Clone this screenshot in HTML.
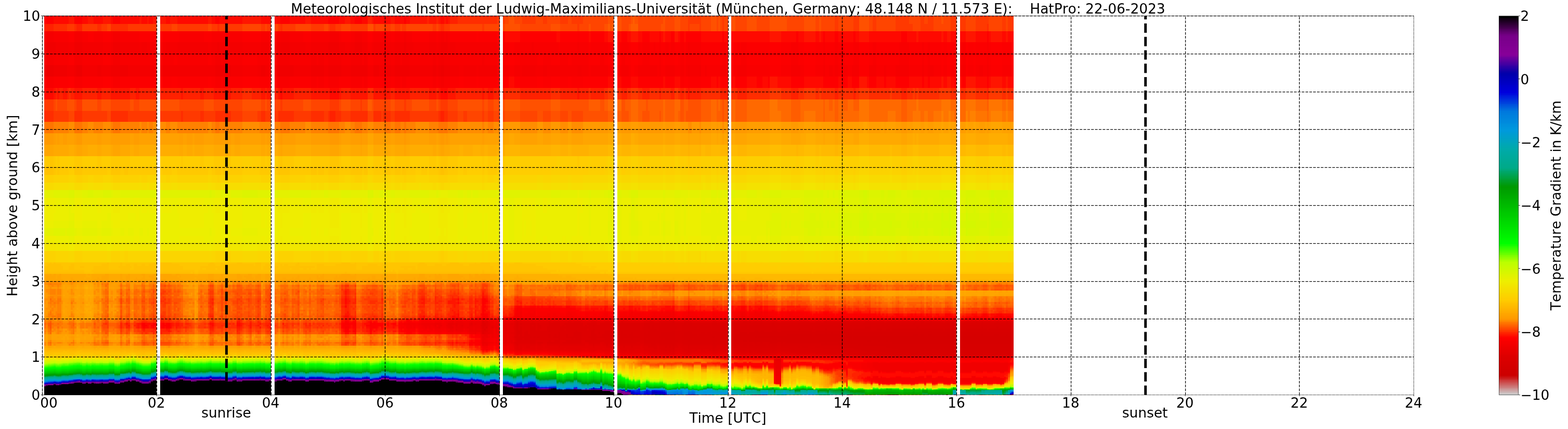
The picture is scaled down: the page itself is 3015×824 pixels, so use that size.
<!DOCTYPE html>
<html lang="de"><head><meta charset="utf-8"><title>HatPro 22-06-2023</title>
<style>
html,body{margin:0;padding:0;background:#fff}
body{width:3015px;height:824px;overflow:hidden}
svg{display:block}
text{font-family:"DejaVu Sans","Liberation Sans",sans-serif;font-size:26.39px;fill:#000;font-kerning:none;font-variant-ligatures:none}
</style></head><body>
<svg width="3015" height="824" viewBox="0 0 3015 824">
<rect width="3015" height="824" fill="#fff"/>
<g shape-rendering="crispEdges">
<g transform="translate(84.8 758.5) scale(3.66250 -0.91000)" stroke-width="2" fill="none">
<path stroke="#d70000" d="M458 91h1m33 0h1m7 0h1M460 93h2m1 0h3m8 0h1m17 0h1m6 0h2m4 0h1M448 95h14m1 0h3m2 0h2m1 0h1m1 0h3m2 0h1m5 0h24"/>
<path stroke="#d80000" d="M450 87h1m4 0h4m1 0h2m1 0h3m8 0h1m12 0h3m1 0h2m6 0h2m1 0h1m2 0h2M442 89h1m2 0h65M432 91h2m4 0h1m1 0h18m1 0h33m1 0h7m1 0h9M431 93h3m4 0h22m2 0h1m3 0h8m1 0h17m1 0h6m2 0h4m1 0h4M427 95h1m1 0h19m14 0h1m3 0h2m2 0h1m1 0h1m3 0h2m1 0h5m24 0h2"/>
<path stroke="#da0000" d="M465 85h1m26 0h1M431 87h3m4 0h3m1 0h8m1 0h4m4 0h1m2 0h1m3 0h8m1 0h12m3 0h1m2 0h6m2 0h1m1 0h2m2 0h3M427 89h15m1 0h2M420 91h1m1 0h10m2 0h4m1 0h1M420 93h11m3 0h4M413 95h1m3 0h10m1 0h1"/>
<path stroke="#db0000" d="M442 85h1m2 0h20m1 0h13m4 0h9m1 0h16M420 87h1m4 0h6m3 0h4m3 0h1M417 89h10M409 91h11m1 0h1M407 93h1m1 0h11M392 95h2m1 0h7m3 0h8m1 0h3"/>
<path stroke="#dc0000" d="M446 83h64M427 85h2m1 0h4m2 0h6m1 0h2m34 0h4m26 0h1M410 87h6m1 0h3m1 0h4M396 89h4m5 0h12M370 91h2m2 0h4m4 0h1m9 0h10m1 0h6M367 93h1m2 0h1m2 0h1m1 0h2m5 0h1m8 0h16m1 0h1M360 95h2m2 0h5m1 0h15m2 0h5m2 0h1m7 0h3"/>
<path stroke="#de0000" d="M436 83h10M420 85h7m2 0h1m4 0h2M395 87h7m3 0h5m6 0h1M366 89h3m1 0h2m1 0h12m4 0h1m1 0h5m4 0h5M330 91h1m7 0h1m20 0h3m1 0h7m2 0h2m4 0h4m1 0h3m1 0h5m10 0h1M326 93h1m1 0h1m1 0h1m7 0h1m12 0h1m8 0h2m1 0h4m1 0h2m1 0h2m1 0h1m2 0h5m1 0h8M324 95h7m5 0h4m2 0h1m2 0h1m3 0h1m1 0h3m1 0h1m1 0h3m2 0h2m5 0h1m15 0h2"/>
<path stroke="#e10000" d="M440 81h70M425 83h11M408 85h12M330 87h1m29 0h1m3 0h1m1 0h3m1 0h15m2 0h1m1 0h6m7 0h3M325 89h4m1 0h1m6 0h3m11 0h2m5 0h8m3 0h1m2 0h1m12 0h4m1 0h1M319 91h3m1 0h7m5 0h3m1 0h3m1 0h1m1 0h3m3 0h3m1 0h4m3 0h1m23 0h1M317 93h1m1 0h3m1 0h3m1 0h1m1 0h1m1 0h1m3 0h3m1 0h4m2 0h2m1 0h3m1 0h8m2 0h1M303 95h3m1 0h3m5 0h9m7 0h5m4 0h2m1 0h2m1 0h3m1 0h1m3 0h1m1 0h1"/>
<path stroke="#e40000" d="M430 81h10M414 83h11M370 85h1m5 0h1m5 0h1m12 0h7m3 0h3M324 87h6m6 0h4m11 0h2m5 0h2m1 0h3m1 0h1m3 0h1m15 0h2m1 0h1M317 89h8m4 0h1m1 0h1m3 0h2m3 0h11m2 0h5M303 91h1m1 0h1m2 0h1m1 0h1m4 0h4m3 0h1m8 0h4m7 0h1m1 0h1m3 0h3m3 0h1M303 93h3m1 0h3m1 0h1m3 0h2m1 0h1m3 0h1m9 0h3m8 0h2m2 0h1M270 95h1m8 0h2m6 0h3m4 0h4m1 0h4m3 0h1m3 0h5"/>
<path stroke="#e60000" d="M434 79h76M420 81h10M403 83h11M330 85h1m7 0h1m21 0h1m5 0h3m2 0h5m1 0h5m1 0h2m2 0h1m2 0h5m7 0h3M315 87h1m1 0h7m7 0h2m1 0h2m4 0h11m2 0h5M303 89h2m2 0h6m1 0h3m15 0h3M301 91h2m1 0h1m1 0h2m1 0h1m1 0h4M288 93h1m8 0h1m1 0h4m3 0h1m3 0h1m1 0h3M248 95h3m4 0h3m1 0h3m2 0h6m1 0h8m2 0h3m1 0h2m3 0h4m4 0h1"/>
<path stroke="#e90000" d="M386 71h1M384 73h3M384 75h3M384 77h3M383 79h4m45 0h2M411 81h9M393 83h10M321 85h1m1 0h7m6 0h2m1 0h1m11 0h2m5 0h2m1 0h5m3 0h1m16 0h1m1 0h2M303 87h10m1 0h1m1 0h1m16 0h1M301 89h2m2 0h2m6 0h1M287 91h2m5 0h4m1 0h2M270 93h1m4 0h1m1 0h5m4 0h2m1 0h1m3 0h4m1 0h1M247 95h1m3 0h4m3 0h1m3 0h2m20 0h1"/>
<path stroke="#ec0000" d="M386 55h1M384 57h3M384 59h3M384 61h3M384 63h3M384 65h3M384 67h3M384 69h3M384 71h2M383 77h1m52 0h70M429 79h3M401 81h10M366 83h27M315 85h1m1 0h4m1 0h1m8 0h1m3 0h1m4 0h10m3 0h5m27 0h1M301 87h2m10 0h1M294 89h4m1 0h2M270 91h1m7 0h4m4 0h1m2 0h5m4 0h1M248 93h1m6 0h3m1 0h1m4 0h6m2 0h3m1 0h1m5 0h4m4 0h3"/>
<path stroke="#e00" d="M386 39h1M384 41h3M384 43h3M384 45h3M384 47h3M384 49h3M384 51h3M384 53h3M384 55h2M383 63h1M383 65h1M383 67h1M383 69h1M383 73h1M383 75h1M434 77h2m70 0h1M423 79h6M391 81h10M331 83h35M303 85h3m1 0h4m1 0h1m1 0h1m1 0h1m15 0h3m15 0h1M294 87h4m1 0h2M287 89h4m1 0h1m5 0h1M248 91h1m16 0h5m2 0h1m1 0h4m4 0h4M247 93h1m1 0h2m1 0h3m3 0h1m1 0h4m7 0h1M241 95h2m1 0h3"/>
<path stroke="#f10000" d="M386 23h1M384 25h3M384 27h3M384 29h3M384 31h3M384 33h3M384 35h3M384 37h3M384 39h2M438 49h1m3 0h2m11 0h2m5 0h1m3 0h2m6 0h2m1 0h10m5 0h1m9 0h2M438 51h1m1 0h7m3 0h9m3 0h1m3 0h3m3 0h4m1 0h10m2 0h4m2 0h3m2 0h5M437 53h69M436 55h70M436 57h70M383 59h1m51 0h71M383 61h1m51 0h71M435 63h71M435 65h71M435 67h71M383 71h1M431 77h3m73 0h1M387 79h1m27 0h8M361 81h30M311 83h20M301 85h2m3 0h1m4 0h1m1 0h1M287 87h3m8 0h1M270 89h1m4 0h7m1 0h1m2 0h1m4 0h1m1 0h1M247 91h1m1 0h2m4 0h10m6 0h1m1 0h1M251 93h1"/>
<path stroke="#f40000" d="M386 21h1M385 23h1M438 27h1m3 0h2m11 0h2m5 0h1m3 0h2m6 0h2m1 0h10m5 0h1m9 0h1M438 29h1m1 0h7m3 0h9m3 0h1m3 0h3m3 0h4m1 0h10m2 0h4m2 0h3m2 0h3M437 31h26m3 0h37M436 33h67M436 35h2m1 0h3m2 0h11m2 0h5m1 0h3m2 0h7m1 0h1m10 0h15M436 37h2m1 0h1m7 0h3m9 0h3m1 0h3m3 0h3m4 0h1m10 0h2m4 0h2m3 0h2M463 39h3M440 49h2m2 0h3m25 0h2m15 0h3m3 0h3M439 51h1m36 0h1m16 0h2m3 0h2m5 0h1M434 53h3M383 55h1m50 0h2M383 57h1m49 0h3M432 59h3M432 61h3M432 63h3m71 0h1M432 65h3m71 0h1M432 67h3m71 0h1M435 69h3m9 0h3m9 0h3m1 0h3m3 0h3m4 0h1m10 0h2m4 0h2m3 0h2M436 75h70M387 77h1m39 0h4m77 0h2M365 79h18m5 0h27M326 81h35M305 83h6M288 85h1m7 0h1m3 0h1M270 87h1m6 0h5m4 0h1m3 0h4M248 89h1m16 0h1m2 0h2m2 0h1m1 0h1m7 0h1m1 0h2M251 91h4M242 93h1m2 0h2M239 95h1m3 0h1"/>
<path stroke="#f60000" d="M440 27h2m2 0h3m3 0h5m13 0h1m3 0h2m15 0h3m3 0h3m2 0h2M439 29h1m7 0h3m9 0h3m7 0h3m4 0h1m16 0h2m3 0h2m3 0h1M436 31h1m26 0h3m37 0h1M435 33h1m67 0h1M435 35h1m2 0h1m3 0h2m11 0h2m5 0h1m3 0h2m7 0h1m1 0h10m15 0h1M435 37h1m21 0h2M437 39h1m49 0h2M434 49h1m15 0h5m13 0h1M434 51h1m12 0h3m9 0h3M383 53h1m49 0h1M430 55h4M429 57h4M429 59h3M429 61h3m74 0h1M429 63h3M429 65h3M429 67h3M439 69h3m2 0h3m3 0h5m2 0h2m9 0h1m3 0h2m15 0h3m3 0h3m2 0h2m2 0h2M432 75h4m70 0h1M412 77h15M356 79h9M310 81h16M299 83h6M287 85h1m1 0h1m4 0h2m1 0h3M265 87h1m1 0h3m2 0h1m1 0h3m5 0h4M247 89h1m1 0h2m4 0h1m1 0h1m1 0h2m2 0h2m1 0h2m3 0h1m1 0h1M242 91h1M241 93h1m2 0h1M232 95h1m7 0h1"/>
<path stroke="#f90000" d="M438 25h1m1 0h7m8 0h2m5 0h1m3 0h2m4 0h4m1 0h10m2 0h4m2 0h3m4 0h1M439 27h1m17 0h2m17 0h1m16 0h2m3 0h2m3 0h1M434 29h1m1 0h2m25 0h3m21 0h2M434 31h2M434 33h1M503 35h1M433 37h1m20 0h1m45 0h2M435 39h2m22 0h3m7 0h3M383 43h1M383 45h1M383 47h1m54 0h1m3 0h2m11 0h2m5 0h1m3 0h2m9 0h10m15 0h2M383 49h1m37 0h1m35 0h2m41 0h2M383 51h1m37 0h1m11 0h1m2 0h2m31 0h3m15 0h2M421 53h1m8 0h3M421 55h1m7 0h1M421 57h1m3 0h4m77 0h1M425 59h4m77 0h1M387 61h1m32 0h1m3 0h5M387 63h1m32 0h1m1 0h7M387 65h1m32 0h1m1 0h7M387 67h1m32 0h1m1 0h7m78 0h3M423 69h1m8 0h3m3 0h1m3 0h2m11 0h2m5 0h1m3 0h2m6 0h2m1 0h10m5 0h1m9 0h2M438 73h1m3 0h2m11 0h2m5 0h1m3 0h2m6 0h2m1 0h10m5 0h1m9 0h2M387 75h1m33 0h1m7 0h3M363 77h20m5 0h24M348 79h8M304 81h6M293 83h6M278 85h4m4 0h1m3 0h4M247 87h4m5 0h2m1 0h1m4 0h1m1 0h1m4 0h1m1 0h1M252 89h2m2 0h1m1 0h1m2 0h2M241 91h1m2 0h3M243 93h1M230 95h1"/>
<path stroke="#fc0000" d="M438 23h1m3 0h2m11 0h2m5 0h1m3 0h2m11 0h8m15 0h1M450 25h5m2 0h2m9 0h1m31 0h2M434 27h1m2 0h1m9 0h3m9 0h3m7 0h3m15 0h2M383 31h1m49 0h1M383 33h1m49 0h1M383 35h1m48 0h3m69 0h1M383 37h1m48 0h1m17 0h4m14 0h1M383 39h1m63 0h3M383 41h1M421 45h1M421 47h1m22 0h3m27 0h2m16 0h1M439 49h1m64 0h2M430 51h3m2 0h1m27 0h3M429 53h1m76 0h1M410 55h2m14 0h3m77 0h1M410 57h4m6 0h1m3 0h1M387 59h1m22 0h4m1 0h1m3 0h3m1 0h2M410 61h10m2 0h2M410 63h10M414 65h6m87 0h2M414 67h6M387 69h1m34 0h1m1 0h1m3 0h4m74 0h1M434 71h72M421 73h1m12 0h4m1 0h3m2 0h11m2 0h5m1 0h3m2 0h6m2 0h1m10 0h5m1 0h9m2 0h3M411 75h10m1 0h7m78 0h3M360 77h3M325 79h23M299 81h5M287 83h6M270 85h1m1 0h1m2 0h3m4 0h4M252 87h4m2 0h1m1 0h4M242 89h1m8 0h1m2 0h1M243 91h1M239 93h2M231 95h1m1 0h1m4 0h1"/>
<path stroke="#fe0000" d="M440 23h2m2 0h3m25 0h4m2 0h1m10 0h4m2 0h3M383 25h1m55 0h1m36 0h1m16 0h2m3 0h2m3 0h1M383 27h1m52 0h1m26 0h3M383 29h1m51 0h1M432 31h1M431 33h2m71 0h1M431 35h1M440 37h2m2 0h3m25 0h2m15 0h3m3 0h3m6 0h1M439 39h1m36 0h1m16 0h2m3 0h2M463 41h3M421 43h1M434 47h1m5 0h2m9 0h3m14 0h1m3 0h2m15 0h3m3 0h3M431 49h1m44 0h1m16 0h2m3 0h2m6 0h1M506 51h1M411 53h1m14 0h3M409 55h1m2 0h2m5 0h2m4 0h1M407 57h3m5 0h2m2 0h1M369 59h1m2 0h5m3 0h3m9 0h1m10 0h2m2 0h3m4 0h1m1 0h3m3 0h1M364 61h3m2 0h1m1 0h6m1 0h1m1 0h3m5 0h3m1 0h1m10 0h7m11 0h1M363 63h14m1 0h1m1 0h3m5 0h3m1 0h3m1 0h1m3 0h10M362 65h21m5 0h21m3 0h2m95 0h1M362 67h2m3 0h2m1 0h2m5 0h3m8 0h4m1 0h10m2 0h2M377 69h1m1 0h1m11 0h1m3 0h1m1 0h3m17 0h2m6 0h3m81 0h1M387 71h1m42 0h4m72 0h1M387 73h1m42 0h4M392 75h1m10 0h2m2 0h4M356 77h4M307 79h18M293 81h6M281 83h6M248 85h1m16 0h1m1 0h3m1 0h1m1 0h2M242 87h1m8 0h1M241 89h1m2 0h2M239 91h2M235 95h1"/>
<path stroke="#ff0900" d="M384 23h1M434 25h1M431 29h1m1 0h1M430 31h2m72 0h1M430 33h1M429 35h2M429 37h1m1 0h1m2 0h1m3 0h1m3 0h2m11 0h2m5 0h1m3 0h2m6 0h2m1 0h10m5 0h1m9 0h2M432 39h3m3 0h1m1 0h7m3 0h9m3 0h1m3 0h3m3 0h4m1 0h10m2 0h4m2 0h3m2 0h4M421 41h1m12 0h29m3 0h38M434 43h71M435 45h71M435 47h3m1 0h1m7 0h4m3 0h1m2 0h5m1 0h3m3 0h3m4 0h1m10 0h2m4 0h2m3 0h4m2 0h2M430 49h1m1 0h2m1 0h3m9 0h3m9 0h3m1 0h3m3 0h3m15 0h2M426 51h4M409 53h2m1 0h2m5 0h2m4 0h1M415 55h2m7 0h1M387 57h1m26 0h1m2 0h2m3 0h2M360 59h2m3 0h2M360 61h2m1 0h1m29 0h2M356 63h7m34 0h3m21 0h1m85 0h2M356 65h6m47 0h3M364 67h3m2 0h1m2 0h5m15 0h1m10 0h2M370 69h1m25 0h1m3 0h3m12 0h2m2 0h2m86 0h2M421 71h9M413 73h1m5 0h2m1 0h8m77 0h1M364 75h19m5 0h4m1 0h10m2 0h2M352 77h4M300 79h7M287 81h6M275 83h6M247 85h1m1 0h2m4 0h3m1 0h6m1 0h1M241 87h1m2 0h3M243 89h1m2 0h1M230 93h1m1 0h1M229 95h1m4 0h1m2 0h1"/>
<path stroke="#ff1500" d="M386 19h1M450 23h4m14 0h1m8 0h1m25 0h1M447 25h3M435 27h1M430 29h1m1 0h1m71 0h1M429 33h1M427 35h2m76 0h1M427 37h2m1 0h1m74 0h1M421 39h1m5 0h5m72 0h1M428 41h6m70 0h2M429 43h5m71 0h1M429 45h6M430 47h4m72 0h1M427 49h1m1 0h1M409 51h5m6 0h1m4 0h1M415 53h1m8 0h1M407 55h2m5 0h1m2 0h2m4 0h1M360 57h2m18 0h3m9 0h1m10 0h2M364 59h1m6 0h1M357 61h3m2 0h1m144 0h1M355 63h1m23 0h1m11 0h1m117 0h1M351 65h5m65 0h1M351 67h4m2 0h3m20 0h3m24 0h2m3 0h2m7 0h1M367 69h2m19 0h3m2 0h2m19 0h1m6 0h1M414 71h7m86 0h3M409 73h4m1 0h5m89 0h2M360 75h4M349 77h3M297 79h3M281 81h6M268 83h7M242 85h1m8 0h4m3 0h1M243 87h1M230 91h1m1 0h1M231 93h1m1 0h1m4 0h1M236 95h1"/>
<path stroke="#ff2100" d="M434 23h1m19 0h1M459 25h3M431 27h1m1 0h1M428 31h2M426 33h3m76 0h1M425 35h2M421 37h1m3 0h2M424 39h3m78 0h1M424 41h4M424 43h5M424 45h5M425 47h5M413 49h1m6 0h1m5 0h1m1 0h1M415 51h1m3 0h1m4 0h1M408 53h1m5 0h1m1 0h3M387 55h1m34 0h1M373 57h4M388 59h3m2 0h2m10 0h2M345 61h3m7 0h2m10 0h2m27 0h1m3 0h3m105 0h1M345 63h3m29 0h1m17 0h1M345 65h6M348 67h3m4 0h2m4 0h1m47 0h3M362 69h2m14 0h1m26 0h2m3 0h4M395 71h1m14 0h4M392 73h1m10 0h2m2 0h2M357 75h3M345 77h4M294 79h3M276 81h5M262 83h6M244 85h1m1 0h1M239 87h1M239 89h2M231 91h1m6 0h1M235 93h1m1 0h1"/>
<path stroke="#ff2d00" d="M421 23h1m78 0h2M421 25h1m15 0h1m31 0h3M421 27h1m8 0h1m1 0h1m71 0h1M421 29h1m4 0h2m1 0h1M421 31h1m3 0h3M421 33h1m2 0h2M421 35h1m2 0h1M420 37h1m2 0h2M420 39h1m1 0h2M420 41h1m1 0h2M420 43h1m1 0h2M420 45h1m1 0h2m82 0h1M420 47h1m1 0h3M410 49h3m6 0h1m2 0h4M414 51h1m1 0h1m1 0h1m3 0h2M387 53h1m19 0h1m14 0h2M392 55h1m10 0h2M369 57h1m2 0h1M356 59h2m1 0h1m18 0h1m128 0h2M370 61h1m138 0h1M340 63h1m11 0h1m1 0h1M337 65h4M341 67h4m15 0h1M353 69h2m9 0h3m4 0h1m20 0h1m10 0h2m2 0h3M377 71h1m10 0h7m1 0h14M365 73h2m2 0h1m2 0h5m3 0h3m5 0h4m1 0h10m2 0h2M355 75h2M312 77h33M290 79h4M270 81h6M256 83h6M241 85h1m1 0h1m1 0h1M240 87h1M230 89h1M233 91h1M229 93h1m4 0h1M226 95h3"/>
<path stroke="#ff3900" d="M421 19h1M421 21h1m16 0h1m16 0h1m6 0h1m3 0h2m11 0h8M457 23h2M436 25h1m50 0h2M420 29h1m7 0h1M419 31h2m3 0h1m80 0h1M419 33h2M418 35h3m1 0h2M418 37h2m2 0h1M417 39h3M417 41h3M416 43h4m86 0h1M416 45h4M411 47h3m2 0h4M409 49h1m5 0h4M417 51h1M361 55h1m18 0h3M365 57h2m38 0h2m100 0h1M347 59h1m7 0h1m2 0h1m150 0h1M391 61h1m5 0h3M338 63h2m8 0h4m1 0h1M327 65h5m3 0h2m4 0h4M331 67h9M342 69h3m5 0h3m5 0h2m9 0h1m2 0h5m3 0h3M364 71h13m1 0h5M360 73h2m1 0h2m2 0h2m1 0h2m5 0h3M353 75h2M308 77h4M287 79h3M264 81h6M242 83h14M230 87h1M231 89h1M229 91h1m5 0h1m1 0h1M236 93h1M224 95h2"/>
<path stroke="#ff4500" d="M443 21h1m12 0h1m17 0h2m16 0h1M431 25h1m1 0h1M416 29h1m2 0h1m5 0h1M416 31h3M416 33h3m3 0h2M416 35h2M416 37h2M416 39h1m89 0h1M416 41h1m89 0h1M415 43h1M413 45h1m1 0h1M410 47h1m4 0h1M414 49h1M387 51h1m19 0h2M403 53h2M360 55h1m11 0h5M364 57h1m6 0h1m16 0h3m2 0h2m113 0h1M345 59h2m15 0h2m32 0h1m3 0h3M340 61h1m38 0h1m15 0h1M321 63h2m2 0h1m3 0h1m5 0h3M322 65h5m5 0h3M323 67h2m1 0h5m9 0h1m5 0h2M334 69h1m6 0h1m6 0h2m5 0h3m2 0h2M360 71h4M357 73h3m2 0h1M350 75h3M305 77h3M284 79h3M258 81h6M240 85h1M232 89h1m5 0h1M234 91h1M226 93h1m1 0h1M223 95h1"/>
<path stroke="#ff5100" d="M442 21h1m59 0h1M430 25h1m32 0h3M415 27h1m3 0h2m5 0h2m1 0h1M415 29h1m89 0h1M415 31h1M415 33h1M415 35h1M415 37h1M415 39h1M415 41h1M411 45h2M409 47h1m4 0h1M380 53h3m9 0h1M369 55h1m137 0h1M359 57h1m18 0h1m130 0h1M367 59h2m1 0h1M352 61h1m24 0h1M318 63h3m6 0h2m1 0h1M316 65h6M314 67h4m4 0h1m2 0h1m19 0h1M331 69h3M355 71h5M355 73h2M313 75h10m2 0h1m20 0h4M302 77h3M282 79h2M250 81h8M241 83h1M239 85h1M231 87h3m4 0h1M229 89h1m3 0h1M236 91h1M227 93h1"/>
<path stroke="#ff5d00" d="M489 21h1m5 0h3M439 23h1m53 0h2m3 0h2M432 25h1m2 0h1M416 27h1m11 0h1M417 29h2m5 0h1M414 37h1m91 0h1M414 39h1M414 41h1M413 43h2M410 45h1m3 0h1M387 49h1m19 0h2M403 51h2M361 53h1m145 0h1M364 55h3m4 0h1m16 0h3m14 0h2m101 0h1M346 57h2m7 0h4m37 0h1M391 59h1m5 0h3M322 61h1m2 0h1m12 0h2m8 0h4m1 0h2M326 63h1m4 0h1M313 65h3M313 67h1m4 0h4M314 69h4m5 0h2m1 0h3m1 0h1m4 0h5M351 71h4M351 73h4M311 75h2m10 0h2m1 0h15m4 0h1M297 77h5M275 79h7M242 81h8M240 83h1M229 87h1M235 89h1m1 0h1M224 91h1m1 0h3M223 93h3M222 95h1"/>
<path stroke="#ff6900" d="M440 21h1m4 0h2m21 0h1m4 0h1m16 0h1M414 27h1m10 0h1M414 29h1M414 31h1M414 33h1M414 35h1m91 0h1M413 39h1M413 41h1M411 43h2M409 45h1M392 51h1M360 53h1m8 0h1m2 0h5m131 0h1M393 55h2m114 0h1M345 57h1m16 0h2m3 0h2m31 0h3M340 59h1m38 0h1m15 0h1M318 61h4m7 0h1m5 0h3M313 63h1m3 0h1m5 0h2m7 0h3m6 0h4M312 65h1M312 67h1M313 69h1m4 0h5m2 0h1m3 0h1m10 0h1m6 0h1M314 71h2m31 0h4M346 73h5M310 75h1m30 0h4M293 77h4M260 79h15M230 85h2m6 0h1M235 87h1m1 0h1M226 89h1m1 0h1m5 0h1m1 0h1M223 91h1m1 0h1M216 95h6"/>
<path stroke="#ff7500" d="M434 21h1m6 0h1m8 0h1m2 0h1m18 0h1m18 0h1M383 23h1m47 0h1m17 0h1M415 25h1m3 0h1m9 0h1M413 27h1m91 0h1M413 29h1M413 31h1m9 0h1m82 0h1M413 33h1m92 0h1M413 35h1M413 37h1M411 41h2M410 43h1M387 47h1m20 0h1M361 51h1m18 0h3m124 0h1M365 53h2m21 0h3m14 0h2m102 0h1M357 55h1m1 0h1m18 0h1M370 57h1M325 59h1m51 0h1M326 61h3m1 0h1M312 63h1m3 0h1M311 65h1M311 67h1M312 69h1m32 0h2M313 71h1m2 0h31M314 73h32M308 75h2M289 77h4M249 79h11M241 81h1M239 83h1M232 85h2M226 87h1m7 0h1M224 89h1m2 0h1M221 93h1M213 95h3"/>
<path stroke="#ff8100" d="M444 21h1m6 0h2m1 0h1M413 23h1m33 0h2m10 0h3M413 25h2m11 0h2M422 31h1M412 37h1M412 39h1M409 43h1M407 47h1M392 49h1m10 0h2m102 0h1M360 51h1m8 0h1m2 0h5m131 0h2M364 53h1m6 0h1m21 0h2M345 55h3m7 0h2m1 0h1m4 0h1m32 0h1m3 0h3M391 57h1m5 0h3M320 59h3m15 0h2m9 0h1m2 0h1M313 61h1m17 0h1M311 63h1m2 0h2M310 65h1M309 67h2M309 69h1m1 0h1M312 71h1M312 73h2M307 75h1M285 77h4M242 79h7M238 83h1M224 87h2m1 0h2M223 89h1m1 0h1M219 91h4M218 93h3m1 0h1M212 95h1"/>
<path stroke="#ff8d00" d="M421 17h1M413 21h1m89 0h1M412 23h1m17 0h1m38 0h1M412 25h1m91 0h1M412 27h1m11 0h1M412 29h1M412 31h1M412 33h1M412 35h1M387 37h1M387 39h1m23 0h1M387 41h1m22 0h1M387 43h1M387 45h1m20 0h1M507 47h1M380 49h3m125 0h1M365 51h2m38 0h2M359 53h1m18 0h1M362 55h1m4 0h2M340 57h1m54 0h1M318 59h2m9 0h1m5 0h3m10 0h1m1 0h2m1 0h2M312 61h1M310 63h1M308 65h1M307 67h2M310 69h1M311 71h1M311 73h1M303 75h2m1 0h1M261 77h24M240 81h1M229 85h1m4 0h2m1 0h1M223 87h1m12 0h1M216 91h3M213 93h5M207 95h1m3 0h1"/>
<path stroke="#f90" d="M466 19h1m15 0h1m2 0h1M385 21h1m71 0h1M470 23h1m5 0h1M425 25h1m2 0h1M387 29h1M387 31h1m23 0h1M387 33h1m23 0h1M387 35h1m23 0h1M411 37h1M410 39h1M409 41h1M407 45h1m99 0h1M403 47h2m103 0h1M360 49h2m147 0h1M364 51h1m6 0h1m16 0h3M347 53h1m8 0h3M370 55h1M325 57h1m53 0h1M326 59h3m1 0h1M311 61h1m21 0h1m7 0h4M308 63h1M307 65h1m1 0h1M308 69h1M309 71h2M310 73h1M305 75h1M252 77h2m4 0h3M241 79h1M237 83h1M220 89h1m1 0h1M213 91h3M205 95h2m1 0h1"/>
<path stroke="#ff9d00" d="M462 19h1m4 0h1m15 0h2M411 21h2m45 0h1M411 23h1m21 0h1m37 0h1M411 25h1m4 0h1M387 27h1m23 0h1M411 29h1M409 39h1M408 43h1m98 0h1M508 45h1M392 47h1m116 0h1M369 49h1m2 0h5M393 51h2M345 53h2m8 0h1m6 0h2m32 0h1m3 0h3M340 55h1m56 0h3M329 57h1m8 0h2m12 0h1m24 0h1M313 59h1m17 0h1M310 61h1m3 0h2m16 0h1m1 0h1M307 63h1M306 67h1M305 69h3M308 73h1M278 75h3m18 0h4M246 77h4m1 0h1m5 0h1M239 81h1M224 85h5m7 0h1M219 87h1m1 0h1M214 89h1m1 0h4m1 0h1M212 91h1M211 93h2M209 95h2"/>
<path stroke="#ffa100" d="M455 19h1M432 23h1m31 0h1M387 25h1m32 0h1M410 27h1M410 29h1m12 0h1m82 0h1M410 31h1M410 33h1M410 35h1M410 37h1M507 41h1M407 43h1m100 0h1M509 45h1M361 47h1m18 0h3M364 49h3m38 0h2M357 51h1m1 0h1m18 0h1M367 53h2M391 55h1M336 57h1m11 0h4m1 0h2M308 61h1M304 65h1m1 0h1M304 67h1M306 71h3M307 73h1m1 0h1M265 75h13m3 0h1m8 0h2m1 0h6M244 77h2m8 0h1M223 85h1M216 87h3m1 0h1m1 0h1M213 89h1m1 0h1M211 91h1M206 93h4M199 95h6"/>
<path stroke="#ffa500" d="M411 19h1m1 0h1m66 0h2M410 21h1m67 0h1m21 0h2M410 23h1m4 0h1m49 0h1M410 25h1M417 27h2M409 35h1M409 37h1M408 41h1m99 0h1M509 43h1M403 45h2M360 47h1m8 0h1m2 0h5M371 49h1m16 0h3M346 51h2m7 0h2m1 0h1m4 0h1M370 53h1M379 55h1m15 0h1M313 57h1m5 0h1m1 0h2m4 0h2m1 0h1M310 59h1m30 0h3M307 61h1m9 0h1m5 0h1M304 63h1m4 0h1M303 65h1M299 67h5m1 0h1M305 71h1M259 75h6m19 0h6m2 0h1M250 77h1M230 83h4M213 87h3M212 89h1M205 91h6M205 93h1m4 0h1M198 95h1"/>
<path stroke="#ffa900" d="M410 19h1m1 0h1m25 0h1m57 0h1M384 21h1M414 23h1m4 0h1m16 0h2m25 0h1M409 25h1M409 27h1M409 29h1M409 31h1M409 33h1M407 41h1M380 45h3m9 0h1M365 47h2m38 0h2M359 49h1m18 0h1m14 0h2M345 51h1m16 0h1m4 0h2m27 0h1m3 0h3M340 53h1m56 0h3M338 55h2m12 0h1m24 0h1M318 57h1M308 59h1m2 0h1m21 0h1m10 0h1M324 61h1M303 63h1M286 67h4m1 0h1m3 0h1M293 69h2m1 0h3m3 0h3M273 73h8m23 0h1m1 0h1M258 75h1m23 0h2M227 83h3m4 0h1M218 85h5M212 87h1M207 89h5M203 91h2M199 93h6M190 95h3m2 0h3"/>
<path stroke="#ffad00" d="M411 17h1M486 19h1M409 21h1m67 0h1m20 0h1M409 23h1m16 0h1m60 0h2M408 33h1M408 35h1M408 37h1M408 39h1M509 41h1M403 43h2M360 45h2m11 0h4M364 47h1m6 0h1M356 49h3M370 51h1M329 55h1m19 0h1m1 0h1m1 0h2M310 57h1m9 0h1m5 0h1m10 0h1M307 59h1M304 61h1M306 63h1M290 65h2m7 0h4m2 0h1M282 67h4m4 0h1m2 0h2m1 0h3M295 69h1m3 0h3M304 71h1M267 73h6m8 0h1m21 0h1m1 0h1M251 75h3M255 77h2M240 79h1M238 81h1M225 83h2M213 85h1m1 0h3M207 87h5M205 89h2M199 91h4M197 93h2M33 95h1m15 0h1m1 0h3m1 0h4m2 0h6m3 0h1m16 0h2m6 0h1m5 0h3m4 0h1m3 0h1m5 0h2m36 0h8m4 0h8m1 0h1m3 0h1m4 0h4m3 0h2"/>
<path stroke="#ffb100" d="M409 19h1m40 0h1m23 0h2m3 0h1m15 0h1m1 0h1M408 23h1M408 25h1M408 27h1M408 29h1M408 31h1M380 37h3M380 39h3m124 0h1M376 41h1m1 0h1m1 0h3M375 43h2m1 0h1m1 0h3M369 45h1m2 0h1m5 0h1m26 0h2M359 47h1m18 0h2m8 0h3M347 49h1m7 0h1m6 0h2m13 0h1m1 0h1m21 0h2M377 51h1m1 0h1M377 53h1m1 0h1m11 0h1M313 55h1M308 57h1m26 0h1M314 59h1M303 61h1m12 0h1M282 65h6m7 0h1M286 69h6M280 71h1m16 0h2m3 0h2M263 73h4M246 75h2M242 77h2M220 83h4m11 0h1M211 85h2m1 0h1M206 87h1M200 89h5M197 91h2M62 93h1m2 0h1m36 0h1m54 0h3m2 0h2m7 0h1m15 0h10M2 95h2m11 0h1m10 0h7m4 0h9m1 0h2m1 0h1m3 0h1m4 0h2m6 0h3m1 0h8m2 0h6m2 0h6m1 0h5m3 0h4m1 0h3m1 0h5m2 0h3m1 0h10m1 0h21m8 0h4m8 0h1m1 0h3m1 0h4"/>
<path stroke="#ffb500" d="M410 17h1M434 19h1m8 0h1m12 0h1m32 0h1m2 0h1m9 0h1M408 21h1m22 0h1m17 0h1m43 0h2M387 23h1m39 0h1m7 0h1M505 25h1M376 27h1m3 0h3M376 29h1m3 0h3M376 31h1m1 0h1m1 0h3m24 0h1M376 33h1m1 0h1m1 0h3m24 0h1M375 35h2m1 0h5m24 0h1M374 37h6m27 0h1M374 39h6m23 0h2m2 0h1M372 41h4m1 0h1m1 0h1m12 0h1m10 0h2M360 43h2m10 0h3m2 0h1m1 0h1m12 0h1m12 0h2M364 45h3m4 0h1m5 0h1m1 0h1m8 0h3m2 0h2M356 47h2m19 0h1m15 0h2m1 0h1m3 0h3M345 49h2m20 0h2m1 0h1m25 0h5M340 51h1m50 0h1m3 0h1m1 0h3M338 53h2m12 0h1m42 0h1M327 55h1m20 0h1M307 57h1m33 0h4M304 59h1m7 0h1M290 63h2m7 0h4M289 65h1m3 0h1m2 0h3M282 69h4m6 0h1M272 71h6m3 0h1m10 0h5m2 0h3M259 73h4m27 0h2m7 0h4M241 77h1M230 81h4M218 83h2m4 0h1m11 0h1M209 85h2M200 87h6M197 89h3M52 91h1m4 0h1m3 0h2m1 0h2m22 0h1m12 0h2m55 0h2m2 0h2m7 0h1m15 0h10M30 93h1m1 0h2m6 0h1m2 0h2m2 0h15m1 0h2m1 0h7m1 0h2m1 0h1m8 0h8m1 0h7m1 0h2m1 0h14m5 0h1m1 0h2m1 0h1m2 0h1m2 0h4m5 0h5m3 0h4m3 0h2m3 0h6m1 0h7m1 0h7M0 95h2m2 0h11m1 0h10m8 0h3m9 0h1m32 0h2m42 0h1m10 0h1"/>
<path stroke="#ffb900" d="M409 17h1M440 19h1m1 0h1m3 0h1m21 0h1m4 0h1m16 0h1M439 21h1m20 0h1m38 0h1M407 23h1m21 0h1M380 25h2m25 0h1m16 0h1M375 27h1m31 0h1M374 29h2m2 0h1m28 0h1m14 0h1M374 31h2m27 0h2M373 33h3m16 0h1m10 0h4M373 35h2m17 0h1m10 0h4M372 37h2m14 0h3m1 0h3m7 0h5M371 39h3m14 0h3m1 0h3m1 0h1m3 0h3m2 0h2m101 0h1M369 41h1m1 0h1m16 0h3m2 0h2m1 0h7m2 0h2M366 43h1m2 0h1m1 0h1m16 0h4m1 0h10M370 45h1m20 0h1m3 0h8M355 47h1m6 0h2m3 0h2m1 0h1m20 0h1m3 0h1m1 0h3M391 49h1m3 0h1M351 53h1m1 0h2M308 55h1m16 0h1m2 0h1m21 0h1M331 57h1M303 59h1m11 0h1M283 63h1m1 0h1m9 0h1m9 0h1M281 69h1M269 71h3m6 0h1m7 0h6M258 73h1m23 0h8m2 0h7M245 75h1m2 0h1M226 81h1m2 0h1m7 0h1M217 83h1M197 87h3M65 89h1m92 0h1m31 0h2m4 0h1M30 91h4m6 0h2m1 0h2m2 0h5m1 0h4m1 0h3m2 0h1m2 0h12m4 0h1m3 0h2m1 0h12m2 0h2m1 0h14m5 0h3m2 0h1m1 0h2m2 0h4m1 0h1m1 0h7m4 0h4m2 0h2m2 0h7m1 0h7m1 0h7M0 93h10m1 0h1m1 0h4m3 0h10m1 0h1m2 0h6m1 0h2m2 0h2m26 0h1m2 0h1m1 0h8m8 0h1m10 0h1m14 0h5m1 0h1m2 0h1m1 0h2m1 0h2m4 0h5m5 0h3m11 0h1m14 0h1"/>
<path stroke="#ffbd00" d="M408 19h1m32 0h1m3 0h1m6 0h3m17 0h1m18 0h1M407 21h1m22 0h1m2 0h1m13 0h1m11 0h1m1 0h1M416 23h1m8 0h1M376 25h1m5 0h1m20 0h2m1 0h1M374 27h1m17 0h1m10 0h4M373 29h1m18 0h1m10 0h4M373 31h1m14 0h3m1 0h3m10 0h2M372 33h1m15 0h3m2 0h2m1 0h1m3 0h3M371 35h2m4 0h1m10 0h3m2 0h2m1 0h7M369 37h1m1 0h1m19 0h1m3 0h7M369 39h1m21 0h1m3 0h1m1 0h3M361 41h1m3 0h2m3 0h1m20 0h1m3 0h1M364 43h2m2 0h1m1 0h1M362 45h2m3 0h2M358 47h1M319 55h1m10 0h1m5 0h1M304 57h1M332 59h1m1 0h1M299 61h3m7 0h1M282 63h1m1 0h1M288 65h1m5 0h1M281 67h1M276 69h2m2 0h1M264 71h3m12 0h1m2 0h4M251 73h1M244 75h1m4 0h1m7 0h1M239 79h1M220 81h4m1 0h1m2 0h1M211 83h1m3 0h2M208 85h1M51 87h2m4 0h1m3 0h1m3 0h2m21 0h1m12 0h2m5 0h1m10 0h1m36 0h1m1 0h2m3 0h1m7 0h1m18 0h3m3 0h1M3 89h1m22 0h1m3 0h4m6 0h1m2 0h2m3 0h17m1 0h7m1 0h2m11 0h7m1 0h1m1 0h8m1 0h3m1 0h4m1 0h5m5 0h1m1 0h1m8 0h2m1 0h1m3 0h1m1 0h2m8 0h3m1 0h5m4 0h10m2 0h5m1 0h4m2 0h4M0 91h10m2 0h5m2 0h11m4 0h6m2 0h1m2 0h2m31 0h4m1 0h3m19 0h1m14 0h5m3 0h2m1 0h1m2 0h2m4 0h1m1 0h1m7 0h4m25 0h1M10 93h1m1 0h1m4 0h3"/>
<path stroke="#ffc100" d="M421 15h1M412 17h2m52 0h1m15 0h1M407 19h1m36 0h1m6 0h1m51 0h1M383 21h1m20 0h1m27 0h1m15 0h1m20 0h2m5 0h1M403 23h2m23 0h1m75 0h1M392 25h1m12 0h1M506 27h1M388 29h3m2 0h2M372 31h1m27 0h3M371 33h1m27 0h1M369 35h1m21 0h1M361 39h1m2 0h3m3 0h1M364 41h1m2 0h2M362 43h2m3 0h1M356 45h2m1 0h1M339 51h1m12 0h2M329 53h1m19 0h1M307 55h1m2 0h1m7 0h1m2 0h2m14 0h1m5 0h1M303 57h1m7 0h1m21 0h1M317 59h1m5 0h1M291 61h1m14 0h1M286 63h1m9 0h3M271 69h5M261 71h3m3 0h2M250 75h1m3 0h1M231 79h1M219 81h1m7 0h1M209 83h2m1 0h2M33 85h1m17 0h2m110 0h1m35 0h3m1 0h2m1 0h2M0 87h1m1 0h3m8 0h3m10 0h8m6 0h4m4 0h3m2 0h4m1 0h1m3 0h1m1 0h1m2 0h4m3 0h4m3 0h7m1 0h11m3 0h5m1 0h10m2 0h1m2 0h1m2 0h4m1 0h2m2 0h20m1 0h1m2 0h3m4 0h4m1 0h5m4 0h1m1 0h2m1 0h4m3 0h3M0 89h3m1 0h13m2 0h7m1 0h3m4 0h6m1 0h2m2 0h3m25 0h1m2 0h11m7 0h1m1 0h1m8 0h1m3 0h1m4 0h1m5 0h5m1 0h1m1 0h8m2 0h1m1 0h3m1 0h1m2 0h8m9 0h4m10 0h2m5 0h1M10 91h2m5 0h2"/>
<path stroke="#ffc500" d="M411 15h1M386 17h1m68 0h1m6 0h1m4 0h1m12 0h2m1 0h3M457 19h2M414 21h2m3 0h1m51 0h1M380 23h2m23 0h2m13 0h1M375 25h1m41 0h2M373 27h1m4 0h1m11 0h1m32 0h1M372 29h1m27 0h3M371 31h1m24 0h1M369 33h1m9 0h1m11 0h1m5 0h2M366 35h1m28 0h1M365 37h2m3 0h1M367 39h2m140 0h1M360 41h1m2 0h1M355 45h1M345 47h3M340 49h1M338 51h1m12 0h1m2 0h1M308 53h1m4 0h1m13 0h1M320 55h1m5 0h1m8 0h1m5 0h2m1 0h1M314 57h1M324 59h1M283 61h1m1 0h1m4 0h1m4 0h1m6 0h1m2 0h1M287 63h1m1 0h1m3 0h1M292 67h1M269 69h2M258 71h3M246 73h2m4 0h2M255 75h2M240 77h1M230 79h1m1 0h2m4 0h1M217 81h2m5 0h1m9 0h1M214 83h1M0 85h1m1 0h3m1 0h3m5 0h2m10 0h7m7 0h1m8 0h2m2 0h5m3 0h2m2 0h5m18 0h1m6 0h4m2 0h3m3 0h2m3 0h1m3 0h4m8 0h2m6 0h3m9 0h15m8 0h5m10 0h13m3 0h1m2 0h1M1 87h1m3 0h8m3 0h10m8 0h6m4 0h2m1 0h1m11 0h2m2 0h1m7 0h3m4 0h3m19 0h1m19 0h1m1 0h2m1 0h2m4 0h1m2 0h2m28 0h3m10 0h1m2 0h1m1 0h1m2 0h1M17 89h2"/>
<path stroke="#ffc900" d="M409 15h2M407 17h2m25 0h1m3 0h1m35 0h2m3 0h1m6 0h1m2 0h1m2 0h1m2 0h3M404 19h1m25 0h4m59 0h2m3 0h4M387 21h1m15 0h1m1 0h2m18 0h3m1 0h1m6 0h2m25 0h3m21 0h2M375 23h2m5 0h1m9 0h1m31 0h1M374 25h1m3 0h1m11 0h1M388 27h2m3 0h2m5 0h3M396 29h1M366 31h1m2 0h1m9 0h1m11 0h1m5 0h3M365 33h2m10 0h1m17 0h1M364 35h2m1 0h1m2 0h1M361 37h1m2 0h1m2 0h2m138 0h2M360 39h1m2 0h1M362 41h1M356 43h2M345 45h1m12 0h1M339 49h1m12 0h2M307 53h1m20 0h1m1 0h1m5 0h1m7 0h1m3 0h1m1 0h1M303 55h2m26 0h1M315 57h1M290 59h2m3 0h1m3 0h4m2 0h2m2 0h1M282 61h1m1 0h1m1 0h1m6 0h1m2 0h3M288 63h1m5 0h1M281 65h1M269 67h9m2 0h1M258 69h10m10 0h2M244 73h2m2 0h2M241 75h3M218 79h6m1 0h5M0 81h1m5 0h3m2 0h2m7 0h2m2 0h1m6 0h3m3 0h3m10 0h6m81 0h1m12 0h3m1 0h1m8 0h1m1 0h2m4 0h4m11 0h1m2 0h1m19 0h5m1 0h2m18 0h2M0 83h17m2 0h24m2 0h1m2 0h10m7 0h5m4 0h12m7 0h6m2 0h10m3 0h1m1 0h7m1 0h1m2 0h3m2 0h2m2 0h4m1 0h2m3 0h23m1 0h7m5 0h2m1 0h13m1 0h3m2 0h1m2 0h2M1 85h1m3 0h1m3 0h5m2 0h1m2 0h7m8 0h6m1 0h5m2 0h1m9 0h3m3 0h1m5 0h1m2 0h15m1 0h6m4 0h2m3 0h3m2 0h3m1 0h3m4 0h3m1 0h2m1 0h1m2 0h4m1 0h1m3 0h9m16 0h7m5 0h2m3 0h3m1 0h1M46 87h1m131 0h2"/>
<path stroke="#ffcd00" d="M466 15h2m14 0h1m2 0h1M404 17h1m35 0h1m9 0h1m2 0h2m13 0h1m4 0h1m16 0h1M439 19h1m9 0h1m9 0h3m2 0h2m3 0h1m8 0h1M376 21h1m3 0h1m11 0h1m42 0h1M505 23h1M388 25h2m3 0h2M372 27h1m49 0h1M371 29h1m19 0h1M367 33h1M361 35h1M363 37h1m145 0h1M362 39h1M356 41h2M345 43h1m9 0h1m2 0h2M346 45h2M339 47h2m11 0h1M338 49h1m12 0h1m2 0h1M308 51h1m4 0h1m13 0h3m11 0h4m3 0h3M310 53h1m7 0h5m2 0h2m8 0h1m1 0h1m3 0h3M311 55h1m2 0h1m18 0h1M299 57h3m10 0h1m4 0h1m5 0h2m7 0h1m1 0h1M282 59h2m1 0h1m10 0h1m19 0h1M272 61h1m14 0h1m1 0h1M260 63h2m7 0h1m1 0h3m7 0h1M259 65h6m4 0h9m2 0h1M258 67h9M246 69h2m3 0h1m16 0h1M246 71h2m3 0h3M250 73h1m3 0h1m2 0h1M231 75h1M220 77h4m2 0h1m3 0h4m5 0h1M37 79h3m11 0h5m115 0h1m45 0h1m19 0h1M1 81h4m4 0h2m12 0h1m3 0h2m39 0h1m60 0h1m8 0h1m9 0h1m4 0h1m10 0h1m10 0h1m9 0h1m1 0h2m1 0h3M17 83h2m24 0h1m18 0h1m25 0h4m19 0h2m2 0h1m7 0h1m7 0h1m2 0h2m4 0h1m2 0h3m23 0h1m11 0h1m2 0h1m13 0h1m3 0h2m2 0h1M17 85h2m28 0h1m15 0h1m7 0h2m50 0h1m2 0h1m7 0h1m43 0h1m1 0h1m3 0h1"/>
<path stroke="#fdcf00" d="M450 15h1m11 0h1m21 0h1M443 17h1m2 0h1m5 0h1m3 0h2M385 19h1m17 0h1m43 0h2m21 0h1M381 21h1m46 0h1M390 23h1M373 25h1m49 0h1m82 0h1M396 27h1M366 29h1m32 0h1M365 31h1m11 0h1M364 33h1M368 35h1m138 0h2M360 37h1M355 41h1m3 0h1M346 43h2M339 45h2m11 0h1M338 47h1m12 0h1m1 0h2M313 49h1m13 0h3m13 0h1m5 0h1M307 51h1m2 0h1m7 0h2m1 0h2m2 0h2m3 0h1m4 0h3M303 53h2m6 0h1m19 0h1m1 0h1M312 55h1m2 0h1m7 0h1m8 0h1m1 0h1M285 57h1m19 0h2m2 0h1m6 0h1M284 59h1m8 0h1m3 0h2M269 61h1M262 63h1m7 0h1m5 0h2m2 0h1M267 67h1m10 0h2M245 71h1m2 0h1M232 75h2m6 0h1M225 77h1m2 0h2m8 0h1M172 79h1m51 0h1m9 0h1M5 81h1m7 0h2m11 0h1m2 0h2m4 0h1m5 0h1m7 0h1m17 0h1m9 0h2m17 0h3m2 0h1m1 0h1m12 0h2m1 0h1m1 0h1m25 0h1m1 0h1m7 0h1m4 0h1m32 0h2m17 0h1M61 83h1m8 0h1m2 0h1m12 0h1m5 0h1m6 0h1m13 0h1m16 0h1m74 0h1M46 85h1m132 0h1"/>
<path stroke="#fcd200" d="M413 15h1m69 0h1m12 0h1M441 17h1m3 0h1m5 0h1m6 0h1m13 0h1m18 0h1m10 0h1M392 19h1m26 0h1m6 0h1M416 21h1m87 0h1M374 23h1m3 0h1m14 0h1M400 25h1M391 27h1M369 29h1m27 0h1M395 31h1M361 33h1m8 0h1M363 35h1m145 0h1M362 37h1M356 39h2M345 41h3m10 0h1M339 43h2M338 45h1m12 0h1m1 0h2M327 47h1m1 0h1m13 0h1m5 0h1M308 49h1m10 0h1m5 0h2m3 0h1m5 0h2m3 0h2m1 0h1m3 0h1m1 0h1M320 51h1m10 0h1m1 0h1M312 53h1m1 0h2m16 0h1m1 0h1M300 55h2m7 0h1m6 0h2m6 0h1M291 57h1m3 0h1m6 0h1M272 59h1m13 0h1M260 61h1m10 0h1m1 0h1m7 0h1m12 0h1M259 63h1m3 0h2m9 0h2M265 65h2m25 0h1M251 67h1m16 0h1M252 69h2M244 71h1m4 0h1M231 73h1m9 0h3m11 0h2M230 75h1M53 77h2m164 0h1m7 0h1M7 79h1m144 0h1m36 0h1m21 0h1m3 0h2m18 0h2M15 81h1m6 0h1m2 0h1m8 0h1m1 0h1m3 0h1m25 0h1m2 0h1m9 0h1m3 0h1m11 0h1m6 0h1m15 0h1m8 0h2m26 0h1m2 0h1m2 0h1m5 0h1m25 0h2M44 83h1m13 0h1m41 0h1m24 0h1"/>
<path stroke="#fbd500" d="M431 17h1m10 0h1m17 0h1M406 19h1m7 0h2m9 0h1m37 0h1m7 0h1m5 0h1M375 21h1m6 0h1M388 23h1m28 0h2M402 25h1M366 27h1m4 0h1M379 29h1m18 0h1M367 31h1M507 33h2M360 35h1M356 37h1M345 39h1m9 0h1m2 0h2M339 41h2M338 43h1m13 0h2M329 45h1m13 0h1m5 0h1M308 47h1m4 0h1m11 0h1m2 0h1m1 0h1m5 0h1m4 0h2m1 0h1m3 0h1m1 0h1M307 49h1m2 0h1m7 0h1m1 0h3m8 0h1m1 0h1m1 0h1M303 51h2m6 0h1m2 0h2m16 0h1m1 0h1M316 53h2m5 0h2M299 55h1m5 0h2M283 57h1m6 0h1M269 59h1M261 61h2m7 0h1m5 0h2m2 0h1m7 0h1M258 65h1m8 0h1m10 0h2M246 67h2M250 71h1m3 0h1m2 0h1M220 75h4m2 0h1m12 0h1M52 77h1m2 0h1m162 0h1m18 0h1M0 79h1m5 0h1m1 0h1m3 0h1m37 0h1m99 0h2m2 0h1m11 0h1m6 0h1m35 0h2m1 0h2M16 81h1m2 0h1m22 0h1m2 0h1m2 0h1m7 0h1m8 0h1m9 0h1m4 0h2m2 0h1m9 0h1m10 0h2m3 0h1m11 0h1m9 0h2m2 0h1m5 0h1m3 0h1m9 0h1m2 0h1m8 0h1m1 0h1m5 0h1m5 0h2m13 0h1m2 0h1m3 0h1m3 0h1M59 83h2m26 0h1m92 0h1"/>
<path stroke="#f9d700" d="M407 15h2m46 0h1M449 17h1m48 0h1M427 19h1m1 0h1M390 21h1m29 0h1m3 0h1M373 23h1m15 0h1m4 0h1M372 25h1m28 0h1M365 29h1m11 0h1M361 31h1m2 0h1M363 33h1m4 0h1m140 0h1M362 35h1M345 37h1m9 0h1m1 0h1M346 39h2M352 41h1M329 43h1m13 0h1m7 0h1m2 0h1M313 45h1m13 0h2m1 0h1m5 0h1m4 0h2m1 0h1m3 0h1m1 0h1M310 47h1m7 0h5m3 0h1m4 0h1m1 0h1m1 0h1m1 0h1M311 49h1m2 0h1m17 0h1m1 0h1M312 51h1m4 0h1m5 0h2M309 53h1M272 57h1m9 0h1m1 0h1m11 0h1m1 0h1M271 59h1m1 0h1m13 0h1m1 0h1M259 61h1m14 0h2M265 63h1M268 65h1M245 69h1m2 0h1M242 71h1m12 0h2M232 73h2m6 0h1M225 75h1m2 0h2m8 0h1M37 77h3m11 0h1m165 0h1m6 0h1m9 0h1M1 79h4m4 0h1m1 0h1m8 0h2m2 0h1m2 0h1m3 0h3m95 0h1m7 0h1m25 0h1m1 0h1m8 0h2m10 0h1m4 0h1m22 0h1M17 81h1m39 0h1m16 0h1m1 0h1m5 0h1m2 0h1m4 0h1m2 0h1m10 0h1m2 0h3m4 0h1m5 0h1m3 0h1m14 0h1m1 0h1m2 0h1m15 0h1m38 0h1m1 0h1m5 0h1M46 83h2m16 0h1m6 0h2m53 0h1m50 0h3"/>
<path stroke="#f8da00" d="M412 15h1m67 0h2M432 17h1m11 0h1m58 0h1M376 19h1m10 0h1m17 0h1m30 0h2m38 0h1M505 21h1M423 23h1m82 0h1M391 25h1m4 0h1m25 0h1M369 27h1m27 0h1m1 0h1M395 29h1M370 31h1m136 0h1M360 33h1M345 35h1m10 0h2M346 37h2m10 0h2M339 39h2M338 41h1m4 0h1m7 0h1m1 0h2M313 43h1m13 0h2m1 0h1m5 0h1m4 0h2m1 0h1m3 0h2M308 45h1m9 0h2m1 0h2m2 0h2m4 0h1m1 0h1m1 0h1m1 0h1M307 47h1m6 0h1m17 0h1m1 0h1M304 49h1m7 0h1m2 0h1m1 0h1m5 0h2M309 51h1m6 0h1M300 53h2m3 0h2M285 55h1m16 0h1M269 57h1m23 0h1m3 0h1M260 59h1m9 0h1m6 0h1m3 0h1m12 0h1M263 61h2M258 63h1m7 0h2m10 0h2m12 0h1M251 65h1M252 67h2M244 69h1m4 0h1M231 71h1m9 0h1m1 0h1M230 73h1M219 75h1m7 0h1M171 77h1m44 0h1m18 0h2M5 79h1m4 0h1m2 0h2m8 0h1m4 0h3m36 0h2m69 0h1m9 0h1m4 0h1m10 0h1m20 0h1m1 0h2m1 0h1m1 0h1M18 81h1m24 0h1m18 0h1m25 0h2m1 0h1m19 0h2m2 0h1m7 0h1m7 0h1m2 0h2m4 0h1m2 0h1m1 0h1m23 0h1m11 0h1m2 0h1m13 0h1m3 0h2m2 0h1M63 83h1"/>
<path stroke="#f7dd00" d="M434 15h1m62 0h1M392 17h1m37 0h1m2 0h1m60 0h1M380 19h2m46 0h1M374 21h1m18 0h1M366 25h1m4 0h1M365 27h1m13 0h1m18 0h1M361 29h1m2 0h1m2 0h1M363 31h1m4 0h1m139 0h2M362 33h1M346 35h2m7 0h1m3 0h1M339 37h2M338 39h1m12 0h3M327 41h3m11 0h2m1 0h1m4 0h1M319 43h1m2 0h1m2 0h2m4 0h1m3 0h1m1 0h1m12 0h1M307 45h1m2 0h1m9 0h1M311 47h1m3 0h1m7 0h2M303 49h1m12 0h1M305 51h2M299 53h1M272 55h1m18 0h1m3 0h1M271 57h1m1 0h1m12 0h1M261 59h2m11 0h3m3 0h1M265 61h1M268 63h1M246 65h2M250 69h1m3 0h1m2 0h1M221 73h3m2 0h1m2 0h1m9 0h1M218 75h1m15 0h1m2 0h1M7 77h1m164 0h1m38 0h1m3 0h1M25 79h2m8 0h2m3 0h2m7 0h1m27 0h2m16 0h4m2 0h1m1 0h1m12 0h2m1 0h1m1 0h1m25 0h1m1 0h1m7 0h1m4 0h1m32 0h2M61 81h1m8 0h1m2 0h1m12 0h1m5 0h1m6 0h1m13 0h1m16 0h1m74 0h1"/>
<path stroke="#f5df00" d="M404 15h1m90 0h1M493 17h1m6 0h2M384 19h1m102 0h2M378 21h1m9 0h2m4 0h1M400 23h1m1 0h1M377 27h1M360 31h1M345 33h1m9 0h3M339 35h2m17 0h1M338 37h1m13 0h2M327 39h3m11 0h4m4 0h1m4 0h1M313 41h1m11 0h2m3 0h1m4 0h3m10 0h1m1 0h1M308 43h1m1 0h1m7 0h1m1 0h2m11 0h1M311 45h1m2 0h2m7 0h1m8 0h1m1 0h1M312 47h1m3 0h2M309 49h1M269 55h1m12 0h2m6 0h1m5 0h1m1 0h1M260 57h1m9 0h1m6 0h1m3 0h1M259 59h1m3 0h2m23 0h1M266 61h1m11 0h2M245 67h1m2 0h1M242 69h1m12 0h2M230 71h1m1 0h2m6 0h1M220 73h1m4 0h1m2 0h1m9 0h1M52 75h3m162 0h1m6 0h1M0 77h1m7 0h1m142 0h2m36 0h1m19 0h2m1 0h2M15 79h1m3 0h1m2 0h1m11 0h1m21 0h1m9 0h1m2 0h1m9 0h1m3 0h2m17 0h1m15 0h1m8 0h2m26 0h1m2 0h1m2 0h1m5 0h1m25 0h2m5 0h1M44 81h1m13 0h1m41 0h1m24 0h1"/>
<path stroke="#f4e200" d="M403 17h1m22 0h1m32 0h1m1 0h1m2 0h1m4 0h1M375 19h1m6 0h1m7 0h1m25 0h1m7 0h1m10 0h1M373 21h1m43 0h2M372 23h1m18 0h1m4 0h1m4 0h1M369 25h1m29 0h1M361 27h1m2 0h1m2 0h1m27 0h1M363 29h1m6 0h1m136 0h3M345 31h1m10 0h2m4 0h1M339 33h2m5 0h2m10 0h2M338 35h1m13 0h1M327 37h1m1 0h1m11 0h4m6 0h1m2 0h1M313 39h1m11 0h2m3 0h1m5 0h2m10 0h1m1 0h1M308 41h1m9 0h5m8 0h1m1 0h1M307 43h1m6 0h2m16 0h1m1 0h1M312 45h1m4 0h1m6 0h1M304 47h1m4 0h1M305 49h2M300 51h2M272 53h1m12 0h1m16 0h1M271 55h1m1 0h1m10 0h1m8 0h1m3 0h1M261 57h2m11 0h1m1 0h1m3 0h1m6 0h1m1 0h1m4 0h1M265 59h1M258 61h1m8 0h2m23 0h1M251 63h1M252 65h2M244 67h1m4 0h1m7 0h1M231 69h1m9 0h1m1 0h1M219 73h1m7 0h1m9 0h1M38 75h1m16 0h1m179 0h2M1 77h2m3 0h1m4 0h2m11 0h1m6 0h3m16 0h1m86 0h1m12 0h1m3 0h1m11 0h1m6 0h1m40 0h1M16 79h1m25 0h1m2 0h1m2 0h1m16 0h1m9 0h1m4 0h2m12 0h1m10 0h2m3 0h1m11 0h1m9 0h2m2 0h1m5 0h1m3 0h1m9 0h1m2 0h1m8 0h1m1 0h1m5 0h1m5 0h2m13 0h1m6 0h1m3 0h1M47 81h1m11 0h2m26 0h1m38 0h1m53 0h1"/>
<path stroke="#f3e500" d="M482 13h1M438 15h1m29 0h1M406 17h1m8 0h1m3 0h1m5 0h1m1 0h1m37 0h1M383 19h1m120 0h1M423 21h1m82 0h1M366 23h1m55 0h1M365 25h1m31 0h1M345 29h1m14 0h1m1 0h1m5 0h1M346 31h2m7 0h1M338 33h1M329 35h1m13 0h1m7 0h1m1 0h2M313 37h1m14 0h1m1 0h1m5 0h1m11 0h2M318 39h5m8 0h1m1 0h1m1 0h1M310 41h1m3 0h1m17 0h1m1 0h1M311 43h2m4 0h1m5 0h2M316 45h1M303 47h1M269 53h1M270 55h1m6 0h1M263 57h2m10 0h1M266 59h1m11 0h2M246 63h2M245 65h1M250 67h1m3 0h1M221 71h3m2 0h1m2 0h1m9 0h1M234 73h1M37 75h1m1 0h1m11 0h1m164 0h1M3 77h2m4 0h2m9 0h2m5 0h2m100 0h1m33 0h1m1 0h1m8 0h2m10 0h1m4 0h1M17 79h2m24 0h1m13 0h1m16 0h1m1 0h1m5 0h1m2 0h1m3 0h2m2 0h1m10 0h1m2 0h3m4 0h1m5 0h1m3 0h1m14 0h1m1 0h1m2 0h1m15 0h1m20 0h1m17 0h1m1 0h3m3 0h1M46 81h1m17 0h1m6 0h2m104 0h3"/>
<path stroke="#f1e700" d="M466 13h1M431 15h1m42 0h1m14 0h1M376 17h1m37 0h1m14 0h1m9 0h1m30 0h1m28 0h1M374 19h1m18 0h1m26 0h1m84 0h1M371 23h1M361 25h1m17 0h1m18 0h1M363 27h1m143 0h2M346 29h2m7 0h3M339 31h2m17 0h2M329 33h1m13 0h1m7 0h3M327 35h2m1 0h1m5 0h1m4 0h2m1 0h1m3 0h2M319 37h1m1 0h2m2 0h2m4 0h1m1 0h1m1 0h1m1 0h1m12 0h1M308 39h1m1 0h1m3 0h1m17 0h1m1 0h1M307 41h1m3 0h1m3 0h1m1 0h1m5 0h2M316 43h1M304 45h1m4 0h1M305 47h2M299 51h1m2 0h1M271 53h1m1 0h1m17 0h1m3 0h2m1 0h1M260 55h1m13 0h1m1 0h1m3 0h2m4 0h1M259 57h1m28 0h1M267 59h2M251 61h1M252 63h1M248 65h1M241 67h2m12 0h2M230 69h1m1 0h2m6 0h1M220 71h1m4 0h1m2 0h1m9 0h1M218 73h1m5 0h1m10 0h1M171 75h1m39 0h1m3 0h1M5 77h1m7 0h2m8 0h1m2 0h1m2 0h2m18 0h1m17 0h2m69 0h1m9 0h1m4 0h1m10 0h1m20 0h1m1 0h2m1 0h1m1 0h1M62 79h1m23 0h1m1 0h1m2 0h1m19 0h2m2 0h1m7 0h1m7 0h1m2 0h2m4 0h1m2 0h1m1 0h1m23 0h1m14 0h1m13 0h1m7 0h1M63 81h1"/>
<path stroke="#f0ea00" d="M392 15h1m39 0h1m42 0h1m10 0h1M380 17h2m5 0h1m17 0h1m22 0h1m18 0h2M378 19h1m9 0h2m4 0h1M366 21h1m33 0h1m1 0h1M369 23h1M364 25h1m2 0h1m9 0h1m17 0h1M345 27h1m10 0h1m3 0h1m1 0h1m7 0h1m138 0h1M339 29h2m17 0h2M338 31h1m4 0h1m7 0h3M327 33h2m1 0h1m5 0h1m4 0h2m1 0h1m4 0h1m4 0h1M313 35h1m11 0h2m4 0h1m1 0h1m1 0h1m1 0h1m12 0h1M318 37h1m1 0h1m11 0h1m1 0h1M315 39h1m7 0h2M312 41h1m3 0h1M309 43h1M300 49h1M272 51h1M270 53h1m6 0h1m4 0h2m6 0h1m2 0h1m3 0h1M261 55h2m12 0h1m11 0h1M265 57h2m11 0h1M258 59h1M246 61h1M253 63h1M244 65h1m4 0h1m4 0h1m2 0h1M231 67h1m11 0h1M239 69h1M227 71h1m9 0h1M217 73h1m18 0h1M0 75h1m6 0h2m143 0h1m19 0h1m37 0h1m1 0h2M15 77h1m6 0h1m2 0h1m8 0h3m3 0h2m35 0h2m16 0h4m2 0h1m1 0h1m12 0h2m1 0h1m1 0h1m6 0h1m18 0h1m1 0h1m7 0h1m3 0h2m32 0h2M44 79h1m16 0h1m8 0h1m2 0h1m18 0h1m6 0h1m13 0h1m16 0h1m74 0h1"/>
<path stroke="#efed00" d="M430 15h1m22 0h2m2 0h1m34 0h1M375 17h1m14 0h1m72 0h1M373 19h1m132 0h1M372 21h1m18 0h1m4 0h1m4 0h1M361 23h1m3 0h1m31 0h1m1 0h1M345 25h1m161 0h2M339 27h2m5 0h2m7 0h1m1 0h1m10 0h1M338 29h1m4 0h1m8 0h1M327 31h3m11 0h2m1 0h1m9 0h1M313 33h1m11 0h2m4 0h1m1 0h1m1 0h1m1 0h1m10 0h1m1 0h1M318 35h5m9 0h1m1 0h1M308 37h1m1 0h1m3 0h2m7 0h1M307 39h1m3 0h2m4 0h1M303 45h1m1 0h2M301 49h1M269 51h1m1 0h1m13 0h1M274 53h1m1 0h1m3 0h2m2 0h1M263 55h2m24 0h1m4 0h1M267 57h1m11 0h1M292 59h1M247 61h1M245 63h1M250 65h1M221 69h3m2 0h1m2 0h1M219 71h1m4 0h1m9 0h1M52 73h3m161 0h1M1 75h2m3 0h1m5 0h1m37 0h1m100 0h1m37 0h1m19 0h1m4 0h1M16 77h1m2 0h1m22 0h1m5 0h1m7 0h1m9 0h1m2 0h1m9 0h1m1 0h1m1 0h2m17 0h1m15 0h1m8 0h1m5 0h1m21 0h1m2 0h1m8 0h1m25 0h2m5 0h1m3 0h1M58 79h2m40 0h1m24 0h1m54 0h1"/>
<path stroke="#ecef00" d="M460 15h1m18 0h1M471 17h1M356 25h1m3 0h1m2 0h1m145 0h1M353 29h1M330 31h1m5 0h1m12 0h1M324 37h1M316 39h1M309 41h1M304 43h1M272 49h1M273 51h1M260 53h1m14 0h1M259 55h1M268 57h1M248 63h1M242 65h1m12 0h2M230 67h1m1 0h2m6 0h1M220 69h1m4 0h1m2 0h1m9 0h1M218 71h1m16 0h1M37 73h3m11 0h1m3 0h1m159 0h1M3 75h3m3 0h3m8 0h2m2 0h1m2 0h1m3 0h3m103 0h1m12 0h1m3 0h1m11 0h1m6 0h1m12 0h1M17 77h1m27 0h1m19 0h1m9 0h1m4 0h1m13 0h1m10 0h2m3 0h1m11 0h1m9 0h1m3 0h1m5 0h1m3 0h1m9 0h1m2 0h2m7 0h1m1 0h1m5 0h1m5 0h2m13 0h1m1 0h1m1 0h1m5 0h2M47 79h1m12 0h1m26 0h1m38 0h1"/>
<path stroke="#e8f000" d="M450 13h1M426 15h1m6 0h1m6 0h1m8 0h1m2 0h1m5 0h1m14 0h1m16 0h1M424 17h1M418 19h1M371 21h1m50 0h1M364 23h1m2 0h1m11 0h1M346 25h1m10 0h1m4 0h1m7 0h1M358 27h2M329 29h1m11 0h1m2 0h1m6 0h1M348 31h1M322 33h1M314 35h1M311 37h1m5 0h1M299 49h1m2 0h1M298 51h1M261 53h1m24 0h1M265 55h1m12 0h1M258 57h1M251 59h1M252 61h2M244 63h1m4 0h1M231 65h1m9 0h1m1 0h1M227 69h1M236 71h1M0 73h1m6 0h1m203 0h1M13 75h2m8 0h1m2 0h1m1 0h3m98 0h1m33 0h1m1 0h1m8 0h2m15 0h1M18 77h1m24 0h1m13 0h1m16 0h1m1 0h1m5 0h1m2 0h1m3 0h3m1 0h1m10 0h1m2 0h3m4 0h1m5 0h1m3 0h1m14 0h1m1 0h1m2 0h1m36 0h1m16 0h1m3 0h2m2 0h1M46 79h1m17 0h1m6 0h2m104 0h3"/>
<path stroke="#e4f100" d="M451 15h1m46 0h1M416 17h1m19 0h1M366 19h1m50 0h1m5 0h1M365 21h1M345 23h1m52 0h1m109 0h1M339 25h1m7 0h1m7 0h1M338 27h1M327 29h1m14 0h1m11 0h1M337 31h1M319 33h1m1 0h1M310 35h1M305 43h2M270 51h1m6 0h1m17 0h2M262 53h1M246 59h1M254 63h1m2 0h1M222 67h1m3 0h1m12 0h1M237 69h1M217 71h1M1 73h2m3 0h1m1 0h1m162 0h1m40 0h2M22 75h1m2 0h1m9 0h2m3 0h2m7 0h1m17 0h2m8 0h1m18 0h1m41 0h1m9 0h1m4 0h1m10 0h1m20 0h1m1 0h2m1 0h1m1 0h1M62 77h1m23 0h1m1 0h1m22 0h2m2 0h1m7 0h1m6 0h2m2 0h2m4 0h1m2 0h1m1 0h1m23 0h1m14 0h1m20 0h1M63 79h1"/>
<path stroke="#e0f300" d="M485 13h1M386 15h1m38 0h1m15 0h1m4 0h1M393 17h1m43 0h1m38 0h1m1 0h1M361 21h1m7 0h1M363 23h1m13 0h1m17 0h1m111 0h1m1 0h1M340 25h1m27 0h1M343 27h1m8 0h1M328 29h1M313 31h1m11 0h2m4 0h1m1 0h1m1 0h1m14 0h1M318 33h1m1 0h1m11 0h1m1 0h1M308 35h1m6 0h1m7 0h2M307 37h1m8 0h1M269 49h1M276 51h1m5 0h2m7 0h1m5 0h1M264 53h1M266 55h1m12 0h1m8 0h1M247 59h1M245 61h1M250 63h1M232 65h1m7 0h1M221 67h1m1 0h1m4 0h2m8 0h1M219 69h1m4 0h1m9 0h1M3 73h2m4 0h1m1 0h2m139 0h1m19 0h1m36 0h2m3 0h1M15 75h2m2 0h1m14 0h1m43 0h1m16 0h1m1 0h2m2 0h3m12 0h2m1 0h1m1 0h1m6 0h1m18 0h1m1 0h1m7 0h1m3 0h2m30 0h1m1 0h2M44 77h1m13 0h1m2 0h1m8 0h1m2 0h1m18 0h1m6 0h1m13 0h1"/>
<path stroke="#dcf400" d="M467 13h1m28 0h1M419 15h1m23 0h1m1 0h1m10 0h1m15 0h1m18 0h1M374 17h1m113 0h1M356 23h1m3 0h1M351 27h1m1 0h1M330 29h1m5 0h1m12 0h1M312 37h1M309 39h1M303 43h1M300 47h2M271 49h1M274 51h1m5 0h2m8 0h1m2 0h1M263 53h1m23 0h1m6 0h1M267 55h1M248 61h1M231 63h1m9 0h3m11 0h2M230 65h1m2 0h1M220 67h1m4 0h1M218 69h1m16 0h2M0 71h1m37 0h1m13 0h3m161 0h1M5 73h1m4 0h1m9 0h2m2 0h1m2 0h1m3 0h3m16 0h1m100 0h1m37 0h1M17 75h1m24 0h1m2 0h1m2 0h1m7 0h1m9 0h1m2 0h1m9 0h1m1 0h1m1 0h2m33 0h1m8 0h1m5 0h1m21 0h1m2 0h1m8 0h1m14 0h1m11 0h1m5 0h1m3 0h1m3 0h1M59 77h1m40 0h1m24 0h1m54 0h1"/>
<path stroke="#d8f500" d="M462 13h1m21 0h1M427 15h1M382 17h1m52 0h1m51 0h1m16 0h2M391 19h1m8 0h1M364 21h1m2 0h1M357 23h1m4 0h1M358 25h2M329 27h1m11 0h2m1 0h1m9 0h1M348 29h1M314 33h1M317 35h1M272 47h1M273 49h1M260 51h1m14 0h1M259 53h1m29 0h1M268 55h1M251 57h1m40 0h1M252 59h1M244 61h1m4 0h1M239 65h1M227 67h1m9 0h1M1 71h3m2 0h3m28 0h1m1 0h1m11 0h1m3 0h1m159 0h1M13 73h2m8 0h1m2 0h1m1 0h3m106 0h1m12 0h1m3 0h1m8 0h1m2 0h1m6 0h1m12 0h1M18 75h1m24 0h1m21 0h1m9 0h1m4 0h1m13 0h1m10 0h2m3 0h1m11 0h1m9 0h1m3 0h1m5 0h1m3 0h1m9 0h1m2 0h2m7 0h1m1 0h1m5 0h1m6 0h1m13 0h1m1 0h1m1 0h1m5 0h1M46 77h2m12 0h1m26 0h1m38 0h1m51 0h2"/>
<path stroke="#d4f700" d="M415 15h1m13 0h1m34 0h1m28 0h2M420 17h1M372 19h1M399 21h1m107 0h3M346 23h1m8 0h1m14 0h1M338 25h1m4 0h1m8 0h1M327 27h1M333 29h1m3 0h1m12 0h1M319 31h1m1 0h2m11 0h1M315 33h1M311 35h1M305 41h2M285 49h1M284 51h1M265 53h1m12 0h1M258 55h1M246 57h2M253 59h1M222 65h1m3 0h1m2 0h1M234 67h1M217 69h1M4 71h1m166 0h1m39 0h1m1 0h1M22 73h1m2 0h1m9 0h1m93 0h1m35 0h1m8 0h2m11 0h1m3 0h1M57 75h1m16 0h1m1 0h1m5 0h1m2 0h1m2 0h4m1 0h1m10 0h1m2 0h3m4 0h1m5 0h1m3 0h1m6 0h1m2 0h1m4 0h1m1 0h1m1 0h2m36 0h1m16 0h1m3 0h2m2 0h1M64 77h1m6 0h2m104 0h1"/>
<path stroke="#d0f800" d="M434 13h1m48 0h1M376 15h1m37 0h1m44 0h1m1 0h1m3 0h1m3 0h1m32 0h1M366 17h1m18 0h1m120 0h1M361 19h1m3 0h1m5 0h1m30 0h1M345 21h1m17 0h1m33 0h1M339 23h1m7 0h1m20 0h1M353 25h1M328 27h1m20 0h1M313 29h1m12 0h1m4 0h1m3 0h1M318 31h1m1 0h1m11 0h1M310 33h1m12 0h2M316 35h1M304 41h1M302 47h1M270 49h1m6 0h1m20 0h1M261 51h2M245 59h1M242 61h1m7 0h1m3 0h1m2 0h1M232 63h2m6 0h1M221 65h1m1 0h1m4 0h1m9 0h1M219 67h1m4 0h1m10 0h1M0 69h2M5 71h1m3 0h4m197 0h1m1 0h1M15 73h2m2 0h1m14 0h1m1 0h1m3 0h2m7 0h1m17 0h2m8 0h1m18 0h1m4 0h1m36 0h1m9 0h2m3 0h1m10 0h1m20 0h1m2 0h1m1 0h1m1 0h1m2 0h1M44 75h1m16 0h2m23 0h1m24 0h2m2 0h1m7 0h1m6 0h1m4 0h1m4 0h1m4 0h1m23 0h1m14 0h1m20 0h1M63 77h1"/>
<path stroke="#ccf900" d="M404 13h1M406 15h1m35 0h1m60 0h1M378 17h1m9 0h2m4 0h1m82 0h1M396 19h1m25 0h1M356 21h1m22 0h1M340 23h1M341 25h1m2 0h1m6 0h1M330 27h1m5 0h1M325 29h1M308 33h1M307 35h1m4 0h1M309 37h1M269 47h1m29 0h1M276 49h1m19 0h1M286 51h1M266 53h1m12 0h1M248 59h1M231 61h1m9 0h1m1 0h1M230 63h1m8 0h1M220 65h1m4 0h1m11 0h1M218 67h1m17 0h1M2 69h2m2 0h2m30 0h1m15 0h1m161 0h1M20 71h2m2 0h1m2 0h1m3 0h3m118 0h1m19 0h1m36 0h1m4 0h1M17 73h1m24 0h1m2 0h1m2 0h1m29 0h2m15 0h1m1 0h2m3 0h2m12 0h2m1 0h1m1 0h1m6 0h1m18 0h1m9 0h1m3 0h2m30 0h1m2 0h1M58 75h1m11 0h1m2 0h1m18 0h1m6 0h1m13 0h1"/>
<path stroke="#c8fb00" d="M455 13h1M428 15h1m15 0h1m25 0h1m30 0h1M373 17h1m49 0h1M364 19h1m2 0h1m1 0h1m31 0h1m106 0h2M357 21h1m2 0h1m1 0h1m35 0h1M358 23h2M342 25h1m11 0h1M348 27h1M314 31h1M317 33h1M274 49h1m5 0h1m14 0h1m1 0h1M263 51h2M267 53h1M251 55h1M252 57h1M244 59h1m4 0h1M255 61h2M227 65h1m6 0h1M0 67h1M4 69h1m3 0h1m28 0h1m1 0h1m12 0h2m1 0h1m159 0h1M13 71h2m8 0h1m2 0h1m1 0h3m19 0h1m100 0h1m37 0h1M18 73h1m37 0h1m9 0h1m2 0h1m11 0h1m1 0h2m25 0h1m7 0h1m3 0h1m4 0h1m5 0h1m2 0h1m18 0h1m2 0h1m8 0h1m14 0h1m11 0h1m5 0h1m3 0h1m2 0h2M47 75h1m11 0h1m40 0h1m24 0h1m54 0h1"/>
<path stroke="#c4fc00" d="M432 13h1m64 0h1M403 15h1m59 0h1m36 0h1M418 17h1M507 19h1M355 21h1m21 0h1m17 0h1M338 23h1m4 0h1m8 0h2M327 25h1m1 0h1M333 27h1m3 0h1m12 0h1M319 29h1m2 0h1m9 0h1m1 0h1M315 31h1M311 33h1M305 39h1M272 45h1m27 0h2M271 47h1m1 0h1M260 49h1m14 0h1m5 0h3m9 0h1M259 51h1m34 0h1M288 53h1M246 55h2M253 57h1M232 61h2m6 0h1M226 63h1m2 0h1m8 0h1M235 65h1M1 67h1m215 0h1M5 69h1m3 0h1m41 0h1m159 0h1m1 0h1M22 71h1m2 0h1m9 0h1m101 0h1m12 0h1m3 0h1m8 0h1m1 0h2m6 0h1m12 0h1M43 73h1m21 0h1m9 0h1m4 0h1m13 0h1m9 0h3m13 0h1m11 0h1m9 0h1m3 0h1m9 0h1m2 0h2m7 0h1m1 0h1m5 0h1m6 0h1m13 0h1m1 0h1m1 0h1m1 0h1M46 75h1m13 0h1m26 0h1m38 0h1m51 0h2"/>
<path stroke="#c0fd00" d="M431 13h1M390 15h1m33 0h1m22 0h1m51 0h1M365 17h1m51 0h1M363 19h1M339 21h1m6 0h1m21 0h1m1 0h1M351 23h1M328 25h1m20 0h1M326 27h1m4 0h1m3 0h1M321 29h1M310 31h1m12 0h2M316 33h1M306 39h1M303 41h1M291 49h1M278 51h1m8 0h1M258 53h1m9 0h1M292 55h1M245 57h1M231 59h1m9 0h2m7 0h1M230 61h1M222 63h2m4 0h1m8 0h1M219 65h1m4 0h1m11 0h1M2 67h2m3 0h1M10 69h3m158 0h1m40 0h1M15 71h2m2 0h1m14 0h1m1 0h1m3 0h2m7 0h1m79 0h1m23 0h1m10 0h1m9 0h2m11 0h1m3 0h1M57 73h1m16 0h1m1 0h1m5 0h1m2 0h1m2 0h4m1 0h1m13 0h3m1 0h2m1 0h1m9 0h1m6 0h1m2 0h2m3 0h3m1 0h2m36 0h1m16 0h1m3 0h1m2 0h2M64 75h1m6 0h2m104 0h1"/>
<path stroke="#bcff00" d="M392 13h1m87 0h2m13 0h1M366 15h1m8 0h1m11 0h1m51 0h1m8 0h1M361 17h1m21 0h1m7 0h1m116 0h1M345 19h1m10 0h1M340 21h1m6 0h1m10 0h1M341 23h2m1 0h1m9 0h1M330 25h1m5 0h1M313 27h1M314 29h1m3 0h1m1 0h1M312 33h1M309 35h1M302 45h1M270 47h1m6 0h1m20 0h1M261 49h1m28 0h1M265 51h1m23 0h1M248 57h1M243 59h1m10 0h1m2 0h1M239 61h1M220 63h2m3 0h1M0 65h1M4 67h1m1 0h1m1 0h1m29 0h1m177 0h1M20 69h2m2 0h1m2 0h2m2 0h3m175 0h2m3 0h1M17 71h2m23 0h1m24 0h2m8 0h2m17 0h3m2 0h1m1 0h1m12 0h1m21 0h1m9 0h2m12 0h1m22 0h1m2 0h1m1 0h1m1 0h1m2 0h2M44 73h1m16 0h2m23 0h1m5 0h1m6 0h1m15 0h1m7 0h1m6 0h1m14 0h1m23 0h1m14 0h1M63 75h1"/>
<path stroke="#b0ff00" d="M468 13h1M405 15h1m65 0h1M384 17h1m124 0h1M357 19h1m4 0h1M359 21h1M348 25h1M325 27h1M317 31h1M307 33h1M304 39h1M276 47h1m8 0h1M262 49h1m21 0h1M279 51h1M244 57h1M227 63h1m6 0h1M1 65h1m216 0h1M5 67h1m3 0h1m27 0h1m1 0h1m12 0h4m159 0h1M13 69h2m8 0h1m2 0h1m2 0h2m19 0h1m100 0h2m19 0h1m16 0h1M45 71h1m2 0h1m7 0h1m9 0h1m2 0h1m9 0h1m3 0h2m10 0h1m6 0h1m14 0h3m1 0h1m5 0h2m4 0h1m13 0h1m7 0h1m1 0h2m2 0h1m5 0h1m25 0h2m5 0h1m3 0h1m3 0h1M47 73h1m10 0h1m11 0h1m2 0h1m26 0h1m12 0h1m11 0h1m54 0h1"/>
<path stroke="#a1ff00" d="M433 13h1m26 0h1M416 15h1m19 0h1M364 17h1m2 0h1M360 19h1M343 21h1m8 0h1M333 25h1m16 0h1M332 27h1m1 0h1M315 29h1M308 31h1M305 37h1M296 47h2M286 49h1M266 51h1M2 65h2m3 0h1M10 67h3m38 0h1m159 0h1M15 69h2m2 0h1m2 0h1m2 0h1m8 0h3m3 0h2m95 0h1m12 0h1m3 0h1m8 0h1m1 0h2m6 0h1m12 0h1M43 71h1m13 0h1m7 0h1m8 0h3m3 0h3m2 0h1m7 0h2m9 0h5m1 0h1m3 0h1m5 0h1m1 0h1m9 0h1m3 0h1m2 0h1m2 0h1m3 0h1m9 0h1m2 0h2m7 0h1m1 0h1m5 0h1m5 0h2m13 0h1m1 0h1m1 0h3m2 0h2M46 73h1m12 0h2m3 0h1m22 0h1m38 0h1m50 0h3"/>
<path stroke="#93ff00" d="M425 13h1m4 0h1m18 0h1M393 15h1M400 17h1m106 0h1M355 19h1m41 0h1m1 0h1M353 21h1M327 23h1m1 0h1M331 25h1M323 29h2M306 37h1M269 45h1m29 0h1M280 47h1M246 53h1M249 57h1M232 59h2m6 0h1M222 61h1m3 0h1m2 0h1m8 0h1M0 63h1m234 0h1M4 65h1m1 0h1m1 0h1m29 0h1m178 0h1M13 67h1m6 0h2m1 0h2m2 0h2m2 0h3m137 0h1m40 0h2M17 69h2m23 0h1m6 0h1m17 0h2m8 0h1m18 0h1m4 0h1m27 0h1m8 0h1m9 0h2m3 0h1m10 0h1m9 0h2m9 0h1m1 0h2m1 0h3M44 71h1m16 0h2m23 0h1m1 0h4m17 0h1m1 0h2m2 0h1m7 0h2m5 0h2m2 0h2m4 0h2m1 0h3m23 0h1m11 0h1m2 0h1m13 0h1m6 0h1M63 73h1m7 0h2"/>
<path stroke="#84ff00" d="M426 13h1m30 0h1M437 15h1M363 17h1m7 0h1M379 19h1M338 21h1m5 0h1m6 0h1M328 23h1m20 0h1M326 25h1m10 0h1M319 27h1m1 0h2M311 31h1m4 0h1M309 33h1M300 43h2M274 47h1m18 0h1m1 0h1M264 49h1m29 0h1M251 53h1m40 0h1M252 55h1M231 57h1M230 59h1m24 0h2M221 61h1m1 0h1m4 0h1M1 63h1m217 0h1m16 0h1M5 65h1m3 0h1m2 0h1m24 0h1m1 0h1m12 0h3m161 0h1M14 67h2m6 0h1m2 0h2m2 0h2m19 0h1m101 0h1m19 0h1m16 0h1m19 0h2m3 0h1M45 69h1m2 0h1m7 0h1m9 0h1m2 0h1m8 0h2m15 0h1m1 0h2m3 0h2m12 0h4m1 0h1m6 0h1m18 0h1m7 0h1m1 0h1m3 0h2m4 0h1m25 0h1m1 0h2m3 0h1M47 71h1m10 0h1m11 0h1m2 0h1m18 0h1m6 0h2m12 0h1m11 0h1"/>
<path stroke="#75ff00" d="M489 13h1m8 0h1M435 15h1m52 0h1M372 17h1M339 19h1m55 0h1M341 21h2m11 0h1M313 25h1m21 0h1M314 27h1m3 0h1M310 29h1M303 39h1M302 43h1M271 45h1m1 0h1m24 0h1M275 47h1m5 0h1M263 49h1M267 51h1m20 0h1M220 61h1m4 0h1m11 0h1M2 63h2m3 0h1m210 0h1m5 0h1M10 65h2m39 0h1m3 0h1M16 67h1m2 0h1m14 0h3m3 0h2m95 0h1m12 0h2m2 0h1m8 0h1m1 0h2m6 0h1m12 0h1M43 69h1m21 0h1m9 0h1m4 0h2m1 0h2m8 0h2m9 0h5m1 0h1m9 0h1m1 0h1m4 0h1m4 0h2m2 0h1m5 0h1m3 0h1m9 0h1m1 0h3m7 0h1m1 0h1m5 0h1m5 0h2m10 0h1m2 0h1m1 0h1m1 0h1m2 0h1m2 0h2M46 71h1m12 0h2m26 0h1m38 0h1m51 0h3"/>
<path stroke="#67ff00" d="M454 13h1m3 0h1m5 0h1m9 0h1M374 15h1m101 0h1m10 0h1M356 17h1m45 0h1m19 0h1M358 19h1m11 0h1m6 0h1m20 0h1M330 23h1m5 0h1M315 27h1m4 0h1M317 29h1M312 31h1M305 35h1M272 43h1M282 47h2M247 53h1M245 55h1m7 0h1M241 57h2M0 61h1m226 0h1M4 63h1m1 0h1m1 0h1m29 0h1M13 65h2m5 0h2m1 0h2m2 0h2m2 0h3m137 0h1m39 0h1m3 0h1M17 67h2m23 0h1m6 0h1m18 0h1m60 0h1m8 0h1m9 0h1m4 0h1m10 0h1m9 0h2m9 0h1m1 0h2m1 0h3M44 69h1m12 0h1m4 0h1m11 0h1m1 0h1m5 0h1m2 0h1m2 0h4m17 0h1m1 0h2m1 0h2m7 0h2m6 0h1m2 0h2m3 0h3m1 0h3m23 0h1m11 0h1m2 0h1m13 0h1m3 0h2m2 0h1M63 71h2m6 0h2m104 0h1"/>
<path stroke="#58ff00" d="M438 13h1m14 0h1m11 0h1M365 15h1m57 0h1m82 0h1M357 17h1m4 0h1m33 0h1M343 19h1m2 0h1m5 0h2m5 0h1m8 0h1M333 23h1m14 0h1m1 0h1M325 25h1m6 0h1m1 0h1M307 31h1M296 45h2M260 47h1m30 0h1M259 49h1m18 0h1m8 0h1m1 0h1M239 59h1M1 61h1m232 0h1M5 63h1m3 0h1m1 0h2m24 0h1m1 0h1m12 0h3m162 0h1M15 65h1m3 0h1m2 0h1m2 0h2m2 0h2m19 0h1m101 0h1m19 0h1m37 0h1m1 0h2M45 67h1m2 0h1m18 0h1m9 0h3m15 0h4m2 0h3m12 0h2m1 0h1m1 0h1m6 0h1m18 0h1m1 0h1m7 0h1m3 0h2m4 0h1m25 0h1m1 0h2M47 69h1m10 0h1m2 0h1m8 0h1m2 0h1m12 0h1m5 0h1m6 0h2m12 0h1m16 0h1m74 0h1"/>
<path stroke="#49ff00" d="M450 11h1m31 0h1M361 15h1m29 0h1m113 0h1M369 17h1m31 0h1M340 19h1m6 0h1M327 21h1m1 0h1M331 23h1M323 27h2M308 29h1M306 35h1M304 37h1M299 43h1M277 45h1M290 47h1M268 51h1M243 57h1m6 0h1M222 59h1m3 0h1m2 0h1M2 61h2m2 0h3m210 0h1M10 63h1m9 0h2m2 0h1m26 0h1m3 0h1M16 65h2m16 0h3m3 0h2m95 0h1m12 0h2m2 0h1m11 0h1m6 0h1m15 0h1m19 0h1m4 0h1M43 67h1m12 0h1m8 0h2m2 0h1m5 0h1m4 0h2m1 0h2m9 0h1m10 0h2m3 0h1m7 0h1m3 0h1m4 0h1m4 0h2m2 0h1m5 0h1m3 0h1m8 0h2m1 0h2m8 0h1m1 0h1m5 0h1m5 0h2m10 0h1m2 0h1m2 0h1m3 0h1m3 0h1M46 69h1m12 0h2m26 0h1m37 0h2m53 0h1"/>
<path stroke="#3bff00" d="M466 11h1M366 13h1m85 0h1m8 0h1m7 0h1m23 0h2M367 15h1m12 0h1m123 0h1M345 17h1m9 0h1M344 19h1m6 0h1M328 21h1M326 23h1M314 25h1M311 29h1m4 0h1M309 31h1M301 41h1M276 45h1m8 0h1m7 0h1M284 47h1m1 0h1m7 0h1M279 49h1M258 51h1M232 57h2m20 0h1M0 59h1m220 0h1m1 0h1m4 0h1M4 61h1m33 0h1m196 0h1M13 63h2m8 0h1m3 0h2m2 0h3m137 0h1m44 0h1M18 65h1m23 0h1m6 0h1m79 0h1m23 0h1m9 0h3m8 0h2m9 0h4m2 0h1M44 67h1m12 0h1m16 0h1m1 0h1m5 0h1m2 0h1m2 0h4m1 0h1m10 0h1m2 0h3m1 0h2m1 0h2m4 0h1m3 0h1m6 0h1m2 0h2m3 0h3m1 0h3m14 0h1m20 0h1m16 0h2m1 0h3m2 0h2M64 69h1m6 0h2m104 0h3"/>
<path stroke="#2cff00" d="M419 13h1m31 0h1m7 0h1m15 0h1M394 15h1M360 17h1M338 19h1m2 0h1m12 0h1M349 21h1M337 23h1M319 25h1m2 0h1M305 33h1M300 41h1m1 0h1M298 43h1M270 45h1m24 0h1M265 49h1M292 51h1M231 55h1m12 0h1M230 57h1m26 0h1M1 59h1m218 0h1m17 0h1M5 61h1m3 0h4m24 0h1m1 0h1m12 0h3m163 0h1m5 0h1M15 63h2m2 0h1m2 0h1m2 0h2m2 0h2m19 0h1m101 0h1m19 0h1m38 0h1m1 0h1m1 0h1M45 65h1m2 0h1m18 0h2m8 0h2m16 0h4m2 0h3m12 0h2m1 0h1m1 0h1m6 0h1m9 0h1m8 0h3m7 0h1m3 0h2m27 0h1m1 0h2m1 0h2M47 67h1m10 0h1m2 0h2m7 0h1m2 0h1m12 0h1m5 0h1m6 0h1m13 0h1m9 0h1m6 0h1m38 0h1m14 0h1m20 0h1M63 69h1"/>
<path stroke="#1dff00" d="M440 13h1m22 0h1m6 0h1m2 0h1m16 0h1m1 0h1M363 15h2m20 0h1m123 0h1M339 17h1M342 19h1M330 21h1M313 23h1m21 0h1M315 25h1m2 0h1m2 0h1M310 27h1m6 0h1M303 37h1M280 45h1M261 47h2M248 55h1M240 57h1M2 59h2m2 0h3m216 0h1M13 61h1m6 0h2m2 0h1m26 0h1m3 0h1m161 0h1m18 0h1M17 63h2m15 0h3m3 0h2m108 0h2m2 0h1m11 0h1m6 0h1m15 0h1m19 0h2m1 0h1M43 65h1m12 0h1m8 0h2m2 0h1m9 0h3m1 0h2m20 0h1m4 0h1m7 0h1m3 0h1m4 0h1m4 0h2m2 0h1m5 0h1m3 0h1m8 0h1m2 0h2m7 0h2m1 0h1m11 0h1m11 0h1m5 0h1m3 0h1M46 67h1m12 0h2m26 0h1m12 0h1m24 0h1m54 0h1"/>
<path stroke="#0fff00" d="M429 13h1m56 0h1M356 15h1m21 0h1m9 0h1m29 0h1m89 0h1M343 17h1m9 0h1m4 0h1m38 0h1m1 0h1M333 21h1m2 0h1m11 0h1M332 23h1m1 0h1M320 25h1M312 29h1M288 49h1M4 59h1m33 0h1m188 0h1m9 0h1M14 61h1m8 0h1m2 0h4m1 0h3m137 0h1M42 63h1m6 0h1m79 0h1m7 0h1m25 0h3m8 0h2m10 0h2m3 0h1m22 0h1M44 65h1m12 0h1m16 0h3m5 0h1m2 0h1m2 0h4m1 0h2m9 0h1m1 0h4m1 0h2m1 0h1m5 0h1m3 0h1m6 0h1m2 0h2m3 0h3m1 0h2m11 0h1m3 0h1m15 0h1m4 0h1m1 0h1m13 0h3m1 0h1m1 0h1m3 0h2M64 67h1m6 0h2m53 0h1m50 0h3"/>
<path stroke="#0f0" d="M424 13h1m2 0h1M362 15h1m10 0h1m15 0h1m27 0h1M352 17h1m6 0h1m19 0h1m15 0h1M327 19h1M350 21h1M325 23h1M323 25h2M307 29h1m1 0h1M306 33h1M304 35h1M301 39h1M299 41h1M269 43h1m3 0h1m22 0h2M274 45h2m5 0h3M287 47h1m1 0h1M266 49h1M246 51h1M0 57h1m221 0h1M5 59h1m3 0h4m24 0h1m1 0h1m12 0h3m164 0h1m14 0h1M15 61h2m2 0h1m2 0h1m2 0h1m4 0h1m19 0h1m165 0h1M45 63h1m2 0h1m18 0h2m8 0h2m17 0h3m2 0h1m1 0h1m12 0h1m2 0h1m1 0h1m16 0h1m9 0h2m3 0h1m3 0h1m4 0h1m22 0h1m2 0h1m1 0h1m1 0h1m2 0h2M61 65h2m23 0h1m5 0h1m6 0h1m13 0h1m1 0h1m7 0h1m6 0h1m14 0h1m23 0h1m14 0h1m17 0h1m3 0h1M63 67h1"/>
<path stroke="#00fc00" d="M446 13h2M357 15h1M344 17h1m32 0h1M328 19h2M326 21h1m4 0h1M314 23h1M308 27h1m2 0h1m4 0h1M305 31h1M300 39h1m1 0h1M298 41h1M271 43h1m13 0h1m7 0h1M284 45h1m1 0h1m3 0h2m2 0h1M263 47h2m13 0h1M292 49h1M251 51h1M252 53h1M241 55h1m7 0h1M1 57h2m4 0h2m212 0h1m4 0h1m2 0h1m9 0h1m15 0h2M13 59h2m5 0h2m2 0h1m26 0h1m3 0h1m162 0h1M17 61h2m15 0h3m3 0h1m110 0h2m19 0h1m16 0h1m21 0h1m3 0h1M43 63h1m12 0h1m9 0h1m2 0h1m9 0h1m1 0h1m1 0h2m10 0h1m6 0h1m14 0h2m8 0h2m4 0h1m13 0h1m7 0h1m2 0h1m2 0h1m5 0h1m25 0h2M46 65h2m10 0h2m10 0h1m2 0h1m26 0h1m24 0h1m54 0h1m24 0h1"/>
<path stroke="#00fa00" d="M432 11h1m63 0h1M406 13h1m34 0h1m6 0h1m22 0h2m26 0h1M383 15h1m16 0h1m19 0h1M341 17h1m9 0h1m2 0h1m13 0h1m1 0h1m27 0h1M315 23h1M303 35h1M272 41h1m24 0h1M277 43h1m17 0h1M288 47h1M267 49h1M247 51h1M245 53h1m7 0h1M232 55h2m8 0h1M3 57h2m1 0h1m213 0h1m2 0h1M23 59h1m3 0h2m2 0h3M41 61h1m7 0h1m87 0h1m12 0h1m3 0h1m8 0h1m1 0h2m6 0h1m12 0h1m22 0h2m1 0h2M44 63h1m12 0h1m7 0h1m8 0h3m3 0h1m1 0h1m10 0h2m9 0h5m1 0h1m9 0h1m1 0h1m9 0h1m3 0h1m5 0h1m3 0h1m9 0h1m2 0h2m7 0h1m1 0h1m5 0h1m5 0h2m13 0h1m1 0h2m3 0h1m3 0h1M60 65h1m26 0h1m38 0h1m50 0h3"/>
<path stroke="#00f700" d="M460 11h1M391 13h1m23 0h1m7 0h1m4 0h1m7 0h1m8 0h1m45 0h1M384 15h1m37 0h1M340 17h1m1 0h1M333 19h1m15 0h1M313 21h1m18 0h1m4 0h1M319 23h1m2 0h1M310 25h1m6 0h1M309 27h1m2 0h1M305 29h1M306 31h1M304 33h1M300 37h3M298 39h2M296 41h1M276 43h1m3 0h1m2 0h1M260 45h1m26 0h1m1 0h1M259 47h1m19 0h1M268 49h1M0 55h1m242 0h1M5 57h1m3 0h4m24 0h3m188 0h1M15 59h2m2 0h1m2 0h1m2 0h2m2 0h2m140 0h1m45 0h1m6 0h1m10 0h1M42 61h1m2 0h1m2 0h1m19 0h1m60 0h1m8 0h1m9 0h1m4 0h1m10 0h1m9 0h2m9 0h1m1 0h2m1 0h3m21 0h1M62 63h1m22 0h1m2 0h4m17 0h1m1 0h2m1 0h2m7 0h2m6 0h1m2 0h2m3 0h3m1 0h3m23 0h1m11 0h1m2 0h1m13 0h1m2 0h3m3 0h1M63 65h2m6 0h2"/>
<path stroke="#00f400" d="M386 13h1m3 0h1m48 0h1M402 15h1M338 17h1m7 0h1M330 19h1M314 21h1m19 0h2M318 23h1m1 0h2M307 27h1M285 41h1m7 0h1M270 43h1m10 0h2m1 0h1m1 0h1m3 0h2m2 0h1M265 47h1m26 0h1M231 53h1M1 55h1m5 0h1m222 0h1m19 0h1M13 57h1m6 0h2m2 0h1m27 0h3m170 0h1m12 0h1M17 59h2m15 0h3m13 0h1m101 0h1m19 0h1m38 0h1m24 0h1M43 61h1m23 0h1m9 0h3m15 0h4m2 0h3m12 0h2m1 0h1m1 0h1m6 0h1m18 0h1m1 0h1m7 0h1m3 0h2m30 0h1m1 0h2M46 63h2m10 0h1m2 0h1m8 0h1m2 0h1m12 0h1m5 0h1m6 0h1m13 0h1m16 0h1m74 0h2"/>
<path stroke="#00f200" d="M449 11h1m14 0h1M367 13h1m69 0h1m41 0h1m20 0h2M343 15h1m11 0h1m40 0h1M323 23h2M316 25h1M305 27h1M303 33h1M301 35h2M296 39h2M269 41h1m25 0h1M274 43h1M261 45h2m25 0h1M258 49h1M244 53h1m3 0h1M2 55h3m1 0h1m1 0h1m231 0h1m13 0h1m2 0h1M14 57h1m8 0h1m3 0h2m2 0h3m17 0h1m3 0h1m163 0h1M40 59h2m108 0h2m2 0h1m11 0h1m6 0h1m15 0h1m19 0h2m4 0h2M56 61h1m8 0h2m2 0h1m10 0h2m1 0h2m20 0h2m3 0h1m7 0h1m3 0h1m4 0h1m4 0h2m2 0h1m5 0h1m3 0h1m8 0h1m2 0h2m7 0h2m1 0h1m5 0h1m5 0h1m11 0h1m5 0h1m3 0h1M59 63h2m26 0h1m12 0h1m24 0h1m54 0h1"/>
<path stroke="#00ef00" d="M465 11h1M393 13h1m20 0h1m20 0h1m52 0h1M339 15h1m12 0h2m17 0h1m23 0h1m5 0h1m105 0h1M327 17h1M326 19h1m4 0h1m4 0h1m11 0h1m1 0h1M315 21h1M308 25h1m2 0h1M306 29h1M304 31h1M300 35h1M298 37h2M293 39h1M271 41h1m1 0h1m9 0h1m10 0h1M275 43h1m11 0h1m1 0h1M278 45h1M266 47h1M5 55h1m3 0h1m1 0h2m24 0h3M15 57h2m2 0h1m2 0h1m2 0h2m2 0h2m140 0h1m55 0h1m9 0h1M42 59h1m6 0h1m79 0h1m7 0h1m25 0h1m1 0h1m8 0h2m10 0h2m3 0h1m20 0h2M44 61h1m12 0h1m16 0h3m5 0h1m2 0h1m2 0h4m1 0h2m9 0h1m2 0h3m4 0h1m5 0h1m3 0h1m6 0h1m7 0h1m1 0h1m2 0h1m11 0h1m3 0h1m20 0h1m1 0h1m13 0h1m1 0h1m1 0h1m5 0h2M64 63h1m6 0h2m53 0h1m50 0h3"/>
<path stroke="#00ec00" d="M433 11h1M487 13h1M341 15h1m2 0h1m32 0h1m1 0h1m17 0h1m1 0h1M328 17h2m17 0h1M313 19h1M325 21h1M310 23h1m6 0h1M305 25h1m3 0h1M303 31h1M301 33h2M297 37h1M272 39h1m12 0h1M277 41h1m4 0h1m1 0h1m1 0h1m4 0h1M264 45h1m14 0h1m12 0h1M267 47h1M246 49h1M0 53h1m6 0h1m233 0h1M10 55h1m2 0h1m6 0h2m2 0h1m27 0h3m166 0h2M17 57h2m15 0h3m13 0h1m167 0h1m15 0h1M43 59h1m1 0h1m2 0h1m18 0h2m8 0h2m17 0h3m2 0h1m1 0h1m12 0h1m2 0h1m18 0h1m9 0h2m3 0h1m3 0h1m4 0h1m1 0h1m20 0h1m2 0h1m1 0h1m1 0h1m2 0h2M47 61h1m13 0h2m23 0h1m5 0h1m6 0h1m11 0h2m2 0h1m7 0h1m6 0h1m3 0h2m4 0h1m2 0h1m1 0h1m23 0h1m14 0h1m13 0h1m3 0h2m2 0h1M63 63h1"/>
<path stroke="#00ea00" d="M363 13h1m1 0h1m39 0h1M342 15h1m2 0h1M333 17h1M314 19h1m17 0h1m1 0h1M319 21h1M307 25h1m4 0h1M306 27h1M300 33h1M298 35h2M296 37h1M295 39h1M276 41h1m3 0h2m8 0h1M288 43h1M263 45h1M268 47h1M251 49h1M245 51h1m6 0h1M1 53h3m2 0h1m1 0h1m233 0h1m6 0h1M14 55h1m8 0h1m3 0h2m2 0h3m17 0h1m3 0h1m164 0h1m2 0h1m2 0h1m12 0h1m15 0h2M40 57h2m109 0h2m19 0h1m16 0h1m21 0h1m5 0h1M56 59h1m9 0h1m2 0h1m9 0h1m3 0h1m11 0h1m6 0h1m14 0h2m2 0h1m5 0h2m18 0h1m7 0h1m2 0h1m2 0h1m5 0h1m25 0h2m19 0h1M46 61h1m11 0h1m11 0h1m2 0h1m26 0h1m12 0h1m11 0h1m79 0h1"/>
<path stroke="#00e700" d="M411 13h1M354 15h1m26 0h1M322 21h1M316 23h1M293 37h1M294 39h1M270 41h1m16 0h1m1 0h1M247 49h1M253 51h1M4 53h1m7 0h1m25 0h1m193 0h2m9 0h1M15 55h1m3 0h1m2 0h1m3 0h1m2 0h2m198 0h1M49 57h1m100 0h1m3 0h1m11 0h1m6 0h1m35 0h1m25 0h1M44 59h1m20 0h1m9 0h1m4 0h2m2 0h1m9 0h1m10 0h2m3 0h1m11 0h1m9 0h2m2 0h1m5 0h1m3 0h1m9 0h1m2 0h1m8 0h1m1 0h1m5 0h1m5 0h1m17 0h1m3 0h1M59 61h2m26 0h1m92 0h1"/>
<path stroke="#00e400" d="M330 17h1M315 19h1m21 0h1M318 21h1m1 0h2m1 0h2M304 29h1M301 31h1M297 35h1M269 39h1m12 0h2m2 0h1M274 41h1M260 43h1m31 0h1M259 45h1m5 0h1M5 53h1m3 0h3m25 0h1m1 0h1m190 0h1M16 55h1m8 0h1m202 0h1m9 0h1M42 57h1m94 0h1m25 0h1m1 0h1m8 0h1m11 0h1m23 0h1m1 0h2m1 0h2m7 0h1M57 59h1m16 0h1m1 0h1m5 0h1m2 0h1m7 0h1m10 0h1m2 0h2m5 0h1m5 0h1m3 0h1m14 0h1m20 0h1m22 0h1m13 0h1m1 0h1m1 0h1m6 0h1M64 61h1m7 0h1m53 0h1m50 0h3"/>
<path stroke="#00e200" d="M425 11h1M387 13h1M351 15h1M305 23h1m2 0h2m1 0h1M303 29h1M302 31h1M298 33h1M296 35h1M285 37h1m9 0h1M271 39h1m1 0h1m10 0h1m5 0h2M275 41h1M262 43h1m15 0h1M266 45h1M258 47h1M0 51h1m230 0h1m12 0h1M13 53h1m6 0h2m2 0h1m215 0h1m9 0h1m3 0h1M17 55h1m17 0h1m135 0h1m47 0h1m5 0h1M45 57h1m2 0h1m80 0h1m8 0h1m9 0h1m4 0h1m10 0h1m10 0h1m9 0h1m1 0h2m2 0h2m43 0h1M88 59h4m17 0h1m1 0h2m2 0h1m15 0h1m2 0h2m4 0h2m1 0h3m35 0h1m2 0h1m13 0h1m3 0h2m3 0h1M63 61h1m7 0h1"/>
<path stroke="#00df00" d="M485 11h1m12 0h1M343 13h1m72 0h1M358 15h1m39 0h1m79 0h1M335 19h1M310 21h1M300 31h1M299 33h1M272 37h1M277 39h1m3 0h1M288 41h1M261 43h1m2 0h1m14 0h1M267 45h1M1 51h1m5 0h2m239 0h1M14 53h1m37 0h3m202 0h1M18 55h1m15 0h1m1 0h1m13 0h1m186 0h1M43 57h1m23 0h2m8 0h2m17 0h3m2 0h1m1 0h1m12 0h1m2 0h1m1 0h1m27 0h1m7 0h1m4 0h1m27 0h1m4 0h2M46 59h2m13 0h2m23 0h1m5 0h1m6 0h1m13 0h1m9 0h1m6 0h1m38 0h1m36 0h1"/>
<path stroke="#00dc00" d="M467 11h1M376 13h1M327 15h1M331 17h1m17 0h1M317 21h1M307 23h1M306 25h1M293 35h1M283 37h1m10 0h1M276 39h1m3 0h1m6 0h1m1 0h1M292 41h1M263 43h1M268 45h1M246 47h1M2 51h3m1 0h1m234 0h1M15 53h1m7 0h1m3 0h2m2 0h3m17 0h1m3 0h1M40 55h2m110 0h1m19 0h1m16 0h1m28 0h1m8 0h1m6 0h1M56 57h1m9 0h1m12 0h1m15 0h1m6 0h1m14 0h1m10 0h1m18 0h1m7 0h1m5 0h1m5 0h1m25 0h1M58 59h1m11 0h1m2 0h1m26 0h1m24 0h1m79 0h1"/>
<path stroke="#00da00" d="M362 13h1m80 0h1m32 0h1M338 15h1m1 0h1M313 17h1m12 0h1M312 23h1M304 27h1M301 29h2M297 33h1M285 35h1M282 37h1m1 0h1m1 0h1m4 0h1M270 39h1M251 47h1M245 49h1m6 0h1M9 51h1m1 0h2m25 0h1m203 0h1m6 0h1M16 53h1m2 0h1m2 0h1m3 0h1m2 0h2m190 0h2m16 0h1m15 0h1M150 55h2m14 0h1m6 0h1m37 0h1m5 0h1M44 57h1m24 0h1m10 0h2m1 0h2m20 0h1m4 0h1m7 0h1m3 0h1m4 0h1m4 0h2m2 0h1m5 0h1m3 0h1m11 0h1m11 0h1m11 0h1m11 0h1m5 0h1m13 0h1M59 59h2m26 0h1m92 0h1"/>
<path stroke="#00d700" d="M366 11h1m102 0h1M361 13h1m23 0h1m27 0h1m30 0h1m11 0h1M328 15h1m41 0h1M314 17h1M303 27h1M300 29h1M298 31h1M296 33h1M295 35h1M269 37h1m20 0h1M274 39h2M278 41h1M265 43h1M247 47h1M5 51h1m4 0h1m26 0h1m1 0h1m192 0h2m9 0h1M25 53h1m194 0h1m2 0h1m2 0h1m2 0h1m26 0h1M42 55h1m6 0h1m87 0h1m16 0h1m8 0h1m1 0h1m20 0h1m22 0h2m24 0h1M57 57h1m7 0h1m8 0h3m16 0h2m9 0h1m1 0h3m11 0h1m35 0h1m2 0h2m7 0h1m7 0h1m6 0h1m13 0h1m1 0h1m4 0h1m3 0h1M126 59h1m51 0h2"/>
<path stroke="#00d400" d="M391 11h1m39 0h1m30 0h1m21 0h1m12 0h1M339 13h1m16 0h1M336 17h1M319 19h1m5 0h1M305 21h1M299 31h1M293 33h1M294 35h1M271 37h1m1 0h1m3 0h1m3 0h1M288 39h1M260 41h1M259 43h1m6 0h1M0 49h1m6 0h1m223 0h1m21 0h1M13 51h1m6 0h2m2 0h1m205 0h1M17 53h2m16 0h1m135 0h1m56 0h1m9 0h1M45 55h1m2 0h1m80 0h1m23 0h1m10 0h1m9 0h2m9 0h1m1 0h1m3 0h1m20 0h1m3 0h1m19 0h1M82 57h1m2 0h1m2 0h4m17 0h1m1 0h2m1 0h2m8 0h1m6 0h1m2 0h2m3 0h3m1 0h3m35 0h1m16 0h1m2 0h1m5 0h1M64 59h1m6 0h2m104 0h1"/>
<path stroke="#00d200" d="M463 11h1M344 13h1m19 0h1m29 0h1m5 0h1m6 0h1M329 15h1M308 21h2m1 0h1m4 0h1M272 35h1m9 0h2M280 37h1m6 0h1m1 0h1M292 39h1M261 41h2m16 0h1M267 43h1M258 45h1M1 49h1m4 0h1m1 0h1m235 0h1M14 51h1m8 0h1m28 0h3m185 0h1m9 0h1m3 0h1M34 53h1m1 0h1m13 0h1m186 0h1M43 55h1m23 0h2m8 0h1m18 0h1m4 0h1m36 0h1m9 0h2m38 0h1m1 0h1m1 0h1m20 0h1m1 0h1m8 0h1M47 57h1m13 0h2m23 0h1m12 0h1m23 0h1m6 0h1m38 0h1m14 0h1m17 0h2M63 59h1"/>
<path stroke="#00cf00" d="M434 11h1M418 13h1M333 15h1m34 0h2m2 0h1M315 17h1m16 0h1M318 19h1m2 0h2M306 23h1M304 25h1M301 27h2M296 31h2M285 33h1M284 35h1m1 0h1m3 0h2M276 37h1M264 41h1M268 43h1M2 49h3m7 0h1m235 0h1M15 51h1m11 0h2m2 0h3m17 0h1m205 0h1M40 53h2m110 0h1m19 0h1m46 0h1m5 0h1M56 55h1m21 0h2m15 0h1m1 0h2m3 0h2m12 0h2m1 0h1m1 0h1m6 0h1m18 0h1m9 0h1m3 0h2m30 0h1m1 0h2M46 57h1m11 0h1m11 0h1m2 0h1m18 0h1m20 0h1m91 0h2"/>
<path stroke="#0c0" d="M457 11h1M341 13h1m33 0h1m32 0h1m13 0h1M359 15h2M310 19h1m9 0h1m2 0h2M307 21h1M303 25h1M300 27h1M298 29h2M295 33h1M270 37h1m17 0h1M263 41h1M246 45h1M5 49h1m3 0h1m1 0h1m229 0h1M16 51h1m2 0h1m2 0h1m2 0h2m2 0h2m24 0h1m183 0h1M151 53h1m37 0h1m28 0h1m8 0h1m6 0h1M44 55h1m21 0h1m2 0h1m11 0h1m1 0h2m20 0h1m4 0h1m7 0h1m3 0h1m4 0h1m5 0h1m2 0h1m18 0h1m2 0h1m8 0h1m14 0h1m11 0h1M59 57h1m40 0h1m24 0h1m54 0h1"/>
<path stroke="#00ca00" d="M461 11h1M342 13h1m10 0h1m63 0h1m87 0h1m3 0h1M346 15h1M334 17h1m13 0h1M305 19h1M293 31h1M283 33h1m10 0h1M269 35h1m3 0h1m13 0h1m1 0h1M274 37h2M278 39h1M265 41h1M251 45h1M0 47h1M10 49h1m26 0h3m192 0h1m9 0h1m6 0h1M255 51h1M42 53h1m6 0h1m87 0h1m12 0h1m3 0h1m8 0h1m2 0h1m6 0h1m12 0h1m24 0h1m23 0h1M65 55h1m9 0h1m4 0h1m13 0h1m9 0h1m1 0h1m13 0h1m11 0h1m9 0h1m3 0h1m9 0h1m2 0h2m7 0h1m1 0h1m5 0h1m6 0h1m13 0h1m2 0h1m3 0h1m9 0h1M60 57h1m26 0h1m38 0h1m51 0h2"/>
<path stroke="#00c700" d="M459 11h1m8 0h1m14 0h1m11 0h1M357 13h1m20 0h1m30 0h1m92 0h1M313 15h1m16 0h1m51 0h1M350 17h1M317 19h1M312 21h1M301 25h2M297 29h1M272 33h1m9 0h1m1 0h1m1 0h1m4 0h1M271 35h1m5 0h1m3 0h1M292 37h1M279 39h1M266 41h1M247 45h1M1 47h1m5 0h1m237 0h1m6 0h1M13 49h2m5 0h2m2 0h1m208 0h1m9 0h1M17 51h2m16 0h1m135 0h1m48 0h3m3 0h1m2 0h1m8 0h1m17 0h1M45 53h1m83 0h1m35 0h1m8 0h2m15 0h1m17 0h2m6 0h1M57 55h1m16 0h1m1 0h1m5 0h1m2 0h1m3 0h3m1 0h1m13 0h3m4 0h1m9 0h1m6 0h1m7 0h1m1 0h1m2 0h1m36 0h1m17 0h1m1 0h1m6 0h1M64 57h1m6 0h2m104 0h1"/>
<path stroke="#00c400" d="M450 9h1M424 11h1M383 13h1m4 0h1m21 0h1M314 15h1M298 27h1M296 29h1M285 31h1m9 0h1M290 33h1M276 35h1m3 0h1M260 39h1M259 41h1m7 0h1M2 47h1m3 0h1m1 0h1m222 0h1m21 0h1M23 49h1m206 0h1M34 51h1m1 0h1m13 0h1m172 0h1m4 0h1M43 53h1m4 0h1m18 0h2m8 0h1m18 0h1m41 0h1m9 0h1m4 0h1m10 0h1m20 0h1m1 0h2m1 0h1m1 0h1m19 0h1m3 0h1m19 0h1M47 55h1m14 0h1m23 0h1m1 0h1m22 0h2m2 0h1m7 0h1m10 0h2m4 0h1m2 0h1m1 0h1m23 0h1m14 0h1m13 0h1m3 0h2m3 0h1M63 57h1"/>
<path stroke="#00c200" d="M432 9h1m16 0h1m10 0h1M423 11h1m2 0h1M327 13h1m17 0h1m6 0h1m36 0h1m52 0h1m60 0h1M347 15h1M335 17h1m1 0h1M308 19h1M303 23h2M300 25h1M299 27h1M293 29h1M294 31h1M270 35h1m17 0h1M261 39h2m1 0h1M268 41h1M3 47h2m7 0h1m231 0h1M15 49h1m11 0h2m2 0h3m18 0h3m185 0h1m9 0h1M40 51h2m130 0h1m64 0h1M78 53h1m16 0h1m1 0h2m2 0h1m1 0h1m12 0h2m1 0h1m1 0h1m25 0h1m1 0h1m7 0h1m3 0h2m32 0h2m16 0h1m1 0h1M46 55h1m11 0h1m2 0h1m8 0h1m2 0h1m18 0h1m6 0h1m13 0h1m16 0h1m75 0h1"/>
<path stroke="#00bf00" d="M431 9h1m1 0h1M374 13h1m9 0h1M326 15h1m150 0h1M319 17h1M309 19h1m1 0h1m4 0h1M306 21h1M283 31h1M287 33h1m1 0h1M274 35h1m17 0h1M263 39h1M258 43h1M5 47h1m3 0h1m1 0h1m236 0h1M16 49h1m2 0h1m2 0h1m2 0h2m2 0h2m20 0h1m3 0h1m198 0h1m2 0h1M151 51h2m36 0h1m29 0h1m14 0h1M56 53h1m9 0h1m2 0h1m9 0h1m3 0h1m18 0h1m15 0h1m8 0h2m26 0h1m2 0h1m8 0h1m25 0h1m30 0h1M100 55h1m24 0h1m79 0h1"/>
<path stroke="#00bc00" d="M434 9h1m19 0h2m1 0h3M367 11h1m62 0h1m27 0h1M402 13h1m9 0h1M315 15h1m15 0h1M305 17h1m4 0h1m14 0h1M307 19h1M301 23h2M297 27h1M285 29h1M282 31h1m1 0h1m1 0h1m3 0h2M269 33h1m1 0h1m1 0h1m7 0h1M275 35h1M278 37h1M246 43h1M0 45h1M10 47h1m26 0h2m202 0h1M17 49h1m221 0h1M42 51h1m6 0h1m100 0h1m3 0h1m11 0h1m6 0h1m51 0h1M44 53h1m20 0h1m9 0h1m4 0h2m2 0h1m9 0h1m10 0h2m3 0h1m11 0h1m9 0h2m2 0h1m5 0h1m3 0h1m9 0h1m2 0h1m8 0h1m1 0h1m5 0h1m5 0h1m11 0h1m5 0h1M59 55h2m26 0h1m92 0h1"/>
<path stroke="#00ba00" d="M432 7h1m17 0h1m9 0h1M436 9h1m1 0h1m1 0h1m6 0h2m2 0h3m10 0h3m6 0h3M343 11h1m60 0h1m1 0h1m12 0h1m7 0h1m1 0h1m17 0h2m3 0h4m14 0h2m2 0h1m5 0h2m7 0h1m3 0h2M328 13h1m26 0h1m39 0h2m107 0h1M318 17h1M300 23h1M298 25h2M296 27h1M295 29h1M272 31h1M277 33h1m10 0h1M279 37h1M265 39h2M251 43h1M1 45h1m5 0h1m237 0h1m6 0h1M13 47h2m5 0h2m2 0h1m14 0h1m192 0h2m8 0h1m6 0h1M18 49h1m236 0h2M45 51h1m91 0h1m25 0h1m1 0h1m20 0h1m24 0h1m6 0h1m8 0h1m7 0h1M57 53h1m16 0h1m1 0h1m5 0h1m2 0h1m7 0h1m10 0h1m2 0h2m5 0h1m5 0h1m18 0h1m20 0h1m22 0h1m13 0h1m6 0h1m9 0h1M64 55h1m7 0h1m53 0h1m50 0h3"/>
<path stroke="#00b700" d="M433 7h1m15 0h1M435 9h1m1 0h1m1 0h1m1 0h1m3 0h2m20 0h1m1 0h1m2 0h1M386 11h1m3 0h1m1 0h1m35 0h1m6 0h7m3 0h2m4 0h1m20 0h2m1 0h1m10 0h3m1 0h3m6 0h3M338 13h1m62 0h1m1 0h1m16 0h2m84 0h1M322 17h1M303 21h2M293 27h1M294 29h1M276 33h1m3 0h1M260 37h1M259 39h1m7 0h2M247 43h1M2 45h1m3 0h1m1 0h1m244 0h1M243 47h1M34 49h2m135 0h1m50 0h1m6 0h1m8 0h1M48 51h1m80 0h1m23 0h1m10 0h1m9 0h2m9 0h1m1 0h1m3 0h1m17 0h2m6 0h1m18 0h1M88 53h4m17 0h1m1 0h2m2 0h1m8 0h1m6 0h1m2 0h2m4 0h2m1 0h3m35 0h1m17 0h1m1 0h1m6 0h1M71 55h1"/>
<path stroke="#00b400" d="M431 7h1m2 0h1m20 0h1m1 0h3M442 9h3m11 0h1m11 0h1m1 0h1m5 0h1M415 11h1m27 0h2m11 0h1m19 0h1m2 0h1M340 13h1m56 0h1m1 0h1m78 0h1M336 15h1M320 17h2m1 0h1M306 19h1m5 0h1M301 21h1M297 25h1M283 29h1M287 31h1m1 0h1M270 33h1m21 0h1M261 37h2m1 0h1M3 45h2M23 47h1m3 0h1m3 0h1m20 0h3m195 0h1M36 49h1m13 0h1m169 0h2m4 0h1M43 51h1m23 0h2m8 0h1m18 0h1m4 0h1m36 0h1m9 0h2m38 0h1m1 0h1m1 0h1M47 53h1m13 0h2m23 0h1m36 0h1m6 0h1m38 0h1m14 0h1m13 0h1m3 0h2m3 0h1M63 55h1"/>
<path stroke="#00b200" d="M432 5h1m17 0h1M447 7h2m2 0h4m9 0h1m1 0h1m7 0h1M471 9h1M393 11h1m20 0h1m7 0h1m19 0h1m59 0h2M313 13h1m15 0h1m43 0h1m3 0h1m1 0h1m97 0h1M305 15h1M308 17h1M302 21h1M298 23h1M285 27h1M282 29h1m1 0h1m1 0h1m4 0h1M269 31h1M263 37h1M258 41h1M11 45h2m218 0h1m12 0h1m3 0h1M15 47h1m10 0h1m1 0h1m3 0h2m196 0h1m9 0h1m13 0h1m2 0h1M40 49h2m130 0h1m50 0h1m4 0h1m8 0h1M78 51h1m16 0h1m1 0h2m4 0h1m12 0h2m1 0h1m1 0h1m25 0h1m9 0h1m3 0h2m32 0h2m15 0h2m1 0h2M46 53h1m11 0h1m11 0h1m2 0h1m18 0h1m6 0h1m13 0h1"/>
<path stroke="#00af00" d="M433 5h1m15 0h1m10 0h1M435 7h7m3 0h2m18 0h1m1 0h1m4 0h2m1 0h1M339 11h1m45 0h1m19 0h1m10 0h1M351 13h1m2 0h1M332 15h1m16 0h1M307 17h1m1 0h1m7 0h1m6 0h1M300 21h1M299 23h1M296 25h1M295 27h1M290 29h1M271 31h1m1 0h1m7 0h1M274 33h2M265 37h1M246 41h1M0 43h1M5 45h1m3 0h2M16 47h1m2 0h1m2 0h1m6 0h2m20 0h1m3 0h1M152 49h1m36 0h1m44 0h1M56 51h1m9 0h1m2 0h1m9 0h1m3 0h1m18 0h1m15 0h1m9 0h1m26 0h1m11 0h1m25 0h1M100 53h1m24 0h1m80 0h1"/>
<path stroke="#00ac00" d="M431 5h1m2 0h1m22 0h1M443 7h2m11 0h1m11 0h3m5 0h1M387 11h1m23 0h1m5 0h2m59 0h1m25 0h1M314 13h1m18 0h1m37 0h1m8 0h1M311 17h1M303 19h2M293 25h1M294 27h1M272 29h1M288 31h1M278 35h1M266 37h2M247 41h1m3 0h1M252 43h1M37 45h2m202 0h1m7 0h1M25 47h1m213 0h1m15 0h2M42 49h1m6 0h1m100 0h2m14 0h1m6 0h1m45 0h1m5 0h1M44 51h1m35 0h2m2 0h1m20 0h1m4 0h1m11 0h1m4 0h1m4 0h2m2 0h1m5 0h1m3 0h1m11 0h1m11 0h1m11 0h1m11 0h1m29 0h1M59 53h2m26 0h1m92 0h1m24 0h1"/>
<path stroke="#0a0" d="M450 3h1M453 5h3m2 0h2M442 7h1m28 0h1M425 9h1M344 11h1m38 0h2m28 0h1m7 0h1m55 0h1M381 13h1m16 0h1m109 0h1M310 15h1m23 0h1M301 19h2M297 23h1M283 27h1M287 29h1m1 0h1M277 31h1m14 0h1M260 35h1m1 0h1m16 0h1M259 37h1m8 0h1M1 43h1m5 0h1m237 0h1m7 0h1M13 45h1m6 0h2m17 0h1m202 0h1M17 47h1M137 49h1m16 0h1m8 0h1m1 0h1m20 0h1m31 0h1m8 0h1m7 0h1M57 51h1m7 0h1m9 0h1m17 0h2m9 0h1m1 0h3m11 0h1m35 0h1m2 0h2m7 0h1m7 0h1m6 0h1m13 0h1m2 0h1M126 53h1m51 0h2"/>
<path stroke="#00a700" d="M432 3h1m27 0h1M436 5h5m6 0h2m2 0h2m11 0h3m6 0h3M430 9h1m30 0h3M341 11h1m21 0h1m1 0h1m54 0h1m84 0h1M306 17h1M300 19h1M298 21h1M296 23h1M286 27h1m4 0h1M270 31h1m5 0h1m3 0h1M261 35h1m2 0h1M258 39h1M2 43h2m2 0h1m1 0h1M14 45h1m9 0h1m207 0h2m9 0h1m6 0h1m3 0h1m2 0h1M18 47h1m16 0h1m135 0h1m66 0h1M45 49h1m2 0h1m80 0h1m44 0h2m15 0h1m19 0h1M74 51h1m1 0h1m5 0h1m2 0h1m3 0h3m17 0h1m4 0h1m9 0h1m6 0h1m7 0h1m1 0h1m2 0h1m36 0h1m17 0h1m4 0h1m9 0h1M64 53h1m6 0h2m104 0h1"/>
<path stroke="#00a400" d="M431 3h1m1 0h1m15 0h1M435 5h1m5 0h1m1 0h1m1 0h2m20 0h3m2 0h1m3 0h1M423 9h2m1 0h4M376 11h1M305 13h1m24 0h1M308 15h1M303 17h1m12 0h1M299 21h1M285 25h1m9 0h1M282 27h1m1 0h1m5 0h1M269 29h1M263 35h1M4 43h1m239 0h1m3 0h1M23 45h1M34 47h1m1 0h1m13 0h1m169 0h3m3 0h1m2 0h1M43 49h1m24 0h1m69 0h1m9 0h1m4 0h1m10 0h1m20 0h1m1 0h2m1 0h1m1 0h1m16 0h2m6 0h1m18 0h1M47 51h1m14 0h1m25 0h1m22 0h2m2 0h1m7 0h1m10 0h2m4 0h1m2 0h1m1 0h1m23 0h1m14 0h1m13 0h1m2 0h1m6 0h1M63 53h1"/>
<path stroke="#00a200" d="M432 1h1m17 0h1m9 0h1M434 3h1m1 0h5m6 0h2m2 0h5m1 0h3m13 0h3M442 5h1m1 0h1m11 0h1m13 0h2M366 9h1m39 0h1M327 11h1m14 0h1m51 0h1m5 0h1m6 0h1M307 15h1m11 0h1M301 17h1m2 0h1M293 23h1M294 25h1M271 29h1m1 0h1m14 0h1M274 31h1M265 35h2M246 39h1m4 0h1M5 43h1m6 0h1m218 0h1m17 0h1M15 45h1m11 0h2m2 0h2m19 0h3m175 0h1m9 0h1m14 0h1M40 47h1m187 0h1m8 0h1M67 49h1m9 0h2m17 0h3m2 0h1m1 0h1m12 0h1m2 0h1m1 0h1m27 0h1m7 0h1m4 0h1m32 0h1m20 0h1M46 51h1m14 0h1m24 0h1m5 0h1m6 0h1m13 0h1m16 0h1m71 0h2m3 0h1"/>
<path stroke="#009f00" d="M431 1h1m1 0h2m14 0h1m4 0h2m1 0h3M435 3h1m5 0h6m9 0h1m7 0h3m5 0h1m3 0h1M425 7h1m4 0h1m30 0h3M411 9h1m91 0h1M408 11h3M315 13h1m10 0h1m19 0h1m11 0h1m148 0h1M309 15h1M302 17h1M297 21h1M272 27h1m14 0h1m1 0h1M281 29h1m10 0h1M275 31h1M278 33h1M267 35h1M247 39h1M0 41h1m251 0h2M9 43h3M16 45h1m2 0h1m2 0h1m3 0h1m2 0h1m3 0h1m17 0h1m3 0h1m200 0h1M41 47h1m110 0h1m19 0h1m50 0h1M56 49h1m9 0h1m12 0h1m15 0h1m6 0h1m14 0h1m10 0h1m18 0h1m13 0h1m5 0h1m25 0h1m2 0h1m15 0h2m1 0h1M58 51h1m11 0h1m2 0h1m26 0h1m24 0h1"/>
<path stroke="#009c00" d="M435 1h7m3 0h4m2 0h3m18 0h4M467 3h3M426 7h1m2 0h1M419 9h1M356 11h1m55 0h1M318 15h1m6 0h1m9 0h1m1 0h1m10 0h1M300 17h1m11 0h1M298 19h2M296 21h1M283 25h1m7 0h1M260 33h3m1 0h1M259 35h1m8 0h1M1 41h1m243 0h1M38 43h1m202 0h1m8 0h1M25 45h1m4 0h1m208 0h1M151 47h1m37 0h1m44 0h1M44 49h1m24 0h1m11 0h1m1 0h2m20 0h1m4 0h1m7 0h1m3 0h1m4 0h1m5 0h1m2 0h1m18 0h1m2 0h1m23 0h1m11 0h1m29 0h1M59 51h1m120 0h1m24 0h2"/>
<path stroke="#009a00" d="M442 1h3m11 0h1m7 0h3m9 0h1M470 3h2M424 7h1m2 0h2M383 9h1m10 0h1m12 0h1M305 11h1m7 0h1m14 0h1m33 0h1m12 0h1m26 0h1M331 13h1m38 0h1M303 15h1m2 0h1M285 23h1m9 0h1M282 25h1m1 0h1m1 0h1m3 0h1M270 29h1m6 0h1M263 33h1m15 0h1M258 37h1M2 41h1m4 0h1m240 0h1M13 43h1m23 0h1m1 0h1m202 0h1m11 0h1m2 0h1M17 45h1M42 47h1m6 0h1m87 0h1m12 0h1m3 0h1m11 0h1m6 0h1m45 0h1m5 0h1m1 0h1m7 0h1M65 49h1m9 0h1m4 0h1m13 0h1m11 0h1m25 0h1m9 0h1m3 0h1m9 0h1m2 0h1m8 0h1m1 0h1m5 0h1m6 0h1M60 51h1m26 0h1m38 0h1"/>
<path stroke="#009a08" d="M467 1h5M462 5h2M423 7h1M408 9h3m11 0h1m81 0h1M361 11h1m16 0h1m9 0h2m5 0h3m1 0h1m1 0h1m1 0h1M368 13h2m2 0h1m9 0h1M311 15h1m38 0h1M269 27h1M276 29h1m3 0h1M3 41h1m2 0h1m1 0h1M14 43h1m5 0h2m2 0h1m207 0h2m9 0h1M18 45h1M45 47h1m117 0h1m1 0h1m20 0h1m31 0h1M57 49h1m16 0h1m1 0h1m16 0h1m10 0h1m2 0h2m11 0h1m39 0h1m36 0h1m2 0h1M178 51h2"/>
<path stroke="#009b13" d="M425 5h1m3 0h2m30 0h1M406 7h1m4 0h1m91 0h1M367 9h1m27 0h2m21 0h1M353 11h1m20 0h1M310 13h1M320 15h1m1 0h1M293 21h1M294 23h1M288 27h1M265 33h1M4 41h1m239 0h1m4 0h1M35 45h1m193 0h1m8 0h1M48 47h1m80 0h1m44 0h2m15 0h1m19 0h1m24 0h1M82 49h1m2 0h1m3 0h2m18 0h1m4 0h1m9 0h1m14 0h1m1 0h1m2 0h1m36 0h1m17 0h1m4 0h1m9 0h1M64 51h1m6 0h2m104 0h1"/>
<path stroke="#009d1d" d="M426 5h3M415 9h2m4 0h1m63 0h1M345 11h1m18 0h1m12 0h1m1 0h1m18 0h1m107 0h1M321 15h1M289 25h1M271 27h1m1 0h1M274 29h1M266 33h1M246 37h1m4 0h1M252 39h1M231 41h1M23 43h1m216 0h1m14 0h2M34 45h1m1 0h1m13 0h1m120 0h1m48 0h3m3 0h1m10 0h1M43 47h1m109 0h1m10 0h1m20 0h1m1 0h1m21 0h1m7 0h1M88 49h1m2 0h1m19 0h2m2 0h1m15 0h1m2 0h2m4 0h1m2 0h1m1 0h1m55 0h1"/>
<path stroke="#009e28" d="M424 5h1m78 0h1M383 7h1m35 0h1M375 9h1m38 0h1m2 0h1m66 0h1M380 11h1M347 13h1M301 15h1M297 19h1M283 23h1M272 25h1m14 0h1M281 27h1m10 0h1M275 29h1M260 31h1M267 33h2M247 37h1M0 39h1m252 0h1M5 41h1m3 0h1m2 0h1M15 43h1m11 0h2m2 0h2m19 0h1m177 0h1M228 45h1M67 47h2m69 0h1m9 0h1m39 0h1m1 0h1m1 0h1m17 0h1M47 49h1m14 0h1m23 0h1m36 0h1m45 0h1m14 0h1m13 0h1m9 0h1M63 51h1"/>
<path stroke="#009f33" d="M425 3h1m1 0h4m30 0h3M423 5h1M410 7h1m7 0h1m3 0h1m81 0h1M413 9h1m6 0h1m68 0h1m15 0h1M373 11h1m7 0h1M304 15h1m18 0h1M262 31h1m1 0h1m13 0h1M259 33h1M245 39h1M11 41h1M16 43h1m5 0h1m3 0h1m2 0h1m3 0h1m19 0h2M40 45h2m181 0h1m10 0h1M77 47h2m17 0h3m2 0h1m1 0h1m12 0h1m2 0h1m29 0h1m7 0h1m4 0h1m32 0h1m16 0h1m3 0h1M46 49h1m14 0h1m30 0h1m6 0h1m30 0h1m71 0h2m3 0h1"/>
<path stroke="#00a13d" d="M430 1h1m30 0h3M424 3h1m1 0h1m76 0h1M411 5h1M394 7h1m12 0h3m4 0h4m3 0h1M374 9h1m37 0h1m73 0h3m1 0h2M352 11h1m18 0h1M308 13h1m50 0h2M317 15h1M282 23h1m1 0h1m1 0h1m4 0h1M270 27h1M261 31h1M258 35h1M1 39h1M10 41h1m230 0h1m8 0h1m3 0h1m2 0h1M19 43h1m5 0h1m4 0h1m20 0h1m187 0h1M152 45h1m19 0h1m62 0h1M95 47h1m21 0h1m3 0h1m6 0h1m18 0h1m13 0h1m34 0h1m16 0h1m1 0h1m8 0h1M58 49h1m11 0h1m2 0h1m39 0h1"/>
<path stroke="#00a248" d="M425 1h5M423 3h1M418 5h2m2 0h1m81 0h1M395 7h2m23 0h1m63 0h2M302 15h1M298 17h1M296 19h1M285 21h1m9 0h1M290 23h1M269 25h1M277 27h1M263 31h1m15 0h1M7 39h1m240 0h1M38 41h1m193 0h2m8 0h1M55 43h1M189 45h1m29 0h1m5 0h1M44 47h1m11 0h1m9 0h1m12 0h1m22 0h1m52 0h1m11 0h1m25 0h1M100 49h1m24 0h1m80 0h1"/>
<path stroke="#00a353" d="M423 1h2m78 0h1M383 5h1m22 0h1m8 0h3m3 0h1M413 7h1m75 0h1M343 9h1m47 0h1M338 11h1m18 0h1m24 0h1M307 13h1M288 25h1M276 27h1m3 0h1M265 31h1M2 39h1m5 0h1M13 41h1m6 0h1m16 0h1m205 0h1M17 43h1m220 0h1M42 45h1m6 0h1m101 0h1m75 0h1m8 0h1M69 47h1m11 0h1m1 0h2m33 0h1m8 0h1m5 0h1m24 0h1m35 0h1M59 49h1m120 0h1m24 0h1"/>
<path stroke="#00a55d" d="M418 3h2m2 0h1M414 5h1m5 0h1M486 7h1m1 0h1m1 0h2m13 0h1M314 11h1m14 0h1M300 15h1m23 0h1M299 17h1M294 21h1M266 31h1M251 35h1M3 39h2m1 0h1m237 0h1m4 0h1M14 41h1m6 0h1m2 0h1m14 0h1m215 0h1M18 43h1m210 0h1m7 0h1M150 45h1m15 0h1m6 0h1m44 0h1M80 47h1m24 0h1m4 0h1m11 0h1m9 0h1m3 0h1m5 0h1m3 0h1m23 0h1m11 0h1M60 49h1m26 0h1"/>
<path stroke="#00a668" d="M422 1h1M411 3h1m3 0h3m3 0h1m82 0h1M410 5h1m2 0h1m70 0h2M412 7h1m74 0h1M400 9h1M372 11h1M336 13h1M293 19h1M283 21h1M287 23h1m1 0h1M271 25h1m1 0h1M274 27h1M267 31h1M246 35h1M252 37h1M231 39h1M230 41h1m9 0h1m15 0h1M34 43h2m186 0h1m3 0h1M45 45h1m91 0h1m16 0h1m8 0h1m22 0h1m24 0h1M65 47h1m9 0h1m18 0h1m11 0h1m49 0h1m2 0h2m7 0h1m7 0h1m6 0h1m16 0h1m13 0h1M126 49h1m52 0h1"/>
<path stroke="#00a773" d="M418 1h2M414 3h1m5 0h1M394 5h1m12 0h2m80 0h1M380 9h2m111 0h1M340 11h1m29 0h1M272 23h1M281 25h1m10 0h1M275 27h1M260 29h1M259 31h1m8 0h1M247 35h1M253 37h1M23 41h1m3 0h1M36 43h1m183 0h2m6 0h1m5 0h1M48 45h1m116 0h1m43 0h1m7 0h1M57 47h1m16 0h1m1 0h1m5 0h1m2 0h1m7 0h1m10 0h1m2 0h2m5 0h1m5 0h1m18 0h1m57 0h1m6 0h1M64 49h1m7 0h1m104 0h2"/>
<path stroke="#00a97d" d="M416 1h2m2 0h2m82 0h1M383 3h1M409 5h1m80 0h1M375 7h1M392 9h1m99 0h1M282 21h1m1 0h1m1 0h1M261 29h2m1 0h1m13 0h1M0 37h1m244 0h1M5 39h1m3 0h1m1 0h2m237 0h1M15 41h1m12 0h1m2 0h2m206 0h1M50 43h1m120 0h1m51 0h1m11 0h1M43 45h1m85 0h1m44 0h2m11 0h1m3 0h1m18 0h1M47 47h1m40 0h4m17 0h1m14 0h1m6 0h1m9 0h1m2 0h1m36 0h1m17 0h1m1 0h1m6 0h1M71 49h1"/>
<path stroke="#0a8" d="M411 1h1m3 0h1M406 3h1m6 0h1m71 0h1M395 5h2m15 0h1m73 0h3m2 0h1M386 9h1m3 0h1m2 0h1m3 0h1m1 0h1m96 0h1M355 11h1m13 0h1m139 0h1M309 13h1M297 17h1M285 19h1M290 21h2M270 25h1M263 29h1M258 33h1M10 39h1m230 0h1m12 0h1m2 0h1M16 41h1m2 0h1m2 0h1m3 0h1m2 0h1m3 0h1m18 0h1M40 43h2M138 45h1m14 0h1m10 0h1m20 0h1m2 0h1m23 0h1m3 0h1M46 47h1m64 0h2m2 0h1m18 0h2m4 0h1m2 0h1m1 0h1m38 0h1m13 0h1m8 0h1"/>
<path stroke="#00aa8b" d="M414 1h1M484 3h1m4 0h1M505 5h1M366 7h1m126 0h1M373 9h1m8 0h1m21 0h1m77 0h1m14 0h2M296 17h1M295 19h1M269 23h1M277 25h1M279 29h1M1 37h1m246 0h1M232 39h2m8 0h1M25 41h1m4 0h1m22 0h2m183 0h1M236 43h1M67 45h2m8 0h1m18 0h1m4 0h1m46 0h2m40 0h1m1 0h1m20 0h1m1 0h1m8 0h1M61 47h2m23 0h1m36 0h1m6 0h1m38 0h1m32 0h2M63 49h1"/>
<path stroke="#00aa8d" d="M383 1h1m100 0h2M410 3h1m75 0h3m1 0h2M374 7h1m117 0h1M398 9h1m6 0h1m77 0h1m10 0h2M368 11h1M332 13h1M288 23h1M276 25h1m3 0h1M265 29h1M7 37h1M13 39h1m24 0h1m204 0h1M17 41h1m33 0h1M219 43h1m5 0h1m1 0h1M78 45h1m18 0h2m4 0h1m12 0h1m2 0h1m1 0h1m35 0h1m4 0h1m32 0h2M92 47h1m6 0h1m13 0h1m92 0h1"/>
<path stroke="#00aa90" d="M413 1h1m72 0h6M407 3h1m4 0h1M391 7h1m8 0h1M385 9h1m1 0h1m92 0h2m17 0h1m6 0h1M333 11h1M283 19h1M266 29h1M251 33h1M252 35h1M2 37h2m2 0h1m1 0h1m222 0h1m12 0h1m4 0h1M20 39h2m15 0h1m202 0h1m14 0h2M18 41h1m36 0h1m173 0h1m7 0h1M42 43h1m109 0h1m19 0h1M44 45h1m11 0h1m22 0h1m15 0h1m6 0h1m14 0h1m10 0h1m18 0h1m13 0h1m31 0h1M58 47h1m11 0h1m2 0h1m131 0h1"/>
<path stroke="#00aa93" d="M394 3h1m13 0h2M493 5h1M367 7h1m114 0h1m13 0h1M371 9h1m128 0h2M298 15h1M293 17h1M294 19h1M287 21h1m1 0h1M271 23h1m1 0h1m7 0h1M274 25h1M267 29h1M246 33h1M253 35h1M4 37h1M14 39h1m9 0h1m14 0h1m190 0h1M226 41h1m7 0h1M49 43h1m139 0h1m28 0h1M66 45h1m2 0h1m48 0h1m36 0h1m11 0h1M100 47h1m24 0h1"/>
<path stroke="#00aa95" d="M394 1h1m11 0h5M395 3h2m108 0h1M374 5h2M380 7h2m10 0h2m3 0h1m1 0h1m95 0h1m1 0h2M365 9h1m18 0h1m4 0h1m89 0h1m22 0h1M507 11h1M316 15h1M282 19h1m3 0h1M272 21h1M292 23h1M275 25h1M260 27h1m1 0h1M259 29h1m8 0h1M247 33h1M23 39h1M34 41h2m186 0h1m5 0h1m6 0h1M151 43h1m59 0h1M81 45h1m1 0h2m20 0h1m4 0h1m11 0h1m4 0h1m5 0h1m2 0h1m21 0h1m23 0h1m11 0h1m19 0h1M59 47h1m120 0h1"/>
<path stroke="#00aa98" d="M395 1h2m15 0h1M375 3h1M366 5h2m124 0h1M386 7h1m3 0h1m13 0h1m78 0h1m10 0h1M376 9h1m24 0h3M351 11h1m156 0h1M301 13h1m1 0h1m2 0h1m42 0h1M285 17h1M284 19h1M270 23h1M261 27h1m2 0h1m13 0h1M258 31h1M0 35h1m244 0h1M5 37h1m6 0h1m228 0h1m8 0h1m3 0h1M15 39h1m11 0h2m2 0h1m207 0h1M36 41h1m183 0h2M45 43h1m104 0h1m3 0h1m11 0h1m6 0h1m43 0h1M65 45h1m14 0h1m25 0h1m25 0h1m9 0h1m3 0h1m12 0h1m8 0h1m1 0h1m5 0h1m23 0h1M60 47h1m26 0h1"/>
<path stroke="#00aa9b" d="M375 1h1M374 3h1m118 0h1M482 5h1m13 0h1M385 7h1m12 0h1m81 0h2m17 0h3M363 9h1m8 0h1M354 11h1M334 13h1M299 15h1M290 19h2M263 27h1M9 37h1m1 0h1m220 0h2m23 0h1M26 39h1m5 0h1M223 41h1m12 0h1M43 43h1m4 0h1m88 0h1m25 0h1m1 0h1m20 0h1m22 0h2M57 45h1m17 0h1m17 0h2m9 0h1m2 0h1m12 0h1m35 0h1m3 0h1m22 0h1m13 0h1m6 0h1m3 0h1M126 47h1m51 0h2"/>
<path stroke="#00aa9d" d="M374 1h1M366 3h2m124 0h1M380 5h1m19 0h1m96 0h2M382 7h1m1 0h1m20 0h1m73 0h1m22 0h1M344 9h1m8 0h1m24 0h1M315 11h1M319 13h1M312 15h1M269 21h1m18 0h1M277 23h1M279 27h1M1 35h1m246 0h1M10 37h1m231 0h1M16 39h1m2 0h1m2 0h1m6 0h2m2 0h1m204 0h1M40 41h1m9 0h1M174 43h1m41 0h1m7 0h1M47 45h1m26 0h1m1 0h1m5 0h1m2 0h1m22 0h1m5 0h1m9 0h1m14 0h1m59 0h1m1 0h1m5 0h1M64 47h1m7 0h1m104 0h1"/>
<path stroke="#00aaa0" d="M492 1h2M380 3h2M381 5h2m3 0h1m4 0h1m91 0h1m10 0h2M371 7h1m1 0h1m13 0h1M369 9h2m17 0h1m88 0h2M296 15h2M295 17h1M276 23h1m3 0h1M265 27h2M251 31h1M7 35h1m241 0h1M243 37h1M25 39h1m26 0h1m176 0h1m7 0h1M41 41h1m129 0h1m53 0h1m1 0h1M129 43h1m23 0h1m10 0h1m10 0h1m9 0h1m1 0h1m3 0h1m20 0h2m1 0h1M46 45h1m41 0h4m17 0h1m1 0h2m2 0h1m15 0h1m2 0h2m4 0h2m1 0h3m35 0h1m16 0h1m3 0h2M71 47h1"/>
<path stroke="#00aaa3" d="M366 1h2m12 0h2m123 0h1M382 3h1M373 5h1m25 0h1m80 0h2m17 0h1M370 7h1m1 0h1M352 9h1m15 0h1M330 11h1m27 0h1M300 13h1M283 17h1M271 21h1m1 0h1m7 0h1M274 23h1M267 27h1M246 31h1M252 33h1M2 35h1m3 0h1m1 0h1m222 0h1m12 0h1M13 37h1m6 0h1m17 0h1m191 0h1m9 0h1m14 0h2M17 39h1m35 0h2m179 0h1M219 41h1M67 43h2m8 0h1m18 0h1m41 0h1m9 0h1m39 0h1m1 0h1m1 0h1M62 45h1m23 0h1m36 0h1m45 0h1m14 0h1m21 0h1M63 47h1"/>
<path stroke="#00aaa5" d="M382 1h1M373 3h1m108 0h1m13 0h3M370 5h3m12 0h1m6 0h2m3 0h1m102 0h2M368 7h2m32 0h1M361 9h2m1 0h1m12 0h1m1 0h1M359 11h2M293 15h1M294 17h1M272 19h1m14 0h1m1 0h1M275 23h1M260 25h1m1 0h1m1 0h1M259 27h1m8 0h1M247 31h1M253 33h1M3 35h2M14 37h1m6 0h1m2 0h1m12 0h1M18 39h1m32 0h1M218 41h1M44 43h1m33 0h1m18 0h2m2 0h1m1 0h1m12 0h1m2 0h1m1 0h1m27 0h1m7 0h1m4 0h1m32 0h2M61 45h1m30 0h1m6 0h1m13 0h1m16 0h1"/>
<path stroke="#00aaa8" d="M373 1h1M371 3h2m110 0h1m10 0h2m3 0h1M368 5h2m14 0h1m5 0h1m7 0h1m5 0h1m74 0h1m22 0h1M365 7h1m23 0h1m11 0h1m1 0h1m73 0h2m27 0h1M313 9h1m40 0h1m1 0h1M282 17h1m3 0h1M270 21h1m6 0h1M261 25h1m16 0h1M258 29h1M245 33h1M241 35h1m8 0h1m3 0h1m2 0h1M39 37h1m199 0h1M55 39h1m166 0h1m3 0h1m1 0h1m6 0h1M42 41h1m109 0h1m19 0h1M56 43h1m22 0h1m15 0h1m6 0h1m14 0h1m10 0h1m18 0h1m13 0h1m31 0h1m20 0h1M58 45h1m11 0h1m2 0h1m26 0h1m104 0h1"/>
<path stroke="#00aaab" d="M371 1h2m109 0h1m12 0h4M369 3h2m15 0h1m13 0h1m78 0h3m18 0h3M405 5h1M363 7h2M305 9h1m33 0h1m2 0h1m14 0h1M346 11h1M318 13h1m29 0h1m1 0h1M285 15h1M284 17h1M269 19h1M276 21h1m3 0h1m11 0h1M263 25h1m15 0h1M0 33h1m247 0h1M5 35h1m6 0h1m229 0h1M15 37h1m7 0h1m3 0h1M34 39h2m184 0h2m14 0h1M49 41h1m101 0h1m37 0h1m21 0h1m5 0h1M66 43h1m2 0h1m13 0h2m33 0h1m8 0h1m5 0h1m21 0h1m2 0h1m8 0h1m26 0h1M125 45h1"/>
<path stroke="#00a8af" d="M370 1h1m109 0h2m1 0h1m10 0h1m4 0h3M368 3h1m16 0h1M365 5h1m21 0h1m89 0h2M362 7h1m13 0h1M351 9h1M326 11h1M304 13h1M271 19h1M265 25h2M9 35h1m1 0h1m220 0h2m9 0h1M28 37h1m2 0h1m206 0h1M36 39h1m186 0h1M45 41h1m104 0h1m3 0h1m11 0h1m6 0h1m35 0h1M80 43h2m23 0h1m4 0h1m11 0h1m9 0h1m3 0h1m5 0h1m3 0h1m23 0h1m11 0h1m17 0h1M59 45h2m26 0h1m92 0h1"/>
<path stroke="#00a7b3" d="M368 1h2m30 0h1m78 0h1m22 0h1M384 3h1m6 0h1m5 0h3m77 0h2M363 5h2M361 7h1m16 0h1M355 9h1M310 11h1M298 13h1m12 0h1M272 17h1m17 0h2M273 19h1m7 0h1M274 21h2M267 25h2M251 29h1M252 31h1M1 33h1m242 0h1m4 0h1M10 35h1m244 0h2M16 37h1m2 0h1m2 0h1m3 0h1m2 0h1m2 0h2m203 0h1M43 41h1m4 0h1m88 0h1m25 0h1m1 0h1m20 0h1m23 0h1m5 0h1M57 43h1m7 0h1m9 0h1m17 0h2m9 0h1m1 0h2m12 0h1m35 0h1m2 0h2m7 0h1m7 0h1m6 0h1m13 0h1m6 0h1m3 0h1M126 45h1m51 0h2"/>
<path stroke="#00a6b7" d="M386 1h1m10 0h3M365 3h1M362 5h1m39 0h1m103 0h1M388 7h1M327 9h1m32 0h1M347 11h1M270 19h1m17 0h1M260 23h1m1 0h1m1 0h1m13 0h1M259 25h1M246 29h2M253 31h1M2 33h1m4 0h1M240 35h1M25 37h1m4 0h1m198 0h1M40 39h2m8 0h1m174 0h1m1 0h1M129 41h1m44 0h2m15 0h1m20 0h2m1 0h1m8 0h1M47 43h1m26 0h1m1 0h1m5 0h1m2 0h1m4 0h1m17 0h2m4 0h1m9 0h1m14 0h1m1 0h1m2 0h1m54 0h1m1 0h1m5 0h1M64 45h1m6 0h2m104 0h1"/>
<path stroke="#00a4bb" d="M365 1h1m111 0h2M363 3h2m27 0h2m10 0h1M401 5h1m1 0h1M353 7h1M345 9h1m12 0h2M302 13h1m22 0h1m11 0h1M295 15h1M269 17h1M277 19h1m2 0h1M261 23h1m17 0h1M245 31h1M3 33h2m1 0h1m1 0h1m222 0h1m18 0h1M13 35h1M17 37h1m34 0h1M171 39h1m47 0h1M153 41h1m10 0h1m20 0h1m1 0h2M46 43h1m41 0h2m1 0h1m19 0h2m2 0h1m15 0h1m2 0h2m4 0h1m2 0h1m1 0h1m35 0h1m2 0h1m13 0h1m3 0h2"/>
<path stroke="#00a3bf" d="M385 1h1M405 3h1M361 5h1m27 0h1M356 7h1m20 0h1m1 0h1M331 11h1M296 13h1m38 0h1M283 15h1M276 19h1M263 23h1M258 27h1M248 31h1M241 33h1m12 0h1m2 0h1M14 35h1m5 0h2m16 0h1m191 0h1m8 0h1M18 37h1m34 0h2m179 0h1M67 41h2m8 0h1m18 0h1m4 0h1m36 0h1m9 0h2m40 0h1m1 0h1M61 43h2m23 0h1m36 0h1m6 0h1m38 0h1m36 0h1M63 45h1"/>
<path stroke="#00a2c3" d="M364 1h1m19 0h1M362 3h1m24 0h1m2 0h1m115 0h1M352 7h1m4 0h1M349 11h1M282 15h1M271 17h1m1 0h1m13 0h1m1 0h1M274 19h1M265 23h2M0 31h1M242 33h2M24 35h1m12 0h1M51 37h1m174 0h1m1 0h1m6 0h1M42 39h1m129 0h1m45 0h1M44 41h1m33 0h1m18 0h2m4 0h1m12 0h2m1 0h1m1 0h1m25 0h1m9 0h1m4 0h1m32 0h2M73 43h1m18 0h1m6 0h1m13 0h1m91 0h1"/>
<path stroke="#00a0c7" d="M363 1h1m26 0h4M389 3h1M354 7h1m5 0h1M341 9h1M308 11h1M293 13h1m3 0h1M272 15h1m11 0h1m1 0h1m7 0h1M281 17h1M275 19h1M278 21h1M267 23h2M251 27h1M252 29h1M244 31h1m4 0h1M5 33h1m3 0h1m2 0h1m242 0h2M23 35h1m15 0h1m198 0h1M35 37h1m19 0h1m165 0h2m13 0h1M49 39h1m102 0h1M56 41h1m9 0h1m12 0h1m15 0h1m6 0h1m25 0h1m26 0h1m5 0h1m5 0h1m25 0h1m20 0h1M58 43h1m11 0h1m29 0h1m24 0h1"/>
<path stroke="#009fcb" d="M389 1h1M361 3h1M376 5h1M507 9h1m1 0h1M285 13h1m34 0h3M270 17h1m6 0h1M292 19h1M260 21h1m3 0h1m14 0h1M246 27h1M253 29h1M1 31h1M11 33h1m220 0h2m6 0h1M15 35h1m11 0h1M34 37h1m185 0h1m2 0h1M151 39h1m37 0h1m21 0h1m5 0h1M69 41h1m11 0h1m1 0h2m33 0h1m3 0h1m4 0h1m5 0h1m24 0h1m23 0h1m11 0h1m5 0h1M59 43h1m120 0h1"/>
<path stroke="#009ecf" d="M362 1h1m41 0h2m100 0h1M401 3h3M353 5h1m24 0h1M351 7h1m3 0h1m3 0h1M349 9h1M299 13h1M269 15h1M276 17h1m3 0h1M261 21h2M259 23h1M247 27h1M2 31h1m4 0h1m242 0h1M10 33h1M16 35h1m11 0h1m2 0h2m204 0h1M36 37h1M45 39h1m104 0h1m3 0h1m11 0h1m6 0h1m35 0h1M65 41h1m9 0h1m4 0h1m24 0h2m3 0h1m21 0h1m3 0h1m5 0h1m3 0h1m12 0h1m8 0h1m1 0h1m5 0h1m27 0h1M60 43h1m26 0h1"/>
<path stroke="#009cd3" d="M401 1h3M353 3h2m21 0h1m1 0h1M351 5h2m1 0h1m22 0h1m1 0h1m8 0h1M358 7h1M348 9h1m1 0h1M307 11h1M290 15h2M274 17h1M263 21h1M258 25h1M245 29h1M3 31h1m250 0h1m2 0h1M19 35h1m2 0h1m3 0h1m2 0h1m3 0h1M225 37h1m1 0h1M43 39h1m4 0h1m88 0h1m25 0h1m1 0h1m20 0h1m23 0h1m5 0h1m7 0h1M57 41h1m35 0h2m9 0h1m2 0h2m11 0h1m35 0h1m3 0h1m22 0h1m13 0h1m1 0h1m8 0h1M126 43h1m51 0h2"/>
<path stroke="#009bd7" d="M353 1h2m6 0h1m14 0h1m1 0h1m8 0h1M351 3h2m24 0h1m1 0h1m8 0h1M360 5h1M343 7h1m4 0h3M328 9h1m7 0h1m9 0h2m160 0h1M350 11h1M272 13h1m50 0h1M271 15h1m1 0h1M275 17h1M278 19h1M265 21h2M248 29h1M4 31h1m1 0h1m1 0h1m222 0h1m9 0h2M13 33h1m225 0h1M17 35h1m7 0h1m4 0h1m198 0h1M40 37h2m8 0h1m168 0h1M129 39h1m44 0h2m15 0h1m20 0h2m1 0h1M46 41h2m26 0h1m1 0h1m5 0h1m2 0h1m3 0h3m17 0h1m4 0h1m9 0h1m14 0h1m1 0h1m2 0h1m36 0h1m19 0h1m5 0h1M64 43h1m6 0h2m104 0h1"/>
<path stroke="#009adb" d="M351 1h2m24 0h1m1 0h1m8 0h1M349 5h2m5 0h1M342 7h1m1 0h2M314 9h1m22 0h1M283 13h1M277 15h1m3 0h1M288 17h1M279 19h1M267 21h2M251 25h1M0 29h1m248 0h1M243 31h1M14 33h1m5 0h1m209 0h1M52 35h2m180 0h1M171 37h1M138 39h1m9 0h1m4 0h1m10 0h1m20 0h1m1 0h2m3 0h1M88 41h1m22 0h2m2 0h1m15 0h1m2 0h2m4 0h1m2 0h1m1 0h1m38 0h1m13 0h1m3 0h2M63 43h1"/>
<path stroke="#0098dd" d="M349 3h2M343 5h3m2 0h1m8 0h1m1 0h1M336 7h1m9 0h2M335 9h1M332 11h1m3 0h1m11 0h1M317 13h1m6 0h1M270 15h1M252 27h1M244 29h1M5 31h1m249 0h2M21 33h1m16 0h1M18 35h1m35 0h1m171 0h1m1 0h1m6 0h1M218 37h1M67 39h2m8 0h1m18 0h1m93 0h1M62 41h1m23 0h1m36 0h1m6 0h1m38 0h1m36 0h1"/>
<path stroke="#0095dd" d="M349 1h2M343 3h1m4 0h1m7 0h4M342 5h1m3 0h2m7 0h1m2 0h1M337 7h1M334 11h2m1 0h1M295 13h1M280 15h1M264 19h1M246 25h1M253 27h1M24 33h1m12 0h1m200 0h1M51 35h1M78 39h1m18 0h2m2 0h1m1 0h1m12 0h1m32 0h1m12 0h1m32 0h1M61 41h1m30 0h1m6 0h1"/>
<path stroke="#0092dd" d="M348 1h1m6 0h5M342 3h1m1 0h2m1 0h1m7 0h1m4 0h1M336 5h1M335 7h1M325 11h1M276 15h1M260 19h1m1 0h1M259 21h1M247 25h1M1 29h1M222 35h1m13 0h1M42 37h1m129 0h1M44 39h1m72 0h1m1 0h1m1 0h1m25 0h1m9 0h1m38 0h1M113 41h1m91 0h1"/>
<path stroke="#0090dd" d="M343 1h3m14 0h1M346 3h1M337 5h1M319 11h1M261 19h1M9 31h1m2 0h1m220 0h1m6 0h1M39 33h1M55 35h1m165 0h1M152 37h1M56 39h1m38 0h1m6 0h1m25 0h1m32 0h1m31 0h1m20 0h1M58 41h1m11 0h1m2 0h1"/>
<path stroke="#008ddd" d="M342 1h1m3 0h2M336 3h1M335 5h1M329 9h1m3 0h1M321 11h4M282 13h1M263 19h1M250 29h1M11 31h1m220 0h1M15 33h1m7 0h1M35 35h1m184 0h1m2 0h1M49 37h1m167 0h1M79 39h1m87 0h1M100 41h1m24 0h1"/>
<path stroke="#008add" d="M337 3h1M327 7h1m179 0h1M330 9h2M318 11h1m1 0h1M316 13h1M258 23h1M245 27h1M254 29h1m2 0h1M10 31h1M27 33h1m209 0h1M34 35h1M189 37h1m21 0h1M66 39h1m2 0h1m13 0h1m34 0h1m36 0h1"/>
<path stroke="#08d" d="M336 1h1M335 3h1M328 7h2m3 0h1M332 9h1m1 0h1M274 15h1m12 0h1M265 19h1M248 27h1M2 29h1m4 0h1M28 33h1M36 35h1M45 37h1m105 0h1M81 39h1m2 0h1m42 0h1m5 0h1m24 0h1m35 0h1M59 41h1m120 0h1"/>
<path stroke="#0085dd" d="M337 1h1M330 7h1M309 11h1M275 15h1M266 19h1M3 29h1m237 0h1M16 33h1m14 0h1M225 35h1m1 0h1M166 37h1m6 0h1m42 0h1m7 0h1M105 39h1m4 0h1m11 0h1m9 0h1m3 0h1m9 0h1m35 0h1m17 0h1M60 41h1m26 0h1"/>
<path stroke="#0082dd" d="M335 1h1M327 5h1M331 7h1M269 13h1M278 17h1M267 19h1M4 29h1m226 0h1m10 0h1M239 31h1M19 33h1m2 0h1m3 0h1m5 0h1m196 0h1M150 37h1m3 0h1m54 0h2M65 39h1m14 0h1m25 0h1m35 0h1m16 0h1m8 0h1m1 0h1m5 0h1m27 0h1"/>
<path stroke="#0080dd" d="M328 5h2m3 0h1M332 7h1m1 0h1M315 9h1m22 0h1M298 11h1m1 0h1M268 19h1M249 27h1M6 29h1m1 0h1m234 0h1M230 31h1M29 33h1m3 0h1m200 0h1M43 37h1m4 0h1m88 0h1m48 0h1M75 39h1m18 0h1m61 0h1m3 0h1m22 0h1m13 0h1m10 0h1M126 41h1"/>
<path stroke="#007ddd" d="M330 5h2M339 7h1m1 0h1M340 9h1M301 11h1m15 0h1M289 15h1M251 23h1M252 25h1M255 29h2M25 33h1m4 0h1M40 35h1m178 0h1M163 37h1m1 0h1m46 0h2m1 0h1M47 39h1m9 0h1m35 0h1m10 0h1m2 0h2m11 0h1m78 0h1M178 41h2"/>
<path stroke="#007add" d="M333 3h1M332 5h1m1 0h1M338 7h1m1 0h1m168 0h1M279 17h1M0 27h1m243 0h1M13 31h1M228 33h1m6 0h1M41 35h1m8 0h1M174 37h1M74 39h1m1 0h1m5 0h1m2 0h1m28 0h1m9 0h1m14 0h1m61 0h1m5 0h1M64 41h1m7 0h1m104 0h1"/>
<path stroke="#0078dd" d="M327 3h3M339 5h1m1 0h1M271 13h1m1 0h1M264 17h1M246 23h1M253 25h1M238 31h1M17 33h1m208 0h1M129 37h1m45 0h1m15 0h1M46 39h1m42 0h2m18 0h1m31 0h1m2 0h1m36 0h1M71 41h1"/>
<path stroke="#0070dd" d="M333 1h1M330 3h2m2 0h1M338 5h1m1 0h1M508 7h1M318 9h1M260 17h1m1 0h1M259 19h1M247 23h1M5 29h1M20 31h1M52 33h1m183 0h1M171 35h1m46 0h1M153 37h1m10 0h1m22 0h1M88 39h1m2 0h1m19 0h2m2 0h1m15 0h1m2 0h2m4 0h1m2 0h1m1 0h1m52 0h1m4 0h1"/>
<path stroke="#0067dd" d="M332 3h1m6 0h1m1 0h1M507 5h1M326 9h1M277 13h1m3 0h1M261 17h1M250 27h1M233 29h1m6 0h1M14 31h1m6 0h1m16 0h1M18 33h1m34 0h2m167 0h1M138 37h1m9 0h1m36 0h1m2 0h1m3 0h1M184 39h1m17 0h1M63 41h1"/>
<path stroke="#005ddd" d="M327 1h4m3 0h1m4 0h1m1 0h1M338 3h1m1 0h1M280 13h1M263 17h1M258 21h1M1 27h1m252 0h1M232 29h1M24 31h1m12 0h1M221 33h1M67 37h2m8 0h1m18 0h1m93 0h1M62 39h1m23 0h1m36 0h1m45 0h1m36 0h1"/>
<path stroke="#0054dd" d="M331 1h2M303 11h1m2 0h1M276 13h1M245 25h1M257 27h1M237 31h1M51 33h1m168 0h1m2 0h1M42 35h1M44 37h1m52 0h2m2 0h1m47 0h1m45 0h1M61 39h1m30 0h1m6 0h1m30 0h1"/>
<path stroke="#004bdd" d="M338 1h1m1 0h1M313 7h1m12 0h1M284 13h1m9 0h1M265 17h1M248 25h1M9 29h1M39 31h1M217 35h1M78 37h1m24 0h1m12 0h1m2 0h1m1 0h1m35 0h1m4 0h1m33 0h1m17 0h1M113 39h1"/>
<path stroke="#0041dd" d="M314 7h1M310 9h1m14 0h1M316 11h1M270 13h1m15 0h1M266 17h1M2 27h1m238 0h1M11 29h2M23 31h1M35 33h1m19 0h1m171 0h1M152 35h1m19 0h1m51 0h1M56 37h1m38 0h1m21 0h1m29 0h1m13 0h1M58 39h1m11 0h1m2 0h1m131 0h1"/>
<path stroke="#0038dd" d="M313 5h2M308 9h2m1 0h1m5 0h1M274 13h2M267 17h2M231 27h1M10 29h1m228 0h1M15 31h1m11 0h2m200 0h1M34 33h1m190 0h1M49 35h1m161 0h1M79 37h1m22 0h1m25 0h1m64 0h1M100 39h1"/>
<path stroke="#002fdd" d="M314 3h1M310 7h1M312 9h1m10 0h2M312 13h1M251 21h1M249 25h1M3 27h1m3 0h1m234 0h1M31 31h1m202 0h1M36 33h1M189 35h1M66 37h1m2 0h1m48 0h1m36 0h1m11 0h1M125 39h1"/>
<path stroke="#0025dd" d="M313 3h1M326 5h1M311 7h1m3 0h1m2 0h1M322 9h1M297 11h1m13 0h1M278 15h1M252 23h1M4 27h1m238 0h1m11 0h2M230 29h1M26 31h1m5 0h1M45 35h1m105 0h1m64 0h1M81 37h1m1 0h2m42 0h1m5 0h1m24 0h1m35 0h1M59 39h1m120 0h1"/>
<path stroke="#001cdd" d="M313 1h2M315 5h1m2 0h1M312 7h1m4 0h1m7 0h1M316 9h1m2 0h1m1 0h1M304 11h1M292 17h1M253 23h1M244 25h1m5 0h1M6 27h1M16 31h1m2 0h1m2 0h1m6 0h1m3 0h1m201 0h1M219 33h1M150 35h1m15 0h1m6 0h1m35 0h1M80 37h1m24 0h1m4 0h1m11 0h1m9 0h1m3 0h1m5 0h1m3 0h1m23 0h1m11 0h1m17 0h1M60 39h1m26 0h1"/>
<path stroke="#0013dd" d="M318 3h1M310 5h3m4 0h1M305 7h1m3 0h1m6 0h1M320 9h1M312 11h1M259 17h1M246 21h2M0 25h1m253 0h1m2 0h1M8 27h1M238 29h1M226 31h1m1 0h1M43 35h1m4 0h1m88 0h1m16 0h1m55 0h1m2 0h1m1 0h1M65 37h1m9 0h1m18 0h1m11 0h1m49 0h1m2 0h1m8 0h1m7 0h1m6 0h1m13 0h1m6 0h1M126 39h1"/>
<path stroke="#0009dd" d="M318 1h1M315 3h1m1 0h1m8 0h1m180 0h1M316 5h1M308 7h1m15 0h1M264 15h1M258 19h1M248 23h1M255 25h1M25 31h1m4 0h1m205 0h1M40 33h1M163 35h1m1 0h1m20 0h1m25 0h1M47 37h1m9 0h1m16 0h1m1 0h1m16 0h1m10 0h1m2 0h2m11 0h1m39 0h1m38 0h1m8 0h1M178 39h2"/>
<path stroke="#00d" d="M315 1h1m1 0h1M310 3h3m3 0h1M325 5h1M322 7h2M302 11h1M260 15h1m1 0h1m16 0h1M245 23h1m3 0h1M256 25h1M233 27h1m6 0h1M222 31h1M41 33h1m8 0h1m167 0h1M129 35h1m44 0h2m15 0h1M46 37h1m35 0h1m2 0h1m4 0h1m18 0h1m4 0h1m9 0h1m14 0h1m1 0h1m2 0h1m56 0h1m5 0h1M64 39h1m6 0h2m104 0h1"/>
<path stroke="#0000d9" d="M312 1h1m3 0h1M309 5h1M288 15h1M252 21h2M250 23h1M5 27h1m226 0h1M13 29h1M17 31h1m34 0h1m168 0h1M171 33h1M153 35h1m10 0h1m20 0h1m1 0h1M88 37h2m1 0h1m19 0h2m2 0h1m15 0h1m2 0h2m4 0h1m2 0h1m1 0h1m35 0h1m16 0h1m3 0h2"/>
<path stroke="#0000d5" d="M311 1h1m14 0h1M508 5h2M321 7h1M291 13h1M261 15h1M251 19h1M254 23h1m2 0h1M1 25h1M20 29h1m17 0h1m198 0h1M53 31h2m165 0h1m2 0h1M68 35h1m69 0h1m9 0h1m39 0h1m1 0h1m1 0h1M62 37h1m60 0h1m45 0h1m14 0h1M63 39h1"/>
<path stroke="#0000d1" d="M310 1h1M324 5h1M290 13h1M263 15h1M248 21h1M255 23h2M242 25h2M21 29h1m15 0h1M18 31h1m32 0h1M217 33h1M67 35h1m9 0h1m18 0h1m4 0h1m47 0h1m45 0h1m18 0h1M61 37h1m24 0h1m12 0h1m30 0h1m75 0h1"/>
<path stroke="#0000cd" d="M309 3h1m15 0h1M308 5h1m14 0h1M319 7h2M249 21h1M244 23h1M14 29h1m9 0h1M227 31h1M42 33h1m129 0h1m51 0h1M44 35h1m33 0h1m18 0h2m4 0h1m12 0h2m1 0h1m1 0h1m25 0h1m9 0h1m4 0h1m33 0h1M73 37h1m18 0h1m20 0h1m91 0h1"/>
<path stroke="#0000c9" d="M507 1h1M322 5h1M292 15h1M247 19h1M250 21h1m3 0h1m2 0h1M2 25h1m238 0h1M9 27h1m229 0h1M39 29h1m189 0h1M55 31h1m169 0h1M152 33h1m58 0h1M56 35h1m22 0h1m15 0h1m6 0h1m25 0h1m32 0h1m31 0h1M58 37h1m11 0h1"/>
<path stroke="#0000c5" d="M307 9h1M265 15h1M258 17h1M252 19h2M255 21h2M231 25h1M35 31h1M49 33h1m139 0h1m26 0h1M66 35h1m2 0h1m13 0h1m34 0h1m36 0h1m11 0h1M100 37h1m24 0h1"/>
<path stroke="#0000c1" d="M309 1h1M324 3h1M266 15h1M246 19h1M245 21h1M3 25h1M11 27h2m217 0h1M23 29h1m210 0h1M34 31h1M151 33h1M81 35h1m2 0h1m20 0h1m4 0h1m11 0h1m4 0h1m5 0h1m2 0h1m21 0h1m23 0h1m11 0h1m5 0h1M59 37h1m120 0h1"/>
<path stroke="#0000bd" d="M325 1h1M323 3h1M320 5h2M304 9h1M299 11h1M267 15h1M251 17h1M248 19h2M7 25h1M10 27h1M15 29h1m11 0h1M36 31h1m182 0h1M45 33h1m104 0h1m3 0h1m11 0h1m6 0h1m35 0h2m4 0h1M65 35h1m14 0h1m51 0h1m9 0h1m3 0h1m12 0h1m8 0h1m1 0h1m5 0h1m27 0h1M60 37h1m26 0h1"/>
<path stroke="#0000b9" d="M323 1h2M321 3h2M319 5h1M287 13h1m1 0h1M259 15h1m8 0h1M250 19h1m3 0h1m2 0h1M243 23h1M4 25h1M28 29h1m2 0h1m194 0h1m1 0h1m6 0h1M137 33h1m25 0h1m22 0h1m25 0h2M57 35h1m17 0h1m18 0h1m9 0h1m1 0h1m13 0h1m35 0h1m3 0h1m22 0h1m13 0h1m10 0h1M126 37h1m51 0h2"/>
<path stroke="#0000b5" d="M321 1h2M319 3h2M306 9h1M252 17h1M255 19h2M0 23h1M6 25h1M238 27h1M32 29h1M43 33h1m4 0h1m116 0h1M74 35h1m1 0h1m5 0h1m2 0h1m7 0h1m13 0h2m5 0h1m24 0h1m59 0h1m1 0h1M64 37h1m7 0h1m104 0h1"/>
<path stroke="#0000b1" d="M319 1h2M508 3h1M303 9h1M253 17h1M244 21h1M242 23h1M8 25h1m231 0h1M16 29h1m5 0h1m3 0h1m2 0h1m3 0h1m188 0h1m13 0h1M40 31h1m9 0h1m120 0h1m46 0h1M129 33h1m44 0h2m15 0h1M47 35h1m41 0h3m17 0h1m14 0h1m6 0h1m9 0h1m2 0h1m36 0h1m25 0h1M71 37h1"/>
<path stroke="#0000ad" d="M308 3h1M247 17h1m1 0h1M233 25h1M19 29h1m32 0h1m168 0h1M41 31h1M153 33h1m10 0h1m20 0h1m1 0h2M46 35h1m41 0h1m22 0h2m2 0h1m18 0h2m4 0h1m2 0h1m1 0h1m38 0h1m13 0h1m3 0h2"/>
<path stroke="#0300aa" d="M307 7h1M288 13h1M258 15h1M248 17h1m1 0h1m3 0h1m2 0h1M232 25h1M25 29h1m4 0h1m22 0h2m165 0h1m2 0h1M68 33h1m69 0h1m9 0h1m41 0h1m1 0h1M62 35h1m60 0h1m45 0h1M63 37h1"/>
<path stroke="#0d00a8" d="M509 3h1M255 17h1M67 33h1m9 0h1m18 0h1M86 35h1m119 0h1"/>
<path stroke="#1800a7" d="M296 11h1M256 17h1M237 27h1M101 33h1m47 0h1M61 35h1m68 0h1"/>
<path stroke="#2300a6" d="M1 23h1M5 25h1M217 31h1M97 33h2m96 0h1m18 0h1M92 35h1m6 0h1"/>
<path stroke="#2d00a4" d="M306 7h1M292 13h1M78 33h1m24 0h1m12 0h1m2 0h1m42 0h1m33 0h1"/>
<path stroke="#3800a3" d="M293 11h1M251 15h1M245 19h1M13 27h1m24 0h1M51 29h1M121 33h1m35 0h1M113 35h1"/>
<path stroke="#4300a2" d="M17 29h1M172 31h1m51 0h1M117 33h1m29 0h1M73 35h1m131 0h1"/>
<path stroke="#4d00a0" d="M278 13h1M241 23h1M227 29h1M95 33h1M58 35h1m11 0h1"/>
<path stroke="#58009f" d="M20 27h1m16 0h1M225 29h1M152 31h1M44 33h1m11 0h1m45 0h1m25 0h1m32 0h1m31 0h1"/>
<path stroke="#63009e" d="M308 1h1M307 5h1M285 11h1M55 29h1M79 33h1"/>
<path stroke="#6d009c" d="M260 13h1m18 0h1M246 17h1M239 25h1M21 27h1m207 0h1M42 31h1m168 0h1M167 33h1M100 35h1"/>
<path stroke="#78009b" d="M302 9h1M295 11h1M2 23h1m228 0h1M14 27h1m9 0h1m14 0h1M18 29h1M49 31h1m139 0h1m26 0h1M66 33h1m2 0h1m13 0h1m34 0h1m36 0h1m2 0h1M125 35h1"/>
<path stroke="#83009a" d="M304 7h1M301 9h1M294 11h1M243 21h1M9 25h1m220 0h1M234 27h1M35 29h1M151 31h1m14 0h1m6 0h1M81 33h1m2 0h1m20 0h1m4 0h1m11 0h1m4 0h1m4 0h2m2 0h1m9 0h1m35 0h1m11 0h1m5 0h1M59 35h2m26 0h1m92 0h1"/>
<path stroke="#870098" d="M300 9h1M262 13h1M3 23h1M226 27h1m1 0h1m6 0h1M34 29h1m184 0h1M45 31h1m91 0h1m12 0h1m3 0h1m54 0h2m2 0h1m1 0h1M65 33h1m9 0h1m4 0h1m13 0h1m11 0h1m35 0h1m13 0h1m2 0h1m8 0h1m1 0h1m5 0h1m6 0h1m13 0h1m6 0h1M126 35h1"/>
<path stroke="#860097" d="M508 1h1M303 7h1M261 13h1M244 19h1M242 21h1M7 23h1M11 25h2m225 0h1M23 27h1m3 0h1M36 29h1M48 31h1m114 0h1m1 0h1m20 0h1m25 0h1M57 33h1m16 0h1m1 0h1m5 0h1m10 0h1m10 0h1m2 0h2m5 0h1m5 0h1m18 0h1m20 0h1m38 0h1m1 0h1m6 0h1M177 35h3"/>
<path stroke="#850096" d="M298 9h2M291 11h1M252 15h1M0 21h1M4 23h1m228 0h1m6 0h1M10 25h1M15 27h1m12 0h1m2 0h1m190 0h1m13 0h1M171 29h1m46 0h1M43 31h1m85 0h1m44 0h2m11 0h1m3 0h1M85 33h1m3 0h3m17 0h1m14 0h1m6 0h1m9 0h1m2 0h1m36 0h1m25 0h1M64 35h1m6 0h2"/>
<path stroke="#830094" d="M509 1h1M304 5h1M283 11h1m2 0h1m3 0h1M264 13h1M253 15h1M6 23h1m225 0h1M237 25h1M32 27h2m186 0h2m1 0h1M40 29h1m9 0h1M138 31h1m9 0h1m4 0h1m10 0h1m20 0h1m2 0h1m3 0h1M47 33h1m40 0h1m22 0h2m2 0h1m18 0h2m4 0h1m2 0h1m1 0h1m38 0h1m13 0h1m3 0h2M63 35h1"/>
<path stroke="#820093" d="M241 21h1M8 23h1M22 27h1m3 0h1m2 0h1m22 0h3M41 29h1m175 0h1M67 31h2m8 0h1m18 0h1m4 0h1m47 0h1m40 0h1m23 0h1M46 33h1m14 0h2m23 0h1m36 0h1m6 0h1m38 0h1m36 0h1"/>
<path stroke="#810092" d="M302 7h1M297 9h1M239 23h1M229 25h1M16 27h1m2 0h1m5 0h1m4 0h1m20 0h1m173 0h1m1 0h1M172 29h1m51 0h1M78 31h1m18 0h2m4 0h1m12 0h2m1 0h1m1 0h1m25 0h1m9 0h1m4 0h1m32 0h2M73 33h1m18 0h1m6 0h1m13 0h1m91 0h1"/>
<path stroke="#7f0090" d="M303 5h1m1 0h2M301 7h1M296 9h1M284 11h1m4 0h1M245 17h1M1 21h1m229 0h1M5 23h1M38 25h1m195 0h1M55 27h1M152 29h1m58 0h1M56 31h1m22 0h1m15 0h1m6 0h1m25 0h1m32 0h1m5 0h1m25 0h1M58 33h1m11 0h1m29 0h1"/>
<path stroke="#7e008f" d="M307 3h1M282 11h1M263 13h1M247 15h1M243 19h1M230 23h1M37 25h1M151 29h1m37 0h1m26 0h1M44 31h1m21 0h1m2 0h1m13 0h2m33 0h1m8 0h1m27 0h1m2 0h1m35 0h1M125 33h1"/>
<path stroke="#7d008e" d="M304 3h1M300 7h1M287 11h1M249 15h1M242 19h1M238 23h1M13 25h1m25 0h1m186 0h1m1 0h1m6 0h1M17 27h1m201 0h1M42 29h1m6 0h1m100 0h1m15 0h1m6 0h1m35 0h1m5 0h1M80 31h2m23 0h1m4 0h1m11 0h1m9 0h2m2 0h1m5 0h1m3 0h1m35 0h1m17 0h1M59 33h2m26 0h1m92 0h1"/>
<path stroke="#7b008c" d="M305 3h2M293 9h1M248 15h1M2 21h1m237 0h1M20 25h2m214 0h1M137 29h1m16 0h1m55 0h1m1 0h2M65 31h1m9 0h1m18 0h1m11 0h1m49 0h1m2 0h2m7 0h1m1 0h1m5 0h1m6 0h1m13 0h1m6 0h1M126 33h1"/>
<path stroke="#7a008b" d="M307 1h1M295 9h1M292 11h1M246 15h1M232 21h2M237 23h1M24 25h1m197 0h1M18 27h1m16 0h1m182 0h1M45 29h1m117 0h1m1 0h1m20 0h1M57 31h1m16 0h1m1 0h1m5 0h1m2 0h1m7 0h1m10 0h1m2 0h2m5 0h1m5 0h1m18 0h1m59 0h1m1 0h1m6 0h1M64 33h1m7 0h1m104 0h3"/>
<path stroke="#79008a" d="M303 3h1M302 5h1M298 7h2M288 11h1M244 17h1M3 21h1M9 23h1M14 25h1m206 0h1m1 0h1M34 27h1m136 0h1M48 29h1m80 0h1m44 0h2m11 0h1m3 0h1M88 31h4m17 0h1m14 0h1m6 0h1m2 0h1m5 0h2m1 0h2m36 0h1m25 0h1M71 33h1"/>
<path stroke="#708" d="M304 1h1M294 9h1M259 13h1M250 15h1M0 19h1m240 0h1M4 21h1m2 0h1m231 0h1M23 25h1m196 0h1m6 0h1M36 27h1m13 0h1M43 29h1m94 0h1m9 0h1m4 0h1m10 0h1m20 0h1m2 0h1m3 0h1M47 31h1m63 0h2m2 0h1m19 0h1m9 0h1m38 0h1m13 0h1m3 0h2M63 33h1"/>
<path stroke="#700080" d="M305 1h2M301 5h1M231 19h1M11 23h2m216 0h1M27 25h2m2 0h2m19 0h3m170 0h1M217 27h1m6 0h1M67 29h2m8 0h1m18 0h1m4 0h1m47 0h1m40 0h1m23 0h1M46 31h1m14 0h2m23 0h1m36 0h1m6 0h1m38 0h1m36 0h1"/>
<path stroke="#670075" d="M243 17h1M6 21h1m223 0h1M10 23h1m223 0h1M33 25h1M40 27h2m130 0h1M78 29h1m18 0h2m4 0h1m12 0h2m1 0h1m1 0h1m25 0h1m9 0h1m4 0h1m32 0h2M73 31h1m18 0h1m6 0h1m13 0h1m91 0h1"/>
<path stroke="#5d006b" d="M297 7h1M51 25h1M152 27h1M95 29h1m6 0h1m25 0h1m32 0h1m31 0h1M58 31h1m11 0h1"/>
<path stroke="#540060" d="M272 11h1M235 23h1M15 25h1m10 0h1m2 0h1M211 27h1M56 29h1m22 0h1"/>
<path stroke="#4b0055" d="M265 13h1M216 27h1"/>
<path stroke="#41004b" d="M300 5h1M254 15h1M100 31h1"/>
<path stroke="#380040" d="M8 21h1M55 25h1M167 29h1"/>
<path stroke="#2f0035" d="M238 21h1M66 29h1m88 0h1M125 31h1"/>
<path stroke="#25002b" d="M242 17h1M1 19h1M228 23h1M189 27h1"/>
<path stroke="#1c0020" d="M266 13h1M30 25h1"/>
<path stroke="#130015" d="M22 25h1M69 29h1m48 0h1"/>
<path stroke="#09000b" d="M83 29h1"/>
<path stroke="#000" d="M0 1h304M0 3h303M0 5h300M0 7h297M0 9h293M0 11h272m1 0h9M0 13h259m8 0h2M0 15h246m9 0h3M0 17h242M2 19h229m1 0h9M5 21h1m3 0h221m4 0h4M13 23h215m8 0h1M16 25h4m5 0h1m8 0h3m3 0h11m5 0h164m4 0h1M42 27h8m6 0h96m1 0h18m2 0h16m1 0h21m1 0h4M44 29h1m1 0h2m9 0h9m4 0h7m3 0h3m1 0h11m4 0h2m3 0h12m4 0h1m1 0h6m2 0h7m2 0h8m9 0h1m1 0h3m7 0h3m5 0h9m9 0h1m2 0h12M59 31h2m2 0h2m6 0h2m14 0h1m38 0h1m50 0h4"/>
</g>
<g transform="translate(84.8 758.5) scale(3.66250 -0.91000)" stroke-width="4" fill="none">
<path stroke="#d60000" d="M445 110h32m1 0h1m5 0h25M432 114h2m4 0h1m3 0h1m1 0h36m2 0h28M420 118h1m1 0h2m1 0h85M420 122h4m1 0h85M456 126h3m1 0h2m2 0h2m8 0h1m13 0h1m3 0h1m6 0h2m4 0h1"/>
<path stroke="#d70000" d="M445 98h34m4 0h26M442 102h68M427 106h2m1 0h80M410 110h1m6 0h28m32 0h1m1 0h5m25 0h1M407 114h25m2 0h4m1 0h3m1 0h1m36 0h2M382 118h3m2 0h33m1 0h1m2 0h1M373 122h1m1 0h45m4 0h1M390 126h13m2 0h51m3 0h1m2 0h2m2 0h8m1 0h13m1 0h3m1 0h6m2 0h4m1 0h4M410 130h1m2 0h1m6 0h4m1 0h85M457 134h1m2 0h1m3 0h2m26 0h1"/>
<path stroke="#d80000" d="M425 98h20m34 0h4m26 0h1M420 102h22M408 106h19m2 0h1M373 110h1m2 0h1m4 0h4m2 0h1m1 0h21m1 0h6M367 114h2m1 0h37M359 118h23m3 0h2M351 122h1m6 0h15m1 0h1M359 126h3m1 0h27m13 0h2M365 130h4m1 0h40m1 0h2m1 0h6m4 0h1M373 134h2m1 0h2m4 0h3m2 0h16m2 0h52m1 0h2m1 0h3m2 0h26m1 0h17M396 138h1m13 0h1m9 0h4m1 0h9m3 0h3m2 0h2m1 0h27m1 0h4m1 0h1m5 0h11m1 0h12M431 142h3m24 0h1m33 0h1m7 0h1"/>
<path stroke="#da0000" d="M409 98h16M396 102h1m1 0h3m4 0h15M367 106h2m1 0h2m1 0h6m1 0h1m1 0h3m2 0h21M351 110h1m6 0h15m1 0h2m1 0h4m4 0h2m1 0h1M338 114h1m12 0h2m5 0h9m2 0h1M324 118h1m1 0h5m5 0h4m1 0h18M323 122h8m4 0h16m1 0h6M324 126h7m5 0h7m1 0h15m3 0h1M324 130h7m5 0h4m5 0h2m1 0h2m1 0h14m4 0h1M330 134h1m7 0h1m12 0h2m5 0h15m2 0h1m2 0h4m3 0h2m16 0h2M359 138h2m2 0h33m1 0h13m1 0h9m4 0h1m9 0h3m3 0h2m2 0h1m27 0h1m4 0h1m1 0h5m11 0h1m12 0h2M360 142h1m5 0h3m1 0h15m2 0h15m1 0h1m1 0h26m3 0h24m1 0h22m1 0h10m1 0h7m1 0h9M368 146h1m1 0h1m1 0h6m4 0h2m7 0h3m1 0h7m6 0h6m3 0h7m1 0h9m3 0h2m1 0h1m1 0h1m2 0h2m1 0h18m1 0h3m3 0h4m1 0h1m5 0h11m1 0h11m1 0h1M376 150h1m5 0h1m13 0h1m23 0h1m9 0h4m22 0h1m3 0h1m2 0h3m8 0h1m17 0h1m6 0h3m3 0h1"/>
<path stroke="#db0000" d="M373 98h1m1 0h2m5 0h2m7 0h18M366 102h3m1 0h15m2 0h9m1 0h1m3 0h4M330 106h1m7 0h1m12 0h2m5 0h9m2 0h1m2 0h1m6 0h1m1 0h1m3 0h2M323 110h8m4 0h16m1 0h6M320 114h1m2 0h10m2 0h3m1 0h12m2 0h5M303 118h1m4 0h1m6 0h1m1 0h7m1 0h1m5 0h5m4 0h1M301 122h1m1 0h10m2 0h8m8 0h4M303 126h3m1 0h2m6 0h9m7 0h5m7 0h1M303 130h1m4 0h1m6 0h1m1 0h7m7 0h5m4 0h5m2 0h1m2 0h1M303 134h1m13 0h13m1 0h7m1 0h12m2 0h5M318 138h4m1 0h8m4 0h24m2 0h2M317 142h1m1 0h1m3 0h9m3 0h8m1 0h6m1 0h9m1 0h5m3 0h1m15 0h2m15 0h1m1 0h1m76 0h1M319 146h1m4 0h7m4 0h5m5 0h1m5 0h5m1 0h11m1 0h1m1 0h1m6 0h4m2 0h7m3 0h1m7 0h6m6 0h3m7 0h1m9 0h3m2 0h1m1 0h1m1 0h2m2 0h1m18 0h1m3 0h3m4 0h1m1 0h5m11 0h1m11 0h1m1 0h1M324 150h7m5 0h1m1 0h2m11 0h2m5 0h18m1 0h5m1 0h13m1 0h23m1 0h9m4 0h22m1 0h3m1 0h2m3 0h8m1 0h4m1 0h1m1 0h10m1 0h6m3 0h3m1 0h4"/>
<path stroke="#dc0000" d="M330 98h1m7 0h1m12 0h1m7 0h3m2 0h9m1 0h1m2 0h5m2 0h7M326 102h1m1 0h1m1 0h1m7 0h1m12 0h2m5 0h8m3 0h1m15 0h2M319 106h2m2 0h7m1 0h1m3 0h3m1 0h12m2 0h5M301 110h10m4 0h8m8 0h4M301 114h12m2 0h5m1 0h2m10 0h2M270 118h1m6 0h1m1 0h3m5 0h3m4 0h4m1 0h4m1 0h4m1 0h6m1 0h1M255 122h1m1 0h1m1 0h1m5 0h1m1 0h4m3 0h8m4 0h15m1 0h1m10 0h2M265 126h1m2 0h1m1 0h1m3 0h1m3 0h4m5 0h3m3 0h10m3 0h1m2 0h6M270 130h1m7 0h4m5 0h2m2 0h1m2 0h9m1 0h4m1 0h6m1 0h1M265 134h1m13 0h1m7 0h2m5 0h4m2 0h3m1 0h13M288 138h1m11 0h13m1 0h4m4 0h1m8 0h4M300 142h13m1 0h3m1 0h1m1 0h3m9 0h3m8 0h1m6 0h1M288 146h1m12 0h12m2 0h4m1 0h4m7 0h4m5 0h5m1 0h5m5 0h1M300 150h13m2 0h9m7 0h5m1 0h1m2 0h11m2 0h5m121 0h1m1 0h1M330 154h1m36 0h2m1 0h1m2 0h1m2 0h1m33 0h1m9 0h1m10 0h3m23 0h1m2 0h2m3 0h1m23 0h1m2 0h1m7 0h1m4 0h1"/>
<path stroke="#de0000" d="M320 98h2m1 0h7m5 0h3m1 0h12m1 0h7m3 0h2M304 102h1m3 0h1m8 0h5m1 0h3m1 0h1m1 0h1m1 0h2m1 0h4m1 0h12m2 0h5M288 106h1m6 0h1m5 0h12m2 0h4m2 0h2m9 0h3M255 110h3m1 0h3m2 0h7m1 0h10m4 0h6m2 0h7m10 0h4M255 114h3m7 0h1m2 0h3m3 0h8m2 0h17m12 0h2M248 118h3m1 0h18m1 0h6m1 0h1m3 0h5m3 0h4m4 0h1M247 122h8m1 0h1m1 0h1m1 0h5m1 0h1m4 0h3m8 0h4M248 126h1m1 0h1m1 0h13m1 0h2m1 0h1m1 0h3m1 0h3m4 0h5m3 0h3M248 130h3m1 0h2m1 0h15m1 0h7m4 0h5m2 0h2m1 0h2M248 134h3m2 0h1m1 0h10m1 0h13m1 0h7m2 0h5m4 0h2M248 138h1m1 0h1m4 0h3m1 0h1m4 0h9m1 0h11m1 0h2m1 0h11m13 0h1M248 142h1m1 0h1m4 0h3m1 0h2m3 0h36m13 0h1M248 146h1m6 0h1m1 0h1m1 0h2m4 0h6m1 0h1m1 0h9m1 0h1m1 0h2m1 0h12m12 0h2M248 150h1m1 0h1m4 0h3m1 0h1m5 0h6m2 0h10m2 0h5m2 0h8m13 0h2M303 154h1m14 0h2m3 0h7m6 0h4m11 0h2m5 0h5m1 0h3m2 0h1m1 0h2m1 0h2m1 0h8m2 0h15m3 0h3m1 0h1m1 0h9m1 0h10m3 0h7m1 0h15m1 0h2m2 0h3m1 0h6m1 0h6m4 0h6m1 0h2m1 0h7m1 0h4m1 0h3"/>
<path stroke="#e10000" d="M301 98h12m2 0h5m2 0h1m8 0h4M270 102h1m17 0h1m6 0h3m2 0h4m1 0h3m1 0h4m1 0h3m5 0h1m10 0h1M248 106h1m6 0h3m1 0h2m3 0h20m2 0h2m1 0h3m1 0h2m1 0h5m12 0h2M247 110h8m3 0h1m3 0h2m7 0h1m10 0h4m6 0h2M248 114h7m3 0h7m1 0h2m3 0h3m8 0h2M247 118h1m3 0h1M247 126h1m1 0h1m1 0h1M247 130h1m3 0h1m2 0h1M247 134h1m3 0h2m1 0h1M231 138h1m15 0h1m1 0h1m1 0h4m3 0h1m1 0h4m9 0h1m11 0h1M230 142h1m1 0h1m14 0h1m1 0h1m1 0h4m3 0h1m2 0h3M230 146h2m15 0h1m1 0h6m1 0h1m1 0h1m2 0h4m6 0h1m1 0h1m9 0h1m1 0h1M230 150h2m15 0h1m1 0h1m1 0h4m3 0h1m1 0h5m6 0h2m10 0h2m5 0h2M230 154h1m17 0h1m7 0h1m8 0h1m1 0h4m4 0h2m1 0h4m5 0h3m4 0h4m2 0h3m1 0h9m2 0h3m2 0h3m8 0h5m4 0h11m2 0h5m5 0h1m21 0h2m15 0h3m3 0h1m32 0h1m30 0h1m6 0h4m26 0h1"/>
<path stroke="#e40000" d="M248 98h1m1 0h1m4 0h3m1 0h2m4 0h8m1 0h8m4 0h7m1 0h7m12 0h2M248 102h1m1 0h1m2 0h5m1 0h3m1 0h7m1 0h17m1 0h6m3 0h2m13 0h1M247 106h1m1 0h6m3 0h1m2 0h3m20 0h2m6 0h1M247 114h1M246 122h1M230 130h1m11 0h1m2 0h2M230 134h1M230 138h1m11 0h1M231 142h1m9 0h2m3 0h1M229 146h1m2 0h1m8 0h2M232 150h1m9 0h1m2 0h1M232 154h1m14 0h1m1 0h7m1 0h8m1 0h1m4 0h4m2 0h1m4 0h5m3 0h4m4 0h2m13 0h2M328 158h1m1 0h1m45 0h1m54 0h2"/>
<path stroke="#e60000" d="M247 98h1m1 0h1m2 0h3m3 0h1m2 0h4m8 0h1m8 0h4m7 0h1M247 102h1m1 0h1m1 0h2m5 0h1m3 0h1M241 110h2m2 0h2M242 114h1m2 0h1M241 118h2m1 0h3M241 122h2m1 0h2M241 126h2m1 0h3M231 130h1m9 0h1m1 0h2M231 134h2m8 0h2m1 0h3M232 138h1m8 0h1m2 0h3M229 142h1m9 0h1m4 0h2M233 146h1m5 0h1m3 0h4M224 150h1m4 0h1m3 0h1m5 0h1m1 0h1m1 0h2m1 0h1M231 154h1M247 158h2m1 0h1m4 0h2m2 0h2m4 0h1m4 0h1m32 0h3m12 0h1m4 0h5m1 0h1m6 0h3m12 0h1m7 0h2m3 0h5m1 0h6m1 0h4m1 0h3m6 0h2m2 0h3m1 0h1m10 0h3m7 0h3m2 0h4m1 0h1m2 0h1m4 0h1m7 0h1m3 0h1m2 0h1m2 0h6m1 0h3m7 0h2m11 0h4m1 0h2m1 0h1m1 0h1m2 0h4m2 0h2"/>
<path stroke="#e90000" d="M251 98h1M242 106h1m3 0h1M243 110h2M241 114h1m2 0h1m1 0h1M243 118h1M239 122h2m2 0h1M239 126h2m2 0h1M232 130h2m5 0h2M229 134h1m9 0h2m2 0h1M229 138h1m3 0h1m5 0h2m2 0h1M213 142h2m18 0h1m1 0h1m4 0h1m2 0h1M213 146h1m2 0h1m2 0h1m3 0h2m15 0h1M213 150h2m1 0h1m6 0h1m2 0h1m13 0h1M229 154h1m3 0h1m7 0h2m1 0h3M230 158h1m18 0h1m2 0h3m2 0h2m2 0h4m1 0h4m1 0h12m3 0h4m4 0h2m1 0h1m1 0h4m3 0h7m2 0h3m1 0h4m12 0h1m3 0h4m1 0h3m2 0h1m2 0h2m4 0h1m2 0h3m5 0h1m11 0h1m5 0h4m2 0h2m3 0h1m1 0h2m3 0h5m3 0h7m3 0h2m4 0h1m4 0h4m1 0h7m1 0h3m1 0h2m1 0h2m6 0h1m3 0h7m2 0h4m5 0h2m4 0h1m2 0h1m1 0h1m1 0h2m4 0h2m2 0h2"/>
<path stroke="#ec0000" d="M246 102h1M241 106h1m1 0h3M230 110h2m8 0h1M243 114h1M239 118h2M230 122h1m1 0h1M231 126h2M229 130h1M233 134h1m4 0h1M213 138h1m2 0h1m6 0h2m1 0h1M216 142h4m2 0h3m1 0h3m5 0h1m2 0h2M214 146h1m3 0h1m6 0h4m5 0h2m2 0h1M212 150h1m2 0h1m1 0h3m5 0h1m1 0h2m5 0h1m3 0h1M214 154h1m9 0h1m14 0h2m2 0h1M231 158h2m18 0h1m31 0h3m4 0h4m2 0h1m1 0h1m14 0h2m16 0h4m8 0h1m3 0h2m1 0h1m3 0h4m27 0h2m15 0h3m75 0h4m25 0h1"/>
<path stroke="#e00" d="M241 98h2m1 0h3M241 102h2m1 0h2M230 106h1m1 0h1m6 0h1M232 110h1m6 0h1M230 114h1m8 0h2M230 118h2M231 122h1m1 0h1m4 0h1M230 126h1m7 0h1M226 130h1m7 0h2m2 0h1M214 134h1m8 0h6m5 0h2m1 0h1M214 138h1m2 0h3m5 0h1m1 0h2m5 0h2m1 0h2M207 142h1m4 0h1m2 0h1m4 0h2m3 0h1m10 0h1M205 146h1m1 0h2m2 0h2m2 0h1m1 0h1m2 0h3m13 0h2M205 150h3m12 0h3m12 0h1m1 0h1M213 154h1m2 0h4m3 0h1m1 0h4m5 0h2m2 0h1M241 158h2m1 0h3m232 0h1M248 162h1m81 0h1m33 0h1m1 0h2m5 0h1m1 0h2"/>
<path stroke="#f10000" d="M243 98h1M243 102h1M231 106h1m8 0h1M233 110h1M231 114h2M232 118h1m5 0h1M235 122h1M229 126h1m3 0h1m1 0h1M223 130h3m11 0h1M212 134h2m2 0h4m2 0h1M215 138h1m5 0h2M200 142h1m1 0h1m2 0h2m4 0h1M199 146h4m1 0h1M198 150h7m3 0h1m2 0h1m24 0h1M215 154h1m4 0h3m14 0h1M229 158h1m3 0h1m5 0h2m2 0h1M249 162h2m5 0h2m7 0h1m2 0h1m5 0h3m33 0h1m8 0h1m4 0h1m1 0h4m8 0h1m21 0h2m3 0h1m2 0h1m1 0h1m1 0h1m1 0h1m3 0h2M366 166h2M366 170h1"/>
<path stroke="#f40000" d="M239 98h2M239 102h2M233 106h1M229 110h1m4 0h2m1 0h2M233 114h1m4 0h1M233 118h1M229 122h1m6 0h2M234 126h1m1 0h2M227 130h2m7 0h1M207 134h1m7 0h1m4 0h2m14 0h1M203 138h1m1 0h3m3 0h2m7 0h1m15 0h1M198 142h2m1 0h1m1 0h2m3 0h3M198 146h1m4 0h1m2 0h1m2 0h2M191 150h1m5 0h1m11 0h2M205 154h1m1 0h1m3 0h2m23 0h1M214 158h1m1 0h1m6 0h2m2 0h2m5 0h2M247 162h1m3 0h1m1 0h3m3 0h6m1 0h2m1 0h5m3 0h3m1 0h1m6 0h2m1 0h1m1 0h3m5 0h1m1 0h7m1 0h4m3 0h1m1 0h2m1 0h1m1 0h1m5 0h1m4 0h2m1 0h4m1 0h2m5 0h4m4 0h1m2 0h2m7 0h1m5 0h1m2 0h5m2 0h1m2 0h9M326 166h3m1 0h1m7 0h1m25 0h1m8 0h4m1 0h1M328 170h1m1 0h1m7 0h1m28 0h1m5 0h4M330 174h1m7 0h1m27 0h2m5 0h1m2 0h1"/>
<path stroke="#f60000" d="M230 102h3M238 106h1M229 114h1m7 0h1M229 118h1m4 0h2m1 0h1M234 122h1M213 130h2m1 0h3m3 0h1M198 134h1m2 0h2m2 0h2m1 0h1m2 0h1M199 138h2m1 0h1m5 0h2M190 142h3m1 0h1m2 0h1M190 146h3m1 0h1m1 0h2M189 150h2m1 0h3m1 0h1M198 154h6m2 0h1m1 0h1m1 0h1M213 158h1m1 0h1m1 0h3m1 0h2m2 0h2m10 0h2M230 162h1m21 0h1m5 0h1m21 0h1m3 0h4m2 0h1m1 0h1m3 0h1m1 0h3m1 0h1m12 0h3m4 0h1m9 0h1m1 0h2m7 0h1m2 0h4m5 0h1m1 0h2m10 0h1m18 0h2m9 0h3m8 0h3m6 0h2m5 0h2m4 0h2M248 166h3m4 0h3m1 0h2m1 0h4m1 0h3m4 0h4m16 0h2m6 0h1m1 0h2m1 0h4m1 0h1m6 0h3m1 0h3m3 0h1m7 0h1m1 0h2m1 0h1m8 0h2m6 0h5m1 0h1m2 0h1m1 0h3m4 0h1m1 0h4m8 0h3m1 0h2M248 170h1m1 0h1m4 0h3m6 0h2m1 0h2m5 0h3m17 0h2m11 0h2m1 0h3m7 0h1m2 0h5m1 0h1m21 0h1m7 0h3m1 0h3m2 0h1m1 0h3m5 0h2m11 0h2M250 174h1m6 0h1m17 0h1m32 0h1m15 0h1m1 0h3m32 0h1m2 0h2m8 0h2m2 0h2"/>
<path stroke="#f90000" d="M230 98h3m5 0h1M238 102h1M229 106h1m4 0h2m1 0h1M236 110h1M234 114h2M236 118h1M205 130h3m3 0h2m2 0h1m3 0h3M197 134h1m1 0h2m2 0h2m4 0h2M191 138h1m5 0h2m2 0h1m2 0h1m5 0h1M158 142h2m27 0h2m4 0h1m2 0h1M163 146h1m7 0h1m15 0h1m1 0h1m3 0h1m1 0h1M158 150h2m3 0h1m7 0h1m14 0h3m6 0h1M191 154h2m4 0h1m6 0h1m4 0h1M200 158h1m4 0h1m1 0h1m4 0h1m7 0h1m15 0h1M231 162h2m49 0h2m13 0h1m35 0h1m16 0h1m5 0h1m28 0h2m15 0h1m2 0h5m3 0h2m2 0h2m2 0h3m1 0h1m2 0h4m2 0h1m13 0h1m11 0h1m13 0h2m26 0h1M247 166h1m4 0h3m3 0h1m2 0h1m4 0h1m3 0h4m4 0h4m2 0h2m1 0h7m3 0h1m1 0h3m1 0h1m2 0h1m4 0h1m1 0h6m3 0h1m8 0h1m3 0h2m4 0h1m2 0h3m1 0h2m3 0h3m2 0h1m10 0h1m13 0h2m2 0h1m1 0h2m3 0h1m2 0h5m8 0h2m7 0h2m6 0h1m4 0h2M230 170h1m16 0h1m1 0h1m2 0h3m4 0h5m2 0h1m2 0h4m4 0h3m4 0h2m2 0h2m1 0h1m1 0h1m6 0h6m3 0h1m3 0h3m1 0h3m1 0h2m8 0h1m3 0h3m1 0h4m1 0h3m5 0h4m6 0h1m14 0h1m2 0h5m2 0h1m1 0h2m2 0h6m1 0h1m9 0h1M248 174h2m4 0h3m2 0h12m3 0h1m1 0h3m15 0h2m5 0h1m2 0h2m1 0h1m1 0h4m1 0h1m4 0h5m1 0h1m3 0h1m6 0h2m1 0h3m3 0h1m5 0h1m1 0h1m5 0h2m1 0h2m4 0h1m1 0h3m4 0h1m2 0h3m7 0h4m1 0h2M248 178h1m1 0h1m4 0h3m7 0h1M248 182h1m1 0h1m4 0h3"/>
<path stroke="#fc0000" d="M233 98h1m3 0h1M233 102h1m1 0h1M228 106h1m7 0h1M223 110h4m1 0h1M236 114h1M226 122h1m1 0h1M226 126h3M198 130h5m5 0h1M158 134h1m31 0h3M159 138h1m3 0h1m7 0h1m18 0h1m1 0h3M61 142h1m101 0h1m7 0h3m12 0h1m2 0h1m5 0h1M52 146h1m8 0h1m3 0h1m91 0h3m2 0h1m9 0h1m15 0h1M52 150h1m4 0h1m4 0h1m2 0h1m94 0h1m1 0h1m9 0h2M158 154h1m12 0h1m15 0h1m2 0h1m5 0h1M198 158h2m1 0h3m2 0h1m1 0h1m2 0h1M241 162h6m156 0h2m10 0h2m7 0h1m10 0h5m7 0h1m1 0h2m2 0h1m1 0h1m1 0h3m1 0h1m1 0h2m3 0h1m4 0h1m13 0h3m2 0h4m3 0h3m1 0h1m1 0h2m1 0h1M230 166h3m18 0h1m30 0h1m3 0h1m9 0h1m1 0h1m33 0h3m8 0h1m3 0h1m2 0h1m5 0h2m30 0h1m13 0h1m4 0h3m2 0h3m2 0h2m2 0h3m1 0h2m1 0h4m3 0h2m23 0h1m12 0h2m18 0h1m5 0h1m1 0h2M251 170h1m6 0h1m14 0h1m6 0h2m4 0h2m2 0h1m1 0h1m3 0h4m6 0h1m9 0h1m15 0h1m1 0h1m8 0h1m3 0h4m6 0h2m10 0h1m16 0h1m1 0h1m10 0h1m1 0h1m7 0h1m1 0h2m6 0h4m2 0h2m4 0h3M247 174h1m3 0h3m4 0h1m12 0h3m5 0h3m2 0h10m2 0h2m2 0h1m1 0h2m2 0h1m6 0h1m1 0h4m12 0h2m2 0h1m6 0h3m1 0h5m1 0h1m1 0h2m1 0h2m10 0h1m13 0h2m2 0h3m4 0h1m2 0h4M249 178h1m2 0h3m3 0h7m1 0h5m3 0h3m53 0h1m35 0h2m5 0h1m2 0h1M249 182h1m2 0h3m4 0h10m1 0h1m3 0h3M230 194h1M230 198h1"/>
<path stroke="#fe0000" d="M234 98h2M229 102h1m4 0h1m2 0h1M223 106h2m1 0h2M227 110h1M224 114h1m1 0h3M224 122h2m1 0h1M224 126h1M190 130h3m4 0h1m5 0h2m4 0h2M159 134h1m2 0h2m7 0h1m15 0h3m3 0h2m1 0h1M158 138h1m28 0h1m1 0h1m6 0h1M52 142h1m4 0h1m4 0h1m1 0h2m90 0h2m2 0h1m1 0h1m11 0h1m2 0h1M51 146h1m1 0h1m2 0h2m4 0h3m91 0h1m3 0h1m8 0h2m2 0h5m8 0h1M51 150h1m6 0h1m2 0h1m2 0h1m91 0h2m3 0h1m12 0h4m5 0h2M159 154h1m2 0h2m9 0h1m15 0h1m3 0h3M190 158h2m5 0h1m6 0h1m4 0h2M229 162h1m9 0h1m200 0h1m1 0h1m1 0h3m4 0h2m1 0h1m1 0h1m5 0h1m2 0h1m1 0h1m1 0h4m3 0h3m5 0h3m3 0h2m5 0h2m5 0h1m2 0h1M283 166h1m101 0h2m16 0h4m8 0h2m7 0h1m9 0h1m2 0h3m2 0h1m2 0h1m1 0h4m2 0h7m1 0h1m1 0h3m3 0h1m5 0h2m11 0h2m2 0h1m1 0h2m4 0h1m2 0h1m1 0h3M229 170h1m1 0h2m49 0h2m49 0h1m22 0h1m28 0h1m16 0h1m1 0h5m4 0h2m1 0h3m4 0h2m2 0h4m3 0h3m1 0h1m8 0h2m6 0h1m1 0h1m2 0h1m2 0h1m9 0h3m17 0h2m5 0h3M230 174h1m51 0h2m14 0h2m33 0h2m21 0h1m29 0h1m14 0h1m7 0h3m7 0h2M230 178h2m15 0h1m3 0h1m19 0h3m3 0h4m7 0h1m5 0h1m12 0h2m1 0h1m13 0h1m1 0h4m8 0h1m21 0h2m1 0h3m2 0h1m1 0h1m1 0h1m1 0h2m2 0h2m2 0h1M230 182h1m16 0h1m3 0h1m6 0h1m10 0h1m1 0h3m3 0h2m15 0h1m35 0h1m7 0h1m27 0h2m7 0h2M230 186h2m16 0h3m4 0h3m1 0h1m1 0h1m3 0h1m1 0h1m6 0h2m54 0h1m7 0h1m27 0h2m8 0h1M230 190h1M231 194h1M231 198h2M230 202h2"/>
<path stroke="#ff0900" d="M229 98h1m6 0h1M236 102h1M225 106h1M214 110h1m1 0h1m3 0h1M223 114h1m1 0h1M226 118h3M223 122h1M223 126h1m1 0h1M158 130h2m3 0h1m7 0h1m17 0h1m3 0h2m1 0h1M157 134h1m2 0h1m12 0h1m12 0h1m8 0h1M157 138h1m4 0h1m9 0h1m1 0h1m2 0h1m8 0h1m1 0h1m6 0h1M51 142h1m1 0h2m1 0h1m6 0h1m2 0h1m94 0h1m7 0h2m4 0h1m7 0h1M54 146h1m3 0h1m7 0h1m21 0h1m12 0h2m16 0h1m41 0h1m18 0h1m2 0h2M53 150h4m2 0h2m2 0h1m2 0h1m20 0h2m6 0h1m5 0h2m16 0h1m48 0h3m9 0h1m1 0h1M156 154h2m2 0h2m8 0h1m3 0h1m11 0h1m1 0h1M158 158h2m3 0h1m28 0h1m1 0h1M199 162h1m14 0h4m6 0h1m1 0h3m4 0h1m4 0h1m1 0h1m200 0h1m1 0h1m22 0h1m15 0h2m12 0h1m12 0h1M158 166h2m39 0h1m14 0h2m1 0h1m11 0h1m3 0h1m12 0h1m193 0h2m1 0h2m1 0h1m4 0h2m9 0h1m4 0h2m1 0h3m4 0h2m3 0h1m1 0h4m2 0h2m5 0h2m5 0h1m3 0h1M217 170h1m15 0h1m169 0h1m11 0h1m21 0h1m2 0h1m1 0h1m3 0h1m2 0h2m2 0h2m1 0h1m1 0h2m1 0h1m2 0h2m2 0h2m6 0h1m10 0h3m2 0h1m2 0h1m1 0h3m3 0h6M231 174h3m151 0h1m16 0h1m2 0h1m1 0h2m3 0h2m3 0h2m2 0h1m3 0h4m4 0h1M281 178h1m2 0h4m1 0h5m1 0h1m4 0h7m2 0h1m1 0h2m4 0h5m1 0h1m1 0h1m11 0h1m1 0h2m1 0h1m1 0h1m1 0h1m4 0h3m5 0h1m2 0h1m8 0h1m5 0h1m2 0h2m1 0h1m3 0h1m2 0h1m1 0h2m1 0h4M231 182h2m46 0h3m2 0h2m1 0h4m1 0h1m2 0h1m5 0h1m2 0h1m2 0h2m1 0h1m1 0h1m11 0h6m21 0h1m8 0h2m1 0h3m2 0h1m1 0h2m1 0h2m3 0h2M158 186h1m73 0h1m14 0h1m4 0h3m3 0h1m1 0h1m1 0h3m1 0h1m1 0h4m4 0h3m15 0h2m11 0h2m17 0h3m31 0h2m2 0h2m2 0h1m1 0h1m2 0h3m2 0h2M231 190h1M158 194h1m58 0h1m14 0h1M158 198h1M158 202h1m58 0h1m14 0h1M230 206h1"/>
<path stroke="#ff1500" d="M226 102h2M214 106h1M212 110h2m3 0h3m1 0h2M224 118h2M162 130h1m23 0h3m6 0h1M65 134h1m90 0h1m4 0h1m7 0h2m1 0h1m1 0h1m2 0h1m5 0h2M52 138h1m11 0h2m90 0h1m3 0h2m7 0h2m2 0h1m1 0h2M49 142h1m5 0h1m2 0h3m8 0h1m17 0h2m12 0h2m5 0h1m4 0h1m4 0h2m47 0h1m8 0h1m3 0h3m1 0h1M44 146h1m4 0h1m5 0h1m3 0h2m6 0h1m1 0h2m16 0h1m7 0h1m7 0h1m4 0h1m3 0h1m4 0h1m49 0h2m12 0h2m2 0h1M43 150h1m5 0h2m16 0h1m1 0h2m32 0h1m4 0h1m4 0h1m4 0h1m6 0h1m41 0h1m10 0h1m2 0h1M61 154h2m38 0h2m16 0h1m49 0h1m2 0h1m4 0h1m2 0h1m3 0h1M156 158h2m2 0h1m1 0h1m8 0h1m2 0h1m12 0h3m3 0h1m1 0h2M158 162h2m37 0h2m6 0h2m6 0h1m4 0h2m3 0h1m10 0h2m243 0h3M157 166h1m39 0h2m6 0h1m7 0h1m2 0h1m7 0h1m1 0h3m6 0h1m5 0h2m1 0h2m220 0h1m16 0h1m12 0h1m12 0h1M158 170h2m55 0h2m7 0h1m1 0h1m17 0h3m192 0h1m1 0h1m1 0h3m5 0h2m9 0h1m3 0h2m2 0h3m4 0h2m5 0h3m3 0h2m4 0h1M159 174h1m55 0h1m1 0h1m8 0h1m2 0h1m16 0h1m156 0h2m1 0h1m7 0h3m5 0h3m4 0h4m3 0h1m1 0h1M214 178h1m2 0h1m8 0h1m2 0h1m2 0h2m12 0h1m35 0h2m12 0h4m13 0h3m6 0h1m8 0h1m2 0h3m4 0h1m1 0h1m1 0h1m1 0h3m4 0h2m1 0h2m10 0h1m14 0h1m3 0h2m1 0h1m2 0h1m4 0h3m8 0h2m8 0h1m6 0h1m5 0h1M229 182h1m52 0h2m2 0h1m4 0h1m1 0h1m2 0h2m1 0h2m1 0h2m1 0h2m2 0h1m1 0h1m2 0h2m1 0h1m1 0h5m12 0h2m1 0h3m2 0h1m7 0h1m2 0h1m3 0h1m2 0h1m9 0h1m4 0h1m2 0h4m3 0h2m1 0h10M215 186h1m10 0h1m2 0h1m3 0h1m17 0h1m20 0h2m5 0h3m2 0h2m1 0h7m6 0h7m2 0h4m1 0h2m1 0h5m1 0h3m3 0h1m6 0h2m1 0h3m2 0h1m6 0h1m1 0h1m5 0h1m2 0h2m7 0h2m4 0h1m2 0h4m6 0h4m1 0h2M158 190h1m56 0h1m16 0h1M159 194h1m38 0h2m12 0h5m9 0h1m2 0h1m3 0h1m16 0h1M159 198h2m38 0h1m12 0h4m1 0h1m8 0h2m1 0h1m3 0h1m14 0h1M159 202h1m38 0h2m14 0h3m9 0h1m2 0h1M158 206h1m72 0h2M230 210h1M158 214h1m71 0h1M158 218h1"/>
<path stroke="#ff2100" d="M227 98h2M223 102h2m3 0h1M213 106h1m2 0h1m1 0h3m1 0h1M200 110h1m4 0h1m1 0h1m7 0h1M214 114h1m1 0h1m5 0h1M223 118h1M222 122h1M221 126h2M57 130h1m3 0h1m94 0h2m2 0h2m8 0h1m1 0h3m2 0h1M52 134h1m3 0h2m3 0h4m1 0h1m34 0h1m17 0h1m47 0h2m6 0h2m3 0h2M51 138h1m5 0h2m2 0h3m23 0h2m12 0h2m64 0h2m11 0h5M40 142h1m2 0h2m3 0h1m1 0h1m16 0h1m2 0h2m2 0h1m20 0h1m7 0h1m13 0h1m46 0h2m2 0h1m9 0h2m5 0h1M40 146h1m2 0h1m3 0h2m1 0h1m17 0h1m2 0h2m16 0h1m3 0h1m13 0h1m3 0h1m4 0h1m1 0h1m18 0h1m1 0h1m6 0h1m17 0h3m11 0h1M40 150h1m3 0h1m3 0h1m19 0h1m2 0h2m1 0h2m10 0h1m2 0h1m7 0h1m1 0h1m4 0h1m7 0h1m3 0h2m19 0h1m1 0h1m15 0h1m8 0h3m12 0h1m5 0h1M51 154h3m3 0h1m5 0h3m21 0h2m19 0h1m3 0h1m54 0h2m6 0h2m4 0h1m1 0h1M57 158h1m3 0h2m2 0h1m36 0h1m15 0h1m50 0h2m1 0h2m3 0h1m8 0h1M157 162h1m2 0h4m32 0h1m4 0h1m5 0h2m2 0h2m7 0h1m4 0h1m10 0h2M87 166h2m67 0h1m3 0h2m1 0h1m9 0h1m26 0h1m1 0h1m3 0h1m1 0h1m3 0h1m10 0h1m10 0h1m4 0h1m3 0h1m235 0h3M160 170h1m36 0h3m5 0h2m5 0h3m8 0h1m3 0h2m5 0h2m3 0h1m1 0h2m239 0h2m25 0h1M158 174h1m39 0h2m13 0h2m1 0h1m6 0h2m3 0h1m10 0h1m1 0h1m2 0h2m188 0h2m1 0h1m10 0h1m8 0h1m2 0h2m3 0h1m7 0h3m13 0h1m3 0h2m6 0h2M158 178h2m38 0h1m14 0h1m1 0h2m7 0h1m2 0h2m16 0h1m70 0h1m15 0h2m16 0h1m5 0h1m29 0h1m15 0h1m4 0h1m1 0h1m2 0h3m2 0h1m1 0h1m1 0h3m1 0h2m1 0h1m2 0h2M158 182h2m53 0h5m5 0h2m1 0h2m5 0h1m11 0h2m51 0h1m14 0h1m2 0h1m1 0h1m12 0h2m1 0h2m6 0h2m1 0h6m2 0h2m2 0h2m10 0h1m14 0h1m4 0h1m10 0h2m7 0h4m6 0h2m1 0h1m3 0h2m4 0h2M156 186h2m1 0h1m37 0h3m14 0h1m1 0h2m5 0h1m3 0h1m54 0h2m2 0h1m9 0h4m13 0h1m2 0h1m5 0h1m8 0h2m1 0h2m6 0h2m1 0h2m1 0h3m1 0h1m1 0h2m1 0h2m10 0h1m14 0h1m2 0h3m4 0h1m2 0h4M159 190h1m39 0h1m14 0h1m1 0h2m8 0h1m1 0h2m3 0h1m14 0h1m1 0h1m6 0h1M88 194h1m67 0h2m2 0h1m1 0h2m33 0h1m7 0h2m11 0h1m4 0h2m2 0h2m19 0h2m6 0h1M156 198h2m5 0h1m33 0h2m6 0h1m1 0h2m7 0h1m6 0h2m3 0h1m20 0h2M88 202h1m67 0h2m2 0h1m2 0h1m13 0h1m19 0h1m7 0h1m7 0h1m5 0h1m3 0h2m2 0h2m4 0h1M159 206h1m38 0h2m5 0h1m8 0h1m2 0h1M158 210h1m72 0h2M159 214h1M159 218h1m70 0h1M158 222h2"/>
<path stroke="#ff2d00" d="M224 98h1m1 0h1M225 102h1M199 106h1m5 0h1m6 0h1m2 0h1m1 0h1m3 0h1M158 110h2m38 0h2m1 0h2m3 0h1m1 0h1m2 0h1M212 114h2m3 0h5M222 118h1M214 122h1m1 0h1m1 0h1M214 126h1m1 0h1m2 0h2M51 130h1m1 0h1m8 0h4m21 0h1m13 0h2m65 0h2m5 0h2m6 0h1M51 134h1m1 0h3m2 0h1m1 0h1m9 0h1m16 0h2m13 0h1m5 0h1m3 0h1m4 0h2m45 0h2m12 0h1m3 0h1m2 0h1M53 138h4m3 0h1m5 0h1m2 0h1m25 0h1m7 0h1m4 0h1m9 0h2m44 0h3m11 0h1m6 0h1M68 142h1m3 0h2m1 0h1m8 0h1m1 0h1m2 0h1m1 0h3m2 0h5m3 0h1m2 0h1m3 0h2m3 0h1m8 0h1m1 0h1m9 0h3m3 0h1m1 0h1m9 0h1m10 0h1M74 146h3m9 0h1m3 0h3m1 0h1m1 0h1m1 0h3m3 0h1m1 0h1m2 0h2m2 0h1m1 0h1m9 0h3m2 0h1m7 0h1m5 0h1m4 0h1m5 0h1m23 0h1M32 150h1m9 0h1m4 0h1m28 0h1m7 0h1m5 0h5m1 0h1m1 0h1m6 0h3m1 0h3m2 0h2m11 0h1m2 0h1m2 0h1m2 0h1m4 0h1m1 0h4m1 0h1m4 0h1M54 154h3m1 0h1m7 0h2m1 0h2m24 0h1m7 0h1m9 0h1m2 0h3m45 0h2m12 0h1m3 0h1m2 0h1M52 158h1m10 0h2m1 0h1m21 0h1m6 0h1m5 0h1m1 0h1m57 0h1m5 0h2m6 0h2m4 0h1m1 0h2M61 162h1m1 0h1m24 0h1m67 0h1m13 0h2m1 0h2m2 0h1m11 0h1m3 0h2m5 0h1m1 0h3m4 0h2m10 0h2M61 166h2m56 0h1m42 0h1m8 0h2m1 0h1m2 0h1m18 0h1m4 0h1m2 0h1m2 0h1m1 0h1m1 0h1m6 0h3m1 0h1m2 0h1m10 0h3m1 0h1M87 170h2m67 0h2m5 0h1m8 0h1m4 0h1m18 0h1m3 0h1m6 0h2m2 0h1m6 0h2m20 0h1m2 0h1m235 0h3M156 174h2m2 0h1m2 0h1m41 0h2m5 0h1m5 0h2m2 0h1m2 0h1m1 0h1m6 0h2m6 0h2m195 0h4m2 0h3m1 0h2m2 0h4m1 0h2m3 0h2m3 0h3m1 0h1m3 0h1m10 0h2m3 0h1m2 0h1m3 0h2m2 0h1m1 0h4M156 178h2m2 0h1m36 0h1m1 0h1m5 0h4m14 0h1m10 0h2m3 0h1m1 0h4m140 0h1m17 0h4m1 0h1m6 0h2m1 0h1m5 0h1m4 0h2m3 0h3m1 0h1m8 0h2m6 0h7m1 0h1m1 0h1m7 0h2m18 0h2m5 0h4m1 0h1M88 182h1m67 0h2m2 0h1m1 0h1m34 0h3m5 0h1m1 0h1m10 0h2m5 0h1m2 0h1m10 0h1m1 0h1m2 0h1m88 0h1m22 0h1m29 0h1m15 0h1m2 0h4m4 0h3m1 0h2m2 0h1m1 0h1m1 0h1m2 0h4m2 0h3m1 0h1m8 0h2m9 0h1m1 0h1m3 0h2m7 0h3m17 0h2m5 0h3M87 186h1m72 0h2m1 0h1m32 0h1m8 0h4m2 0h3m4 0h2m4 0h1m3 0h1m5 0h2m9 0h2m86 0h1m13 0h1m8 0h1m28 0h2m14 0h1m8 0h2m8 0h1M88 190h1m67 0h2m2 0h1m36 0h2m6 0h1m1 0h1m4 0h2m9 0h2m2 0h1m19 0h1m1 0h1m2 0h1m2 0h2m2 0h1m1 0h1m2 0h2m1 0h2m5 0h3m53 0h1m7 0h1m27 0h2m5 0h4M63 194h1m23 0h1m73 0h1m9 0h3m3 0h1m18 0h1m3 0h1m6 0h2m2 0h1m7 0h1m1 0h1m3 0h1m8 0h2m11 0h1m5 0h1m1 0h1m1 0h1m1 0h3m1 0h1m1 0h1m1 0h1m6 0h3m53 0h1m7 0h1m27 0h2m5 0h1m2 0h1M61 198h2m24 0h2m23 0h1m6 0h1m41 0h2m8 0h4m2 0h1m18 0h1m3 0h3m3 0h1m2 0h1m1 0h1m6 0h1m3 0h1m2 0h1m9 0h1m11 0h1m7 0h3m1 0h1m1 0h1m2 0h2m1 0h1m6 0h3m53 0h1m35 0h2m7 0h1M63 202h1m23 0h1m73 0h2m37 0h1m1 0h1m3 0h3m2 0h2m5 0h1m1 0h1m13 0h1m12 0h4m5 0h2M156 206h2m2 0h1m2 0h1m33 0h1m8 0h1m1 0h1m4 0h1m1 0h2m6 0h2m1 0h1m1 0h2m3 0h1m14 0h1M159 210h1m38 0h2m13 0h4m12 0h1M157 214h1m2 0h1m2 0h1m33 0h3m15 0h1m1 0h1m13 0h2M157 218h1m2 0h1m37 0h1m32 0h1M156 222h1m73 0h2M158 230h2"/>
<path stroke="#ff3900" d="M223 98h1m1 0h1M219 102h1M158 106h1m38 0h2m1 0h4m2 0h2m3 0h1M162 110h2m26 0h2m5 0h1m5 0h2m4 0h2M200 114h1m4 0h3m3 0h1m3 0h1M216 118h1m1 0h2m1 0h1M200 122h1m4 0h1m1 0h1m4 0h2m1 0h1m1 0h1m1 0h3M207 126h1m4 0h2m1 0h1m1 0h1M52 130h1m1 0h1m3 0h1m29 0h1m6 0h1m12 0h1m3 0h1m4 0h3m46 0h2m12 0h3m1 0h1M40 134h1m8 0h2m8 0h1m7 0h1m1 0h1m1 0h1m2 0h1m14 0h1m3 0h1m1 0h1m7 0h1m3 0h1m3 0h1m1 0h1m2 0h1m8 0h1m11 0h1m1 0h1m6 0h1m19 0h1m12 0h1M40 138h1m3 0h1m4 0h1m9 0h1m7 0h2m1 0h2m2 0h1m14 0h1m3 0h1m3 0h1m9 0h1m3 0h3m2 0h2m21 0h1m15 0h1m23 0h1M33 142h1m7 0h1m5 0h1m28 0h2m3 0h3m1 0h1m4 0h1m14 0h2m2 0h2m3 0h2m10 0h1m1 0h1m1 0h1m5 0h1m4 0h2m1 0h1m1 0h4m1 0h1m1 0h2M33 146h1m7 0h2m30 0h1m3 0h1m3 0h4m12 0h1m7 0h1m8 0h1m5 0h2m6 0h1m4 0h1m2 0h1m3 0h4m1 0h1m1 0h2m1 0h1m1 0h3M31 150h1m1 0h1m7 0h1m31 0h1m3 0h1m4 0h2m1 0h1m14 0h1m19 0h1m5 0h1m1 0h2m1 0h2m5 0h1m3 0h1m4 0h1m1 0h2m3 0h1M40 154h1m2 0h2m2 0h1m2 0h1m8 0h2m7 0h1m2 0h1m2 0h1m14 0h1m2 0h2m4 0h1m7 0h2m1 0h1m1 0h1m25 0h1m17 0h1m10 0h1m12 0h1M51 158h1m1 0h1m2 0h1m1 0h1m1 0h1m9 0h1m36 0h2m3 0h1m3 0h2m1 0h1m46 0h1m11 0h1m1 0h1m1 0h1M62 162h1m2 0h1m21 0h1m13 0h1m67 0h1m2 0h1m2 0h1m14 0h3M57 166h1m5 0h1m1 0h1m20 0h1m6 0h1m1 0h1m11 0h1m4 0h1m5 0h1m48 0h2m1 0h1m4 0h2m11 0h4m1 0h2m8 0h1m6 0h1m10 0h1M61 170h3m22 0h1m25 0h1m5 0h2m41 0h2m5 0h4m1 0h2m27 0h2m5 0h1m10 0h3m2 0h1m11 0h2M62 174h2m23 0h2m30 0h1m41 0h2m9 0h1m4 0h1m15 0h1m2 0h2m2 0h1m1 0h1m4 0h2m2 0h1m8 0h1m17 0h1m1 0h1m202 0h2m6 0h2m9 0h1m3 0h2m3 0h1m5 0h2m3 0h1m1 0h3m3 0h2m5 0h2m5 0h1m4 0h1M87 178h2m72 0h3m9 0h1m3 0h1m18 0h1m3 0h1m10 0h2m5 0h2m1 0h1m3 0h1m14 0h1m196 0h1m1 0h1m1 0h2m2 0h2m2 0h2m1 0h3m9 0h1m3 0h3m1 0h1m2 0h2m10 0h6m2 0h1m1 0h1m1 0h1m4 0h1m1 0h3M87 182h1m73 0h1m1 0h1m8 0h1m1 0h1m2 0h1m22 0h1m1 0h1m3 0h1m1 0h1m2 0h2m7 0h3m11 0h2m2 0h1m1 0h1m1 0h2m141 0h1m17 0h2m11 0h1m7 0h1m12 0h1m1 0h1m2 0h1m2 0h2m2 0h2m1 0h6m1 0h1m1 0h1m1 0h1m4 0h3m1 0h1m3 0h1m8 0h1m1 0h4m1 0h1m2 0h1m2 0h2m3 0h1m1 0h3M62 186h2m24 0h1m23 0h1m6 0h1m42 0h1m7 0h1m1 0h3m2 0h1m10 0h2m4 0h1m5 0h3m6 0h1m10 0h1m4 0h1m13 0h1m1 0h2m1 0h1m157 0h1m2 0h1m1 0h3m2 0h4m3 0h1m2 0h1m2 0h3m3 0h3M62 190h2m23 0h1m73 0h3m10 0h1m27 0h1m3 0h1m1 0h2m1 0h1m6 0h2m5 0h1m8 0h2m15 0h1m1 0h2m3 0h1m1 0h1m1 0h2m2 0h1m2 0h4m4 0h3m4 0h2m2 0h1m5 0h2m5 0h1m2 0h1m2 0h2m1 0h3m6 0h2m3 0h6m9 0h1m20 0h6m2 0h1m1 0h3m5 0h2m12 0h1m3 0h1M57 194h1m3 0h2m1 0h2m20 0h1m8 0h1m5 0h1m10 0h1m6 0h1m50 0h1m3 0h3m12 0h1m3 0h1m7 0h4m4 0h2m9 0h1m1 0h1m28 0h2m1 0h1m3 0h1m3 0h1m1 0h1m1 0h1m1 0h4m5 0h3m1 0h1m6 0h1m5 0h2m8 0h1m2 0h2m2 0h1m7 0h1m4 0h1m1 0h4m29 0h3m1 0h3m4 0h2m2 0h2m2 0h2m12 0h1M63 198h1m1 0h1m29 0h1m5 0h1m1 0h1m3 0h1m10 0h1m26 0h1m24 0h1m18 0h2m2 0h2m9 0h1m5 0h1m8 0h3m12 0h1m16 0h4m3 0h1m1 0h1m1 0h2m2 0h1m1 0h6m3 0h2m10 0h1m4 0h2m8 0h1m2 0h1m2 0h1m13 0h1m1 0h4m8 0h1m21 0h2m2 0h2m4 0h1m2 0h2m1 0h1m1 0h2M61 202h2m2 0h1m29 0h1m5 0h2m4 0h1m4 0h2m4 0h2m26 0h1m21 0h7m16 0h1m1 0h1m2 0h1m4 0h1m7 0h2m10 0h2m2 0h1m9 0h1m15 0h5m3 0h3m1 0h3m9 0h1M62 206h1m24 0h2m72 0h1m8 0h1m6 0h1m18 0h1m3 0h1m6 0h1m4 0h1m5 0h2m5 0h1m1 0h1m7 0h1m11 0h1m1 0h2m4 0h3M156 210h2m2 0h1m2 0h1m33 0h1m7 0h1m1 0h1m4 0h1m4 0h1m6 0h1m1 0h1m1 0h1m4 0h1M61 214h2m24 0h2m30 0h1m36 0h1m4 0h2m8 0h2m4 0h1m18 0h1m3 0h1m4 0h2m6 0h2m1 0h1m9 0h1m2 0h1M62 218h2m23 0h2m30 0h1m36 0h1m4 0h3m33 0h1m1 0h1m5 0h1m7 0h1m1 0h1m1 0h1m11 0h1m2 0h1M157 222h1m2 0h1m2 0h1m33 0h3m17 0h1m11 0h1m2 0h1m97 0h1m35 0h2m5 0h1m2 0h1M158 226h1m71 0h1m136 0h1M156 230h1m6 0h1m66 0h3m97 0h1m35 0h2m6 0h1m1 0h1"/>
<path stroke="#ff4500" d="M214 102h1m1 0h1m3 0h3M102 106h1m53 0h2m1 0h1m2 0h1m27 0h3m1 0h1m9 0h1m3 0h3M52 110h1m4 0h1m3 0h5m35 0h2m16 0h1m36 0h2m2 0h1m10 0h2m15 0h2m2 0h3m1 0h1M198 114h2m1 0h2m5 0h2M200 118h1m4 0h1m1 0h1m4 0h3m2 0h1m2 0h1M190 122h1m8 0h1m3 0h1m4 0h1M199 126h4m2 0h2m4 0h1m6 0h1M40 130h1m2 0h1m6 0h1m4 0h2m2 0h2m5 0h2m1 0h3m17 0h3m1 0h1m3 0h2m4 0h1m3 0h1m5 0h1m2 0h1m20 0h1m8 0h1m8 0h1m8 0h2m12 0h1m6 0h1M43 134h2m2 0h2m19 0h1m3 0h1m17 0h3m3 0h4m4 0h1m1 0h1m2 0h1m17 0h1m2 0h1m5 0h1m8 0h1m7 0h1m1 0h1M43 138h1m3 0h2m1 0h1m21 0h1m2 0h1m10 0h1m3 0h3m1 0h1m1 0h1m1 0h3m3 0h1m1 0h1m2 0h2m14 0h1m1 0h2m4 0h1m2 0h3m4 0h1m1 0h3m1 0h1M31 142h2m6 0h1m2 0h1m2 0h1m32 0h1m15 0h1m25 0h3m1 0h1m4 0h1m1 0h3m1 0h1m4 0h1m9 0h1m1 0h1M30 146h3m6 0h1m5 0h1m32 0h1m6 0h1m36 0h1m1 0h1m4 0h1m2 0h1m2 0h1m15 0h1M45 150h2m31 0h1m2 0h1m39 0h2m1 0h1m10 0h1m4 0h1m10 0h2M32 154h2m14 0h2m22 0h1m2 0h1m7 0h2m1 0h1m3 0h2m2 0h1m1 0h2m1 0h2m3 0h2m4 0h1m4 0h1m9 0h1m1 0h2m1 0h1m2 0h1m2 0h1m1 0h2m1 0h1m1 0h7m3 0h2M44 158h1m4 0h2m3 0h2m3 0h1m7 0h3m1 0h1m2 0h2m11 0h1m1 0h1m3 0h1m4 0h1m5 0h1m1 0h1m4 0h1m1 0h1m11 0h1m1 0h1m9 0h1m1 0h1m6 0h1m8 0h1m8 0h2m13 0h1M40 162h1m16 0h1m6 0h1m3 0h1m17 0h1m6 0h1m1 0h1m6 0h1m8 0h2m5 0h2m47 0h2m7 0h1m10 0h2m6 0h1M40 166h1m11 0h1m11 0h1m1 0h1m1 0h1m23 0h1m7 0h4m4 0h1m2 0h1m1 0h1m2 0h1m9 0h1m6 0h1m11 0h2m8 0h1m13 0h1m17 0h1m4 0h1m2 0h1M57 170h1m7 0h2m1 0h1m24 0h1m1 0h1m5 0h1m1 0h1m3 0h1m5 0h1m12 0h1m6 0h1m33 0h1m7 0h2m11 0h4m1 0h2m6 0h1m2 0h1m5 0h1m25 0h1M61 174h1m3 0h1m29 0h1m5 0h2m4 0h1m4 0h2m4 0h1m51 0h2m1 0h2m1 0h1m12 0h1m1 0h1m2 0h1m9 0h1m4 0h2m10 0h1m14 0h2m245 0h1m12 0h1M61 178h3m1 0h1m27 0h1m18 0h1m5 0h2m49 0h4m1 0h3m12 0h1m3 0h2m6 0h2m1 0h1m4 0h1m10 0h1m1 0h1m13 0h3m201 0h1m2 0h2m6 0h1m10 0h1m3 0h2m3 0h1m5 0h2m3 0h1m1 0h3m9 0h1m1 0h1m10 0h1M61 182h3m1 0h1m27 0h1m1 0h1m5 0h3m8 0h2m4 0h2m48 0h4m1 0h1m19 0h2m1 0h1m4 0h1m1 0h2m4 0h2m26 0h1m202 0h2m1 0h2m6 0h1m10 0h1m3 0h2m3 0h1m5 0h2m3 0h1m1 0h1m1 0h1m4 0h1m5 0h1m6 0h1m3 0h2M57 186h1m3 0h1m3 0h1m20 0h1m6 0h1m1 0h1m5 0h2m4 0h1m3 0h1m4 0h1m1 0h1m48 0h3m1 0h1m3 0h2m14 0h1m1 0h1m9 0h2m5 0h1m10 0h2m14 0h2m1 0h1m2 0h1m159 0h2m1 0h1m9 0h3m2 0h1m1 0h2m3 0h3m43 0h1M61 190h1m31 0h1m1 0h1m5 0h1m1 0h1m3 0h1m4 0h2m4 0h2m13 0h1m12 0h1m22 0h1m1 0h3m1 0h1m1 0h1m11 0h1m1 0h1m1 0h2m1 0h1m3 0h2m1 0h2m5 0h1m9 0h3m50 0h1m6 0h2m4 0h2m1 0h5m2 0h2m1 0h2m1 0h2m1 0h2m2 0h1m3 0h3m1 0h2m2 0h3m7 0h1m4 0h2m2 0h3m1 0h3m4 0h5m3 0h1m9 0h1m7 0h1m2 0h4m3 0h1m2 0h2m1 0h1m1 0h1m1 0h4m9 0h1m9 0h1m12 0h1M40 194h1m15 0h1m9 0h1m1 0h2m23 0h1m5 0h2m1 0h3m2 0h2m2 0h1m1 0h1m3 0h2m14 0h1m11 0h2m8 0h1m11 0h3m17 0h2m1 0h3m1 0h1m41 0h2m1 0h1m32 0h2m6 0h1m3 0h2m1 0h1m1 0h5m6 0h4m1 0h2m2 0h2m1 0h4m1 0h1m2 0h2m1 0h1m1 0h1m10 0h2m1 0h4m1 0h1m6 0h3m8 0h1m5 0h2m2 0h1m4 0h1m2 0h4m3 0h1m2 0h2m1 0h1m1 0h5m27 0h1m3 0h1m1 0h1M40 198h1m10 0h2m4 0h1m6 0h1m1 0h1m19 0h1m6 0h1m5 0h2m1 0h1m5 0h1m2 0h1m1 0h1m2 0h2m8 0h1m6 0h1m12 0h1m6 0h1m1 0h1m10 0h4m5 0h2m10 0h2m2 0h1m3 0h1m7 0h1m32 0h2m1 0h1m39 0h3m2 0h2m1 0h2m1 0h2m1 0h1m6 0h2m1 0h1m1 0h1m2 0h2m1 0h4m4 0h5m1 0h1m10 0h2m1 0h3m2 0h1m6 0h3m5 0h1m2 0h2m4 0h1m2 0h2m4 0h1m2 0h3m7 0h1m1 0h2m1 0h3M40 202h1m16 0h1m6 0h1m1 0h1m19 0h1m6 0h1m9 0h1m2 0h1m1 0h1m2 0h1m4 0h1m9 0h1m18 0h1m9 0h1m11 0h1m7 0h2m12 0h2m1 0h1m1 0h1m8 0h2m31 0h1m2 0h1m18 0h1m3 0h1m3 0h6m2 0h1m1 0h3M61 206h1m1 0h1m29 0h1m9 0h1m8 0h2m4 0h2m42 0h1m4 0h1m1 0h1m1 0h4m14 0h2m2 0h1m8 0h1m6 0h1m1 0h1m8 0h3m11 0h1m16 0h4m3 0h5m1 0h3m1 0h1m5 0h2M61 210h1m25 0h2m29 0h1m42 0h2m9 0h2m3 0h1m15 0h1m2 0h1m3 0h2m4 0h1m1 0h1m2 0h1m6 0h2m3 0h1m3 0h1M63 214h2m21 0h1m6 0h1m1 0h1m5 0h1m5 0h2m3 0h2m4 0h1m50 0h1m3 0h2m14 0h2m2 0h2m12 0h2m2 0h2m5 0h1m4 0h3m1 0h2m4 0h1M57 218h1m3 0h1m3 0h1m27 0h1m1 0h1m16 0h1m20 0h1m37 0h4m2 0h1m16 0h1m1 0h1m3 0h1m1 0h1m3 0h3m5 0h1m1 0h1m9 0h1M61 222h2m23 0h3m4 0h1m25 0h1m41 0h2m7 0h1m1 0h2m3 0h1m27 0h2m6 0h4m7 0h1m82 0h1m16 0h5m9 0h1m21 0h2m2 0h2m2 0h1m1 0h1m1 0h1m1 0h2m3 0h1m16 0h1m35 0h2M156 226h1m2 0h1m39 0h1m32 0h1m95 0h1m1 0h1m7 0h1m27 0h1m6 0h1m2 0h1M63 230h1m23 0h2m68 0h1m39 0h3m14 0h2m1 0h1m103 0h1m3 0h4m9 0h1m22 0h1m1 0h3m7 0h1m1 0h1m2 0h2m51 0h1m1 0h1M230 234h2"/>
<path stroke="#ff5100" d="M221 98h2M213 102h1m1 0h1m1 0h2M52 106h1m4 0h1m3 0h5m21 0h2m12 0h1m59 0h1m1 0h1m7 0h1m1 0h1m14 0h2m3 0h1m1 0h2M32 110h2m17 0h1m1 0h1m12 0h1m2 0h1m17 0h2m6 0h1m7 0h1m4 0h1m4 0h1m3 0h2m42 0h1m11 0h2m2 0h1m8 0h2m7 0h1M158 114h2m3 0h1m7 0h1m18 0h2m2 0h1m2 0h1m5 0h2m5 0h1M190 118h3m5 0h2m1 0h2m3 0h1m1 0h1m2 0h1m3 0h1M158 122h1m32 0h2m4 0h2m2 0h2m3 0h1m4 0h1M158 126h1m31 0h2m6 0h1m4 0h2m3 0h1M32 130h1m11 0h1m3 0h2m18 0h1m3 0h4m10 0h1m5 0h1m1 0h1m1 0h1m2 0h2m3 0h1m1 0h1m4 0h1m13 0h1m1 0h1m2 0h1m5 0h1m1 0h2m4 0h2m2 0h2m3 0h1m25 0h1M32 134h2m7 0h1m31 0h1m1 0h3m4 0h2m1 0h2m7 0h1m5 0h1m4 0h1m4 0h1m3 0h2m10 0h1m1 0h1m4 0h1m4 0h1m1 0h2m1 0h2m2 0h3m1 0h2M31 138h3m7 0h1m31 0h1m2 0h2m4 0h2m21 0h1m8 0h2m10 0h1m2 0h2m9 0h3m1 0h1m3 0h1m2 0h4M3 142h1m26 0h1m7 0h1m7 0h1m33 0h1m42 0h1m10 0h1M3 146h1m34 0h1m7 0h1m84 0h1m2 0h1M3 150h1m22 0h1m3 0h1m7 0h2m39 0h2m53 0h1M41 154h1m31 0h1m2 0h2m4 0h1m2 0h1m28 0h1m5 0h1m3 0h1m1 0h1m2 0h1m1 0h2m2 0h1m4 0h1m1 0h1m7 0h3M32 158h1m7 0h1m2 0h1m4 0h1m23 0h1m11 0h1m1 0h1m3 0h3m1 0h1m1 0h2m1 0h2m8 0h1m4 0h2m10 0h1m1 0h1m1 0h1m2 0h1m2 0h1m1 0h1m3 0h2m1 0h1m1 0h3m4 0h1m30 0h1M52 162h1m3 0h1m1 0h1m1 0h1m5 0h2m1 0h1m29 0h2m2 0h1m1 0h4m4 0h1m2 0h2m8 0h1m3 0h1m2 0h1m9 0h1m2 0h1m8 0h1m8 0h1m1 0h1m11 0h1M33 166h1m9 0h2m6 0h1m3 0h2m1 0h1m1 0h1m6 0h1m1 0h3m25 0h3m4 0h3m2 0h2m6 0h1m6 0h2m1 0h1m2 0h1m1 0h1m6 0h1m3 0h2m7 0h3m9 0h3m11 0h1M40 170h1m3 0h1m6 0h2m3 0h1m3 0h1m3 0h1m4 0h2m28 0h2m1 0h1m1 0h3m1 0h2m1 0h1m4 0h2m7 0h1m4 0h1m12 0h1m1 0h2m6 0h3m10 0h1m20 0h1m4 0h1M40 174h1m16 0h1m6 0h1m1 0h1m19 0h1m6 0h1m9 0h1m1 0h2m1 0h1m2 0h1m5 0h1m15 0h1m12 0h1m20 0h3m5 0h1m14 0h1m1 0h1m2 0h1m5 0h1m1 0h1m275 0h3M40 178h1m11 0h1m4 0h1m6 0h1m1 0h1m1 0h1m1 0h1m15 0h1m8 0h1m3 0h5m3 0h2m2 0h1m1 0h1m2 0h2m8 0h1m6 0h1m9 0h1m2 0h1m8 0h1m11 0h2m19 0h1m1 0h1m1 0h1m2 0h1m7 0h1m6 0h1m268 0h1m1 0h1m1 0h1M52 182h1m4 0h1m6 0h1m1 0h1m1 0h1m1 0h1m15 0h1m18 0h1m1 0h3m1 0h1m5 0h1m15 0h1m11 0h2m20 0h1m7 0h2m11 0h5m2 0h1m40 0h1m243 0h1m2 0h1m12 0h1M40 186h1m10 0h2m7 0h1m3 0h1m1 0h1m1 0h2m12 0h1m17 0h1m2 0h1m1 0h2m1 0h2m3 0h1m3 0h1m8 0h2m2 0h1m2 0h1m11 0h2m8 0h1m31 0h1m2 0h1m1 0h1m2 0h1m40 0h1m197 0h5m8 0h2m7 0h1m3 0h2m1 0h2m8 0h1m1 0h1m17 0h2m4 0h4m2 0h1M56 190h2m2 0h1m3 0h3m1 0h1m17 0h1m12 0h2m1 0h1m5 0h1m1 0h2m5 0h1m27 0h1m9 0h1m11 0h2m1 0h1m5 0h1m11 0h1m1 0h1m1 0h1m2 0h1m40 0h4m1 0h1m3 0h2m35 0h2m14 0h1m17 0h1m15 0h1m1 0h2m7 0h1m3 0h4m6 0h2m25 0h1m3 0h2m4 0h1m6 0h2m6 0h1m1 0h1m2 0h1m4 0h1m1 0h1m3 0h5m1 0h2M44 194h1m6 0h2m2 0h1m2 0h1m1 0h1m9 0h1m18 0h1m1 0h2m1 0h1m10 0h2m2 0h2m5 0h1m7 0h3m3 0h3m6 0h1m3 0h2m4 0h1m3 0h1m12 0h1m16 0h1m11 0h1m42 0h1m1 0h2m2 0h3m35 0h2m2 0h1m9 0h4m16 0h1m1 0h1m3 0h1m8 0h2m1 0h2m7 0h1m1 0h6m3 0h2m1 0h2m25 0h1m3 0h2m4 0h1m5 0h2m7 0h6m2 0h1m1 0h2m1 0h1m2 0h2m1 0h1m1 0h1m1 0h1m3 0h1m1 0h1m9 0h1m11 0h1m2 0h1m9 0h2m14 0h1m4 0h1m4 0h1m1 0h1m3 0h1M43 198h2m10 0h2m1 0h1m1 0h1m6 0h5m20 0h1m5 0h1m5 0h1m1 0h1m2 0h2m4 0h1m11 0h1m2 0h3m6 0h1m3 0h2m4 0h1m2 0h1m1 0h1m10 0h1m26 0h1m45 0h1m1 0h3m1 0h3m35 0h2m2 0h1m5 0h1m3 0h4m2 0h1m3 0h1m8 0h4m12 0h2m1 0h2m6 0h2m1 0h5m4 0h2m1 0h2m10 0h1m13 0h2m2 0h3m1 0h1m2 0h1m3 0h4m8 0h2m8 0h1m6 0h1m5 0h1M43 202h2m6 0h2m2 0h2m1 0h1m1 0h1m7 0h4m17 0h1m4 0h1m2 0h4m3 0h2m3 0h2m6 0h1m6 0h1m2 0h1m2 0h2m1 0h1m5 0h1m3 0h2m2 0h1m5 0h1m12 0h1m20 0h2m6 0h1m41 0h2m1 0h3m3 0h1m25 0h2m5 0h1m1 0h1m2 0h1m6 0h1m38 0h1m7 0h1m27 0h2m5 0h1m2 0h1M52 206h1m4 0h1m6 0h3m19 0h1m8 0h1m4 0h3m4 0h2m2 0h1m5 0h1m15 0h1m21 0h1m10 0h1m1 0h1m6 0h2m11 0h1m2 0h1m2 0h1m6 0h1m1 0h2m5 0h1m26 0h1m25 0h1m3 0h1m1 0h4m3 0h3m87 0h1M62 210h2m1 0h1m27 0h1m7 0h2m5 0h1m3 0h2m3 0h1m1 0h1m49 0h3m2 0h3m12 0h2m3 0h1m7 0h1m1 0h1m15 0h3m2 0h1m8 0h2m12 0h1M40 214h1m16 0h1m2 0h1m4 0h2m33 0h1m1 0h4m5 0h1m4 0h2m8 0h1m5 0h2m12 0h1m6 0h3m11 0h2m1 0h1m4 0h2m11 0h1m2 0h1m9 0h2m1 0h1m4 0h2m8 0h3m12 0h1M52 218h1m11 0h1m1 0h1m1 0h1m1 0h1m15 0h1m12 0h5m3 0h2m2 0h1m1 0h1m2 0h3m36 0h1m12 0h3m4 0h2m13 0h1m1 0h2m7 0h1m1 0h1m5 0h1m1 0h2m5 0h2m3 0h3m1 0h2m4 0h1M57 222h1m5 0h4m28 0h1m5 0h3m2 0h3m2 0h2m4 0h2m26 0h2m20 0h1m1 0h1m1 0h1m2 0h1m16 0h1m1 0h2m1 0h1m3 0h1m1 0h1m4 0h2m2 0h2m6 0h1m5 0h4m4 0h1m14 0h1m45 0h1m6 0h1m2 0h2m2 0h5m1 0h1m3 0h6m5 0h1m6 0h2m1 0h4m1 0h3m4 0h4m4 0h1m2 0h2m7 0h1m5 0h2m1 0h4m3 0h1m1 0h5m1 0h1m1 0h5m8 0h2m1 0h1m5 0h2m1 0h1m2 0h4m1 0h2m3 0h2m10 0h2m5 0h4m2 0h1m2 0h3m7 0h3m12 0h2m3 0h2m4 0h4m2 0h1M87 226h2m29 0h1m38 0h1m2 0h1m2 0h1m34 0h1m1 0h1m4 0h1m9 0h1m1 0h1m11 0h1m1 0h1m75 0h2m1 0h1m1 0h1m8 0h1m1 0h5m1 0h1m9 0h1m1 0h1m17 0h3m1 0h3m2 0h1m1 0h3m1 0h2m2 0h2m2 0h1m9 0h2m2 0h2m28 0h2m3 0h3m23 0h1M61 230h2m2 0h1m29 0h1m5 0h2m9 0h1m5 0h2m40 0h3m9 0h3m30 0h1m7 0h1m2 0h1m7 0h1m1 0h1m2 0h1m3 0h1m14 0h1m55 0h2m1 0h2m1 0h3m1 0h1m3 0h3m1 0h3m4 0h1m6 0h2m1 0h3m3 0h1m5 0h3m5 0h2m1 0h1m5 0h1m1 0h3m4 0h1m3 0h3m3 0h1m2 0h4m1 0h4m1 0h1m9 0h1m8 0h2m4 0h3m2 0h1m1 0h1m2 0h2m18 0h1m2 0h1m1 0h1m3 0h1m8 0h2m18 0h2m4 0h4m2 0h1M217 234h1m14 0h1"/>
<path stroke="#ff5d00" d="M214 98h1m1 0h2m1 0h2M212 102h1M51 106h1m1 0h2m11 0h1m28 0h1m7 0h1m4 0h1m3 0h1m5 0h2m40 0h1m11 0h1m1 0h1m2 0h1m9 0h1M30 110h2m8 0h1m3 0h1m9 0h3m1 0h3m6 0h1m2 0h2m2 0h1m14 0h1m14 0h1m2 0h1m3 0h2m3 0h1m8 0h1m42 0h3m4 0h1M51 114h2m4 0h1m3 0h2m2 0h1m22 0h1m12 0h2m53 0h2m2 0h3m26 0h1m2 0h2m1 0h2M163 118h1m33 0h1m5 0h2M57 122h1m98 0h1m2 0h1m2 0h2m7 0h1m15 0h1m1 0h1m3 0h2m1 0h1m7 0h1m4 0h2M159 126h1m3 0h1m23 0h2m3 0h3m2 0h1m11 0h2M33 130h1m7 0h2m4 0h1m28 0h3m3 0h4m19 0h1m3 0h2m3 0h2m4 0h2m4 0h1m1 0h2m3 0h1m6 0h4m3 0h1m2 0h3m1 0h1M30 134h2m10 0h1m35 0h1m2 0h1m2 0h1m35 0h3m1 0h1m4 0h1m1 0h2m2 0h1m6 0h1m7 0h1m3 0h1M3 138h1m26 0h1m8 0h1m2 0h1m2 0h1m32 0h1m2 0h1m2 0h2m34 0h3m1 0h1m7 0h1m2 0h1m14 0h1M26 142h1m1 0h1m8 0h1m41 0h1M2 146h1m12 0h1m10 0h1m7 0h4m41 0h2m42 0h1M0 150h1m1 0h1m12 0h1m18 0h4m85 0h1M3 154h1m26 0h2m7 0h1m2 0h1m35 0h1m2 0h1m39 0h2m11 0h1M31 158h1m1 0h1m7 0h1m5 0h1m25 0h1m2 0h2m3 0h3m1 0h1m19 0h1m4 0h1m9 0h1m1 0h1m6 0h1m1 0h2m2 0h1m4 0h2m2 0h1m5 0h1m1 0h2M43 162h2m6 0h1m3 0h1m14 0h2m17 0h1m1 0h2m1 0h1m1 0h3m5 0h1m4 0h1m5 0h1m8 0h2m1 0h1m3 0h2m6 0h1m4 0h2m3 0h1m2 0h3m10 0h1m15 0h1m1 0h2m1 0h1M32 166h1m14 0h2m4 0h1m18 0h1m8 0h3m5 0h1m1 0h1m2 0h1m1 0h1m24 0h1m6 0h1m2 0h1m4 0h2m2 0h1m1 0h1m4 0h5m28 0h5m1 0h1M33 170h1m9 0h1m3 0h1m7 0h1m2 0h1m8 0h1m3 0h2m9 0h1m6 0h4m1 0h1m1 0h3m11 0h1m13 0h1m2 0h1m3 0h2m2 0h1m3 0h1m1 0h1m2 0h1m2 0h3m2 0h1m11 0h2m12 0h1m4 0h1m2 0h1m8 0h1M44 174h1m6 0h2m3 0h1m1 0h1m1 0h1m6 0h5m17 0h1m1 0h1m5 0h4m3 0h1m4 0h2m5 0h1m7 0h4m2 0h1m1 0h1m6 0h1m3 0h3m6 0h4m10 0h1m20 0h2M44 178h1m6 0h1m3 0h1m2 0h1m1 0h1m8 0h1m21 0h2m1 0h1m2 0h1m6 0h3m2 0h1m17 0h1m2 0h1m1 0h1m3 0h1m2 0h1m4 0h2m7 0h2m11 0h1m20 0h1m3 0h1m288 0h1M40 182h1m3 0h1m6 0h1m4 0h1m1 0h1m1 0h1m6 0h1m3 0h1m19 0h2m4 0h1m1 0h2m3 0h1m1 0h1m3 0h1m5 0h1m9 0h2m2 0h1m1 0h1m10 0h2m3 0h1m4 0h3m8 0h1m1 0h1m20 0h1m291 0h1m1 0h1M33 186h1m9 0h2m10 0h2m1 0h1m8 0h1m2 0h2m19 0h2m1 0h1m1 0h2m1 0h1m4 0h1m5 0h1m13 0h2m2 0h1m2 0h2m6 0h1m3 0h2m2 0h4m1 0h3m9 0h3m15 0h2m2 0h1m252 0h4m2 0h2m2 0h2m2 0h3m1 0h3m5 0h1m1 0h4m5 0h1m9 0h1m1 0h2m2 0h1m2 0h1m2 0h1m4 0h1m2 0h3M40 190h1m10 0h2m5 0h1m10 0h3m17 0h1m1 0h2m1 0h1m1 0h1m1 0h1m5 0h3m2 0h1m6 0h1m7 0h3m3 0h1m1 0h1m6 0h1m3 0h2m3 0h1m3 0h3m11 0h1m19 0h2m52 0h1m1 0h3m88 0h1m22 0h1m28 0h2m17 0h5m3 0h2m3 0h2m3 0h3m5 0h1m3 0h3m1 0h1m8 0h2m5 0h4m2 0h2m1 0h1m1 0h1m7 0h3m12 0h2m3 0h2m4 0h4m2 0h1M33 194h1m9 0h1m3 0h2m4 0h1m5 0h1m7 0h1m3 0h1m10 0h2m6 0h1m5 0h3m16 0h1m11 0h2m5 0h1m1 0h3m8 0h2m1 0h1m1 0h1m1 0h1m9 0h2m12 0h1m2 0h1m4 0h1m55 0h2m89 0h1m22 0h1m28 0h2m15 0h1m2 0h4m6 0h2m1 0h1m2 0h1m1 0h2m4 0h1m4 0h2m1 0h1m1 0h1m5 0h1m1 0h1m1 0h1m3 0h7m1 0h1m2 0h2m2 0h1m1 0h1m4 0h2m11 0h1m3 0h2m1 0h1m4 0h1m1 0h3m1 0h1M32 198h2m7 0h1m5 0h2m23 0h1m9 0h1m1 0h2m3 0h3m2 0h1m1 0h2m7 0h1m14 0h2m2 0h2m2 0h2m6 0h2m2 0h2m5 0h2m1 0h2m12 0h1m13 0h1m2 0h1m1 0h2m1 0h1m56 0h1m89 0h1m16 0h1m5 0h1m29 0h1m18 0h1m1 0h1m1 0h1m2 0h3m2 0h1m1 0h1m2 0h1m3 0h1m1 0h1m1 0h3m15 0h1M33 202h1m13 0h2m4 0h1m5 0h1m7 0h1m4 0h1m8 0h2m7 0h3m3 0h1m28 0h1m2 0h1m3 0h1m3 0h1m5 0h1m5 0h5m1 0h1m9 0h2m12 0h1m1 0h4m2 0h1m56 0h3m34 0h1m4 0h6m1 0h4m5 0h1m1 0h3m1 0h2m1 0h1m1 0h1m10 0h1m1 0h5m9 0h1m11 0h1m8 0h2m2 0h2m2 0h1m1 0h3m1 0h2m2 0h2m2 0h1m12 0h1M40 206h1m3 0h1m6 0h1m4 0h1m3 0h1m6 0h3m12 0h1m6 0h1m2 0h1m1 0h1m4 0h1m5 0h2m2 0h2m5 0h1m7 0h1m1 0h2m11 0h1m3 0h4m6 0h2m31 0h2m4 0h1m2 0h1m40 0h1m1 0h2m1 0h1m3 0h2m26 0h1m5 0h3m3 0h1m2 0h2m4 0h1m35 0h1m7 0h1m25 0h2m1 0h1m5 0h4m2 0h1M51 210h2m3 0h2m6 0h1m1 0h1m1 0h3m15 0h1m8 0h1m4 0h1m2 0h1m2 0h2m3 0h1m4 0h1m10 0h1m5 0h1m11 0h1m9 0h1m11 0h2m18 0h2m2 0h2m2 0h1m7 0h1m5 0h2m28 0h1m7 0h1m1 0h2M43 214h1m7 0h2m3 0h1m10 0h4m18 0h1m1 0h1m2 0h1m2 0h1m1 0h1m6 0h1m2 0h2m13 0h2m1 0h1m2 0h1m8 0h1m3 0h3m2 0h2m16 0h1m25 0h1m2 0h1m7 0h1m18 0h1m12 0h1m12 0h3M40 218h1m10 0h1m3 0h1m2 0h1m1 0h1m8 0h1m1 0h1m10 0h1m8 0h2m1 0h1m1 0h3m5 0h3m3 0h1m15 0h2m2 0h1m1 0h1m4 0h1m5 0h4m6 0h2m12 0h1m20 0h2m1 0h1m3 0h1m8 0h1m5 0h1m9 0h1m27 0h3M40 222h1m3 0h1m7 0h1m3 0h1m3 0h1m7 0h1m1 0h1m21 0h1m6 0h2m4 0h1m3 0h2m2 0h1m2 0h1m13 0h1m1 0h2m5 0h1m3 0h1m9 0h3m12 0h1m6 0h2m11 0h3m10 0h1m1 0h1m5 0h2m7 0h1m4 0h1m23 0h1m1 0h2m4 0h1m12 0h1m1 0h1m3 0h4m10 0h1m6 0h1m4 0h1m1 0h2m2 0h1m6 0h1m1 0h3m13 0h2m1 0h2m7 0h1m4 0h3m4 0h1m1 0h2m10 0h1m14 0h1m3 0h1m5 0h1m14 0h1m2 0h1m1 0h1m2 0h2m2 0h1m1 0h2m4 0h1m4 0h1m2 0h4m1 0h1m2 0h2m2 0h5m4 0h2m1 0h1m5 0h4m1 0h1m3 0h1m7 0h2m1 0h1m2 0h1m1 0h1m2 0h1m1 0h2m4 0h2m1 0h3M61 226h3m1 0h1m27 0h1m1 0h1m5 0h3m8 0h1m6 0h1m35 0h1m5 0h2m6 0h1m2 0h3m2 0h1m18 0h2m10 0h1m4 0h2m1 0h1m2 0h1m3 0h1m2 0h2m5 0h1m14 0h1m1 0h1m14 0h1m8 0h1m1 0h1m17 0h1m6 0h1m2 0h3m2 0h1m1 0h1m2 0h2m1 0h4m1 0h1m13 0h2m2 0h1m1 0h1m1 0h1m1 0h1m2 0h1m1 0h4m3 0h1m3 0h1m14 0h1m2 0h2m1 0h1m3 0h1m2 0h2m2 0h2m2 0h3m9 0h4m3 0h1m1 0h4m2 0h1m2 0h3m3 0h1m1 0h1m1 0h1m8 0h2m1 0h1m3 0h3m1 0h4m1 0h3m7 0h3m12 0h2m3 0h2m4 0h5m1 0h2m1 0h1M57 230h1m6 0h1m1 0h1m19 0h1m6 0h1m5 0h1m3 0h1m3 0h1m3 0h1m1 0h1m19 0h1m11 0h2m6 0h1m1 0h1m13 0h3m4 0h2m18 0h1m3 0h3m1 0h1m1 0h3m2 0h2m6 0h1m3 0h1m3 0h2m20 0h2m23 0h3m1 0h1m10 0h1m4 0h2m4 0h4m2 0h1m2 0h1m3 0h1m1 0h1m1 0h1m13 0h2m1 0h2m6 0h3m1 0h1m1 0h3m3 0h2m1 0h2m10 0h1m10 0h1m3 0h1m3 0h2m4 0h1m4 0h1m1 0h1m6 0h2m1 0h5m1 0h2m2 0h4m3 0h2m4 0h1m2 0h3m2 0h1m3 0h5m1 0h3m1 0h2m1 0h1m1 0h1m1 0h1m1 0h1m1 0h4m4 0h2m8 0h2m1 0h3m1 0h1m2 0h1m2 0h1m4 0h2m1 0h3M61 234h1m96 0h2m53 0h4m9 0h1m2 0h1m3 0h1m96 0h1m7 0h1m27 0h2m5 0h1m2 0h1"/>
<path stroke="#ff6900" d="M212 98h2m4 0h1M207 102h1m3 0h1M31 106h3m6 0h1m2 0h1m11 0h2m1 0h3m6 0h4m22 0h1m3 0h2m8 0h1m1 0h1m1 0h1m1 0h1m1 0h3m19 0h1m1 0h1m4 0h1m1 0h1m21 0h3m4 0h2m3 0h1m5 0h1M3 110h1m22 0h1m16 0h1m3 0h1m1 0h2m17 0h1m3 0h1m13 0h1m3 0h5m1 0h3m1 0h1m9 0h1m3 0h1m12 0h1m8 0h4m3 0h1m1 0h2m1 0h1m4 0h3m11 0h1m8 0h1m3 0h2m1 0h2M32 114h2m10 0h1m8 0h1m2 0h1m1 0h1m4 0h2m1 0h1m2 0h1m17 0h1m20 0h1m3 0h1m5 0h2m52 0h3m2 0h1m8 0h3M52 118h1m4 0h1m4 0h1m1 0h1m23 0h1m12 0h2m53 0h5m1 0h1m8 0h2m14 0h3m3 0h4m12 0h2M51 122h2m8 0h6m34 0h2m5 0h1m10 0h1m37 0h1m2 0h1m11 0h1m13 0h1m1 0h1m6 0h1M52 126h1m4 0h1m3 0h2m1 0h2m21 0h2m12 0h2m5 0h1m9 0h2m36 0h2m2 0h1m10 0h1m1 0h1m15 0h1m5 0h2M3 130h1m26 0h2m6 0h2m41 0h1m42 0h1m6 0h2m1 0h2M3 134h1m22 0h1m11 0h2m5 0h2m87 0h1M36 138h1m1 0h1m7 0h1m33 0h1m50 0h1m2 0h1M0 142h1m1 0h1m4 0h1m6 0h2m11 0h1m6 0h3M0 146h1m13 0h1m12 0h3M4 150h1m2 0h1m5 0h2m12 0h3M26 154h1m1 0h1m9 0h1m6 0h2m33 0h1M28 158h1m1 0h1m11 0h1m35 0h1m42 0h1m2 0h1m26 0h1M32 162h2m13 0h3m3 0h2m4 0h1m12 0h1m8 0h3m6 0h1m19 0h1m17 0h2m5 0h2m3 0h3m4 0h2m1 0h2m28 0h1m1 0h1m2 0h1M30 166h2m9 0h2m6 0h2m3 0h1m4 0h1m13 0h2m9 0h2m4 0h1m23 0h2m4 0h1m1 0h2m5 0h1m4 0h2m2 0h1m2 0h1m37 0h1M32 170h1m15 0h2m3 0h2m4 0h1m21 0h1m1 0h3m29 0h1m4 0h4m4 0h1m5 0h1m1 0h2m2 0h1m1 0h1m7 0h2m28 0h3M32 174h1m10 0h1m3 0h2m6 0h1m16 0h1m8 0h2m1 0h1m5 0h1m1 0h1m1 0h1m1 0h1m18 0h1m12 0h1m2 0h1m4 0h2m3 0h2m4 0h5m12 0h2m12 0h1m1 0h2m1 0h1m2 0h1M32 178h2m9 0h1m4 0h1m7 0h1m10 0h1m3 0h2m9 0h2m5 0h1m6 0h1m1 0h1m11 0h1m4 0h1m8 0h2m2 0h2m1 0h1m2 0h2m1 0h1m2 0h3m4 0h4m1 0h1m11 0h1m13 0h1m3 0h2m2 0h1M33 182h1m9 0h1m3 0h3m3 0h1m1 0h1m13 0h1m2 0h1m9 0h2m5 0h1m4 0h1m1 0h1m1 0h1m16 0h1m4 0h1m3 0h2m2 0h2m1 0h1m4 0h2m1 0h2m1 0h1m4 0h1m1 0h4m12 0h1m12 0h1m2 0h3m2 0h1M32 186h1m14 0h3m3 0h2m17 0h1m10 0h3m3 0h2m7 0h1m15 0h2m4 0h1m8 0h1m4 0h1m1 0h3m1 0h3m8 0h1m26 0h2m1 0h1m2 0h1m258 0h2m6 0h2m9 0h1m3 0h1m4 0h2m4 0h2m3 0h1m1 0h2m1 0h1m2 0h2m4 0h2m6 0h1m4 0h1M32 190h1m10 0h2m2 0h2m4 0h1m1 0h1m11 0h1m4 0h1m9 0h2m1 0h1m4 0h1m6 0h1m25 0h1m3 0h2m2 0h1m3 0h3m2 0h3m4 0h1m1 0h2m13 0h2m12 0h1m2 0h2m1 0h1m218 0h1m11 0h2m20 0h1m1 0h4m2 0h2m2 0h3m1 0h1m4 0h2m4 0h1m2 0h4m5 0h1m8 0h1m1 0h1m2 0h3m2 0h1m1 0h2m4 0h2m1 0h3M31 194h2m8 0h2m6 0h2m3 0h1m17 0h1m8 0h1m2 0h2m28 0h1m5 0h4m5 0h1m5 0h1m4 0h3m8 0h1m27 0h1m2 0h1m1 0h1m218 0h2m35 0h3m1 0h1m1 0h1m3 0h3m9 0h1m3 0h2m1 0h1m1 0h2m5 0h1m3 0h1m1 0h4m2 0h2m5 0h2m8 0h3M39 198h1m9 0h2m2 0h2m4 0h1m13 0h1m7 0h1m1 0h1m30 0h1m7 0h2m10 0h2m2 0h1m3 0h1m36 0h1m2 0h1m202 0h1m16 0h3m1 0h1m1 0h1m6 0h2m1 0h1m2 0h1m1 0h3m3 0h1m4 0h3m1 0h1m8 0h1m12 0h1m4 0h1m7 0h3m17 0h2m6 0h2m2 0h2M3 202h1m26 0h1m1 0h1m6 0h1m1 0h1m7 0h2m3 0h1m28 0h3m28 0h2m4 0h2m7 0h1m4 0h2m1 0h2m1 0h2m37 0h1m4 0h1m97 0h2m12 0h5m1 0h1m3 0h1m2 0h1m1 0h1m2 0h2m1 0h6m1 0h1m11 0h2m2 0h7m2 0h1m2 0h2m1 0h1m3 0h1m2 0h2m13 0h1m2 0h2m1 0h2m2 0h1m1 0h6m1 0h6m8 0h2m7 0h2m5 0h3m2 0h3m60 0h1m6 0h1M32 206h2m9 0h1m3 0h2m6 0h1m2 0h2m10 0h3m10 0h1m1 0h1m4 0h2m4 0h3m5 0h1m10 0h1m5 0h1m3 0h1m2 0h1m1 0h3m3 0h2m3 0h2m4 0h6m11 0h2m15 0h1m1 0h1m56 0h1m1 0h3m37 0h1m1 0h1m1 0h2m2 0h4m1 0h1m5 0h5m1 0h2m1 0h3m6 0h3m1 0h7m30 0h2m6 0h1m2 0h2m5 0h1m12 0h3m1 0h3m35 0h1M40 210h1m2 0h2m13 0h1m1 0h1m21 0h1m6 0h1m2 0h1m1 0h1m2 0h3m4 0h2m3 0h1m14 0h3m1 0h1m1 0h1m1 0h1m6 0h1m3 0h2m1 0h1m3 0h1m2 0h1m12 0h1m69 0h2m18 0h2m7 0h1M32 214h2m10 0h1m2 0h2m6 0h1m2 0h2m11 0h2m8 0h2m1 0h2m4 0h1m1 0h1m3 0h1m1 0h1m22 0h1m9 0h1m4 0h2m3 0h2m4 0h1m2 0h3m11 0h2m17 0h1m2 0h2m51 0h1m7 0h1m7 0h3M32 218h2m9 0h2m2 0h3m3 0h2m1 0h1m10 0h1m4 0h1m16 0h1m19 0h1m14 0h2m5 0h1m4 0h1m2 0h3m5 0h6m12 0h2m14 0h1m4 0h2m33 0h2m11 0h2m3 0h1m7 0h1m7 0h2M32 222h1m10 0h1m4 0h1m2 0h1m3 0h1m2 0h1m8 0h1m1 0h1m1 0h1m10 0h1m6 0h1m1 0h1m2 0h1m1 0h3m5 0h1m10 0h1m8 0h5m2 0h1m4 0h1m7 0h1m2 0h3m2 0h1m13 0h1m20 0h1m4 0h1m2 0h1m8 0h1m15 0h3m11 0h2m15 0h1m4 0h2m1 0h9m1 0h1m1 0h2m5 0h4m2 0h2m1 0h1m1 0h5m2 0h4m33 0h1m13 0h1m8 0h1m28 0h2m15 0h7m6 0h2m24 0h1m1 0h2m17 0h1m3 0h1m4 0h1m5 0h2m3 0h1m3 0h1m4 0h1m17 0h1M52 226h1m4 0h1m6 0h1m1 0h1m1 0h1m17 0h1m12 0h1m4 0h1m1 0h3m2 0h1m1 0h1m2 0h2m8 0h1m6 0h1m11 0h2m21 0h1m1 0h2m3 0h1m14 0h1m2 0h2m7 0h1m3 0h2m3 0h2m5 0h1m5 0h2m2 0h1m18 0h1m1 0h1m13 0h1m3 0h2m1 0h1m4 0h1m1 0h2m5 0h2m2 0h2m1 0h1m1 0h1m1 0h1m4 0h1m1 0h2m9 0h1m2 0h1m14 0h5m7 0h1m1 0h1m1 0h2m1 0h1m4 0h1m1 0h1m11 0h1m14 0h1m3 0h2m11 0h2m2 0h1m1 0h3m4 0h3m1 0h1m4 0h2m10 0h1m1 0h1m1 0h2m1 0h1m2 0h2m2 0h1m1 0h3m8 0h1m4 0h6m3 0h3m3 0h1m2 0h3m2 0h3m2 0h1m1 0h2m5 0h1m2 0h1M32 230h1m7 0h1m10 0h2m14 0h2m1 0h1m21 0h1m4 0h1m2 0h1m5 0h1m1 0h2m6 0h2m6 0h4m2 0h1m1 0h1m6 0h1m3 0h2m9 0h1m12 0h2m6 0h1m12 0h4m1 0h2m8 0h1m5 0h1m8 0h1m1 0h2m3 0h1m8 0h2m11 0h1m7 0h3m1 0h3m2 0h2m1 0h5m5 0h1m1 0h1m1 0h1m2 0h2m1 0h2m1 0h4m2 0h4m16 0h1m16 0h1m13 0h1m8 0h1m28 0h2m15 0h1m1 0h4m8 0h1m23 0h2m1 0h3m5 0h1m10 0h1m3 0h1m4 0h2m4 0h2m3 0h1m1 0h1m2 0h1m3 0h1m4 0h2m11 0h1M33 234h1m28 0h2m1 0h1m21 0h2m67 0h1m6 0h1m34 0h2m5 0h1m2 0h1m9 0h1m5 0h1m2 0h2m78 0h1m2 0h1m14 0h5m34 0h2m2 0h1m1 0h1m3 0h2m2 0h2m17 0h1m29 0h1m5 0h1m67 0h1"/>
<path stroke="#ff7500" d="M215 98h1M202 102h1m2 0h2m1 0h1M3 106h1m22 0h3m1 0h1m13 0h1m2 0h4m20 0h2m1 0h2m10 0h1m2 0h4m3 0h1m2 0h2m3 0h1m1 0h1m7 0h1m10 0h1m1 0h1m2 0h1m5 0h1m6 0h1m1 0h1m1 0h3m5 0h1m9 0h1m17 0h2M2 110h1m11 0h2m11 0h2m12 0h1m6 0h1m24 0h1m1 0h2m5 0h3m14 0h1m5 0h2m2 0h1m5 0h1m5 0h1m2 0h1m1 0h1m1 0h1m1 0h1m1 0h2m6 0h1m1 0h1m1 0h1m2 0h1m1 0h2m1 0h1m11 0h3m11 0h1M30 114h2m8 0h1m2 0h1m10 0h2m4 0h1m6 0h1m2 0h2m17 0h2m4 0h1m1 0h1m5 0h2m2 0h1m5 0h1m2 0h2m19 0h1m1 0h1m29 0h2m4 0h1m7 0h2M51 118h1m1 0h1m7 0h1m1 0h1m1 0h2m20 0h1m15 0h1m4 0h1m9 0h2m41 0h1m11 0h2m2 0h1m8 0h1M32 122h1m7 0h1m12 0h1m1 0h2m1 0h1m28 0h2m4 0h1m1 0h1m15 0h3m2 0h3m42 0h1m11 0h3m1 0h1M33 126h1m17 0h1m3 0h2m1 0h1m4 0h1m2 0h1m36 0h1m13 0h1m43 0h2m7 0h1m1 0h1m1 0h1m2 0h1m8 0h1M15 130h1m11 0h2m7 0h1m9 0h1m32 0h2m41 0h1M0 134h1m1 0h1m12 0h1m11 0h2m5 0h4m41 0h2m42 0h1M2 138h1m12 0h1m10 0h3m5 0h2m1 0h1m41 0h1m43 0h1M4 142h1m4 0h1m3 0h1m2 0h1m2 0h2m1 0h1m2 0h1m3 0h1M4 146h5m4 0h1m5 0h2m1 0h4M1 150h1m3 0h2m1 0h2m2 0h1m3 0h1m2 0h2m1 0h4M0 154h1m1 0h1m5 0h1m4 0h3m11 0h1m1 0h1m4 0h4m41 0h1m43 0h1M0 158h1m2 0h1m11 0h1m10 0h2m9 0h3m5 0h2m33 0h1m53 0h1M7 162h1m22 0h2m7 0h1m1 0h2m7 0h1m23 0h1m9 0h2m28 0h1m5 0h4m10 0h1m2 0h2m40 0h1M4 166h2m1 0h2m29 0h2m5 0h1m29 0h2m1 0h1m106 0h1M3 170h1m3 0h2m21 0h2m9 0h2m2 0h1m4 0h1m27 0h1m35 0h1m14 0h1m49 0h1m4 0h2M3 174h1m27 0h1m1 0h1m7 0h1m7 0h2m2 0h2m4 0h1m23 0h1m1 0h1m28 0h1m5 0h3m6 0h1m4 0h2m4 0h1m38 0h1m2 0h1m1 0h1M31 178h1m9 0h1m5 0h1m1 0h2m2 0h1m5 0h1m21 0h1m2 0h2m4 0h1m23 0h1m5 0h3m15 0h1m12 0h1m13 0h1m13 0h3m2 0h1M31 182h2m8 0h2m7 0h1m3 0h1m4 0h1m21 0h1m2 0h2m4 0h1m23 0h1m6 0h2m11 0h1m3 0h1m2 0h1m37 0h2m3 0h1M31 186h1m7 0h1m1 0h2m7 0h1m8 0h1m13 0h1m7 0h1m39 0h3m11 0h1m44 0h1m4 0h1m295 0h1m1 0h1M31 190h1m1 0h1m15 0h2m3 0h1m4 0h1m13 0h1m7 0h1m2 0h1m29 0h2m4 0h3m6 0h1m4 0h1m3 0h1m12 0h1m27 0h2m2 0h1m1 0h1m257 0h2m7 0h1m9 0h1m3 0h1m4 0h2m4 0h2m3 0h1m1 0h1m1 0h1m22 0h1M3 194h1m1 0h1m1 0h1m6 0h1m15 0h1m8 0h1m5 0h1m27 0h2m1 0h1m1 0h1m101 0h1m262 0h1m33 0h1m2 0h1m2 0h1m12 0h1M3 198h2m2 0h2m21 0h2m10 0h1m2 0h1m28 0h2m104 0h1m4 0h1m251 0h1m1 0h2m4 0h2m2 0h2m2 0h7m1 0h1m1 0h2m2 0h3m2 0h1m3 0h1m10 0h6m2 0h1m3 0h2m2 0h2m2 0h2M7 202h2m22 0h1m10 0h1m2 0h2m26 0h5m44 0h2m189 0h1m2 0h1m14 0h2m1 0h2m11 0h2m1 0h1m3 0h1m2 0h2m10 0h1m18 0h1m18 0h1m1 0h1m2 0h3m2 0h2m2 0h5m3 0h2m3 0h3m1 0h2m7 0h2m4 0h9m1 0h3m7 0h4m11 0h2m2 0h2m5 0h2m1 0h2m1 0h2m1 0h1M49 206h2m2 0h2m26 0h1m2 0h1m29 0h1m5 0h1m1 0h2m5 0h1m4 0h2m2 0h1m1 0h1m37 0h3m1 0h1m1 0h1m98 0h1m12 0h5m5 0h1m2 0h1m3 0h3m1 0h2m3 0h1m9 0h1m3 0h2m1 0h8m2 0h1m1 0h5m2 0h2m2 0h2m5 0h2m6 0h1m2 0h4m3 0h2m1 0h1m3 0h1m3 0h4m8 0h2m1 0h1m3 0h1m1 0h2m1 0h1m2 0h4m2 0h2m3 0h1m1 0h1m8 0h2m10 0h3m1 0h1m10 0h2m17 0h2m4 0h1m1 0h2m2 0h1M32 210h2m7 0h1m5 0h3m4 0h2m3 0h1m7 0h1m3 0h2m10 0h1m1 0h1m4 0h2m4 0h1m13 0h1m4 0h1m4 0h1m10 0h1m3 0h3m3 0h1m5 0h3m2 0h1m1 0h1m9 0h2m12 0h2m1 0h4m1 0h1m51 0h1m1 0h3m2 0h2m4 0h5m2 0h7m1 0h2m2 0h1m3 0h3M31 214h1m9 0h1m7 0h2m2 0h2m19 0h1m39 0h2m4 0h1m1 0h2m4 0h2m5 0h1m4 0h1m37 0h1m1 0h3m1 0h1m51 0h3m1 0h2m10 0h3m4 0h8m3 0h1m3 0h3M31 218h1m9 0h1m8 0h1m8 0h1m21 0h1m1 0h3m4 0h1m23 0h2m4 0h4m4 0h2m4 0h2m2 0h1m3 0h1m21 0h1m13 0h1m3 0h2m52 0h1m1 0h1m1 0h2m9 0h4m2 0h1m1 0h12m3 0h3m53 0h1M33 222h1m13 0h1m1 0h1m3 0h2m4 0h1m12 0h1m8 0h1m1 0h3m4 0h1m30 0h2m6 0h1m4 0h2m1 0h1m3 0h2m7 0h2m12 0h2m12 0h1m2 0h1m4 0h1m52 0h1m1 0h1m10 0h3m3 0h1m14 0h1m8 0h2m2 0h1m192 0h3m1 0h1m12 0h1M33 226h1m6 0h1m3 0h1m6 0h1m4 0h1m1 0h1m1 0h1m6 0h1m1 0h3m17 0h1m1 0h2m4 0h1m2 0h1m4 0h1m3 0h2m13 0h2m1 0h1m2 0h3m6 0h1m3 0h2m8 0h2m12 0h1m8 0h1m11 0h2m1 0h2m2 0h1m5 0h1m1 0h2m4 0h2m9 0h1m13 0h2m16 0h2m1 0h8m1 0h1m1 0h1m2 0h1m1 0h3m5 0h3m4 0h2m2 0h1m1 0h1m3 0h4m56 0h1m28 0h2m16 0h2m1 0h1m34 0h1m1 0h2m21 0h1m17 0h1m11 0h1m12 0h1M33 230h1m9 0h2m10 0h2m1 0h1m1 0h1m8 0h1m1 0h2m9 0h2m5 0h1m1 0h1m2 0h1m1 0h1m1 0h1m5 0h2m4 0h1m20 0h1m4 0h2m3 0h1m5 0h3m2 0h1m13 0h1m25 0h1m2 0h1m14 0h1m11 0h1m16 0h1m1 0h1m9 0h4m3 0h1m3 0h2m2 0h1m5 0h2m6 0h1m1 0h2m2 0h1m116 0h1m75 0h1m3 0h1M3 234h1m26 0h1m1 0h1m7 0h1m10 0h1m5 0h1m35 0h1m7 0h2m5 0h1m3 0h2m4 0h2m37 0h1m2 0h1m1 0h1m34 0h1m8 0h2m1 0h1m1 0h2m6 0h5m1 0h1m8 0h1m69 0h2m2 0h2m1 0h2m1 0h1m3 0h7m10 0h3m1 0h4m1 0h2m5 0h3m5 0h5m7 0h2m4 0h1m2 0h4m6 0h7m1 0h1m1 0h2m8 0h2m7 0h2m1 0h1m3 0h1m1 0h1m1 0h3m1 0h1m1 0h1m1 0h1m8 0h2m5 0h4m2 0h2m1 0h1m1 0h1m7 0h3m13 0h1m3 0h2m5 0h1m1 0h1m2 0h1M63 238h1m23 0h1m70 0h1m58 0h1m11 0h4"/>
<path stroke="#ff8100" d="M206 98h3m2 0h1M199 102h3m2 0h1m4 0h2M0 106h1m1 0h1m10 0h1m1 0h1m13 0h1m11 0h2m30 0h1m2 0h2m4 0h3m9 0h1m10 0h1m4 0h1m9 0h2m2 0h1m1 0h1m1 0h2m3 0h1m1 0h1m2 0h1m2 0h1m8 0h5m9 0h1m1 0h2m10 0h1m2 0h2m2 0h1M0 110h1m6 0h2m10 0h1m3 0h1m1 0h1m3 0h1m4 0h2m3 0h1m2 0h1m34 0h2m2 0h1m3 0h1m34 0h1m1 0h1m6 0h1m5 0h1m5 0h1m9 0h1m27 0h1m2 0h1m2 0h1M3 114h1m11 0h1m10 0h1m1 0h1m21 0h1m8 0h1m8 0h1m5 0h2m7 0h1m2 0h1m5 0h2m2 0h1m1 0h3m5 0h1m2 0h3m2 0h2m9 0h1m1 0h1m5 0h1m2 0h1m1 0h1m4 0h1m2 0h1m1 0h2m5 0h1m8 0h1m2 0h2m7 0h1m3 0h3M30 118h1m1 0h1m7 0h1m3 0h1m9 0h3m3 0h1m9 0h2m21 0h1m1 0h1m16 0h2m2 0h2m50 0h3m4 0h1m5 0h1m1 0h1M30 122h2m1 0h1m9 0h1m5 0h2m3 0h1m4 0h2m6 0h6m13 0h1m2 0h1m7 0h2m1 0h1m2 0h2m1 0h2m17 0h1m1 0h1m9 0h1m1 0h1m5 0h1m21 0h4m5 0h1m4 0h1m1 0h2M31 126h2m7 0h1m2 0h2m8 0h2m5 0h1m6 0h1m2 0h1m18 0h1m1 0h3m1 0h1m1 0h1m1 0h2m6 0h1m3 0h3m2 0h1m20 0h1m1 0h1m28 0h2m5 0h2m3 0h1m2 0h1M0 130h1m1 0h1m4 0h1m6 0h1m10 0h2m2 0h1m5 0h1m1 0h1m7 0h1m77 0h1M4 134h1m2 0h2m5 0h1m10 0h1M0 138h1m4 0h1m1 0h1m5 0h2m10 0h1m3 0h1M1 142h1m3 0h2m1 0h1m1 0h3m8 0h1m1 0h2M1 146h1m7 0h4m3 0h1m4 0h1M10 150h2m6 0h1m2 0h1M1 154h1m2 0h4m1 0h1m10 0h1m4 0h1M2 158h1m1 0h1m2 0h1m17 0h1m3 0h1m4 0h3m42 0h1m43 0h1M4 162h1m1 0h1m1 0h1m19 0h1m9 0h1m6 0h2m26 0h1m1 0h1m2 0h1M2 166h2m2 0h1m7 0h2m10 0h1m10 0h1m8 0h1m30 0h1M2 170h1m1 0h1m1 0h1m7 0h1m13 0h1m9 0h2m6 0h1m26 0h3m62 0h1M6 174h3m29 0h2m2 0h1m2 0h2m26 0h3m1 0h2m44 0h1m14 0h1m46 0h1M3 178h2m2 0h2m21 0h1m8 0h1m2 0h1m2 0h1m8 0h1m18 0h1m3 0h2m44 0h1m61 0h1M4 182h1m2 0h2m21 0h1m8 0h1m5 0h2m26 0h3m47 0h1m11 0h1M3 186h1m1 0h1m1 0h2m21 0h1m7 0h1m6 0h2m27 0h5m400 0h2M3 190h3m1 0h2m21 0h1m8 0h1m1 0h2m2 0h2m27 0h2m2 0h1m400 0h3m1 0h1m12 0h1M2 194h1m1 0h1m1 0h1m1 0h1m18 0h2m9 0h1m7 0h1m28 0h1m1 0h1m107 0h1m293 0h1m1 0h1M5 198h2m7 0h2m10 0h1m1 0h2m4 0h2m2 0h1m7 0h1m29 0h3m1 0h1m360 0h4m6 0h2m9 0h1m3 0h1m3 0h2m5 0h2m3 0h1m1 0h3m10 0h2M4 202h2m31 0h2m39 0h1m106 0h1m147 0h1m22 0h1m28 0h2m15 0h1m1 0h3m1 0h1m6 0h2m20 0h1m2 0h3m1 0h3m2 0h4m9 0h1m4 0h6m4 0h2m5 0h4m2 0h2m3 0h1m1 0h2m5 0h1m2 0h1m1 0h1M3 206h2m2 0h2m22 0h1m6 0h2m1 0h2m2 0h1m27 0h3m109 0h1m130 0h1m14 0h1m2 0h2m11 0h2m1 0h1m6 0h1m26 0h1m4 0h1m15 0h1m1 0h3m2 0h1m1 0h1m3 0h1m2 0h1m1 0h1m5 0h2m3 0h2m1 0h1m1 0h2m4 0h1m3 0h2m1 0h7m5 0h2m2 0h2m3 0h1m2 0h1m10 0h3m2 0h1m2 0h1m2 0h1m1 0h1m2 0h2m1 0h3M31 210h1m21 0h1m27 0h1m2 0h1m36 0h3m5 0h1m4 0h1m3 0h1m1 0h1m1 0h1m8 0h1m28 0h1m63 0h1m23 0h2m1 0h2m4 0h3m4 0h1m9 0h1m33 0h1m1 0h1m7 0h1m25 0h1m1 0h2m5 0h4m2 0h1M3 214h3m1 0h2m21 0h1m8 0h1m2 0h1m2 0h2m26 0h1m1 0h1m7 0h1m50 0h1m3 0h1m40 0h1m62 0h1m1 0h3m4 0h1m6 0h1m8 0h3m1 0h2m4 0h3m14 0h1m12 0h1m20 0h1m1 0h1m7 0h1m27 0h2m5 0h2m1 0h1M3 218h3m1 0h2m21 0h1m7 0h2m2 0h1m2 0h1m27 0h2m104 0h2m3 0h2m51 0h1m4 0h1m1 0h3m11 0h1m12 0h3m3 0h2m2 0h1m12 0h1m12 0h2m16 0h4m9 0h1m22 0h1m3 0h3m5 0h1m1 0h2m1 0h1M3 222h3m1 0h2m21 0h2m7 0h1m1 0h2m7 0h1m22 0h2m39 0h1m5 0h1m2 0h1m14 0h1m1 0h1m38 0h2m1 0h3m51 0h3m3 0h1m1 0h3M32 226h1m10 0h1m3 0h2m6 0h1m3 0h1m12 0h1m8 0h5m4 0h1m3 0h1m1 0h1m1 0h1m29 0h2m4 0h3m1 0h1m8 0h6m13 0h1m20 0h1m33 0h2m16 0h1m1 0h1m9 0h1m2 0h1m27 0h2m195 0h3m1 0h1M4 230h1m2 0h1m22 0h2m9 0h2m4 0h4m2 0h2m4 0h1m21 0h1m2 0h2m4 0h1m24 0h1m4 0h1m2 0h1m4 0h2m4 0h2m2 0h1m1 0h1m1 0h1m7 0h2m12 0h2m12 0h1m5 0h1m1 0h2m48 0h1m1 0h1m3 0h1m1 0h3m233 0h2M2 234h1m1 0h5m22 0h1m11 0h2m7 0h1m2 0h2m3 0h1m3 0h1m1 0h3m1 0h2m14 0h1m8 0h1m3 0h1m3 0h1m3 0h1m3 0h1m4 0h2m8 0h1m6 0h1m9 0h1m2 0h1m8 0h1m5 0h1m10 0h2m22 0h1m4 0h2m32 0h1m12 0h1m1 0h1m23 0h3m11 0h1m5 0h2m4 0h4m2 0h1m6 0h1m1 0h3m13 0h2m1 0h1m8 0h1m2 0h4m4 0h2m1 0h2m10 0h1m14 0h1m2 0h3m9 0h1m2 0h1m4 0h3m2 0h4m1 0h2m2 0h1m1 0h3m3 0h1m5 0h1m1 0h1m1 0h1m2 0h1m3 0h1m2 0h2m2 0h1m4 0h2m4 0h1m2 0h4m1 0h1m3 0h1m7 0h5m1 0h3m2 0h1m1 0h3m3 0h2m1 0h3M33 238h1m18 0h1m8 0h2m1 0h3m19 0h1m1 0h1m6 0h1m6 0h1m9 0h2m4 0h2m36 0h2m1 0h2m2 0h1m33 0h3m5 0h4m3 0h5m1 0h1m4 0h2m1 0h1m1 0h1m4 0h1m90 0h1m1 0h5m7 0h1m21 0h2m2 0h5m1 0h1m2 0h4m1 0h2m51 0h1m1 0h1"/>
<path stroke="#ff8d00" d="M205 98h1m4 0h1M65 102h1m132 0h1m4 0h1M5 106h1m8 0h1m9 0h2m8 0h2m2 0h2m6 0h1m31 0h1m2 0h1m3 0h1m36 0h1m8 0h2m7 0h1m1 0h1m36 0h1M4 110h3m2 0h1m2 0h2m2 0h1m3 0h1m1 0h1m1 0h1m11 0h3m6 0h2m32 0h2m50 0h1m2 0h1M2 114h1m24 0h1m1 0h1m11 0h1m5 0h3m22 0h2m3 0h1m4 0h1m2 0h1m5 0h1m2 0h1m10 0h1m20 0h1m1 0h3m1 0h1m8 0h2m1 0h2m1 0h1m2 0h5m10 0h2m11 0h1m6 0h1M26 118h1m4 0h1m1 0h1m9 0h1m5 0h2m7 0h2m7 0h3m4 0h2m10 0h1m2 0h4m3 0h5m3 0h1m2 0h1m2 0h2m3 0h1m9 0h1m1 0h1m2 0h1m6 0h3m7 0h1m1 0h1m5 0h1m8 0h2m1 0h1m8 0h1m3 0h1m1 0h1m1 0h1M26 122h3m15 0h1m2 0h2m24 0h3m7 0h1m6 0h3m1 0h1m1 0h1m2 0h1m10 0h1m4 0h1m12 0h1m1 0h1m2 0h1m2 0h1m1 0h1m4 0h2m1 0h1m2 0h2m2 0h3m8 0h1m13 0h1m1 0h1m1 0h1m2 0h1M28 126h1m1 0h1m10 0h1m7 0h2m8 0h1m8 0h2m1 0h2m1 0h2m10 0h1m3 0h1m3 0h1m3 0h1m5 0h1m1 0h1m2 0h1m15 0h1m1 0h1m5 0h1m4 0h1m4 0h6m6 0h1m9 0h1m1 0h1m13 0h2m1 0h1M6 130h1m1 0h1m4 0h1m6 0h1m2 0h1m10 0h1M1 134h1m3 0h2m2 0h1m1 0h1m1 0h1m2 0h1m2 0h2m1 0h3m4 0h1M1 138h1m2 0h1m1 0h1m1 0h2m2 0h1m3 0h1m2 0h1m3 0h2M18 142h1M17 146h2M17 150h1M10 154h3m3 0h1m2 0h1m2 0h3M1 158h1m3 0h1m2 0h2m2 0h3m4 0h1M2 162h2m1 0h1m9 0h1m11 0h1m6 0h2m1 0h1m38 0h2m2 0h1M1 166h1m11 0h1m13 0h3m4 0h3m43 0h1M5 170h1m9 0h1m10 0h2m1 0h1m4 0h2m1 0h1m38 0h2m2 0h1M2 174h1m1 0h2m8 0h1m13 0h1m1 0h1m4 0h1m40 0h1M5 178h2m30 0h1m36 0h3M1 182h3m1 0h2m7 0h1m13 0h1m9 0h1m37 0h3m106 0h1M2 186h1m1 0h1m1 0h1m7 0h2m12 0h1m6 0h1m1 0h1m42 0h1M2 190h1m3 0h1m7 0h1m13 0h1m6 0h1m2 0h1m37 0h2M0 194h1m8 0h1m5 0h2m3 0h1m5 0h1m7 0h4m42 0h1M0 198h1m1 0h1m6 0h1m17 0h1m8 0h2m443 0h1m1 0h1m12 0h1m12 0h1M0 202h3m3 0h1m7 0h2m10 0h4m4 0h2m43 0h2m322 0h1m39 0h1m22 0h1m15 0h1m13 0h1M2 206h1m2 0h2m20 0h2m1 0h1m4 0h1m10 0h1m29 0h3m254 0h1m22 0h1m28 0h2m15 0h3m1 0h1m8 0h2m7 0h1m16 0h4m1 0h1m4 0h1m10 0h1m3 0h2m2 0h3m4 0h2m3 0h1m1 0h3m3 0h2m4 0h2m11 0h1M3 210h6m21 0h1m8 0h1m2 0h1m2 0h2m3 0h1m22 0h3m2 0h1m35 0h1m70 0h1m57 0h1m29 0h1m6 0h2m3 0h5m1 0h1m3 0h1m5 0h1m2 0h2m1 0h6m6 0h3m1 0h5m1 0h1m21 0h1m7 0h3m1 0h1m1 0h1m2 0h1m1 0h3m4 0h2m3 0h1m9 0h1m2 0h1M2 214h1m3 0h1m7 0h2m10 0h1m8 0h1m2 0h1m37 0h1m1 0h1m1 0h1m104 0h1m57 0h1m29 0h1m6 0h2m2 0h2m1 0h6m2 0h1m5 0h2m1 0h3m1 0h5m6 0h1m1 0h1m2 0h4m1 0h1m11 0h1m9 0h1m7 0h7m2 0h1m1 0h3m2 0h1m2 0h4m1 0h1m8 0h2m1 0h2M1 218h2m3 0h1m7 0h1m11 0h1m1 0h1m6 0h1m10 0h1m28 0h4m164 0h1m35 0h2m3 0h2m1 0h6m2 0h1m4 0h3m1 0h3m2 0h4m6 0h3m1 0h2m4 0h1m9 0h2m10 0h1m8 0h1m1 0h3m3 0h1m1 0h3m1 0h1m2 0h1m1 0h2m1 0h1m9 0h2m1 0h2M1 222h2m3 0h1m7 0h1m12 0h2m9 0h1m6 0h2m28 0h4m106 0h1m54 0h1m2 0h1M3 226h1m3 0h1m22 0h2m9 0h1m7 0h2m2 0h2m59 0h2m4 0h4m13 0h1m2 0h3m21 0h2m12 0h1m1 0h2m1 0h2m1 0h1m49 0h3m1 0h1m3 0h3M2 230h2m1 0h2m1 0h1m19 0h1m10 0h1m33 0h3m2 0h1m35 0h1m6 0h2m56 0h5m53 0h1m2 0h1M0 234h2m12 0h1m11 0h1m1 0h1m18 0h1m10 0h1m10 0h1m12 0h1m6 0h1m1 0h2m1 0h1m5 0h1m3 0h3m2 0h2m4 0h1m8 0h2m1 0h1m2 0h1m1 0h1m6 0h1m4 0h2m7 0h2m14 0h3m2 0h2m1 0h1m15 0h2m5 0h1m3 0h1m5 0h1m25 0h1m2 0h1m7 0h1m1 0h1m6 0h2m3 0h1m2 0h7m2 0h1m3 0h3m4 0h2m1 0h1m1 0h5m2 0h4m33 0h1m16 0h1m5 0h1m28 0h2m17 0h3m9 0h1m23 0h2m1 0h3m5 0h2m9 0h1m3 0h1m4 0h1m5 0h2m3 0h1m13 0h1m12 0h1M0 238h1m1 0h7m5 0h2m12 0h1m1 0h3m7 0h1m2 0h2m4 0h1m1 0h1m1 0h1m1 0h4m1 0h1m6 0h6m18 0h4m1 0h1m2 0h3m1 0h9m4 0h2m8 0h2m2 0h4m9 0h4m1 0h1m4 0h3m5 0h2m7 0h1m1 0h3m1 0h2m18 0h1m3 0h3m1 0h1m4 0h1m1 0h1m7 0h4m2 0h1m1 0h1m6 0h2m71 0h17m1 0h1m5 0h2m1 0h4m1 0h8m1 0h2m1 0h5m1 0h3m2 0h2m5 0h1m1 0h2m4 0h1m2 0h5m2 0h15m5 0h24m1 0h1m1 0h6m2 0h1m2 0h6m2 0h9m1 0h3m1 0h4m1 0h5m7 0h12m1 0h12"/>
<path stroke="#f90" d="M199 98h6m4 0h1M51 102h2m4 0h1m3 0h2m1 0h1m22 0h2m13 0h1m16 0h1m36 0h4m3 0h1m7 0h1m18 0h3m4 0h1M4 106h1m1 0h4m2 0h1m3 0h1m2 0h2m1 0h2m12 0h2m7 0h1m88 0h1M1 110h1m8 0h2m6 0h1m2 0h1m101 0h1M0 114h1m3 0h2m7 0h2m10 0h1m8 0h1m4 0h1m2 0h1m33 0h1m1 0h1m2 0h1m2 0h1m35 0h3m1 0h1m6 0h1m3 0h1m4 0h1M3 118h1m11 0h1m11 0h2m12 0h2m4 0h2m23 0h2m2 0h2m4 0h2m1 0h1m8 0h1m10 0h2m2 0h1m4 0h1m11 0h1m1 0h1m4 0h1m2 0h1m3 0h7m1 0h1m2 0h4m11 0h1m11 0h1M3 122h1m10 0h2m13 0h1m9 0h1m1 0h2m33 0h2m3 0h2m1 0h2m19 0h1m3 0h1m4 0h1m6 0h1m2 0h1m1 0h1m2 0h1m2 0h1m2 0h1m4 0h3m4 0h2m2 0h2m12 0h2M3 126h1m22 0h2m1 0h1m17 0h2m24 0h1m2 0h1m1 0h1m3 0h3m11 0h1m8 0h1m4 0h1m3 0h2m4 0h1m5 0h1m1 0h3m1 0h1m3 0h1m3 0h3m6 0h1m2 0h3m9 0h1m1 0h1m11 0h1m6 0h1M1 130h1m2 0h2m3 0h4m3 0h1m2 0h1m1 0h2m1 0h1M10 134h1m1 0h1m8 0h1M10 138h2m8 0h3M17 142h1M21 154h1M6 158h1m3 0h2m4 0h1m3 0h1m1 0h3M0 162h2m7 0h1m4 0h1m11 0h1m2 0h1m6 0h1m42 0h1M0 166h1m8 0h1m10 0h1m58 0h1M0 170h2m7 0h1m9 0h2m15 0h1m42 0h1M0 174h1m8 0h1m5 0h1m10 0h2m6 0h1m2 0h1m41 0h2M1 178h2m11 0h2m11 0h3m4 0h3m1 0h1m7 0h1m33 0h1M0 182h1m8 0h1m5 0h1m10 0h2m1 0h1m4 0h2m1 0h1m42 0h1M0 186h2m7 0h1m9 0h1m7 0h1m1 0h1m4 0h1m1 0h1m42 0h1M1 190h1m7 0h1m5 0h1m10 0h2m1 0h1m4 0h1m1 0h2m41 0h2M1 194h1m10 0h2m5 0h1m9 0h1m49 0h1M1 198h1m11 0h1m5 0h2m58 0h1m399 0h2M9 202h1m3 0h1m5 0h2m15 0h1m442 0h3m1 0h1M1 206h1m7 0h1m4 0h1m11 0h1m2 0h1m4 0h1m2 0h1m41 0h2m399 0h2m1 0h1M2 210h1m11 0h2m12 0h1m6 0h1m2 0h1m37 0h2m2 0h1m201 0h2m6 0h1m1 0h2m2 0h5m1 0h2m2 0h1m6 0h3m1 0h2m3 0h1m8 0h1m4 0h2m1 0h4m1 0h3m2 0h1m2 0h4m2 0h1m3 0h1m6 0h1m10 0h2m1 0h2m2 0h1m2 0h2m1 0h1m2 0h6m8 0h1m9 0h1m12 0h1M1 214h1m7 0h1m3 0h1m5 0h1m7 0h3m4 0h1m1 0h2m39 0h1m204 0h2m2 0h1m6 0h1m2 0h5m2 0h1m9 0h3m1 0h2m1 0h1m1 0h2m11 0h3m1 0h2m1 0h5m1 0h2m2 0h4m2 0h1m10 0h1m7 0h1m4 0h1m1 0h1m2 0h5m2 0h1m2 0h4m9 0h1M9 218h1m2 0h1m2 0h1m11 0h1m1 0h1m4 0h1m1 0h2m244 0h2m2 0h1m6 0h1m2 0h2m1 0h1m3 0h1m9 0h3m1 0h2m3 0h1m8 0h2m2 0h3m3 0h6m2 0h1m2 0h4m1 0h3m9 0h1m11 0h1m1 0h2m2 0h5m2 0h1m2 0h4M0 222h1m8 0h1m5 0h1m10 0h1m2 0h1m4 0h2m1 0h1m41 0h2M2 226h1m1 0h3m1 0h1m19 0h1m10 0h1m2 0h1m2 0h1m27 0h3m2 0h1m100 0h1m2 0h1m59 0h2M0 230h1m13 0h2m10 0h2m10 0h1m6 0h2m29 0h1m108 0h1m57 0h1M9 234h1m3 0h1m1 0h1m11 0h1m1 0h1m9 0h1m1 0h1m6 0h3m2 0h2m4 0h1m12 0h1m8 0h1m1 0h2m5 0h1m5 0h3m22 0h1m6 0h1m2 0h1m3 0h3m2 0h3m4 0h4m1 0h1m14 0h2m7 0h1m11 0h2m1 0h2m2 0h1m7 0h1m33 0h2m12 0h5m2 0h3m1 0h2m7 0h2m7 0h4m2 0h1m116 0h1m75 0h3m1 0h1M1 238h1m7 0h2m1 0h2m2 0h1m2 0h1m6 0h2m1 0h1m5 0h1m1 0h1m1 0h1m1 0h2m2 0h1m1 0h2m1 0h1m3 0h1m4 0h1m13 0h1m7 0h5m3 0h2m6 0h2m15 0h2m5 0h5m2 0h2m4 0h9m4 0h1m1 0h4m13 0h4m1 0h1m3 0h1m12 0h8m7 0h1m6 0h1m25 0h1m57 0h2m4 0h7m26 0h1m13 0h1m2 0h1m5 0h1m28 0h2m15 0h5m33 0h2m1 0h2m6 0h2m9 0h1m3 0h1m4 0h1m5 0h7m12 0h1m12 0h1"/>
<path stroke="#ff9d00" d="M198 98h1M31 102h3m6 0h1m12 0h4m1 0h1m1 0h1m2 0h1m2 0h1m2 0h2m24 0h1m5 0h1m1 0h1m3 0h2m2 0h3m3 0h2m6 0h1m11 0h1m22 0h3m24 0h3m3 0h4M1 106h1m8 0h2m5 0h2m2 0h1m57 0h2m42 0h1M17 110h1M6 114h4m1 0h2m3 0h1m2 0h6m10 0h4m6 0h2m87 0h1m44 0h1M0 118h1m1 0h1m11 0h1m14 0h1m8 0h1m39 0h1m2 0h1m2 0h1m35 0h3m1 0h1m4 0h1m2 0h1m2 0h1m14 0h1m28 0h1m5 0h1M0 122h1m1 0h1m4 0h1m5 0h1m11 0h1m8 0h3m1 0h1m6 0h1m32 0h1m41 0h1m1 0h1m8 0h1m47 0h1M0 126h1m1 0h1m11 0h2m4 0h1m4 0h1m8 0h2m2 0h2m2 0h1m3 0h1m30 0h1m3 0h1m3 0h1m35 0h2m1 0h1m6 0h1m3 0h1m14 0h2m27 0h1M17 130h2M17 134h2M17 138h2M17 154h2M17 158h2m2 0h1M12 162h2m3 0h1m1 0h2M11 166h2m3 0h4M12 170h2m2 0h1M1 174h1m10 0h2m15 0h1m6 0h1M0 178h1m8 0h1m3 0h1m6 0h1m5 0h1m52 0h1M12 182h2m2 0h1m2 0h2m15 0h1m42 0h1M11 186h3m2 0h1m3 0h1m5 0h1M0 190h1m12 0h1m2 0h1m2 0h2M11 194h1m5 0h2M10 198h3m3 0h3M10 202h3m3 0h1m1 0h1M0 206h1m12 0h1m1 0h1m3 0h1m16 0h1m442 0h1M0 210h2m7 0h1m10 0h1m5 0h2m1 0h1m4 0h1m1 0h2m41 0h1m236 0h1m15 0h4m7 0h1m3 0h2m1 0h1m6 0h1m28 0h1m1 0h2m4 0h1m13 0h2m1 0h4m2 0h1m1 0h1m1 0h3m1 0h5m1 0h2m1 0h1m13 0h1M0 214h1m19 0h1m58 0h1m236 0h1m14 0h4m12 0h1m2 0h1m6 0h1m28 0h1m14 0h1m4 0h2m1 0h1m1 0h4m2 0h1m1 0h3m3 0h4m1 0h4M0 218h1m12 0h1m5 0h2m58 0h2m217 0h1m17 0h1m16 0h2m12 0h2m1 0h1m5 0h1m29 0h1m14 0h2m2 0h1m1 0h8m2 0h7m1 0h4m2 0h3M13 222h1m2 0h1m2 0h2m15 0h1M0 226h2m12 0h2m10 0h2m9 0h2m7 0h1m29 0h2m107 0h1M1 230h1m7 0h1m6 0h1m2 0h1m9 0h1m4 0h4m39 0h1m1 0h2M10 234h1m1 0h1m3 0h1m2 0h2m13 0h2m2 0h1m3 0h1m2 0h2m26 0h2m10 0h1m28 0h1m5 0h1m1 0h2m5 0h1m4 0h1m3 0h1m12 0h1m13 0h2m20 0h1m2 0h1m49 0h3m1 0h3M11 238h1m5 0h2m1 0h2m3 0h1m8 0h1m1 0h1m1 0h1m7 0h1m27 0h5m41 0h1m43 0h2m12 0h2m1 0h3m2 0h2m49 0h2m36 0h2m7 0h2m1 0h7m2 0h4"/>
<path stroke="#ffa100" d="M191 98h1m5 0h1M2 102h2m22 0h2m1 0h2m12 0h2m4 0h2m8 0h1m7 0h2m2 0h1m1 0h3m7 0h1m2 0h1m2 0h6m1 0h5m3 0h3m8 0h2m10 0h1m2 0h1m2 0h1m2 0h1m2 0h1m1 0h1m2 0h4m1 0h1m2 0h2m1 0h1m13 0h2m1 0h3m1 0h2m8 0h1M1 114h1m8 0h1m68 0h2m42 0h1M4 118h5m2 0h1m1 0h1m5 0h2m1 0h4m8 0h3m2 0h1m5 0h1m85 0h1m2 0h1M4 122h3m1 0h2m1 0h1m4 0h1m2 0h2m1 0h3m12 0h1m8 0h1m87 0h1M4 126h7m1 0h2m2 0h1m2 0h1m1 0h3m12 0h2m7 0h1m88 0h1M10 162h2m4 0h1m1 0h1M10 166h1m10 0h2m2 0h1M10 170h2m5 0h2m2 0h1M11 174h1m4 0h1m1 0h3M11 178h2m3 0h2m1 0h1M10 182h2m6 0h1m6 0h1M10 186h1m6 0h2M10 190h3m4 0h2M10 194h1m10 0h2m1 0h2M21 198h1m1 0h1m1 0h1M17 202h1m5 0h1m1 0h1M10 206h3m5 0h1m1 0h1M11 210h3m2 0h1m2 0h1m336 0h1m28 0h1m16 0h6m7 0h2m1 0h1m5 0h1m5 0h1m4 0h5m2 0h1m3 0h2m1 0h2m2 0h9m1 0h3m1 0h2m4 0h4m10 0h3m2 0h4m3 0h5m1 0h4M10 214h3m3 0h3m337 0h1m28 0h1m16 0h4m2 0h1m6 0h2m1 0h1m3 0h3m4 0h1m4 0h5m8 0h2m6 0h1m1 0h1m1 0h2m4 0h1m7 0h3m17 0h1m7 0h1M10 218h2m4 0h3m366 0h1m17 0h2m1 0h1m8 0h2m7 0h1m4 0h2m3 0h6m7 0h2m6 0h1m1 0h1m2 0h1m3 0h1m9 0h2m13 0h1m3 0h2m4 0h1m1 0h2m2 0h1M10 222h3m4 0h2M9 226h1m1 0h1m7 0h1m9 0h1m4 0h3m43 0h1M11 230h3m4 0h1m1 0h1M11 234h1m5 0h2m17 0h2m38 0h1m1 0h1m85 0h1m13 0h2m1 0h1m4 0h1m56 0h1M22 238h3m54 0h2m99 0h1m3 0h2m53 0h1m28 0h7m2 0h7m2 0h1M61 242h3m23 0h2m69 0h1m71 0h2"/>
<path stroke="#ffa500" d="M51 98h2m4 0h1m3 0h2m1 0h2m21 0h2m6 0h1m5 0h2m5 0h1m9 0h2m36 0h5m1 0h2m7 0h3m13 0h4m1 0h5M0 102h1m3 0h1m1 0h3m4 0h3m4 0h1m4 0h1m2 0h1m12 0h2m4 0h2m23 0h1m3 0h2m3 0h2m1 0h2m23 0h2m3 0h1m5 0h3m1 0h1m1 0h1m1 0h2m2 0h1m2 0h1m2 0h1m1 0h1m1 0h2m4 0h1m1 0h2m2 0h1m12 0h2m6 0h1m4 0h4M17 114h2M1 118h1m7 0h2m1 0h1m3 0h1m4 0h1m15 0h1m8 0h1m33 0h1m42 0h1M1 122h1m8 0h1m1 0h1m4 0h2m2 0h1m57 0h2m42 0h1M1 126h1m9 0h1m6 0h1m5 0h1m54 0h2m42 0h1M21 162h3m1 0h1M23 166h2M22 170h2m1 0h1M10 174h1m6 0h1m7 0h1M10 178h1m7 0h1m2 0h1m1 0h3M17 182h1M21 186h3m1 0h1M21 190h1m2 0h2M23 194h1M22 198h1m1 0h1M21 202h1m2 0h1M16 206h2m5 0h1m1 0h1M10 210h1m6 0h1m422 0h2m1 0h3m5 0h2m9 0h1m3 0h1m2 0h4m4 0h2m3 0h5m3 0h2m4 0h3m5 0h1m4 0h1M21 214h1m1 0h3m413 0h8m2 0h6m1 0h1m1 0h1m2 0h4m1 0h7m3 0h3m3 0h1m1 0h9m1 0h7m1 0h8M21 218h1m1 0h3m414 0h7m2 0h6m1 0h1m1 0h2m1 0h3m1 0h9m2 0h3m3 0h1m1 0h5m1 0h3m2 0h4m1 0h1m2 0h2m1 0h4M21 222h1m1 0h1m1 0h1M10 226h1m1 0h2m2 0h1m1 0h1m1 0h1m58 0h1M10 230h1m6 0h1m5 0h1m1 0h1M21 234h3m1 0h1m49 0h1m1 0h1m2 0h1m101 0h3M240 238h2m5 0h4m4 0h13M1 242h9m4 0h2m10 0h8m6 0h2m1 0h2m2 0h14m3 0h9m8 0h2m2 0h2m2 0h25m2 0h4m1 0h1m2 0h11m1 0h1m1 0h3m2 0h8m1 0h6m1 0h5m3 0h11m11 0h6m1 0h34m2 0h4M1 246h5m1 0h2m5 0h1m13 0h1m1 0h4m6 0h1m2 0h2m3 0h1m2 0h2m3 0h3m1 0h11m15 0h3m3 0h2m1 0h1m5 0h3m2 0h4m1 0h3m2 0h4m5 0h2m3 0h1m1 0h2m5 0h1m3 0h4m5 0h12m6 0h1m1 0h2m3 0h1m16 0h1m1 0h5m4 0h4m3 0h7m1 0h1m2 0h11M1 250h5m1 0h2m21 0h4m6 0h1m2 0h2m7 0h1m2 0h3m2 0h10m1 0h1m14 0h3m4 0h1m1 0h1m5 0h3m1 0h4m2 0h3m2 0h4m13 0h1m9 0h1m1 0h2m6 0h1m1 0h9m8 0h2m3 0h1m19 0h3m2 0h1m2 0h4m3 0h8m3 0h2m1 0h8M3 254h1m1 0h1m2 0h1m23 0h2m6 0h1m3 0h1m6 0h2m4 0h1m3 0h6m2 0h2m15 0h3m4 0h1m1 0h1m5 0h2m4 0h2m3 0h2m2 0h4m26 0h1m9 0h5m2 0h1m33 0h3m5 0h1m1 0h1m4 0h6m5 0h1m2 0h2m1 0h5"/>
<path stroke="#ffa900" d="M26 98h1m1 0h1m1 0h4m6 0h2m1 0h2m2 0h4m2 0h4m1 0h3m2 0h1m2 0h10m6 0h5m2 0h6m1 0h5m2 0h5m1 0h9m7 0h6m2 0h1m1 0h16m2 0h3m5 0h1m3 0h1m1 0h4m3 0h4m3 0h4m1 0h1M1 102h1m3 0h1m3 0h4m3 0h2m1 0h1m1 0h4m9 0h6m5 0h2m31 0h1m1 0h1m50 0h1m2 0h1m29 0h3m11 0h1m5 0h2M17 118h2m60 0h1M17 126h1M24 162h1M24 170h1M21 174h3M21 182h4M24 186h1M23 190h1M22 202h1M21 206h2m1 0h1M18 210h1m3 0h1m1 0h2m453 0h3M22 214h1m456 0h3m1 0h1M22 218h1m456 0h3m1 0h1M22 222h1m1 0h1M17 226h1m5 0h1m1 0h1M21 230h2m1 0h1M24 234h1m54 0h1m100 0h1M242 238h5m4 0h4M0 242h1m9 0h4m2 0h10m8 0h6m2 0h1m2 0h2m26 0h8m2 0h2m29 0h2m4 0h1m1 0h2m11 0h1m1 0h1m3 0h2m8 0h1m12 0h3m11 0h11m6 0h1m40 0h4M0 246h1m5 0h1m2 0h5m1 0h6m1 0h2m1 0h3m1 0h1m4 0h6m1 0h2m2 0h3m1 0h2m2 0h3m3 0h1m11 0h8m1 0h6m3 0h3m2 0h1m1 0h5m3 0h2m4 0h1m3 0h2m4 0h5m2 0h3m1 0h1m2 0h5m1 0h3m4 0h5m12 0h6m1 0h1m2 0h3m1 0h7m1 0h8m1 0h1m5 0h4m4 0h3m7 0h1m1 0h2m11 0h4M0 250h1m5 0h1m2 0h13m3 0h5m4 0h6m1 0h2m2 0h7m1 0h2m3 0h2m10 0h1m1 0h14m3 0h4m1 0h1m1 0h5m3 0h1m4 0h2m3 0h2m4 0h13m1 0h9m1 0h1m2 0h6m1 0h1m9 0h8m2 0h3m1 0h7m1 0h11m3 0h2m1 0h2m4 0h3m8 0h3m2 0h1m8 0h4M0 254h3m1 0h1m1 0h2m1 0h13m1 0h1m1 0h7m2 0h6m1 0h3m1 0h6m2 0h4m1 0h3m6 0h2m2 0h8m2 0h5m3 0h4m1 0h1m1 0h5m2 0h4m2 0h3m2 0h2m4 0h26m1 0h9m5 0h2m1 0h21m1 0h11m3 0h5m1 0h1m1 0h4m6 0h5m1 0h2m2 0h1m5 0h4"/>
<path stroke="#ffad00" d="M0 98h1m1 0h15m2 0h7m1 0h1m1 0h1m4 0h6m2 0h1m2 0h2m29 0h6m38 0h5m6 0h2m1 0h1m16 0h2m11 0h1m1 0h1m11 0h3m4 0h1M18 102h1m60 0h1m43 0h1m55 0h1M24 174h1M22 178h1M22 190h1M21 210h1m1 0h1M21 226h1m2 0h1M185 234h1M240 242h3m1 0h14M21 246h1m2 0h1m54 0h1m105 0h1m52 0h4m5 0h4M22 250h3m160 0h1m52 0h4m6 0h1M22 254h1m1 0h1m54 0h2m104 0h1m52 0h3"/>
<path stroke="#ffb100" d="M1 98h1m15 0h2M22 226h1M243 242h1m14 0h24m2 0h1M242 246h5m4 0h28M242 250h6m1 0h23m2 0h3M241 254h29"/>
<path stroke="#ffb500" d="M282 242h2m1 0h31m1 0h14m5 0h7m1 0h1m1 0h1m4 0h4m4 0h10m1 0h13m4 0h1m2 0h12m7 0h5m3 0h23m2 0h1m2 0h6m1 0h10m1 0h3m1 0h4m1 0h5m1 0h1m6 0h11m1 0h12M279 246h30m1 0h1m19 0h1m7 0h1m27 0h2m5 0h4m56 0h1M272 250h2m3 0h21m3 0h1M270 254h26"/>
<path stroke="#ffb900" d="M316 242h1m14 0h5m7 0h1m1 0h1m1 0h4m4 0h4m10 0h1m13 0h4m1 0h2m12 0h7m5 0h3m23 0h2m1 0h2m6 0h1m10 0h1m3 0h1m4 0h1m5 0h1m1 0h6m11 0h1m12 0h1M309 246h1m1 0h19m1 0h7m1 0h27m2 0h5m4 0h56m1 0h76M298 250h3m1 0h208M296 254h214M158 258h1m71 0h1"/>
<path stroke="#ffbd00" d="M0 258h21m5 0h51m1 0h1m2 0h77m1 0h20m1 0h5m1 0h44m1 0h6M230 262h1"/>
<path stroke="#ffc100" d="M21 258h5m51 0h1m1 0h2m98 0h1m5 0h1m51 0h29M0 262h21m4 0h54m2 0h98m2 0h1m1 0h1m2 0h44m1 0h7M0 266h10m3 0h3m10 0h8m6 0h5m2 0h26m9 0h1m2 0h5m1 0h23m1 0h5m1 0h1m2 0h5m1 0h4m2 0h2m1 0h1m3 0h21m3 0h11m11 0h2m2 0h2m1 0h40M0 270h10m3 0h3m3 0h2m5 0h8m5 0h7m1 0h26m9 0h32m1 0h8m1 0h18m1 0h21m3 0h11m9 0h8m1 0h40M2 274h7m5 0h2m14 0h4m6 0h1m2 0h2m2 0h2m2 0h2m2 0h4m1 0h11m15 0h4m3 0h3m1 0h13m1 0h3m2 0h4m4 0h1m1 0h2m4 0h2m9 0h4m6 0h11m6 0h5m2 0h1m18 0h5m4 0h4m2 0h9m3 0h11M3 278h1m1 0h1m27 0h1m6 0h1m16 0h1m3 0h6m20 0h2m4 0h1m1 0h1m5 0h3m7 0h3m5 0h1m13 0h1m22 0h5m2 0h1m33 0h3m13 0h5m8 0h1m2 0h5"/>
<path stroke="#ffc500" d="M266 258h26m2 0h1M21 262h4m54 0h2m98 0h2m1 0h1m1 0h2m52 0h31m1 0h1M10 266h3m3 0h10m8 0h6m5 0h2m26 0h9m1 0h2m5 0h1m23 0h1m5 0h1m1 0h2m5 0h1m4 0h2m2 0h1m1 0h3m21 0h3m11 0h11m2 0h2m2 0h1m40 0h28M10 270h3m3 0h3m2 0h5m8 0h5m7 0h1m26 0h9m32 0h1m8 0h1m18 0h1m21 0h3m11 0h9m8 0h1m40 0h26M0 274h2m7 0h5m2 0h14m4 0h6m1 0h2m2 0h2m2 0h2m2 0h2m4 0h1m11 0h15m4 0h3m3 0h1m13 0h1m3 0h2m4 0h4m1 0h1m2 0h4m2 0h9m4 0h6m11 0h6m5 0h2m1 0h18m5 0h4m4 0h2m9 0h3m11 0h9m1 0h14M0 278h3m1 0h1m1 0h27m1 0h6m1 0h16m1 0h3m6 0h20m2 0h4m1 0h1m1 0h5m3 0h7m3 0h5m1 0h13m1 0h22m5 0h2m1 0h33m3 0h13m5 0h8m1 0h2m5 0h8m5 0h4"/>
<path stroke="#ffc900" d="M292 258h2m1 0h108m1 0h75m2 0h29M269 262h1m1 0h25M264 266h25M262 270h24m1 0h3M243 274h1m14 0h24M242 278h5m4 0h28"/>
<path stroke="#ffcd00" d="M403 258h1m75 0h2M296 262h214M289 266h44m1 0h51m2 0h16m2 0h2m1 0h71m3 0h1m1 0h26M286 270h1m3 0h43m1 0h13m1 0h8m1 0h28m2 0h15m6 0h33m1 0h24m1 0h12m3 0h1m1 0h12m1 0h13M282 274h31m6 0h1m3 0h8m7 0h1m12 0h1m9 0h1m2 0h5m1 0h2m1 0h4m1 0h2m12 0h2m1 0h4m11 0h2m7 0h2m4 0h4m1 0h4m1 0h1m2 0h1m8 0h2m4 0h9m3 0h1m7 0h4m11 0h2m3 0h2m4 0h4m2 0h2M279 278h27m1 0h2m1 0h1m19 0h1m35 0h2m5 0h1m2 0h1m56 0h1"/>
<path stroke="#fdcf00" d="M333 266h1m51 0h2m16 0h2m2 0h1m71 0h3m1 0h1M333 270h1m13 0h1m8 0h1m28 0h2m15 0h6m33 0h1m24 0h1m12 0h3m1 0h1m12 0h1M313 274h6m1 0h3m8 0h7m1 0h12m1 0h9m1 0h2m5 0h1m2 0h1m4 0h1m2 0h12m2 0h1m4 0h11m2 0h7m2 0h4m4 0h1m4 0h1m1 0h2m1 0h8m2 0h4m9 0h3m1 0h7m4 0h11m2 0h3m2 0h4m4 0h2m2 0h3M306 278h1m2 0h1m1 0h19m1 0h35m2 0h5m1 0h2m1 0h56m1 0h76"/>
</g>
<g transform="translate(84.8 758.04) scale(3.66250 -0.91000)" stroke-width="15" fill="none">
<path stroke="#ff2100" d="M0 775h5m12 0h3"/>
<path stroke="#ff2d00" d="M5 775h7m4 0h1m11 0h2m5 0h9m47 0h1m32 0h1m25 0h3m55 0h2m285 0h1"/>
<path stroke="#ff3900" d="M12 775h4m4 0h8m2 0h3m11 0h16m1 0h6m3 0h16m2 0h3m1 0h12m10 0h2m1 0h3m3 0h1m1 0h7m8 0h7m2 0h1m3 0h3m5 0h9m3 0h1m5 0h3m2 0h3m1 0h2m14 0h2m1 0h1m2 0h3m17 0h1m49 0h1m57 0h1m5 0h1m11 0h1m58 0h2m8 0h3m7 0h2m10 0h9m4 0h7m9 0h8m5 0h6m8 0h2m1 0h4"/>
<path stroke="#ff4500" d="M33 775h2m25 0h1m6 0h3m16 0h2m16 0h10m2 0h1m3 0h3m9 0h8m7 0h2m7 0h5m13 0h5m3 0h2m3 0h1m2 0h14m2 0h1m6 0h17m1 0h11m8 0h16m5 0h9m1 0h5m1 0h7m9 0h4m5 0h12m2 0h5m3 0h4m1 0h5m1 0h5m3 0h1m1 0h1m1 0h4m2 0h6m5 0h7m9 0h9m6 0h2m1 0h7m2 0h8m8 0h2m2 0h10m9 0h4m7 0h9m8 0h5m7 0h7m2 0h1"/>
<path stroke="#ff5100" d="M170 775h3m69 0h8m16 0h5m15 0h1m7 0h2m1 0h1m2 0h3m4 0h1m16 0h2m5 0h3m16 0h3m1 0h1m6 0h2m6 0h5m7 0h9m9 0h6m2 0h1m20 0h5"/>
<path stroke="#ff5d00" d="M296 775h1m1 0h2m8 0h4"/>
</g>
<g transform="translate(84.8 758.5) scale(3.66250 -0.91000)" stroke-width="16" fill="none">
<path stroke="#ffc100" d="M0 472h5m203 0h2"/>
<path stroke="#ffc500" d="M5 472h1m1 0h1m8 0h4m15 0h5m2 0h2m46 0h3m1 0h2m27 0h6m11 0h3m1 0h3m2 0h6m6 0h6m1 0h2m9 0h3m2 0h3m1 0h2m17 0h1m2 0h2"/>
<path stroke="#ffc900" d="M6 472h1m1 0h5m7 0h13m7 0h2m2 0h16m2 0h5m3 0h16m2 0h2m3 0h1m2 0h8m9 0h10m6 0h11m3 0h1m3 0h2m6 0h6m6 0h1m5 0h6m3 0h2m3 0h1m2 0h5m3 0h3m1 0h5m5 0h5m3 0h2m8 0h1m2 0h5m2 0h2"/>
<path stroke="#ffcd00" d="M13 472h3m17 0h2m25 0h2m5 0h3m16 0h2m16 0h9m57 0h3m22 0h3m3 0h1m15 0h3m2 0h8m1 0h2m5 0h2m10 0h16m5 0h15m6 0h2m9 0h2m11 0h1m21 0h3m3 0h1m11 0h1"/>
<path stroke="#fdcf00" d="M0 456h5m12 0h3m16 0h4m51 0h1m32 0h5m20 0h6m8 0h4m22 0h1m17 0h5M242 472h8m16 0h5m15 0h6m2 0h2m9 0h3m4 0h4m1 0h8m1 0h5m3 0h4m3 0h3m1 0h5m3 0h1m1 0h1m1 0h4m2 0h6m23 0h5m12 0h1m5 0h2m8 0h1m24 0h3m42 0h1"/>
<path stroke="#fcd200" d="M5 456h8m3 0h1m3 0h3m3 0h5m4 0h1m4 0h10m1 0h3m10 0h2m4 0h16m2 0h3m1 0h12m10 0h10m5 0h8m3 0h9m6 0h3m3 0h2m4 0h3m3 0h9m2 0h5m1 0h5m7 0h5m5 0h5m13 0h1m2 0h3M296 472h7m5 0h4m13 0h1m5 0h3m16 0h3m1 0h1m6 0h2m6 0h12m6 0h5m5 0h2m6 0h4m1 0h5m2 0h8m1 0h2m5 0h11m1 0h5m3 0h3m1 0h1m1 0h12m5 0h8m5 0h6m1 0h1m6 0h2m1 0h4"/>
<path stroke="#fbd500" d="M13 456h3m7 0h3m5 0h4m15 0h1m3 0h10m2 0h4m16 0h2m16 0h10m23 0h3m18 0h3m11 0h1m9 0h2m11 0h7m15 0h13m1 0h2m3 0h6m8 0h9m3 0h4m5 0h4m2 0h6m55 0h1m5 0h1M381 472h6m12 0h6m23 0h5m11 0h1m11 0h1m1 0h1m12 0h5m8 0h5m8 0h6m2 0h1"/>
<path stroke="#f9d700" d="M208 440h2M170 456h2m70 0h8m9 0h3m4 0h5m4 0h2m6 0h13m7 0h5m4 0h13m1 0h5m3 0h4m1 0h5m3 0h3m3 0h1m1 0h6m2 0h6m23 0h5m12 0h1m5 0h2m8 0h1m24 0h3m42 0h1"/>
<path stroke="#f8da00" d="M0 440h5m11 0h4m16 0h4m50 0h3m31 0h5m11 0h3m1 0h3m2 0h6m6 0h6m1 0h2m9 0h3m2 0h3m1 0h2m14 0h2m1 0h1m2 0h3m17 0h1M296 456h7m5 0h4m13 0h1m5 0h3m11 0h2m3 0h3m1 0h1m6 0h2m6 0h12m6 0h5m5 0h2m6 0h4m1 0h5m2 0h8m1 0h2m5 0h11m1 0h5m3 0h5m1 0h12m5 0h8m5 0h6m1 0h1m6 0h2m1 0h4"/>
<path stroke="#f7dd00" d="M5 440h8m7 0h3m3 0h5m4 0h1m4 0h10m1 0h3m1 0h2m5 0h5m3 0h16m2 0h2m3 0h11m9 0h11m5 0h11m3 0h1m3 0h2m6 0h6m6 0h1m5 0h6m3 0h2m3 0h1m2 0h7m1 0h6m2 0h1m6 0h17m1 0h11m8 0h9m3 0h4m5 0h4m2 0h6m55 0h1m5 0h1M381 456h6m12 0h6m23 0h5m11 0h1m13 0h1m12 0h5m8 0h5m8 0h6m2 0h1"/>
<path stroke="#f5df00" d="M13 440h3m7 0h3m5 0h4m15 0h1m3 0h1m2 0h5m5 0h3m16 0h2m16 0h9m57 0h3m24 0h1m44 0h8m9 0h3m4 0h5m4 0h2m6 0h13m7 0h5m4 0h13m1 0h5m3 0h4m1 0h5m1 0h1m1 0h3m3 0h1m1 0h6m2 0h6m23 0h5m12 0h1m5 0h2m8 0h1m24 0h3m42 0h1"/>
<path stroke="#f4e200" d="M208 312h2m1 0h1M296 440h7m5 0h4m13 0h1m5 0h3m12 0h1m3 0h3m1 0h1m6 0h2m6 0h12m6 0h5m5 0h2m6 0h4m1 0h5m2 0h8m1 0h2m5 0h17m3 0h5m1 0h12m5 0h8m5 0h6m1 0h1m6 0h2m1 0h4"/>
<path stroke="#f3e500" d="M0 312h6m10 0h4m16 0h4m2 0h2m46 0h3m1 0h2m1 0h1m25 0h6m11 0h3m1 0h3m2 0h7m5 0h6m1 0h2m3 0h3m2 0h4m2 0h8m12 0h2m1 0h1m2 0h1m1 0h1m17 0h1m2 0h3m4 0h1M381 440h6m12 0h6m23 0h5m25 0h1m12 0h5m8 0h5m8 0h6m2 0h1"/>
<path stroke="#f1e700" d="M6 312h7m7 0h13m2 0h1m4 0h2m2 0h43m1 0h2m3 0h1m2 0h1m1 0h6m8 0h11m6 0h11m3 0h1m3 0h2m7 0h5m6 0h1m8 0h2m4 0h2m8 0h12m2 0h1m6 0h17m1 0h2m3 0h4m1 0h1m8 0h16m5 0h15m6 0h2m9 0h2m9 0h4m5 0h1m10 0h2m1 0h8m11 0h1m58 0h2m33 0h3M208 392h2"/>
<path stroke="#f0ea00" d="M13 312h3m17 0h2m52 0h1m16 0h8m58 0h3m69 0h8m16 0h5m15 0h6m2 0h2m4 0h3m2 0h3m4 0h2m4 0h5m1 0h1m1 0h5m2 0h1m2 0h1m8 0h5m2 0h4m1 0h24m9 0h9m10 0h6m2 0h11m5 0h6m2 0h1m5 0h3m3 0h3m4 0h10m6 0h8m5 0h7m11 0h2M124 328h1m25 0h5m11 0h1m22 0h1m17 0h5M208 344h2m1 0h1M124 360h1m25 0h5m11 0h1m22 0h1m17 0h5M124 376h1m25 0h5m11 0h1m22 0h1m17 0h5M36 392h4m50 0h3m2 0h1m27 0h6m11 0h3m1 0h3m2 0h6m6 0h6m1 0h2m9 0h3m2 0h3m1 0h2m17 0h1m2 0h3M124 408h1m25 0h5m11 0h1m22 0h1m17 0h5"/>
<path stroke="#efed00" d="M296 312h4m8 0h4m13 0h1m5 0h2m17 0h2m29 0h9m9 0h10m19 0h2m2 0h1m6 0h2m1 0h5m9 0h4m10 0h6m8 0h5m7 0h1m2 0h8m2 0h1M0 328h6m10 0h4m8 0h2m5 0h10m2 0h3m21 0h13m5 0h15m10 0h2m1 0h7m1 0h11m4 0h10m5 0h1m5 0h5m1 0h3m3 0h9m2 0h5m1 0h3m9 0h5m5 0h5m3 0h2m8 0h1m2 0h5m2 0h2m9 0h7m4 0h2m8 0h2m3 0h6m51 0h2m2 0h7m11 0h1M90 344h3m1 0h2m1 0h1m25 0h6m11 0h3m1 0h3m2 0h7m5 0h9m3 0h3m2 0h4m2 0h8m10 0h4m1 0h1m2 0h1m1 0h5m13 0h1m2 0h5m2 0h2m9 0h1m1 0h2m1 0h2m22 0h1M36 360h4m31 0h13m5 0h15m10 0h2m1 0h7m1 0h11m4 0h10m5 0h1m5 0h5m1 0h3m3 0h9m2 0h5m1 0h3m9 0h5m5 0h5m3 0h2m8 0h1m2 0h5m2 0h2m9 0h1m1 0h2m1 0h2m22 0h1M0 376h5m11 0h4m15 0h9m4 0h2m21 0h13m5 0h15m10 0h2m1 0h7m1 0h11m4 0h10m5 0h1m5 0h5m1 0h3m3 0h9m2 0h5m1 0h3m9 0h5m5 0h5m3 0h2m8 0h1m2 0h5m2 0h2m9 0h7m22 0h1m57 0h1M0 392h6m10 0h4m8 0h2m5 0h1m4 0h10m1 0h3m1 0h5m2 0h5m3 0h16m2 0h2m3 0h2m1 0h8m9 0h10m6 0h11m3 0h1m3 0h2m6 0h6m6 0h1m5 0h6m3 0h2m3 0h1m2 0h5m3 0h9m6 0h5m2 0h5m3 0h10m2 0h2m9 0h7m4 0h2m16 0h3m55 0h1m5 0h1M0 408h6m10 0h4m8 0h2m5 0h10m2 0h3m21 0h13m5 0h15m10 0h2m1 0h7m1 0h11m4 0h10m5 0h1m5 0h5m1 0h3m3 0h9m2 0h5m1 0h3m9 0h5m5 0h5m3 0h2m8 0h1m2 0h5m2 0h2m9 0h7m4 0h2m16 0h3m55 0h1m5 0h1"/>
<path stroke="#ecef00" d="M430 312h2m65 0h2M6 328h7m7 0h8m2 0h5m10 0h2m3 0h21m13 0h5m15 0h10m2 0h1m19 0h4m16 0h5m11 0h1m9 0h2m9 0h9m15 0h3m2 0h8m1 0h2m5 0h2m2 0h2m3 0h4m7 0h4m2 0h8m2 0h3m6 0h13m7 0h5m4 0h13m1 0h5m5 0h2m7 0h5m3 0h3m1 0h14m3 0h5m1 0h1m11 0h4M36 344h4m2 0h2m3 0h3m2 0h2m1 0h32m1 0h2m3 0h1m2 0h1m1 0h6m8 0h11m6 0h11m3 0h1m3 0h2m7 0h5m15 0h2m4 0h2m8 0h10m4 0h1m10 0h13m1 0h2m5 0h2m2 0h2m3 0h4m1 0h1m2 0h1m2 0h22m1 0h5m1 0h9m7 0h4m7 0h4m5 0h1m5 0h2m3 0h2m1 0h8m11 0h1M0 360h5m11 0h4m8 0h2m5 0h1m4 0h31m13 0h5m15 0h10m2 0h1m19 0h4m16 0h5m11 0h1m9 0h2m9 0h9m15 0h3m2 0h8m1 0h2m5 0h2m2 0h2m3 0h4m1 0h1m2 0h1m2 0h22m1 0h5m1 0h9m7 0h4m7 0h4m5 0h1m5 0h2m3 0h2m1 0h8m11 0h1M5 376h8m7 0h13m11 0h4m2 0h21m13 0h5m15 0h10m2 0h1m19 0h4m16 0h5m11 0h1m9 0h2m9 0h9m15 0h3m2 0h8m1 0h2m5 0h2m2 0h2m3 0h4m7 0h22m1 0h5m1 0h9m7 0h4m5 0h10m1 0h1m2 0h5m3 0h2m1 0h1m1 0h6m10 0h4m5 0h5M6 392h7m1 0h2m4 0h8m2 0h5m15 0h1m3 0h1m5 0h2m5 0h3m16 0h2m16 0h9m57 0h3m22 0h3m20 0h2m5 0h3m10 0h2m2 0h2m3 0h4m7 0h4m2 0h16m3 0h3m1 0h9m7 0h5m4 0h13m1 0h5m3 0h2m1 0h1m1 0h5m3 0h3m3 0h1m1 0h6m2 0h6M6 408h7m7 0h8m2 0h5m10 0h2m3 0h21m13 0h5m15 0h10m2 0h1m19 0h4m16 0h5m11 0h1m9 0h2m9 0h9m15 0h3m2 0h8m1 0h2m5 0h2m2 0h2m3 0h4m7 0h4m2 0h16m3 0h3m1 0h9m7 0h5m4 0h13m1 0h5m3 0h2m1 0h1m1 0h5m3 0h3m3 0h1m1 0h6m2 0h6"/>
<path stroke="#e8f000" d="M13 328h3m154 0h2m72 0h3m49 0h7m5 0h4m13 0h1m5 0h3m16 0h3m18 0h3m5 0h1m7 0h5m4 0h3m10 0h8m2 0h1m5 0h1m24 0h3M17 344h3m8 0h2m5 0h1m4 0h2m2 0h3m3 0h2m2 0h1m32 0h1m16 0h8m58 0h3m71 0h3m39 0h1m10 0h6m4 0h1m4 0h2m4 0h5m1 0h1m1 0h3m4 0h1m2 0h1m8 0h11m1 0h22m1 0h1M5 360h8m7 0h8m2 0h5m135 0h2m72 0h3m39 0h1m10 0h6m4 0h1m4 0h2m4 0h5m1 0h1m1 0h3m4 0h1m2 0h1m8 0h11m1 0h22M13 376h3m17 0h2m135 0h2m72 0h3m39 0h1m9 0h7m4 0h1m2 0h2m10 0h1m1 0h2m5 0h3m2 0h1m8 0h10m4 0h5m5 0h12M13 392h1m230 0h3m39 0h1m9 0h7m7 0h2m13 0h1m5 0h3m2 0h1m8 0h2m3 0h3m1 0h1m6 0h2m6 0h12m11 0h4M13 408h3m154 0h2m72 0h3m39 0h1m9 0h7m7 0h2m13 0h1m5 0h3m2 0h1m8 0h2m3 0h3m1 0h1m6 0h2m6 0h12m11 0h5M208 424h4m68 0h1m57 0h1m5 0h1m11 0h1"/>
<path stroke="#e4f100" d="M381 328h6m12 0h10m8 0h2m1 0h5m1 0h2m5 0h11m3 0h3m3 0h3m3 0h11m6 0h8m5 0h7m10 0h4M0 344h5m6 0h1m4 0h1m3 0h8m2 0h5m261 0h1m11 0h4m13 0h1m5 0h2m46 0h1m7 0h12M13 360h3m280 0h1m11 0h4m13 0h1m5 0h2m46 0h2m6 0h2m1 0h1m1 0h5M308 376h2m71 0h1m5 0h12M308 392h2m71 0h11m4 0h3m10 0h1m2 0h1m2 0h2M308 408h2m71 0h11m5 0h2m6 0h1m3 0h8M0 424h5m11 0h4m16 0h4m50 0h3m1 0h2m1 0h1m25 0h6m11 0h7m2 0h7m5 0h9m3 0h3m2 0h4m2 0h8m10 0h4m1 0h1m4 0h5m3 0h2m2 0h1m3 0h14m8 0h16m5 0h9m1 0h5m1 0h7m9 0h4m5 0h13m1 0h5m3 0h4m1 0h5m1 0h5m3 0h1m1 0h1m1 0h4m2 0h6m5 0h3"/>
<path stroke="#e0f300" d="M428 328h5m11 0h3m9 0h3m11 0h6m8 0h5m7 0h10M5 344h6m1 0h4m365 0h6m12 0h2m4 0h2m1 0h9M381 360h6m2 0h1m1 0h1m5 0h2m10 0h2m1 0h1m2 0h2M382 376h5m12 0h3m3 0h2m1 0h9M399 392h10m1 0h2m1 0h2m2 0h11m22 0h4m7 0h1m2 0h1m13 0h6m7 0h5m11 0h2M399 408h6m1 0h3m8 0h11m5 0h6m2 0h1m5 0h9m4 0h2m2 0h3m9 0h8m7 0h5m11 0h2M5 424h8m7 0h3m3 0h5m4 0h1m4 0h47m1 0h2m3 0h1m2 0h1m1 0h6m8 0h11m6 0h11m7 0h2m7 0h5m15 0h2m4 0h2m8 0h10m4 0h1m10 0h3m2 0h2m1 0h3m14 0h8m16 0h5m15 0h1m7 0h2m1 0h1m2 0h3m4 0h1m17 0h1m5 0h3m16 0h3m1 0h1m6 0h2m6 0h5m3 0h4m6 0h12m10 0h2m1 0h2m1 0h2m33 0h3"/>
<path stroke="#dcf400" d="M401 344h4m2 0h1m9 0h11m7 0h2m10 0h7m6 0h2m2 0h3m9 0h8m7 0h5m10 0h3M399 360h10m2 0h1m1 0h2m2 0h6m1 0h4m22 0h3m42 0h1m11 0h1M402 376h3m2 0h1m9 0h11m7 0h2m10 0h7m6 0h2m2 0h3m9 0h8m7 0h5m10 0h3M428 392h1m4 0h17m4 0h7m1 0h2m1 0h6m1 0h3m1 0h2m7 0h3m1 0h2m5 0h1m2 0h1m3 0h4m2 0h1M428 408h2m2 0h1m6 0h2m1 0h5m9 0h4m2 0h2m3 0h4m1 0h4m9 0h6m5 0h1m2 0h1m3 0h4m2 0h1M13 424h3m7 0h3m5 0h4m52 0h1m16 0h8m58 0h3m123 0h1m1 0h2m8 0h4m69 0h6m12 0h10m2 0h1m2 0h1m2 0h11m5 0h6m2 0h2m4 0h3m3 0h3m4 0h10m6 0h8m5 0h7m10 0h3"/>
<path stroke="#d8f500" d="M428 344h2m2 0h3m2 0h10m7 0h6m2 0h2m3 0h4m1 0h3m10 0h6m5 0h1m2 0h7m3 0h1M423 360h1m9 0h11m1 0h5m3 0h3m1 0h1m1 0h12m5 0h8m5 0h6m1 0h1m6 0h4m1 0h2M428 376h2m2 0h3m2 0h10m7 0h6m2 0h2m3 0h4m1 0h3m10 0h6m5 0h1m2 0h7m3 0h1M429 392h4m38 0h1m3 0h1m8 0h1m3 0h1m8 0h2m1 0h3M430 408h2m39 0h1m12 0h1m12 0h2m1 0h3M428 424h2m2 0h1m6 0h2m2 0h4m9 0h4m10 0h6m8 0h5m7 0h1m2 0h7m3 0h1"/>
<path stroke="#d4f700" d="M430 344h2m39 0h1m3 0h1m8 0h1m12 0h2M428 360h5m11 0h1m11 0h1m1 0h1m12 0h5m8 0h5m8 0h6M430 376h2m39 0h1m3 0h1m8 0h1m12 0h2M430 424h2m65 0h2"/>
</g>
<g transform="translate(84.8 758.5) scale(3.66250 -0.91000)" stroke-width="18" fill="none">
<path stroke="#fe0000" d="M0 792h5m11 0h4m16 0h4m50 0h2m32 0h5m20 0h6m8 0h4m22 0h1"/>
<path stroke="#ff0900" d="M5 792h8m7 0h3m3 0h5m4 0h1m4 0h10m1 0h3m1 0h2m7 0h2m4 0h16m2 0h2m2 0h12m10 0h10m5 0h8m3 0h9m6 0h3m3 0h2m4 0h3m3 0h9m2 0h5m1 0h2m16 0h2m1 0h1"/>
<path stroke="#ff1500" d="M13 792h3m7 0h3m5 0h4m15 0h1m3 0h1m2 0h7m2 0h4m16 0h2m16 0h10m23 0h3m18 0h3m11 0h1m9 0h2m8 0h9m1 0h4m1 0h1m2 0h1m1 0h1"/>
<path stroke="#ff2100" d="M170 792h2m29 0h1m4 0h1m6 0h4"/>
<path stroke="#ff2d00" d="M217 792h21m2 0h1"/>
<path stroke="#ff3900" d="M238 792h2m1 0h1m9 0h7m4 0h2m7 0h4m2 0h6m55 0h7m11 0h1m58 0h2m8 0h3m7 0h2m10 0h7m6 0h2m2 0h3m9 0h8m5 0h7m7 0h2m1 0h4"/>
<path stroke="#ff4500" d="M242 792h2m3 0h4m7 0h4m2 0h7m4 0h2m6 0h13m7 0h5m4 0h13m1 0h5m3 0h4m7 0h5m3 0h1m1 0h1m1 0h4m2 0h6m5 0h7m9 0h9m6 0h2m1 0h7m2 0h8m8 0h2m2 0h10m7 0h6m2 0h2m3 0h4m1 0h4m8 0h5m7 0h7m2 0h1"/>
<path stroke="#ff5100" d="M244 792h3m49 0h7m5 0h1m1 0h2m13 0h1m5 0h3m16 0h3m1 0h1m6 0h2m6 0h5m7 0h9m9 0h6m2 0h1m20 0h5m38 0h1"/>
<path stroke="#ff5d00" d="M309 792h1"/>
</g>
<g transform="translate(84.8 758.5) scale(3.66250 -0.91000)" stroke-width="24" fill="none">
<path stroke="#e00" d="M0 684h5m12 0h3m188 0h2"/>
<path stroke="#f10000" d="M5 684h7m4 0h1m11 0h2m5 0h9m46 0h6m1 0h1m16 0h2m7 0h8m9 0h7m2 0h7m5 0h9m3 0h3m2 0h4m2 0h8m12 0h2m1 0h1m2 0h3M0 732h6m10 0h4m16 0h4m51 0h1m32 0h5m20 0h6m8 0h4m22 0h1m18 0h4"/>
<path stroke="#f40000" d="M12 684h4m4 0h8m2 0h5m9 0h46m6 0h1m1 0h6m8 0h2m2 0h7m8 0h9m7 0h2m7 0h5m15 0h2m4 0h2m8 0h12m2 0h1m6 0h5m2 0h7m1 0h10m2 0h2m9 0h7m4 0h2m16 0h2m56 0h1m5 0h1M208 708h2M6 732h7m7 0h11m4 0h1m4 0h10m1 0h3m10 0h2m4 0h16m2 0h3m1 0h12m10 0h10m5 0h8m3 0h9m6 0h3m3 0h2m4 0h3m3 0h9m2 0h5m1 0h4m8 0h4m1 0h1m4 0h4"/>
<path stroke="#f60000" d="M208 660h2M104 684h8m58 0h3m45 0h2m7 0h1m10 0h2m2 0h2m3 0h4m7 0h4m2 0h16m2 0h4m1 0h9m7 0h4m5 0h10m1 0h1m2 0h5m3 0h2m1 0h1m1 0h5m3 0h1m7 0h5m4 0h5m23 0h5m12 0h1m2 0h2m1 0h2m2 0h3m2 0h4m5 0h4m4 0h1m5 0h7m7 0h1m2 0h3m11 0h6m7 0h2m2 0h1m11 0h1M0 708h5m11 0h4m16 0h4m50 0h3m1 0h2m27 0h6m11 0h3m1 0h3m2 0h7m5 0h6m1 0h2m9 0h3m2 0h3m1 0h4m12 0h2m1 0h1m2 0h3m17 0h1M13 732h3m15 0h4m15 0h1m3 0h10m2 0h4m16 0h2m16 0h10m23 0h3m18 0h3m11 0h1m9 0h2m10 0h8m4 0h1m9 0h26m14 0h1m23 0h1m57 0h1M0 756h5m11 0h4m16 0h4m84 0h5m21 0h5m8 0h4m22 0h1m18 0h2m1 0h1"/>
<path stroke="#f90000" d="M0 660h5m11 0h4m16 0h4m50 0h3m1 0h2m27 0h6m11 0h3m1 0h3m2 0h6m6 0h6m1 0h2m9 0h3m2 0h3m1 0h2m14 0h2m1 0h1m2 0h3M244 684h3m39 0h1m9 0h7m4 0h1m2 0h2m10 0h1m1 0h2m5 0h3m2 0h1m8 0h2m1 0h7m5 0h4m5 0h12m6 0h5m5 0h2m6 0h4m1 0h2m2 0h1m2 0h2m3 0h2m13 0h4m1 0h5m7 0h7m1 0h2m3 0h4m1 0h2m2 0h2m7 0h3m1 0h2m2 0h2m1 0h1m6 0h4m1 0h2M5 708h8m7 0h11m4 0h1m4 0h28m2 0h16m2 0h2m3 0h1m2 0h8m8 0h11m6 0h11m3 0h1m3 0h2m7 0h5m6 0h1m5 0h6m3 0h2m3 0h1m4 0h12m2 0h1m6 0h17m1 0h11m8 0h9m3 0h4m5 0h4m2 0h9m6 0h2m9 0h2m9 0h4m5 0h1m10 0h2m1 0h8m11 0h2m8 0h3m23 0h4m13 0h1m5 0h2m8 0h3m7 0h2m12 0h5m7 0h1m2 0h1m13 0h6m11 0h1m11 0h1M170 732h2m70 0h2m3 0h9m1 0h13m1 0h9m1 0h5m1 0h9m7 0h4m5 0h1m1 0h4m2 0h1m2 0h1m2 0h2m1 0h2m3 0h2m1 0h1m1 0h6m10 0h3m6 0h1m1 0h3m23 0h4m13 0h1m5 0h2m8 0h3m7 0h2m12 0h5m7 0h1m2 0h1m13 0h6m11 0h1m11 0h1M5 756h8m7 0h3m3 0h5m4 0h1m4 0h10m21 0h13m4 0h16m10 0h10m5 0h7m4 0h10m5 0h1m5 0h2m4 0h3m3 0h9m2 0h5m1 0h3m9 0h4m1 0h1m2 0h1m1 0h1"/>
<path stroke="#fc0000" d="M5 660h8m7 0h11m4 0h1m4 0h20m2 0h5m3 0h16m2 0h2m3 0h1m2 0h8m9 0h10m6 0h11m3 0h1m3 0h2m6 0h6m6 0h1m5 0h6m3 0h2m3 0h1m2 0h14m2 0h1m6 0h5m2 0h7m1 0h14m8 0h9m3 0h4m5 0h4m2 0h6m51 0h2m2 0h7m11 0h1M308 684h2m71 0h6m12 0h6m23 0h5m38 0h1m2 0h2m8 0h1m3 0h1m8 0h6M13 708h3m15 0h4m33 0h2m16 0h2m16 0h8m58 0h3m69 0h2m3 0h3m9 0h3m4 0h5m4 0h2m9 0h6m2 0h2m9 0h3m4 0h2m4 0h5m1 0h1m1 0h5m2 0h1m2 0h1m8 0h11m2 0h8m3 0h12m6 0h5m4 0h3m6 0h4m1 0h5m2 0h8m8 0h2m2 0h12m5 0h7m1 0h2m1 0h6m1 0h2m2 0h2m7 0h3m1 0h6m1 0h1m6 0h4m1 0h2M244 732h3m23 0h1m15 0h1m9 0h7m4 0h1m5 0h1m4 0h2m1 0h2m1 0h2m2 0h1m2 0h3m2 0h1m8 0h10m3 0h6m1 0h1m3 0h12m6 0h5m4 0h3m6 0h4m1 0h5m2 0h8m8 0h2m2 0h12m5 0h7m1 0h2m1 0h6m1 0h2m2 0h2m7 0h3m1 0h6m1 0h1m6 0h4m1 0h2M13 756h3m7 0h3m5 0h4m15 0h21m13 0h4m16 0h10m22 0h4m16 0h5m11 0h1m9 0h2m9 0h9m4 0h1m6 0h14m1 0h10m2 0h2m38 0h1"/>
<path stroke="#fe0000" d="M13 660h3m15 0h4m25 0h2m5 0h3m16 0h2m16 0h9m57 0h3m45 0h2m7 0h1m14 0h2m3 0h3m9 0h3m4 0h5m4 0h2m6 0h13m7 0h5m4 0h13m1 0h5m5 0h2m7 0h5m3 0h1m1 0h1m1 0h4m2 0h6m5 0h3m3 0h1m11 0h7m10 0h8m2 0h3m2 0h4m5 0h4m4 0h1m5 0h7m7 0h1m2 0h1m13 0h2m2 0h2m11 0h1M244 708h3m49 0h7m5 0h4m13 0h1m5 0h2m48 0h6m12 0h6m23 0h5m38 0h1m2 0h2m8 0h1m3 0h1m8 0h6M308 732h4m69 0h6m12 0h6m23 0h5m38 0h1m2 0h2m8 0h1m3 0h1m8 0h6M170 756h2m55 0h1m10 0h2m10 0h19m2 0h9m1 0h5m1 0h7m9 0h3m8 0h4m5 0h1m5 0h2m3 0h2m1 0h8m11 0h1m38 0h1m13 0h1m5 0h2m8 0h1m24 0h3m42 0h1"/>
<path stroke="#ff0900" d="M0 636h5m119 0h1m25 0h5m53 0h4M244 660h3m49 0h7m5 0h4m13 0h1m5 0h3m16 0h3m1 0h1m6 0h2m6 0h5m3 0h3m5 0h7m7 0h10m8 0h2m3 0h2m8 0h1m4 0h4m1 0h5m7 0h7m1 0h2m1 0h6m1 0h2m2 0h2m2 0h2m7 0h6m1 0h1m6 0h2m1 0h4M242 756h8m19 0h2m15 0h1m7 0h2m4 0h3m3 0h2m4 0h2m4 0h5m1 0h1m1 0h3m4 0h1m2 0h1m8 0h11m1 0h24m6 0h8m1 0h3m6 0h2m1 0h1m1 0h5m2 0h8m1 0h2m5 0h17m3 0h5m1 0h12m1 0h2m2 0h8m5 0h6m1 0h1m6 0h2m1 0h4"/>
<path stroke="#ff1500" d="M5 636h1m1 0h1m2 0h2m4 0h4m8 0h2m5 0h10m3 0h2m22 0h1m9 0h2m5 0h9m16 0h2m1 0h3m3 0h1m1 0h6m9 0h10m5 0h1m5 0h9m3 0h9m2 0h8m10 0h4m1 0h1m4 0h4m14 0h1m2 0h3m4 0h1m39 0h1m57 0h1M381 660h4m43 0h4m39 0h1m2 0h2m8 0h5m8 0h6m2 0h1M296 756h4m8 0h4m13 0h1m5 0h2m48 0h6m12 0h6m2 0h1m20 0h5m25 0h1m12 0h1m2 0h2m8 0h5m8 0h6m2 0h1"/>
<path stroke="#ff2100" d="M150 588h3m55 0h2M6 636h1m1 0h2m2 0h1m1 0h2m4 0h8m2 0h5m10 0h3m2 0h22m1 0h9m2 0h5m9 0h6m5 0h5m2 0h1m3 0h3m8 0h9m16 0h5m21 0h2m8 0h10m4 0h1m9 0h14m1 0h2m3 0h4m1 0h1m8 0h16m5 0h9m1 0h5m1 0h7m9 0h3m8 0h4m5 0h1m5 0h2m3 0h2m1 0h1m1 0h6m10 0h4m5 0h5m23 0h4m19 0h2m8 0h1m24 0h3m42 0h1"/>
<path stroke="#ff2d00" d="M0 588h5m11 0h4m15 0h9m28 0h1m9 0h2m6 0h8m16 0h2m7 0h8m9 0h7m2 0h1m3 0h3m5 0h9m3 0h4m1 0h4m2 0h8m15 0h1m2 0h2M13 636h1m90 0h5m61 0h3m69 0h8m16 0h5m15 0h1m7 0h2m4 0h3m3 0h2m4 0h2m4 0h5m1 0h5m4 0h1m2 0h1m8 0h10m4 0h5m5 0h12m6 0h5m4 0h3m6 0h2m1 0h7m2 0h8m1 0h2m5 0h11m1 0h5m3 0h3m1 0h1m1 0h11m6 0h8m5 0h6m8 0h2m1 0h4"/>
<path stroke="#ff3900" d="M5 588h8m7 0h13m11 0h28m1 0h9m2 0h6m8 0h6m8 0h2m2 0h7m8 0h9m7 0h2m7 0h5m16 0h1m4 0h2m8 0h15m5 0h5m3 0h2m8 0h1m2 0h3m4 0h1M0 612h5m12 0h3m104 0h1m25 0h5m11 0h1m22 0h1m18 0h4M296 636h4m8 0h4m19 0h2m48 0h6m12 0h6m2 0h1m20 0h5m11 0h1m11 0h1m1 0h1m11 0h6m8 0h5m7 0h7m2 0h1"/>
<path stroke="#ff4500" d="M13 588h3m17 0h2m69 0h8m58 0h3m44 0h3m2 0h8m1 0h2m3 0h4m1 0h1m8 0h9m3 0h4m5 0h4m2 0h6M5 612h1m1 0h5m4 0h1m11 0h2m5 0h10m2 0h3m21 0h13m5 0h15m10 0h2m1 0h7m1 0h11m4 0h10m5 0h1m5 0h5m1 0h3m3 0h9m2 0h5m1 0h3m9 0h4m1 0h1m4 0h5m13 0h1m2 0h3m4 0h1"/>
<path stroke="#ff5100" d="M242 588h8m9 0h3m4 0h5m4 0h2m6 0h13m7 0h4m7 0h4m5 0h1m10 0h2m1 0h8m11 0h1M6 612h1m5 0h4m4 0h8m2 0h5m10 0h2m3 0h21m13 0h5m15 0h10m2 0h1m19 0h4m16 0h5m11 0h1m9 0h2m9 0h9m4 0h1m10 0h13m1 0h2m3 0h4m1 0h1m8 0h16m5 0h15m6 0h2m9 0h2m11 0h1m17 0h2m2 0h7m11 0h1"/>
<path stroke="#ff5d00" d="M296 588h7m4 0h1m4 0h2m4 0h5m1 0h1m1 0h5m2 0h1m2 0h1m8 0h5m3 0h3m1 0h4m2 0h6m23 0h5m12 0h1m5 0h2m33 0h3M170 612h2m70 0h8m16 0h5m15 0h6m2 0h2m9 0h3m4 0h4m1 0h8m1 0h5m5 0h2m7 0h5m3 0h1m1 0h1m1 0h4m2 0h6m23 0h5m12 0h1m2 0h2m1 0h2m2 0h3m3 0h3m22 0h3m42 0h1"/>
<path stroke="#ff6900" d="M308 588h4m13 0h1m5 0h2m17 0h3m8 0h2m6 0h12m6 0h5m5 0h2m6 0h4m1 0h5m2 0h11m5 0h10m4 0h3m3 0h3m4 0h2m2 0h3m11 0h6m11 0h1M296 612h7m5 0h4m13 0h1m5 0h3m16 0h3m1 0h1m6 0h2m6 0h12m4 0h7m5 0h12m1 0h2m2 0h1m2 0h2m3 0h3m8 0h17m3 0h5m1 0h12m5 0h8m5 0h6m8 0h2m1 0h4"/>
<path stroke="#ff7500" d="M0 564h5m11 0h4m16 0h4m50 0h2m32 0h5m20 0h6m8 0h4m12 0h3m2 0h3m2 0h1m17 0h5M381 588h6m12 0h6m23 0h5m10 0h4m9 0h4m2 0h2m3 0h4m1 0h3m1 0h2m7 0h1m3 0h6m1 0h1m6 0h2m1 0h4M381 612h4m43 0h5m25 0h1m12 0h5m8 0h5m7 0h7m2 0h1"/>
<path stroke="#ff8100" d="M5 564h8m7 0h3m3 0h5m4 0h1m4 0h10m1 0h3m1 0h2m7 0h2m4 0h16m2 0h2m2 0h12m9 0h11m5 0h8m3 0h9m6 0h3m3 0h2m4 0h3m3 0h6m3 0h2m3 0h2m1 0h5m7 0h5m5 0h5m13 0h1m2 0h3m4 0h1M471 588h1m3 0h1m8 0h1m1 0h3m8 0h6m2 0h1"/>
<path stroke="#ff8d00" d="M13 564h3m7 0h3m5 0h4m15 0h1m3 0h1m2 0h7m2 0h4m16 0h2m16 0h9m24 0h3m18 0h3m9 0h3m22 0h7m15 0h13m1 0h2m3 0h4m1 0h1m8 0h9m3 0h4m5 0h4m2 0h6m55 0h2m4 0h1m11 0h1"/>
<path stroke="#f90" d="M0 540h5m12 0h3m104 0h1m25 0h5m11 0h1m22 0h1m18 0h2m1 0h1M242 564h8m9 0h3m4 0h5m4 0h2m6 0h13m7 0h5m4 0h13m1 0h5m3 0h4m2 0h4m1 0h5m3 0h1m1 0h1m1 0h4m2 0h6m23 0h4m19 0h2m33 0h3"/>
<path stroke="#ff9d00" d="M5 540h1m1 0h1m2 0h2m4 0h1m11 0h2m5 0h10m2 0h3m21 0h2m2 0h3m1 0h5m5 0h9m2 0h3m11 0h2m1 0h3m3 0h1m1 0h7m8 0h10m5 0h1m5 0h5m1 0h3m3 0h9m2 0h5m1 0h2m10 0h4m1 0h1m2 0h1m1 0h1m17 0h1M296 564h7m5 0h4m13 0h1m5 0h3m16 0h3m1 0h1m6 0h2m6 0h12m6 0h5m4 0h3m6 0h2m1 0h7m2 0h11m5 0h6m2 0h1m5 0h3m3 0h3m4 0h2m2 0h3m11 0h6m7 0h3m1 0h1m11 0h1"/>
<path stroke="#ffa100" d="M6 540h1m1 0h2m2 0h4m4 0h8m2 0h5m10 0h2m3 0h21m2 0h2m3 0h1m5 0h5m9 0h2m3 0h11m2 0h1m3 0h3m9 0h8m16 0h5m21 0h2m8 0h10m4 0h1m6 0h17m1 0h11m8 0h9m3 0h4m5 0h4m2 0h6m55 0h1m5 0h1m11 0h1M381 564h6m12 0h6m2 0h1m20 0h2m2 0h1m6 0h2m1 0h5m9 0h4m2 0h2m3 0h4m1 0h3m1 0h2m7 0h3m1 0h2m3 0h1m1 0h1m6 0h4m1 0h2"/>
<path stroke="#ffa500" d="M0 516h5m12 0h3m16 0h4m84 0h1m25 0h5m11 0h1m22 0h1m18 0h2M170 540h3m69 0h2m3 0h3m9 0h3m4 0h5m4 0h2m6 0h13m7 0h5m4 0h13m1 0h5m3 0h4m1 0h5m1 0h5m3 0h1m1 0h1m1 0h4m2 0h6m23 0h5m12 0h1m5 0h2m8 0h3m22 0h3M430 564h2m39 0h1m3 0h1m8 0h1m3 0h1m8 0h6"/>
<path stroke="#ffa900" d="M5 516h8m3 0h1m3 0h3m5 0h2m5 0h1m4 0h5m2 0h3m21 0h2m2 0h3m1 0h5m5 0h9m2 0h3m11 0h2m1 0h3m3 0h1m1 0h7m8 0h10m5 0h1m5 0h5m1 0h3m3 0h9m2 0h5m1 0h2m12 0h2m1 0h1m2 0h3M244 540h3m49 0h7m7 0h2m13 0h1m5 0h3m16 0h3m1 0h1m6 0h2m6 0h12m6 0h5m5 0h3m5 0h4m1 0h5m2 0h8m8 0h17m3 0h3m1 0h1m1 0h11m6 0h8m5 0h7m10 0h3"/>
<path stroke="#ffad00" d="M13 516h3m7 0h5m2 0h5m10 0h2m3 0h21m2 0h2m3 0h1m5 0h5m9 0h2m3 0h11m2 0h1m3 0h3m9 0h8m16 0h5m21 0h2m8 0h12m2 0h1m6 0h5m2 0h5m4 0h2m2 0h5m2 0h2M308 540h2m71 0h6m13 0h5m23 0h5m23 0h1m1 0h1m11 0h6m8 0h5m7 0h10m3 0h1"/>
<path stroke="#ffb100" d="M170 516h3m45 0h2m5 0h4m2 0h2m5 0h2m10 0h16m5 0h4m2 0h9m52 0h1m5 0h1"/>
<path stroke="#ffb500" d="M242 516h8m16 0h5m4 0h2m9 0h10m7 0h5m4 0h13m1 0h5m3 0h4m1 0h5m3 0h3m5 0h6m3 0h5m26 0h1m19 0h2m33 0h3"/>
<path stroke="#ffb900" d="M296 516h7m5 0h4m13 0h1m5 0h3m11 0h2m3 0h5m6 0h3m5 0h12m6 0h8m1 0h3m6 0h2m1 0h7m2 0h11m5 0h11m1 0h5m3 0h3m3 0h11m6 0h8m5 0h7m7 0h2m1 0h4"/>
<path stroke="#ffbd00" d="M381 516h6m12 0h6m2 0h1m20 0h5m11 0h1m11 0h3m11 0h6m8 0h5m7 0h7m2 0h1"/>
<path stroke="#ffc500" d="M3 492h2m119 0h1m25 0h5m53 0h4"/>
<path stroke="#ffc900" d="M0 492h3m2 0h1m1 0h1m8 0h4m8 0h2m5 0h10m27 0h1m9 0h2m5 0h9m16 0h2m1 0h3m3 0h1m1 0h6m9 0h10m5 0h1m5 0h9m3 0h9m2 0h8m10 0h4m1 0h1m4 0h5m13 0h1m2 0h5m2 0h2m38 0h1m57 0h1"/>
<path stroke="#ffcd00" d="M6 492h1m1 0h5m1 0h2m4 0h8m2 0h5m10 0h27m1 0h9m2 0h5m9 0h6m5 0h5m2 0h1m3 0h3m8 0h9m16 0h5m21 0h2m8 0h10m4 0h1m10 0h13m1 0h2m5 0h2m10 0h19m2 0h9m1 0h5m1 0h8m8 0h4m7 0h4m5 0h1m5 0h2m3 0h2m1 0h1m1 0h6m10 0h3m6 0h5m26 0h1m19 0h2m33 0h3m42 0h1"/>
<path stroke="#fdcf00" d="M208 292h2M13 492h1m90 0h5m61 0h3m69 0h8m19 0h2m15 0h1m8 0h1m1 0h1m2 0h3m4 0h1m4 0h2m4 0h5m1 0h5m4 0h1m2 0h1m8 0h10m3 0h6m5 0h12m6 0h8m1 0h3m6 0h2m1 0h7m2 0h11m5 0h11m1 0h5m3 0h3m3 0h11m6 0h8m5 0h6m8 0h2m1 0h4"/>
<path stroke="#fcd200" d="M0 292h6m10 0h4m15 0h5m2 0h2m46 0h6m1 0h1m25 0h8m9 0h7m2 0h7m5 0h9m3 0h3m2 0h4m2 0h8m15 0h1m2 0h2M296 492h1m1 0h2m8 0h4m19 0h2m48 0h6m12 0h6m2 0h1m20 0h5m11 0h1m11 0h3m11 0h6m8 0h5m7 0h7m2 0h1"/>
<path stroke="#fbd500" d="M6 292h7m7 0h13m7 0h2m2 0h43m1 0h2m6 0h1m1 0h6m8 0h11m8 0h9m7 0h2m7 0h5m15 0h2m4 0h2m8 0h15m5 0h5m3 0h2m8 0h1m2 0h5m2 0h1"/>
<path stroke="#f9d700" d="M13 292h3m17 0h2m52 0h1m16 0h8m58 0h3m44 0h3m2 0h8m1 0h2m5 0h2m1 0h1m8 0h16m5 0h4m2 0h6m55 0h1m5 0h1"/>
<path stroke="#f8da00" d="M242 292h8m16 0h5m4 0h2m6 0h13m7 0h5m4 0h13m1 0h5m3 0h2m1 0h1m1 0h5m3 0h1m7 0h3m6 0h1m1 0h3m46 0h2m33 0h3"/>
<path stroke="#f7dd00" d="M296 292h7m7 0h2m13 0h1m5 0h3m2 0h1m8 0h2m1 0h7m3 0h6m1 0h1m3 0h12m6 0h12m6 0h2m1 0h7m2 0h11m5 0h10m4 0h3m3 0h3m3 0h11m6 0h8m5 0h7m10 0h4"/>
<path stroke="#f5df00" d="M308 292h2m71 0h6m12 0h6m2 0h1m20 0h2m2 0h1m10 0h4m9 0h3m11 0h6m8 0h5m7 0h10"/>
<path stroke="#f4e200" d="M430 292h2"/>
</g>
<path fill="#bfff00" d="M1207.72 757.5h10.99v1h-10.99zM1376.19 757.5h25.64v1h-25.64zM1423.81 757.5h18.31v1h-18.31zM1566.64 757.5h7.33v1h-7.33zM1643.56 757.5h14.65v1h-14.65zM1918.24 757.5h10.99v1h-10.99z"/>
<path fill="#ffb400" d="M1218.71 757.5h14.65v1h-14.65zM1240.68 757.5h18.31v1h-18.31zM1302.94 757.5h14.65v1h-14.65zM1343.23 757.5h7.33v1h-7.33zM1475.08 757.5h18.31v1h-18.31zM1691.17 757.5h14.65v1h-14.65zM1947.54 757.5h1.46v1h-1.46z"/>
<path fill="#f0f000" d="M1233.36 757.5h3.66v1h-3.66zM1299.28 757.5h3.66v1h-3.66zM1372.53 757.5h3.66v1h-3.66zM1412.82 757.5h7.33v1h-7.33zM1511.71 757.5h14.65v1h-14.65zM1639.89 757.5h3.66v1h-3.66zM1727.79 757.5h25.64v1h-25.64z"/>
<path fill="#ffd200" d="M1237.02 757.5h3.66v1h-3.66zM1526.36 757.5h14.65v1h-14.65zM1658.21 757.5h25.64v1h-25.64zM1753.43 757.5h18.31v1h-18.31zM1771.74 757.5h10.99v1h-10.99zM1892.61 757.5h21.98v1h-21.98z"/>
<path fill="#00c800" d="M1258.99 757.5h18.31v1h-18.31zM1295.62 757.5h3.66v1h-3.66zM1368.87 757.5h3.66v1h-3.66zM1442.12 757.5h3.66v1h-3.66zM1493.39 757.5h18.31v1h-18.31zM1573.97 757.5h21.98v1h-21.98z"/>
<path fill="#e60000" d="M1277.31 757.5h3.66v1h-3.66zM1317.59 757.5h25.64v1h-25.64zM1445.78 757.5h10.99v1h-10.99zM1456.77 757.5h18.31v1h-18.31zM1628.91 757.5h10.99v1h-10.99zM1705.82 757.5h21.98v1h-21.98zM1819.36 757.5h3.66v1h-3.66zM1834.01 757.5h21.98v1h-21.98zM1929.23 757.5h18.31v1h-18.31z"/>
<path fill="#ff5a00" d="M1280.97 757.5h14.65v1h-14.65zM1350.56 757.5h18.31v1h-18.31zM1401.83 757.5h10.99v1h-10.99zM1881.62 757.5h10.99v1h-10.99z"/>
<path fill="#d0d0d0" d="M1420.14 757.5h3.66v1h-3.66zM1555.66 757.5h10.99v1h-10.99zM1595.94 757.5h3.66v1h-3.66zM1855.98 757.5h3.66v1h-3.66z"/>
<path fill="#e8e8e8" d="M1541.01 757.5h14.65v1h-14.65zM1599.61 757.5h18.31v1h-18.31zM1617.92 757.5h10.99v1h-10.99zM1683.84 757.5h7.33v1h-7.33zM1782.73 757.5h18.31v1h-18.31zM1801.04 757.5h18.31v1h-18.31zM1823.02 757.5h10.99v1h-10.99zM1859.64 757.5h21.98v1h-21.98zM1914.58 757.5h3.66v1h-3.66z"/>
<rect x="301" y="30.5" width="6.8" height="728" fill="#fff"/>
<rect x="521" y="30.5" width="6.9" height="728" fill="#fff"/>
<rect x="961" y="30.5" width="5.9" height="728" fill="#fff"/>
<rect x="1179.8" y="30.5" width="7.1" height="728" fill="#fff"/>
<rect x="1399.8" y="30.5" width="6.1" height="728" fill="#fff"/>
<rect x="1838.8" y="30.5" width="7.1" height="728" fill="#fff"/>
<rect x="1949" y="30.5" width="8" height="728" fill="#fff"/>
</g>
<g>
<rect x="81.5" y="30.5" width="2637" height="728" fill="none" stroke="#000" stroke-opacity="0.55" stroke-width="0.8"/>
<path d="M81.5 685.5H2718.5M81.5 612.5H2718.5M81.5 540.5H2718.5M81.5 467.5H2718.5M81.5 394.5H2718.5M81.5 321.5H2718.5M81.5 248.5H2718.5M81.5 176.5H2718.5M81.5 103.5H2718.5M81.5 30.5H2718.5M81.5 758.5V30.5M301.5 758.5V30.5M521.5 758.5V30.5M740.5 758.5V30.5M960.5 758.5V30.5M1180.5 758.5V30.5M1400.5 758.5V30.5M1619.5 758.5V30.5M1839.5 758.5V30.5M2059.5 758.5V30.5M2279.5 758.5V30.5M2498.5 758.5V30.5" fill="none" stroke="#000" stroke-width="1.25" stroke-dasharray="5 2.36"/>
<path d="M81.5 758.5H2718.5M2718.5 758.5V30.5" fill="none" stroke="#000" stroke-opacity="0.3" stroke-width="1" stroke-dasharray="5 2.36"/>
<path d="M81.5 758.5h-2.6M81.5 685.7h-2.6M81.5 612.9h-2.6M81.5 540.1h-2.6M81.5 467.3h-2.6M81.5 394.5h-2.6M81.5 321.7h-2.6M81.5 248.9h-2.6M81.5 176.1h-2.6M81.5 103.3h-2.6M81.5 30.5h-2.6M81.5 758.5v2.6M301.25 758.5v2.6M521 758.5v2.6M740.75 758.5v2.6M960.5 758.5v2.6M1180.25 758.5v2.6M1400 758.5v2.6M1619.75 758.5v2.6M1839.5 758.5v2.6M2059.25 758.5v2.6M2279 758.5v2.6M2498.75 758.5v2.6M2718.5 758.5v2.6" fill="none" stroke="#000" stroke-width="0.8"/>
<path d="M435.5 758.5V30.5" fill="none" stroke="#000" stroke-width="4.86" stroke-dasharray="17.98 7.78"/>
<path d="M2202.6 758.5V30.5" fill="none" stroke="#000" stroke-width="4.86" stroke-dasharray="17.98 7.78"/>
</g>
<g shape-rendering="crispEdges">
<rect x="2882.2" y="755.66" width="37.5" height="3.14" fill="#ccc"/>
<rect x="2882.2" y="752.81" width="37.5" height="3.14" fill="#ccbcbc"/>
<rect x="2882.2" y="749.97" width="37.5" height="3.14" fill="#ccacac"/>
<rect x="2882.2" y="747.12" width="37.5" height="3.14" fill="#cc9c9c"/>
<rect x="2882.2" y="744.28" width="37.5" height="3.14" fill="#cc8c8c"/>
<rect x="2882.2" y="741.44" width="37.5" height="3.14" fill="#cc7c7c"/>
<rect x="2882.2" y="738.59" width="37.5" height="3.14" fill="#cc6c6c"/>
<rect x="2882.2" y="735.75" width="37.5" height="3.14" fill="#cc5c5c"/>
<rect x="2882.2" y="732.91" width="37.5" height="3.14" fill="#cc4c4c"/>
<rect x="2882.2" y="730.06" width="37.5" height="3.14" fill="#cc3c3c"/>
<rect x="2882.2" y="727.22" width="37.5" height="3.14" fill="#cc2c2c"/>
<rect x="2882.2" y="724.38" width="37.5" height="3.14" fill="#cc1c1c"/>
<rect x="2882.2" y="721.53" width="37.5" height="3.14" fill="#cc0c0c"/>
<rect x="2882.2" y="718.69" width="37.5" height="3.14" fill="#c00"/>
<rect x="2882.2" y="715.84" width="37.5" height="3.14" fill="#ce0000"/>
<rect x="2882.2" y="713" width="37.5" height="3.14" fill="#cf0000"/>
<rect x="2882.2" y="710.16" width="37.5" height="3.14" fill="#d00000"/>
<rect x="2882.2" y="707.31" width="37.5" height="3.14" fill="#d20000"/>
<rect x="2882.2" y="704.47" width="37.5" height="3.14" fill="#d30000"/>
<rect x="2882.2" y="701.62" width="37.5" height="3.14" fill="#d40000"/>
<rect x="2882.2" y="698.78" width="37.5" height="3.14" fill="#d60000"/>
<rect x="2882.2" y="695.94" width="37.5" height="3.14" fill="#d70000"/>
<rect x="2882.2" y="693.09" width="37.5" height="3.14" fill="#d80000"/>
<rect x="2882.2" y="690.25" width="37.5" height="3.14" fill="#da0000"/>
<rect x="2882.2" y="687.41" width="37.5" height="3.14" fill="#db0000"/>
<rect x="2882.2" y="684.56" width="37.5" height="3.14" fill="#dc0000"/>
<rect x="2882.2" y="681.72" width="37.5" height="3.14" fill="#de0000"/>
<rect x="2882.2" y="678.88" width="37.5" height="3.14" fill="#e10000"/>
<rect x="2882.2" y="676.03" width="37.5" height="3.14" fill="#e40000"/>
<rect x="2882.2" y="673.19" width="37.5" height="3.14" fill="#e60000"/>
<rect x="2882.2" y="670.34" width="37.5" height="3.14" fill="#e90000"/>
<rect x="2882.2" y="667.5" width="37.5" height="3.14" fill="#ec0000"/>
<rect x="2882.2" y="664.66" width="37.5" height="3.14" fill="#e00"/>
<rect x="2882.2" y="661.81" width="37.5" height="3.14" fill="#f10000"/>
<rect x="2882.2" y="658.97" width="37.5" height="3.14" fill="#f40000"/>
<rect x="2882.2" y="656.12" width="37.5" height="3.14" fill="#f60000"/>
<rect x="2882.2" y="653.28" width="37.5" height="3.14" fill="#f90000"/>
<rect x="2882.2" y="650.44" width="37.5" height="3.14" fill="#fc0000"/>
<rect x="2882.2" y="647.59" width="37.5" height="3.14" fill="#fe0000"/>
<rect x="2882.2" y="644.75" width="37.5" height="3.14" fill="#ff0900"/>
<rect x="2882.2" y="641.91" width="37.5" height="3.14" fill="#ff1500"/>
<rect x="2882.2" y="639.06" width="37.5" height="3.14" fill="#ff2100"/>
<rect x="2882.2" y="636.22" width="37.5" height="3.14" fill="#ff2d00"/>
<rect x="2882.2" y="633.38" width="37.5" height="3.14" fill="#ff3900"/>
<rect x="2882.2" y="630.53" width="37.5" height="3.14" fill="#ff4500"/>
<rect x="2882.2" y="627.69" width="37.5" height="3.14" fill="#ff5100"/>
<rect x="2882.2" y="624.84" width="37.5" height="3.14" fill="#ff5d00"/>
<rect x="2882.2" y="622" width="37.5" height="3.14" fill="#ff6900"/>
<rect x="2882.2" y="619.16" width="37.5" height="3.14" fill="#ff7500"/>
<rect x="2882.2" y="616.31" width="37.5" height="3.14" fill="#ff8100"/>
<rect x="2882.2" y="613.47" width="37.5" height="3.14" fill="#ff8d00"/>
<rect x="2882.2" y="610.62" width="37.5" height="3.14" fill="#f90"/>
<rect x="2882.2" y="607.78" width="37.5" height="3.14" fill="#ff9d00"/>
<rect x="2882.2" y="604.94" width="37.5" height="3.14" fill="#ffa100"/>
<rect x="2882.2" y="602.09" width="37.5" height="3.14" fill="#ffa500"/>
<rect x="2882.2" y="599.25" width="37.5" height="3.14" fill="#ffa900"/>
<rect x="2882.2" y="596.41" width="37.5" height="3.14" fill="#ffad00"/>
<rect x="2882.2" y="593.56" width="37.5" height="3.14" fill="#ffb100"/>
<rect x="2882.2" y="590.72" width="37.5" height="3.14" fill="#ffb500"/>
<rect x="2882.2" y="587.88" width="37.5" height="3.14" fill="#ffb900"/>
<rect x="2882.2" y="585.03" width="37.5" height="3.14" fill="#ffbd00"/>
<rect x="2882.2" y="582.19" width="37.5" height="3.14" fill="#ffc100"/>
<rect x="2882.2" y="579.34" width="37.5" height="3.14" fill="#ffc500"/>
<rect x="2882.2" y="576.5" width="37.5" height="3.14" fill="#ffc900"/>
<rect x="2882.2" y="573.66" width="37.5" height="3.14" fill="#ffcd00"/>
<rect x="2882.2" y="570.81" width="37.5" height="3.14" fill="#fdcf00"/>
<rect x="2882.2" y="567.97" width="37.5" height="3.14" fill="#fcd200"/>
<rect x="2882.2" y="565.12" width="37.5" height="3.14" fill="#fbd500"/>
<rect x="2882.2" y="562.28" width="37.5" height="3.14" fill="#f9d700"/>
<rect x="2882.2" y="559.44" width="37.5" height="3.14" fill="#f8da00"/>
<rect x="2882.2" y="556.59" width="37.5" height="3.14" fill="#f7dd00"/>
<rect x="2882.2" y="553.75" width="37.5" height="3.14" fill="#f5df00"/>
<rect x="2882.2" y="550.91" width="37.5" height="3.14" fill="#f4e200"/>
<rect x="2882.2" y="548.06" width="37.5" height="3.14" fill="#f3e500"/>
<rect x="2882.2" y="545.22" width="37.5" height="3.14" fill="#f1e700"/>
<rect x="2882.2" y="542.38" width="37.5" height="3.14" fill="#f0ea00"/>
<rect x="2882.2" y="539.53" width="37.5" height="3.14" fill="#efed00"/>
<rect x="2882.2" y="536.69" width="37.5" height="3.14" fill="#ecef00"/>
<rect x="2882.2" y="533.84" width="37.5" height="3.14" fill="#e8f000"/>
<rect x="2882.2" y="531" width="37.5" height="3.14" fill="#e4f100"/>
<rect x="2882.2" y="528.16" width="37.5" height="3.14" fill="#e0f300"/>
<rect x="2882.2" y="525.31" width="37.5" height="3.14" fill="#dcf400"/>
<rect x="2882.2" y="522.47" width="37.5" height="3.14" fill="#d8f500"/>
<rect x="2882.2" y="519.62" width="37.5" height="3.14" fill="#d4f700"/>
<rect x="2882.2" y="516.78" width="37.5" height="3.14" fill="#d0f800"/>
<rect x="2882.2" y="513.94" width="37.5" height="3.14" fill="#ccf900"/>
<rect x="2882.2" y="511.09" width="37.5" height="3.14" fill="#c8fb00"/>
<rect x="2882.2" y="508.25" width="37.5" height="3.14" fill="#c4fc00"/>
<rect x="2882.2" y="505.41" width="37.5" height="3.14" fill="#c0fd00"/>
<rect x="2882.2" y="502.56" width="37.5" height="3.14" fill="#bcff00"/>
<rect x="2882.2" y="499.72" width="37.5" height="3.14" fill="#b0ff00"/>
<rect x="2882.2" y="496.88" width="37.5" height="3.14" fill="#a1ff00"/>
<rect x="2882.2" y="494.03" width="37.5" height="3.14" fill="#93ff00"/>
<rect x="2882.2" y="491.19" width="37.5" height="3.14" fill="#84ff00"/>
<rect x="2882.2" y="488.34" width="37.5" height="3.14" fill="#75ff00"/>
<rect x="2882.2" y="485.5" width="37.5" height="3.14" fill="#67ff00"/>
<rect x="2882.2" y="482.66" width="37.5" height="3.14" fill="#58ff00"/>
<rect x="2882.2" y="479.81" width="37.5" height="3.14" fill="#49ff00"/>
<rect x="2882.2" y="476.97" width="37.5" height="3.14" fill="#3bff00"/>
<rect x="2882.2" y="474.12" width="37.5" height="3.14" fill="#2cff00"/>
<rect x="2882.2" y="471.28" width="37.5" height="3.14" fill="#1dff00"/>
<rect x="2882.2" y="468.44" width="37.5" height="3.14" fill="#0fff00"/>
<rect x="2882.2" y="465.59" width="37.5" height="3.14" fill="#0f0"/>
<rect x="2882.2" y="462.75" width="37.5" height="3.14" fill="#00fc00"/>
<rect x="2882.2" y="459.91" width="37.5" height="3.14" fill="#00fa00"/>
<rect x="2882.2" y="457.06" width="37.5" height="3.14" fill="#00f700"/>
<rect x="2882.2" y="454.22" width="37.5" height="3.14" fill="#00f400"/>
<rect x="2882.2" y="451.38" width="37.5" height="3.14" fill="#00f200"/>
<rect x="2882.2" y="448.53" width="37.5" height="3.14" fill="#00ef00"/>
<rect x="2882.2" y="445.69" width="37.5" height="3.14" fill="#00ec00"/>
<rect x="2882.2" y="442.84" width="37.5" height="3.14" fill="#00ea00"/>
<rect x="2882.2" y="440" width="37.5" height="3.14" fill="#00e700"/>
<rect x="2882.2" y="437.16" width="37.5" height="3.14" fill="#00e400"/>
<rect x="2882.2" y="434.31" width="37.5" height="3.14" fill="#00e200"/>
<rect x="2882.2" y="431.47" width="37.5" height="3.14" fill="#00df00"/>
<rect x="2882.2" y="428.62" width="37.5" height="3.14" fill="#00dc00"/>
<rect x="2882.2" y="425.78" width="37.5" height="3.14" fill="#00da00"/>
<rect x="2882.2" y="422.94" width="37.5" height="3.14" fill="#00d700"/>
<rect x="2882.2" y="420.09" width="37.5" height="3.14" fill="#00d400"/>
<rect x="2882.2" y="417.25" width="37.5" height="3.14" fill="#00d200"/>
<rect x="2882.2" y="414.41" width="37.5" height="3.14" fill="#00cf00"/>
<rect x="2882.2" y="411.56" width="37.5" height="3.14" fill="#0c0"/>
<rect x="2882.2" y="408.72" width="37.5" height="3.14" fill="#00ca00"/>
<rect x="2882.2" y="405.88" width="37.5" height="3.14" fill="#00c700"/>
<rect x="2882.2" y="403.03" width="37.5" height="3.14" fill="#00c400"/>
<rect x="2882.2" y="400.19" width="37.5" height="3.14" fill="#00c200"/>
<rect x="2882.2" y="397.34" width="37.5" height="3.14" fill="#00bf00"/>
<rect x="2882.2" y="394.5" width="37.5" height="3.14" fill="#00bc00"/>
<rect x="2882.2" y="391.66" width="37.5" height="3.14" fill="#00ba00"/>
<rect x="2882.2" y="388.81" width="37.5" height="3.14" fill="#00b700"/>
<rect x="2882.2" y="385.97" width="37.5" height="3.14" fill="#00b400"/>
<rect x="2882.2" y="383.12" width="37.5" height="3.14" fill="#00b200"/>
<rect x="2882.2" y="380.28" width="37.5" height="3.14" fill="#00af00"/>
<rect x="2882.2" y="377.44" width="37.5" height="3.14" fill="#00ac00"/>
<rect x="2882.2" y="374.59" width="37.5" height="3.14" fill="#0a0"/>
<rect x="2882.2" y="371.75" width="37.5" height="3.14" fill="#00a700"/>
<rect x="2882.2" y="368.91" width="37.5" height="3.14" fill="#00a400"/>
<rect x="2882.2" y="366.06" width="37.5" height="3.14" fill="#00a200"/>
<rect x="2882.2" y="363.22" width="37.5" height="3.14" fill="#009f00"/>
<rect x="2882.2" y="360.38" width="37.5" height="3.14" fill="#009c00"/>
<rect x="2882.2" y="357.53" width="37.5" height="3.14" fill="#009a00"/>
<rect x="2882.2" y="354.69" width="37.5" height="3.14" fill="#009a08"/>
<rect x="2882.2" y="351.84" width="37.5" height="3.14" fill="#009b13"/>
<rect x="2882.2" y="349" width="37.5" height="3.14" fill="#009d1d"/>
<rect x="2882.2" y="346.16" width="37.5" height="3.14" fill="#009e28"/>
<rect x="2882.2" y="343.31" width="37.5" height="3.14" fill="#009f33"/>
<rect x="2882.2" y="340.47" width="37.5" height="3.14" fill="#00a13d"/>
<rect x="2882.2" y="337.62" width="37.5" height="3.14" fill="#00a248"/>
<rect x="2882.2" y="334.78" width="37.5" height="3.14" fill="#00a353"/>
<rect x="2882.2" y="331.94" width="37.5" height="3.14" fill="#00a55d"/>
<rect x="2882.2" y="329.09" width="37.5" height="3.14" fill="#00a668"/>
<rect x="2882.2" y="326.25" width="37.5" height="3.14" fill="#00a773"/>
<rect x="2882.2" y="323.41" width="37.5" height="3.14" fill="#00a97d"/>
<rect x="2882.2" y="320.56" width="37.5" height="3.14" fill="#0a8"/>
<rect x="2882.2" y="317.72" width="37.5" height="3.14" fill="#00aa8b"/>
<rect x="2882.2" y="314.88" width="37.5" height="3.14" fill="#00aa8d"/>
<rect x="2882.2" y="312.03" width="37.5" height="3.14" fill="#00aa90"/>
<rect x="2882.2" y="309.19" width="37.5" height="3.14" fill="#00aa93"/>
<rect x="2882.2" y="306.34" width="37.5" height="3.14" fill="#00aa95"/>
<rect x="2882.2" y="303.5" width="37.5" height="3.14" fill="#00aa98"/>
<rect x="2882.2" y="300.66" width="37.5" height="3.14" fill="#00aa9b"/>
<rect x="2882.2" y="297.81" width="37.5" height="3.14" fill="#00aa9d"/>
<rect x="2882.2" y="294.97" width="37.5" height="3.14" fill="#00aaa0"/>
<rect x="2882.2" y="292.12" width="37.5" height="3.14" fill="#00aaa3"/>
<rect x="2882.2" y="289.28" width="37.5" height="3.14" fill="#00aaa5"/>
<rect x="2882.2" y="286.44" width="37.5" height="3.14" fill="#00aaa8"/>
<rect x="2882.2" y="283.59" width="37.5" height="3.14" fill="#00aaab"/>
<rect x="2882.2" y="280.75" width="37.5" height="3.14" fill="#00a8af"/>
<rect x="2882.2" y="277.91" width="37.5" height="3.14" fill="#00a7b3"/>
<rect x="2882.2" y="275.06" width="37.5" height="3.14" fill="#00a6b7"/>
<rect x="2882.2" y="272.22" width="37.5" height="3.14" fill="#00a4bb"/>
<rect x="2882.2" y="269.38" width="37.5" height="3.14" fill="#00a3bf"/>
<rect x="2882.2" y="266.53" width="37.5" height="3.14" fill="#00a2c3"/>
<rect x="2882.2" y="263.69" width="37.5" height="3.14" fill="#00a0c7"/>
<rect x="2882.2" y="260.84" width="37.5" height="3.14" fill="#009fcb"/>
<rect x="2882.2" y="258" width="37.5" height="3.14" fill="#009ecf"/>
<rect x="2882.2" y="255.16" width="37.5" height="3.14" fill="#009cd3"/>
<rect x="2882.2" y="252.31" width="37.5" height="3.14" fill="#009bd7"/>
<rect x="2882.2" y="249.47" width="37.5" height="3.14" fill="#009adb"/>
<rect x="2882.2" y="246.62" width="37.5" height="3.14" fill="#0098dd"/>
<rect x="2882.2" y="243.78" width="37.5" height="3.14" fill="#0095dd"/>
<rect x="2882.2" y="240.94" width="37.5" height="3.14" fill="#0092dd"/>
<rect x="2882.2" y="238.09" width="37.5" height="3.14" fill="#0090dd"/>
<rect x="2882.2" y="235.25" width="37.5" height="3.14" fill="#008ddd"/>
<rect x="2882.2" y="232.41" width="37.5" height="3.14" fill="#008add"/>
<rect x="2882.2" y="229.56" width="37.5" height="3.14" fill="#08d"/>
<rect x="2882.2" y="226.72" width="37.5" height="3.14" fill="#0085dd"/>
<rect x="2882.2" y="223.88" width="37.5" height="3.14" fill="#0082dd"/>
<rect x="2882.2" y="221.03" width="37.5" height="3.14" fill="#0080dd"/>
<rect x="2882.2" y="218.19" width="37.5" height="3.14" fill="#007ddd"/>
<rect x="2882.2" y="215.34" width="37.5" height="3.14" fill="#007add"/>
<rect x="2882.2" y="212.5" width="37.5" height="3.14" fill="#0078dd"/>
<rect x="2882.2" y="209.66" width="37.5" height="3.14" fill="#0070dd"/>
<rect x="2882.2" y="206.81" width="37.5" height="3.14" fill="#0067dd"/>
<rect x="2882.2" y="203.97" width="37.5" height="3.14" fill="#005ddd"/>
<rect x="2882.2" y="201.12" width="37.5" height="3.14" fill="#0054dd"/>
<rect x="2882.2" y="198.28" width="37.5" height="3.14" fill="#004bdd"/>
<rect x="2882.2" y="195.44" width="37.5" height="3.14" fill="#0041dd"/>
<rect x="2882.2" y="192.59" width="37.5" height="3.14" fill="#0038dd"/>
<rect x="2882.2" y="189.75" width="37.5" height="3.14" fill="#002fdd"/>
<rect x="2882.2" y="186.91" width="37.5" height="3.14" fill="#0025dd"/>
<rect x="2882.2" y="184.06" width="37.5" height="3.14" fill="#001cdd"/>
<rect x="2882.2" y="181.22" width="37.5" height="3.14" fill="#0013dd"/>
<rect x="2882.2" y="178.38" width="37.5" height="3.14" fill="#0009dd"/>
<rect x="2882.2" y="175.53" width="37.5" height="3.14" fill="#00d"/>
<rect x="2882.2" y="172.69" width="37.5" height="3.14" fill="#0000d9"/>
<rect x="2882.2" y="169.84" width="37.5" height="3.14" fill="#0000d5"/>
<rect x="2882.2" y="167" width="37.5" height="3.14" fill="#0000d1"/>
<rect x="2882.2" y="164.16" width="37.5" height="3.14" fill="#0000cd"/>
<rect x="2882.2" y="161.31" width="37.5" height="3.14" fill="#0000c9"/>
<rect x="2882.2" y="158.47" width="37.5" height="3.14" fill="#0000c5"/>
<rect x="2882.2" y="155.62" width="37.5" height="3.14" fill="#0000c1"/>
<rect x="2882.2" y="152.78" width="37.5" height="3.14" fill="#0000bd"/>
<rect x="2882.2" y="149.94" width="37.5" height="3.14" fill="#0000b9"/>
<rect x="2882.2" y="147.09" width="37.5" height="3.14" fill="#0000b5"/>
<rect x="2882.2" y="144.25" width="37.5" height="3.14" fill="#0000b1"/>
<rect x="2882.2" y="141.41" width="37.5" height="3.14" fill="#0000ad"/>
<rect x="2882.2" y="138.56" width="37.5" height="3.14" fill="#0300aa"/>
<rect x="2882.2" y="135.72" width="37.5" height="3.14" fill="#0d00a8"/>
<rect x="2882.2" y="132.88" width="37.5" height="3.14" fill="#1800a7"/>
<rect x="2882.2" y="130.03" width="37.5" height="3.14" fill="#2300a6"/>
<rect x="2882.2" y="127.19" width="37.5" height="3.14" fill="#2d00a4"/>
<rect x="2882.2" y="124.34" width="37.5" height="3.14" fill="#3800a3"/>
<rect x="2882.2" y="121.5" width="37.5" height="3.14" fill="#4300a2"/>
<rect x="2882.2" y="118.66" width="37.5" height="3.14" fill="#4d00a0"/>
<rect x="2882.2" y="115.81" width="37.5" height="3.14" fill="#58009f"/>
<rect x="2882.2" y="112.97" width="37.5" height="3.14" fill="#63009e"/>
<rect x="2882.2" y="110.12" width="37.5" height="3.14" fill="#6d009c"/>
<rect x="2882.2" y="107.28" width="37.5" height="3.14" fill="#78009b"/>
<rect x="2882.2" y="104.44" width="37.5" height="3.14" fill="#83009a"/>
<rect x="2882.2" y="101.59" width="37.5" height="3.14" fill="#870098"/>
<rect x="2882.2" y="98.75" width="37.5" height="3.14" fill="#860097"/>
<rect x="2882.2" y="95.91" width="37.5" height="3.14" fill="#850096"/>
<rect x="2882.2" y="93.06" width="37.5" height="3.14" fill="#830094"/>
<rect x="2882.2" y="90.22" width="37.5" height="3.14" fill="#820093"/>
<rect x="2882.2" y="87.38" width="37.5" height="3.14" fill="#810092"/>
<rect x="2882.2" y="84.53" width="37.5" height="3.14" fill="#7f0090"/>
<rect x="2882.2" y="81.69" width="37.5" height="3.14" fill="#7e008f"/>
<rect x="2882.2" y="78.84" width="37.5" height="3.14" fill="#7d008e"/>
<rect x="2882.2" y="76" width="37.5" height="3.14" fill="#7b008c"/>
<rect x="2882.2" y="73.16" width="37.5" height="3.14" fill="#7a008b"/>
<rect x="2882.2" y="70.31" width="37.5" height="3.14" fill="#79008a"/>
<rect x="2882.2" y="67.47" width="37.5" height="3.14" fill="#708"/>
<rect x="2882.2" y="64.62" width="37.5" height="3.14" fill="#700080"/>
<rect x="2882.2" y="61.78" width="37.5" height="3.14" fill="#670075"/>
<rect x="2882.2" y="58.94" width="37.5" height="3.14" fill="#5d006b"/>
<rect x="2882.2" y="56.09" width="37.5" height="3.14" fill="#540060"/>
<rect x="2882.2" y="53.25" width="37.5" height="3.14" fill="#4b0055"/>
<rect x="2882.2" y="50.41" width="37.5" height="3.14" fill="#41004b"/>
<rect x="2882.2" y="47.56" width="37.5" height="3.14" fill="#380040"/>
<rect x="2882.2" y="44.72" width="37.5" height="3.14" fill="#2f0035"/>
<rect x="2882.2" y="41.88" width="37.5" height="3.14" fill="#25002b"/>
<rect x="2882.2" y="39.03" width="37.5" height="3.14" fill="#1c0020"/>
<rect x="2882.2" y="36.19" width="37.5" height="3.14" fill="#130015"/>
<rect x="2882.2" y="33.34" width="37.5" height="3.14" fill="#09000b"/>
<rect x="2882.2" y="30.5" width="37.5" height="3.14" fill="#000"/>
<rect x="2882.2" y="30.5" width="37.5" height="728" fill="none" stroke="#000" stroke-opacity="0.75" stroke-width="0.7"/>
<line x1="2919.7" x2="2922.5" y1="30.5" y2="30.5" stroke="#000" stroke-width="0.7"/>
<text x="2923.6" y="40.25">2</text>
<line x1="2919.7" x2="2922.5" y1="151.83" y2="151.83" stroke="#000" stroke-width="0.7"/>
<text x="2923.6" y="161.58">0</text>
<line x1="2919.7" x2="2922.5" y1="273.17" y2="273.17" stroke="#000" stroke-width="0.7"/>
<text x="2923.6" y="282.92">−2</text>
<line x1="2919.7" x2="2922.5" y1="394.5" y2="394.5" stroke="#000" stroke-width="0.7"/>
<text x="2923.6" y="404.25">−4</text>
<line x1="2919.7" x2="2922.5" y1="515.83" y2="515.83" stroke="#000" stroke-width="0.7"/>
<text x="2923.6" y="525.58">−6</text>
<line x1="2919.7" x2="2922.5" y1="637.17" y2="637.17" stroke="#000" stroke-width="0.7"/>
<text x="2923.6" y="646.92">−8</text>
<line x1="2919.7" x2="2922.5" y1="758.5" y2="758.5" stroke="#000" stroke-width="0.7"/>
<text x="2923.6" y="768.25">−10</text>
</g>
<g>
<text xml:space="preserve" x="1400" y="26.1" text-anchor="middle" textLength="1681.3">Meteorologisches Institut der Ludwig-Maximilians-Universität (München, Germany; 48.148 N / 11.573 E):    HatPro: 22-06-2023</text>
<text x="77.3" y="768.25" text-anchor="end">0</text>
<text x="77.3" y="695.45" text-anchor="end">1</text>
<text x="77.3" y="622.65" text-anchor="end">2</text>
<text x="77.3" y="549.85" text-anchor="end">3</text>
<text x="77.3" y="477.05" text-anchor="end">4</text>
<text x="77.3" y="404.25" text-anchor="end">5</text>
<text x="77.3" y="331.45" text-anchor="end">6</text>
<text x="77.3" y="258.65" text-anchor="end">7</text>
<text x="77.3" y="185.85" text-anchor="end">8</text>
<text x="77.3" y="113.05" text-anchor="end">9</text>
<text x="77.3" y="40.25" text-anchor="end">10</text>
<text x="94.1" y="782.9" text-anchor="middle">00</text>
<text x="300.75" y="782.9" text-anchor="middle">02</text>
<text x="520.5" y="782.9" text-anchor="middle">04</text>
<text x="740.25" y="782.9" text-anchor="middle">06</text>
<text x="960" y="782.9" text-anchor="middle">08</text>
<text x="1179.75" y="782.9" text-anchor="middle">10</text>
<text x="1399.5" y="782.9" text-anchor="middle">12</text>
<text x="1619.25" y="782.9" text-anchor="middle">14</text>
<text x="1839" y="782.9" text-anchor="middle">16</text>
<text x="2058.75" y="782.9" text-anchor="middle">18</text>
<text x="2278.5" y="782.9" text-anchor="middle">20</text>
<text x="2498.25" y="782.9" text-anchor="middle">22</text>
<text x="2718" y="782.9" text-anchor="middle">24</text>
<text x="435" y="801.8" text-anchor="middle">sunrise</text>
<text x="2201.6" y="801.8" text-anchor="middle">sunset</text>
<text x="1399.5" y="812" text-anchor="middle">Time [UTC]</text>
<text transform="translate(32.9 395.1) rotate(-90)" text-anchor="middle">Height above ground [km]</text>
<text transform="translate(3001 394.6) rotate(-90)" text-anchor="middle">Temperature Gradient in K/km</text>
</g>
</svg>
</body></html>
